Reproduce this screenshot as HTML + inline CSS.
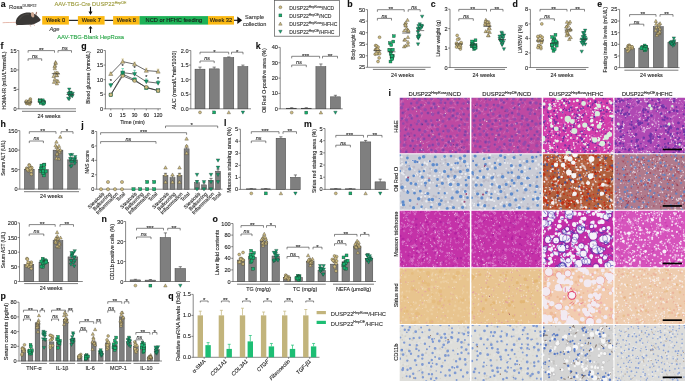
<!DOCTYPE html><html><head><meta charset="utf-8"><style>html,body{margin:0;padding:0;background:#fff;width:685px;height:384px;overflow:hidden}svg{display:block;will-change:transform}text{font-family:"Liberation Sans",sans-serif;stroke:currentColor;stroke-width:0.12px}</style></head><body><svg width="685" height="384" viewBox="0 0 685 384" font-family="Liberation Sans, sans-serif" fill="#262626" color="#262626"><text x="0.8" y="6.6" font-size="8.8" font-weight="bold" fill="#111" color="#111">a</text><text x="9" y="9.3" font-size="5.8" fill="#3a3a3a" color="#3a3a3a">Rosa<tspan dy="-2.2" font-size="3.6">DUSP22</tspan><tspan dy="2.2"></tspan></text><g><path d="M3 22.7 C7 22.3 11 22.7 16.5 22.3" stroke="#E0A898" stroke-width="0.8" fill="none" stroke-linecap="round"/><path d="M16.4 25 C15.2 22.5 15.8 18.5 18.5 16.2 C20.5 14.3 23.5 12.8 26.6 12.6 C28.5 12.5 30 12.6 31.2 13 C32.8 13.4 34.5 13.8 35.6 14.6 C37.6 16 39.6 18.2 40.7 19.8 C40.7 20.6 39.6 21.4 38.2 22 C36.6 23 35 23.9 33.6 24.3 C31.4 24.9 29 24.9 27.5 24.7 C24 24.9 20 25 16.4 25Z" fill="#3A3836"/><path d="M19 20 C21 16 25 14.2 29 14.5" stroke="#55524e" stroke-width="1.3" fill="none" opacity="0.5"/><ellipse cx="32.6" cy="14.7" rx="1.7" ry="2.8" fill="#CCA690" transform="rotate(-10 32.6 14.7)"/><ellipse cx="36.3" cy="13.4" rx="0.7" ry="1.6" fill="#A07870" transform="rotate(15 36.3 13.4)"/><path d="M16.6 24.6 l0.2 0.9 M30 25 l0.6 1.3 M33.6 24.2 l0.8 1.2" stroke="#C89888" stroke-width="0.7" stroke-linecap="round"/><circle cx="38.6" cy="19.5" r="0.45" fill="#6a2a22"/></g><rect x="42.2" y="16.1" width="26.7" height="8.5" fill="#FBB913"/><text x="55.55" y="22.4" font-size="5.7" text-anchor="middle" fill="#1a1a1a" color="#1a1a1a">Week 0</text><rect x="77.9" y="16.1" width="26.7" height="8.5" fill="#FBB913"/><text x="91.25" y="22.4" font-size="5.7" text-anchor="middle" fill="#1a1a1a" color="#1a1a1a">Week 7</text><rect x="113.1" y="16.1" width="26.6" height="8.5" fill="#FBB913"/><text x="126.4" y="22.4" font-size="5.7" text-anchor="middle" fill="#1a1a1a" color="#1a1a1a">Week 8</text><rect x="139.6" y="16.1" width="68.6" height="8.5" fill="#1DB257"/><text x="173.9" y="22.4" font-size="5.7" text-anchor="middle" fill="#1a1a1a" color="#1a1a1a">NCD or HFHC feeding</text><rect x="208" y="16.1" width="26" height="8.5" fill="#FBB913"/><text x="221" y="22.4" font-size="5.7" text-anchor="middle" fill="#1a1a1a" color="#1a1a1a">Week 32</text><path d="M68.9 20.35L77.9 20.35" stroke="#111" stroke-width="1.1" fill="none"/><path d="M104.6 20.35L113.1 20.35" stroke="#111" stroke-width="1.1" fill="none"/><path d="M234 20.3L238 20.3" stroke="#111" stroke-width="1.1" fill="none"/><path d="M237.3 16.6 L242.2 20.3 L237.3 24 Z" fill="#111"/><text x="254.6" y="19.2" font-size="5.6" text-anchor="middle" fill="#333" color="#333">Sample</text><text x="254.6" y="25.6" font-size="5.6" text-anchor="middle" fill="#333" color="#333">collection</text><path d="M90.5 6.8L90.5 12" stroke="#111" stroke-width="1.1" fill="none"/><path d="M88.5 11.4 L92.5 11.4 L90.5 14.9 Z" fill="#111"/><path d="M90.5 27.5L90.5 33" stroke="#111" stroke-width="1.1" fill="none"/><path d="M88.5 28.6 L92.5 28.6 L90.5 25.9 Z" fill="#111"/><text x="54.5" y="6" font-size="5.8" fill="#9C9A3C" color="#9C9A3C">AAV-TBG-Cre DUSP22<tspan dy="-2.2" font-size="3.6">HepOE</tspan><tspan dy="2.2"></tspan></text><text x="57.2" y="38.6" font-size="5.8" fill="#2EA84C" color="#2EA84C">AAV-TBG-Blank HepRosa</text><text x="49.5" y="31.2" font-size="5.6" fill="#333" color="#333" font-style="italic">Age</text><rect x="274.6" y="0.6" width="64.9" height="35.6" fill="none" stroke="#555" stroke-width="0.7"/><circle cx="280.4" cy="7.3" r="1.46" fill="#CDBB80" stroke="#3d3828" stroke-width="0.35"/><text x="289.2" y="9.7" font-size="5.05" fill="#333" color="#333">DUSP22<tspan dy="-1.92" font-size="3.13">HepRosa</tspan><tspan dy="1.92">/NCD</tspan></text><rect x="278.94" y="13.94" width="2.92" height="2.92" fill="#17AE6C" stroke="#1c3a2c" stroke-width="0.35"/><text x="289.2" y="17.8" font-size="5.05" fill="#333" color="#333">DUSP22<tspan dy="-1.92" font-size="3.13">HepOE</tspan><tspan dy="1.92">/NCD</tspan></text><path d="M280.4 22.07L282.13 25.18H278.67Z" fill="#CDBB80" stroke="#3d3828" stroke-width="0.35"/><text x="289.2" y="26.2" font-size="5.05" fill="#333" color="#333">DUSP22<tspan dy="-1.92" font-size="3.13">HepRosa</tspan><tspan dy="1.92">/HFHC</tspan></text><path d="M280.4 33.33L282.13 30.22H278.67Z" fill="#119E6E" stroke="#1c3a2c" stroke-width="0.35"/><text x="289.2" y="34" font-size="5.05" fill="#333" color="#333">DUSP22<tspan dy="-1.92" font-size="3.13">HepOE</tspan><tspan dy="1.92">/HFHC</tspan></text><text x="347.3" y="7" font-size="8.8" font-weight="bold" fill="#111" color="#111">b</text><path d="M367.5 9.6L367.5 67.3" stroke="#555" stroke-width="0.7" fill="none"/><path d="M365.7 67.3L367.5 67.3" stroke="#555" stroke-width="0.7" fill="none"/><text x="365.2" y="69.3" font-size="5.6" text-anchor="end">25</text><path d="M365.7 55.76L367.5 55.76" stroke="#555" stroke-width="0.7" fill="none"/><text x="365.2" y="57.76" font-size="5.6" text-anchor="end">30</text><path d="M365.7 44.22L367.5 44.22" stroke="#555" stroke-width="0.7" fill="none"/><text x="365.2" y="46.22" font-size="5.6" text-anchor="end">35</text><path d="M365.7 32.68L367.5 32.68" stroke="#555" stroke-width="0.7" fill="none"/><text x="365.2" y="34.68" font-size="5.6" text-anchor="end">40</text><path d="M365.7 21.14L367.5 21.14" stroke="#555" stroke-width="0.7" fill="none"/><text x="365.2" y="23.14" font-size="5.6" text-anchor="end">45</text><path d="M365.7 9.6L367.5 9.6" stroke="#555" stroke-width="0.7" fill="none"/><text x="365.2" y="11.6" font-size="5.6" text-anchor="end">50</text><path d="M367.5 67.3L430.7 67.3" stroke="#555" stroke-width="0.7" fill="none"/><text x="355.2" y="43.5" font-size="4.6" text-anchor="middle" transform="rotate(-90 355.2 43.5)">Body weight (g)</text><circle cx="378.01" cy="61.53" r="1.46" fill="#CDBB80" stroke="#3d3828" stroke-width="0.35"/><circle cx="379.55" cy="37.3" r="1.46" fill="#CDBB80" stroke="#3d3828" stroke-width="0.35"/><circle cx="377.77" cy="53.85" r="1.46" fill="#CDBB80" stroke="#3d3828" stroke-width="0.35"/><circle cx="376.9" cy="49.2" r="1.46" fill="#CDBB80" stroke="#3d3828" stroke-width="0.35"/><circle cx="379.69" cy="53.67" r="1.46" fill="#CDBB80" stroke="#3d3828" stroke-width="0.35"/><circle cx="375.22" cy="54.21" r="1.46" fill="#CDBB80" stroke="#3d3828" stroke-width="0.35"/><circle cx="379.12" cy="57.93" r="1.46" fill="#CDBB80" stroke="#3d3828" stroke-width="0.35"/><circle cx="376.39" cy="53.59" r="1.46" fill="#CDBB80" stroke="#3d3828" stroke-width="0.35"/><circle cx="375.69" cy="45.56" r="1.46" fill="#CDBB80" stroke="#3d3828" stroke-width="0.35"/><circle cx="375.57" cy="49.73" r="1.46" fill="#CDBB80" stroke="#3d3828" stroke-width="0.35"/><circle cx="376.48" cy="46.02" r="1.46" fill="#CDBB80" stroke="#3d3828" stroke-width="0.35"/><circle cx="378.92" cy="50.79" r="1.46" fill="#CDBB80" stroke="#3d3828" stroke-width="0.35"/><circle cx="375.87" cy="49.91" r="1.46" fill="#CDBB80" stroke="#3d3828" stroke-width="0.35"/><circle cx="377.79" cy="51.18" r="1.46" fill="#CDBB80" stroke="#3d3828" stroke-width="0.35"/><circle cx="378.07" cy="47.12" r="1.46" fill="#CDBB80" stroke="#3d3828" stroke-width="0.35"/><circle cx="376.79" cy="49.23" r="1.46" fill="#CDBB80" stroke="#3d3828" stroke-width="0.35"/><circle cx="377.63" cy="49.28" r="1.46" fill="#CDBB80" stroke="#3d3828" stroke-width="0.35"/><path d="M373.4 50.59L381.4 50.59" stroke="#333" stroke-width="0.6" fill="none"/><rect x="389.02" y="60.07" width="2.92" height="2.92" fill="#17AE6C" stroke="#1c3a2c" stroke-width="0.35"/><rect x="392.35" y="34.68" width="2.92" height="2.92" fill="#17AE6C" stroke="#1c3a2c" stroke-width="0.35"/><rect x="388.21" y="48.79" width="2.92" height="2.92" fill="#17AE6C" stroke="#1c3a2c" stroke-width="0.35"/><rect x="389.65" y="49.98" width="2.92" height="2.92" fill="#17AE6C" stroke="#1c3a2c" stroke-width="0.35"/><rect x="391.28" y="48.22" width="2.92" height="2.92" fill="#17AE6C" stroke="#1c3a2c" stroke-width="0.35"/><rect x="388.37" y="41.62" width="2.92" height="2.92" fill="#17AE6C" stroke="#1c3a2c" stroke-width="0.35"/><rect x="389.99" y="55.79" width="2.92" height="2.92" fill="#17AE6C" stroke="#1c3a2c" stroke-width="0.35"/><rect x="387.83" y="48.42" width="2.92" height="2.92" fill="#17AE6C" stroke="#1c3a2c" stroke-width="0.35"/><rect x="390.85" y="56.83" width="2.92" height="2.92" fill="#17AE6C" stroke="#1c3a2c" stroke-width="0.35"/><rect x="391.31" y="54.41" width="2.92" height="2.92" fill="#17AE6C" stroke="#1c3a2c" stroke-width="0.35"/><rect x="390.39" y="54.31" width="2.92" height="2.92" fill="#17AE6C" stroke="#1c3a2c" stroke-width="0.35"/><rect x="391.84" y="40.1" width="2.92" height="2.92" fill="#17AE6C" stroke="#1c3a2c" stroke-width="0.35"/><rect x="389.15" y="52.34" width="2.92" height="2.92" fill="#17AE6C" stroke="#1c3a2c" stroke-width="0.35"/><rect x="390.98" y="55.35" width="2.92" height="2.92" fill="#17AE6C" stroke="#1c3a2c" stroke-width="0.35"/><rect x="390.49" y="57.76" width="2.92" height="2.92" fill="#17AE6C" stroke="#1c3a2c" stroke-width="0.35"/><rect x="390.43" y="54.33" width="2.92" height="2.92" fill="#17AE6C" stroke="#1c3a2c" stroke-width="0.35"/><rect x="389.83" y="43.58" width="2.92" height="2.92" fill="#17AE6C" stroke="#1c3a2c" stroke-width="0.35"/><path d="M387.5 51.84L395.5 51.84" stroke="#333" stroke-width="0.6" fill="none"/><path d="M404.08 44.8L405.81 47.91H402.35Z" fill="#CDBB80" stroke="#3d3828" stroke-width="0.35"/><path d="M407.49 18.26L409.22 21.37H405.76Z" fill="#CDBB80" stroke="#3d3828" stroke-width="0.35"/><path d="M404.42 38.07L406.15 41.18H402.69Z" fill="#CDBB80" stroke="#3d3828" stroke-width="0.35"/><path d="M404.99 21.94L406.72 25.05H403.26Z" fill="#CDBB80" stroke="#3d3828" stroke-width="0.35"/><path d="M405.68 43.97L407.4 47.08H403.95Z" fill="#CDBB80" stroke="#3d3828" stroke-width="0.35"/><path d="M407.98 40.16L409.71 43.27H406.25Z" fill="#CDBB80" stroke="#3d3828" stroke-width="0.35"/><path d="M404.19 28.9L405.91 32.01H402.46Z" fill="#CDBB80" stroke="#3d3828" stroke-width="0.35"/><path d="M405.96 20.91L407.68 24.02H404.23Z" fill="#CDBB80" stroke="#3d3828" stroke-width="0.35"/><path d="M406.44 26.65L408.17 29.76H404.71Z" fill="#CDBB80" stroke="#3d3828" stroke-width="0.35"/><path d="M408.04 43.1L409.77 46.21H406.31Z" fill="#CDBB80" stroke="#3d3828" stroke-width="0.35"/><path d="M407.73 28.12L409.46 31.23H406Z" fill="#CDBB80" stroke="#3d3828" stroke-width="0.35"/><path d="M407.95 35.38L409.68 38.49H406.22Z" fill="#CDBB80" stroke="#3d3828" stroke-width="0.35"/><path d="M405.14 37.92L406.86 41.03H403.41Z" fill="#CDBB80" stroke="#3d3828" stroke-width="0.35"/><path d="M405.79 24.01L407.52 27.12H404.07Z" fill="#CDBB80" stroke="#3d3828" stroke-width="0.35"/><path d="M405.52 23.18L407.25 26.29H403.79Z" fill="#CDBB80" stroke="#3d3828" stroke-width="0.35"/><path d="M408.04 29.45L409.77 32.56H406.32Z" fill="#CDBB80" stroke="#3d3828" stroke-width="0.35"/><path d="M408.4 28.86L410.13 31.97H406.67Z" fill="#CDBB80" stroke="#3d3828" stroke-width="0.35"/><path d="M402.2 33.12L410.2 33.12" stroke="#333" stroke-width="0.6" fill="none"/><path d="M418.06 45.95L419.79 42.84H416.33Z" fill="#119E6E" stroke="#1c3a2c" stroke-width="0.35"/><path d="M422.12 18.25L423.85 15.14H420.39Z" fill="#119E6E" stroke="#1c3a2c" stroke-width="0.35"/><path d="M421.54 27.94L423.27 24.83H419.82Z" fill="#119E6E" stroke="#1c3a2c" stroke-width="0.35"/><path d="M422 28.43L423.73 25.32H420.27Z" fill="#119E6E" stroke="#1c3a2c" stroke-width="0.35"/><path d="M421.63 27.44L423.36 24.33H419.9Z" fill="#119E6E" stroke="#1c3a2c" stroke-width="0.35"/><path d="M419.68 30.38L421.41 27.26H417.96Z" fill="#119E6E" stroke="#1c3a2c" stroke-width="0.35"/><path d="M419.72 25.93L421.44 22.82H417.99Z" fill="#119E6E" stroke="#1c3a2c" stroke-width="0.35"/><path d="M418.3 40.14L420.02 37.03H416.57Z" fill="#119E6E" stroke="#1c3a2c" stroke-width="0.35"/><path d="M420.84 30.07L422.57 26.96H419.12Z" fill="#119E6E" stroke="#1c3a2c" stroke-width="0.35"/><path d="M418.1 31L419.83 27.89H416.37Z" fill="#119E6E" stroke="#1c3a2c" stroke-width="0.35"/><path d="M418.12 30.32L419.85 27.21H416.4Z" fill="#119E6E" stroke="#1c3a2c" stroke-width="0.35"/><path d="M418.8 36.75L420.53 33.64H417.07Z" fill="#119E6E" stroke="#1c3a2c" stroke-width="0.35"/><path d="M418.58 27.71L420.31 24.59H416.85Z" fill="#119E6E" stroke="#1c3a2c" stroke-width="0.35"/><path d="M419.43 37.88L421.16 34.77H417.7Z" fill="#119E6E" stroke="#1c3a2c" stroke-width="0.35"/><path d="M418.05 33.99L419.78 30.88H416.32Z" fill="#119E6E" stroke="#1c3a2c" stroke-width="0.35"/><path d="M417.8 38.71L419.53 35.6H416.07Z" fill="#119E6E" stroke="#1c3a2c" stroke-width="0.35"/><path d="M418.53 38.63L420.25 35.52H416.8Z" fill="#119E6E" stroke="#1c3a2c" stroke-width="0.35"/><path d="M416.2 30.6L424.2 30.6" stroke="#333" stroke-width="0.6" fill="none"/><path d="M377.4 11.8V9.7H404.2V11.8" stroke="#444" stroke-width="0.65" fill="none"/><text x="390.8" y="11.1" font-size="6.1" text-anchor="middle">**</text><path d="M408.2 11.8V9.7H420.2V11.8" stroke="#444" stroke-width="0.65" fill="none"/><text x="414.2" y="9" font-size="5.5" text-anchor="middle" font-style="italic">ns</text><path d="M377.4 20.5V18.4H391.5V20.5" stroke="#444" stroke-width="0.65" fill="none"/><text x="384.45" y="17.7" font-size="5.5" text-anchor="middle" font-style="italic">ns</text><path d="M372.9 69.4L425.4 69.4" stroke="#555" stroke-width="0.8" fill="none"/><text x="402.5" y="76.6" font-size="5.4" text-anchor="middle">24 weeks</text><text x="430.8" y="7" font-size="8.8" font-weight="bold" fill="#111" color="#111">c</text><path d="M450 9.2L450 67.8" stroke="#555" stroke-width="0.7" fill="none"/><path d="M448.2 67.5L450 67.5" stroke="#555" stroke-width="0.7" fill="none"/><text x="447.7" y="69.5" font-size="5.6" text-anchor="end">0</text><path d="M448.2 48.07L450 48.07" stroke="#555" stroke-width="0.7" fill="none"/><text x="447.7" y="50.07" font-size="5.6" text-anchor="end">1</text><path d="M448.2 28.63L450 28.63" stroke="#555" stroke-width="0.7" fill="none"/><text x="447.7" y="30.63" font-size="5.6" text-anchor="end">2</text><path d="M448.2 9.2L450 9.2" stroke="#555" stroke-width="0.7" fill="none"/><text x="447.7" y="11.2" font-size="5.6" text-anchor="end">3</text><path d="M450 67.5L507 67.5" stroke="#555" stroke-width="0.7" fill="none"/><text x="439.8" y="38.3" font-size="5.4" text-anchor="middle" transform="rotate(-90 439.8 38.3)">Liver weight (g)</text><circle cx="460.38" cy="49.04" r="1.46" fill="#CDBB80" stroke="#3d3828" stroke-width="0.35"/><circle cx="457.17" cy="35.44" r="1.46" fill="#CDBB80" stroke="#3d3828" stroke-width="0.35"/><circle cx="456.51" cy="43.14" r="1.46" fill="#CDBB80" stroke="#3d3828" stroke-width="0.35"/><circle cx="460.96" cy="43.81" r="1.46" fill="#CDBB80" stroke="#3d3828" stroke-width="0.35"/><circle cx="458.94" cy="38.9" r="1.46" fill="#CDBB80" stroke="#3d3828" stroke-width="0.35"/><circle cx="457.1" cy="44.63" r="1.46" fill="#CDBB80" stroke="#3d3828" stroke-width="0.35"/><circle cx="459.01" cy="47.19" r="1.46" fill="#CDBB80" stroke="#3d3828" stroke-width="0.35"/><circle cx="456.53" cy="47" r="1.46" fill="#CDBB80" stroke="#3d3828" stroke-width="0.35"/><circle cx="458.93" cy="45.78" r="1.46" fill="#CDBB80" stroke="#3d3828" stroke-width="0.35"/><circle cx="461.1" cy="42.59" r="1.46" fill="#CDBB80" stroke="#3d3828" stroke-width="0.35"/><circle cx="460.54" cy="46.88" r="1.46" fill="#CDBB80" stroke="#3d3828" stroke-width="0.35"/><circle cx="459.74" cy="44.42" r="1.46" fill="#CDBB80" stroke="#3d3828" stroke-width="0.35"/><circle cx="457.65" cy="39.49" r="1.46" fill="#CDBB80" stroke="#3d3828" stroke-width="0.35"/><circle cx="458.16" cy="44.91" r="1.46" fill="#CDBB80" stroke="#3d3828" stroke-width="0.35"/><circle cx="457.2" cy="44.38" r="1.46" fill="#CDBB80" stroke="#3d3828" stroke-width="0.35"/><circle cx="460.11" cy="44.92" r="1.46" fill="#CDBB80" stroke="#3d3828" stroke-width="0.35"/><circle cx="458.96" cy="47.2" r="1.46" fill="#CDBB80" stroke="#3d3828" stroke-width="0.35"/><path d="M454.8 44.1L462.8 44.1" stroke="#333" stroke-width="0.6" fill="none"/><rect x="472.77" y="47.58" width="2.92" height="2.92" fill="#17AE6C" stroke="#1c3a2c" stroke-width="0.35"/><rect x="474.03" y="38.84" width="2.92" height="2.92" fill="#17AE6C" stroke="#1c3a2c" stroke-width="0.35"/><rect x="471.59" y="42.84" width="2.92" height="2.92" fill="#17AE6C" stroke="#1c3a2c" stroke-width="0.35"/><rect x="473.94" y="43.92" width="2.92" height="2.92" fill="#17AE6C" stroke="#1c3a2c" stroke-width="0.35"/><rect x="474.18" y="46.2" width="2.92" height="2.92" fill="#17AE6C" stroke="#1c3a2c" stroke-width="0.35"/><rect x="474.03" y="43.6" width="2.92" height="2.92" fill="#17AE6C" stroke="#1c3a2c" stroke-width="0.35"/><rect x="471.19" y="40.34" width="2.92" height="2.92" fill="#17AE6C" stroke="#1c3a2c" stroke-width="0.35"/><rect x="470.5" y="40.02" width="2.92" height="2.92" fill="#17AE6C" stroke="#1c3a2c" stroke-width="0.35"/><rect x="470.53" y="44.68" width="2.92" height="2.92" fill="#17AE6C" stroke="#1c3a2c" stroke-width="0.35"/><rect x="470.39" y="42.88" width="2.92" height="2.92" fill="#17AE6C" stroke="#1c3a2c" stroke-width="0.35"/><rect x="470.42" y="44.38" width="2.92" height="2.92" fill="#17AE6C" stroke="#1c3a2c" stroke-width="0.35"/><rect x="472.44" y="45.84" width="2.92" height="2.92" fill="#17AE6C" stroke="#1c3a2c" stroke-width="0.35"/><rect x="473.76" y="46.31" width="2.92" height="2.92" fill="#17AE6C" stroke="#1c3a2c" stroke-width="0.35"/><rect x="473.48" y="44.5" width="2.92" height="2.92" fill="#17AE6C" stroke="#1c3a2c" stroke-width="0.35"/><rect x="471.74" y="43.76" width="2.92" height="2.92" fill="#17AE6C" stroke="#1c3a2c" stroke-width="0.35"/><rect x="472.58" y="44.18" width="2.92" height="2.92" fill="#17AE6C" stroke="#1c3a2c" stroke-width="0.35"/><rect x="473.28" y="44.59" width="2.92" height="2.92" fill="#17AE6C" stroke="#1c3a2c" stroke-width="0.35"/><path d="M469.3 45.25L477.3 45.25" stroke="#333" stroke-width="0.6" fill="none"/><path d="M488.48 33.71L490.21 36.82H486.75Z" fill="#CDBB80" stroke="#3d3828" stroke-width="0.35"/><path d="M485.82 18.16L487.54 21.27H484.09Z" fill="#CDBB80" stroke="#3d3828" stroke-width="0.35"/><path d="M485.61 22.97L487.34 26.08H483.88Z" fill="#CDBB80" stroke="#3d3828" stroke-width="0.35"/><path d="M485.73 21.01L487.45 24.12H484Z" fill="#CDBB80" stroke="#3d3828" stroke-width="0.35"/><path d="M489.34 23.03L491.07 26.14H487.62Z" fill="#CDBB80" stroke="#3d3828" stroke-width="0.35"/><path d="M488.87 20.21L490.6 23.32H487.14Z" fill="#CDBB80" stroke="#3d3828" stroke-width="0.35"/><path d="M485.7 29.58L487.43 32.69H483.97Z" fill="#CDBB80" stroke="#3d3828" stroke-width="0.35"/><path d="M488.97 25.93L490.7 29.04H487.24Z" fill="#CDBB80" stroke="#3d3828" stroke-width="0.35"/><path d="M489.71 30.37L491.43 33.48H487.98Z" fill="#CDBB80" stroke="#3d3828" stroke-width="0.35"/><path d="M488.15 22.96L489.88 26.07H486.43Z" fill="#CDBB80" stroke="#3d3828" stroke-width="0.35"/><path d="M486.68 19.76L488.41 22.87H484.95Z" fill="#CDBB80" stroke="#3d3828" stroke-width="0.35"/><path d="M487.63 29.39L489.36 32.5H485.91Z" fill="#CDBB80" stroke="#3d3828" stroke-width="0.35"/><path d="M485.63 19.87L487.36 22.98H483.9Z" fill="#CDBB80" stroke="#3d3828" stroke-width="0.35"/><path d="M485.07 22.09L486.8 25.2H483.34Z" fill="#CDBB80" stroke="#3d3828" stroke-width="0.35"/><path d="M489.66 26.62L491.39 29.74H487.93Z" fill="#CDBB80" stroke="#3d3828" stroke-width="0.35"/><path d="M488.12 33.6L489.85 36.71H486.39Z" fill="#CDBB80" stroke="#3d3828" stroke-width="0.35"/><path d="M487.53 20.47L489.26 23.58H485.8Z" fill="#CDBB80" stroke="#3d3828" stroke-width="0.35"/><path d="M483.4 26.42L491.4 26.42" stroke="#333" stroke-width="0.6" fill="none"/><path d="M503.94 50.77L505.67 47.66H502.21Z" fill="#119E6E" stroke="#1c3a2c" stroke-width="0.35"/><path d="M501.62 34.25L503.35 31.14H499.89Z" fill="#119E6E" stroke="#1c3a2c" stroke-width="0.35"/><path d="M504.01 37.02L505.73 33.91H502.28Z" fill="#119E6E" stroke="#1c3a2c" stroke-width="0.35"/><path d="M502.01 42.83L503.74 39.72H500.28Z" fill="#119E6E" stroke="#1c3a2c" stroke-width="0.35"/><path d="M502.15 35.7L503.88 32.59H500.42Z" fill="#119E6E" stroke="#1c3a2c" stroke-width="0.35"/><path d="M502.11 46.62L503.84 43.51H500.38Z" fill="#119E6E" stroke="#1c3a2c" stroke-width="0.35"/><path d="M499.69 40.29L501.42 37.18H497.96Z" fill="#119E6E" stroke="#1c3a2c" stroke-width="0.35"/><path d="M501.71 38L503.44 34.89H499.98Z" fill="#119E6E" stroke="#1c3a2c" stroke-width="0.35"/><path d="M500.48 41.87L502.21 38.76H498.75Z" fill="#119E6E" stroke="#1c3a2c" stroke-width="0.35"/><path d="M499.62 38.1L501.35 34.99H497.89Z" fill="#119E6E" stroke="#1c3a2c" stroke-width="0.35"/><path d="M503.44 43.79L505.16 40.68H501.71Z" fill="#119E6E" stroke="#1c3a2c" stroke-width="0.35"/><path d="M500.43 42.7L502.16 39.59H498.7Z" fill="#119E6E" stroke="#1c3a2c" stroke-width="0.35"/><path d="M501.87 42.96L503.6 39.85H500.14Z" fill="#119E6E" stroke="#1c3a2c" stroke-width="0.35"/><path d="M503.08 39.98L504.81 36.87H501.35Z" fill="#119E6E" stroke="#1c3a2c" stroke-width="0.35"/><path d="M502.27 37.79L504 34.68H500.54Z" fill="#119E6E" stroke="#1c3a2c" stroke-width="0.35"/><path d="M501.16 43.12L502.89 40.01H499.44Z" fill="#119E6E" stroke="#1c3a2c" stroke-width="0.35"/><path d="M502.09 46.33L503.82 43.22H500.36Z" fill="#119E6E" stroke="#1c3a2c" stroke-width="0.35"/><path d="M498 39.57L506 39.57" stroke="#333" stroke-width="0.6" fill="none"/><path d="M458.8 11.5V9.4H486.5V11.5" stroke="#444" stroke-width="0.65" fill="none"/><text x="472.65" y="10.8" font-size="6.1" text-anchor="middle">**</text><path d="M490.5 11.5V9.4H503V11.5" stroke="#444" stroke-width="0.65" fill="none"/><text x="496.75" y="10.8" font-size="6.1" text-anchor="middle">**</text><path d="M458.8 20.8V18.7H473.3V20.8" stroke="#444" stroke-width="0.65" fill="none"/><text x="466.05" y="18" font-size="5.5" text-anchor="middle" font-style="italic">ns</text><path d="M454.5 69.4L505 69.4" stroke="#555" stroke-width="0.8" fill="none"/><text x="483.9" y="76.6" font-size="5.4" text-anchor="middle">24 weeks</text><text x="512.4" y="7" font-size="8.8" font-weight="bold" fill="#111" color="#111">d</text><path d="M530.4 9.4L530.4 67.8" stroke="#555" stroke-width="0.7" fill="none"/><path d="M528.6 67.5L530.4 67.5" stroke="#555" stroke-width="0.7" fill="none"/><text x="528.1" y="69.5" font-size="5.6" text-anchor="end">0</text><path d="M528.6 52.98L530.4 52.98" stroke="#555" stroke-width="0.7" fill="none"/><text x="528.1" y="54.98" font-size="5.6" text-anchor="end">2</text><path d="M528.6 38.45L530.4 38.45" stroke="#555" stroke-width="0.7" fill="none"/><text x="528.1" y="40.45" font-size="5.6" text-anchor="end">4</text><path d="M528.6 23.92L530.4 23.92" stroke="#555" stroke-width="0.7" fill="none"/><text x="528.1" y="25.92" font-size="5.6" text-anchor="end">6</text><path d="M528.6 9.4L530.4 9.4" stroke="#555" stroke-width="0.7" fill="none"/><text x="528.1" y="11.4" font-size="5.6" text-anchor="end">8</text><path d="M530.4 67.5L588.5 67.5" stroke="#555" stroke-width="0.7" fill="none"/><text x="521.8" y="38.9" font-size="5.6" text-anchor="middle" transform="rotate(-90 521.8 38.9)">LW/BW (%)</text><circle cx="540.96" cy="48.62" r="1.46" fill="#CDBB80" stroke="#3d3828" stroke-width="0.35"/><circle cx="541.81" cy="23.92" r="1.46" fill="#CDBB80" stroke="#3d3828" stroke-width="0.35"/><circle cx="542.12" cy="39.96" r="1.46" fill="#CDBB80" stroke="#3d3828" stroke-width="0.35"/><circle cx="538.85" cy="45.77" r="1.46" fill="#CDBB80" stroke="#3d3828" stroke-width="0.35"/><circle cx="540.29" cy="35.86" r="1.46" fill="#CDBB80" stroke="#3d3828" stroke-width="0.35"/><circle cx="542.13" cy="37.19" r="1.46" fill="#CDBB80" stroke="#3d3828" stroke-width="0.35"/><circle cx="541.63" cy="42.03" r="1.46" fill="#CDBB80" stroke="#3d3828" stroke-width="0.35"/><circle cx="538.26" cy="37.11" r="1.46" fill="#CDBB80" stroke="#3d3828" stroke-width="0.35"/><circle cx="538.18" cy="41.06" r="1.46" fill="#CDBB80" stroke="#3d3828" stroke-width="0.35"/><circle cx="539.72" cy="46.03" r="1.46" fill="#CDBB80" stroke="#3d3828" stroke-width="0.35"/><circle cx="537.95" cy="36.39" r="1.46" fill="#CDBB80" stroke="#3d3828" stroke-width="0.35"/><circle cx="538.76" cy="45.57" r="1.46" fill="#CDBB80" stroke="#3d3828" stroke-width="0.35"/><circle cx="537.95" cy="47.65" r="1.46" fill="#CDBB80" stroke="#3d3828" stroke-width="0.35"/><circle cx="540.81" cy="46.84" r="1.46" fill="#CDBB80" stroke="#3d3828" stroke-width="0.35"/><circle cx="541.36" cy="42.81" r="1.46" fill="#CDBB80" stroke="#3d3828" stroke-width="0.35"/><circle cx="541.91" cy="39.83" r="1.46" fill="#CDBB80" stroke="#3d3828" stroke-width="0.35"/><circle cx="538.34" cy="40.06" r="1.46" fill="#CDBB80" stroke="#3d3828" stroke-width="0.35"/><path d="M536 40.98L544 40.98" stroke="#333" stroke-width="0.6" fill="none"/><rect x="552.07" y="49.34" width="2.92" height="2.92" fill="#17AE6C" stroke="#1c3a2c" stroke-width="0.35"/><rect x="554.01" y="33.36" width="2.92" height="2.92" fill="#17AE6C" stroke="#1c3a2c" stroke-width="0.35"/><rect x="550.64" y="43.32" width="2.92" height="2.92" fill="#17AE6C" stroke="#1c3a2c" stroke-width="0.35"/><rect x="553.2" y="47.81" width="2.92" height="2.92" fill="#17AE6C" stroke="#1c3a2c" stroke-width="0.35"/><rect x="552.66" y="36.92" width="2.92" height="2.92" fill="#17AE6C" stroke="#1c3a2c" stroke-width="0.35"/><rect x="550.63" y="35.6" width="2.92" height="2.92" fill="#17AE6C" stroke="#1c3a2c" stroke-width="0.35"/><rect x="552.13" y="39.32" width="2.92" height="2.92" fill="#17AE6C" stroke="#1c3a2c" stroke-width="0.35"/><rect x="553.54" y="42.65" width="2.92" height="2.92" fill="#17AE6C" stroke="#1c3a2c" stroke-width="0.35"/><rect x="553" y="38.23" width="2.92" height="2.92" fill="#17AE6C" stroke="#1c3a2c" stroke-width="0.35"/><rect x="550.85" y="43.26" width="2.92" height="2.92" fill="#17AE6C" stroke="#1c3a2c" stroke-width="0.35"/><rect x="555.27" y="41.11" width="2.92" height="2.92" fill="#17AE6C" stroke="#1c3a2c" stroke-width="0.35"/><rect x="554.33" y="40.9" width="2.92" height="2.92" fill="#17AE6C" stroke="#1c3a2c" stroke-width="0.35"/><rect x="555.21" y="44.14" width="2.92" height="2.92" fill="#17AE6C" stroke="#1c3a2c" stroke-width="0.35"/><rect x="551.04" y="46.45" width="2.92" height="2.92" fill="#17AE6C" stroke="#1c3a2c" stroke-width="0.35"/><rect x="551.82" y="40.07" width="2.92" height="2.92" fill="#17AE6C" stroke="#1c3a2c" stroke-width="0.35"/><rect x="550.73" y="43.48" width="2.92" height="2.92" fill="#17AE6C" stroke="#1c3a2c" stroke-width="0.35"/><rect x="554.28" y="39.84" width="2.92" height="2.92" fill="#17AE6C" stroke="#1c3a2c" stroke-width="0.35"/><path d="M550.4 42.97L558.4 42.97" stroke="#333" stroke-width="0.6" fill="none"/><path d="M569.25 37.45L570.97 40.56H567.52Z" fill="#CDBB80" stroke="#3d3828" stroke-width="0.35"/><path d="M570.05 20.02L571.78 23.13H568.32Z" fill="#CDBB80" stroke="#3d3828" stroke-width="0.35"/><path d="M566.6 29.75L568.33 32.86H564.87Z" fill="#CDBB80" stroke="#3d3828" stroke-width="0.35"/><path d="M570.31 27.18L572.04 30.29H568.58Z" fill="#CDBB80" stroke="#3d3828" stroke-width="0.35"/><path d="M566.52 24.96L568.25 28.07H564.79Z" fill="#CDBB80" stroke="#3d3828" stroke-width="0.35"/><path d="M570.34 28.04L572.07 31.15H568.61Z" fill="#CDBB80" stroke="#3d3828" stroke-width="0.35"/><path d="M568.38 32.52L570.11 35.63H566.65Z" fill="#CDBB80" stroke="#3d3828" stroke-width="0.35"/><path d="M567.83 23.68L569.56 26.79H566.1Z" fill="#CDBB80" stroke="#3d3828" stroke-width="0.35"/><path d="M568.85 21.58L570.58 24.69H567.13Z" fill="#CDBB80" stroke="#3d3828" stroke-width="0.35"/><path d="M570.65 35.57L572.38 38.68H568.92Z" fill="#CDBB80" stroke="#3d3828" stroke-width="0.35"/><path d="M567.49 32.36L569.21 35.47H565.76Z" fill="#CDBB80" stroke="#3d3828" stroke-width="0.35"/><path d="M566.82 28.19L568.55 31.3H565.09Z" fill="#CDBB80" stroke="#3d3828" stroke-width="0.35"/><path d="M568.73 28.66L570.46 31.77H567Z" fill="#CDBB80" stroke="#3d3828" stroke-width="0.35"/><path d="M567.34 31.2L569.07 34.31H565.62Z" fill="#CDBB80" stroke="#3d3828" stroke-width="0.35"/><path d="M566.73 33.7L568.45 36.82H565Z" fill="#CDBB80" stroke="#3d3828" stroke-width="0.35"/><path d="M566.97 20.22L568.7 23.33H565.25Z" fill="#CDBB80" stroke="#3d3828" stroke-width="0.35"/><path d="M566.44 24.94L568.17 28.05H564.71Z" fill="#CDBB80" stroke="#3d3828" stroke-width="0.35"/><path d="M564.6 29.96L572.6 29.96" stroke="#333" stroke-width="0.6" fill="none"/><path d="M581.71 53.25L583.44 50.14H579.98Z" fill="#119E6E" stroke="#1c3a2c" stroke-width="0.35"/><path d="M585.13 32.19L586.86 29.08H583.4Z" fill="#119E6E" stroke="#1c3a2c" stroke-width="0.35"/><path d="M583.27 41.72L585 38.61H581.55Z" fill="#119E6E" stroke="#1c3a2c" stroke-width="0.35"/><path d="M583.58 38.74L585.3 35.63H581.85Z" fill="#119E6E" stroke="#1c3a2c" stroke-width="0.35"/><path d="M585.21 46.09L586.93 42.98H583.48Z" fill="#119E6E" stroke="#1c3a2c" stroke-width="0.35"/><path d="M583.09 34.72L584.81 31.61H581.36Z" fill="#119E6E" stroke="#1c3a2c" stroke-width="0.35"/><path d="M583.63 44.62L585.36 41.51H581.9Z" fill="#119E6E" stroke="#1c3a2c" stroke-width="0.35"/><path d="M584.5 37.08L586.23 33.97H582.77Z" fill="#119E6E" stroke="#1c3a2c" stroke-width="0.35"/><path d="M585.92 40.96L587.64 37.84H584.19Z" fill="#119E6E" stroke="#1c3a2c" stroke-width="0.35"/><path d="M582.84 38.71L584.57 35.6H581.12Z" fill="#119E6E" stroke="#1c3a2c" stroke-width="0.35"/><path d="M585.19 39.11L586.92 36H583.47Z" fill="#119E6E" stroke="#1c3a2c" stroke-width="0.35"/><path d="M584.59 42.63L586.32 39.52H582.86Z" fill="#119E6E" stroke="#1c3a2c" stroke-width="0.35"/><path d="M584.25 34.57L585.98 31.45H582.52Z" fill="#119E6E" stroke="#1c3a2c" stroke-width="0.35"/><path d="M583.14 42.26L584.87 39.15H581.41Z" fill="#119E6E" stroke="#1c3a2c" stroke-width="0.35"/><path d="M582.87 46.32L584.6 43.21H581.14Z" fill="#119E6E" stroke="#1c3a2c" stroke-width="0.35"/><path d="M581.46 44.16L583.19 41.05H579.73Z" fill="#119E6E" stroke="#1c3a2c" stroke-width="0.35"/><path d="M581.82 41.14L583.55 38.03H580.1Z" fill="#119E6E" stroke="#1c3a2c" stroke-width="0.35"/><path d="M579.6 39.35L587.6 39.35" stroke="#333" stroke-width="0.6" fill="none"/><path d="M540 11.5V9.4H567V11.5" stroke="#444" stroke-width="0.65" fill="none"/><text x="553.5" y="10.8" font-size="6.1" text-anchor="middle">**</text><path d="M570.5 11.5V9.4H584.5V11.5" stroke="#444" stroke-width="0.65" fill="none"/><text x="577.5" y="10.8" font-size="6.1" text-anchor="middle">**</text><path d="M540 20.9V18.8H554.4V20.9" stroke="#444" stroke-width="0.65" fill="none"/><text x="547.2" y="18.1" font-size="5.5" text-anchor="middle" font-style="italic">ns</text><path d="M536 69.4L586 69.4" stroke="#555" stroke-width="0.8" fill="none"/><text x="562" y="76.6" font-size="5.4" text-anchor="middle">24 weeks</text><text x="597.3" y="7" font-size="8.8" font-weight="bold" fill="#111" color="#111">e</text><path d="M619.6 9.4L619.6 67.9" stroke="#555" stroke-width="0.7" fill="none"/><path d="M617.8 67.6L619.6 67.6" stroke="#555" stroke-width="0.7" fill="none"/><text x="617.3" y="69.6" font-size="5.6" text-anchor="end">0</text><path d="M617.8 55.96L619.6 55.96" stroke="#555" stroke-width="0.7" fill="none"/><text x="617.3" y="57.96" font-size="5.6" text-anchor="end">5</text><path d="M617.8 44.32L619.6 44.32" stroke="#555" stroke-width="0.7" fill="none"/><text x="617.3" y="46.32" font-size="5.6" text-anchor="end">10</text><path d="M617.8 32.68L619.6 32.68" stroke="#555" stroke-width="0.7" fill="none"/><text x="617.3" y="34.68" font-size="5.6" text-anchor="end">15</text><path d="M617.8 21.04L619.6 21.04" stroke="#555" stroke-width="0.7" fill="none"/><text x="617.3" y="23.04" font-size="5.6" text-anchor="end">20</text><path d="M617.8 9.4L619.6 9.4" stroke="#555" stroke-width="0.7" fill="none"/><text x="617.3" y="11.4" font-size="5.6" text-anchor="end">25</text><path d="M619.6 67.6L679.5 67.6" stroke="#555" stroke-width="0.7" fill="none"/><text x="607" y="39.8" font-size="5.1" text-anchor="middle" transform="rotate(-90 607 39.8)">Fasting insulin levels (mIU/L)</text><rect x="624.6" y="48.28" width="10" height="19.32" fill="#7f7f7f" stroke="#3a3a3a" stroke-width="0.45"/><circle cx="627.82" cy="51.3" r="1.46" fill="#CDBB80" stroke="#3d3828" stroke-width="0.35"/><circle cx="629.32" cy="45.25" r="1.46" fill="#CDBB80" stroke="#3d3828" stroke-width="0.35"/><circle cx="628.37" cy="46.03" r="1.46" fill="#CDBB80" stroke="#3d3828" stroke-width="0.35"/><circle cx="632" cy="47.21" r="1.46" fill="#CDBB80" stroke="#3d3828" stroke-width="0.35"/><circle cx="632.06" cy="48.31" r="1.46" fill="#CDBB80" stroke="#3d3828" stroke-width="0.35"/><circle cx="629.84" cy="47.37" r="1.46" fill="#CDBB80" stroke="#3d3828" stroke-width="0.35"/><circle cx="628.27" cy="45.77" r="1.46" fill="#CDBB80" stroke="#3d3828" stroke-width="0.35"/><circle cx="632.02" cy="46.81" r="1.46" fill="#CDBB80" stroke="#3d3828" stroke-width="0.35"/><circle cx="628.61" cy="46.73" r="1.46" fill="#CDBB80" stroke="#3d3828" stroke-width="0.35"/><circle cx="628.85" cy="49.92" r="1.46" fill="#CDBB80" stroke="#3d3828" stroke-width="0.35"/><circle cx="627.01" cy="48.5" r="1.46" fill="#CDBB80" stroke="#3d3828" stroke-width="0.35"/><circle cx="628.98" cy="47.17" r="1.46" fill="#CDBB80" stroke="#3d3828" stroke-width="0.35"/><circle cx="629.47" cy="48.73" r="1.46" fill="#CDBB80" stroke="#3d3828" stroke-width="0.35"/><circle cx="629.61" cy="46.66" r="1.46" fill="#CDBB80" stroke="#3d3828" stroke-width="0.35"/><rect x="638.8" y="48.04" width="10" height="19.56" fill="#7f7f7f" stroke="#3a3a3a" stroke-width="0.45"/><rect x="643.64" y="48.91" width="2.92" height="2.92" fill="#17AE6C" stroke="#1c3a2c" stroke-width="0.35"/><rect x="643.16" y="44.03" width="2.92" height="2.92" fill="#17AE6C" stroke="#1c3a2c" stroke-width="0.35"/><rect x="643.47" y="46.15" width="2.92" height="2.92" fill="#17AE6C" stroke="#1c3a2c" stroke-width="0.35"/><rect x="644.31" y="45.21" width="2.92" height="2.92" fill="#17AE6C" stroke="#1c3a2c" stroke-width="0.35"/><rect x="641.77" y="45.63" width="2.92" height="2.92" fill="#17AE6C" stroke="#1c3a2c" stroke-width="0.35"/><rect x="641.44" y="46.56" width="2.92" height="2.92" fill="#17AE6C" stroke="#1c3a2c" stroke-width="0.35"/><rect x="644.86" y="45.54" width="2.92" height="2.92" fill="#17AE6C" stroke="#1c3a2c" stroke-width="0.35"/><rect x="640.52" y="45.93" width="2.92" height="2.92" fill="#17AE6C" stroke="#1c3a2c" stroke-width="0.35"/><rect x="643.51" y="46.33" width="2.92" height="2.92" fill="#17AE6C" stroke="#1c3a2c" stroke-width="0.35"/><rect x="643.09" y="46.52" width="2.92" height="2.92" fill="#17AE6C" stroke="#1c3a2c" stroke-width="0.35"/><rect x="639.97" y="46.88" width="2.92" height="2.92" fill="#17AE6C" stroke="#1c3a2c" stroke-width="0.35"/><rect x="644.09" y="45.75" width="2.92" height="2.92" fill="#17AE6C" stroke="#1c3a2c" stroke-width="0.35"/><rect x="644.38" y="47.88" width="2.92" height="2.92" fill="#17AE6C" stroke="#1c3a2c" stroke-width="0.35"/><rect x="643" y="47.36" width="2.92" height="2.92" fill="#17AE6C" stroke="#1c3a2c" stroke-width="0.35"/><rect x="653.3" y="26.63" width="10" height="40.97" fill="#7f7f7f" stroke="#3a3a3a" stroke-width="0.45"/><path d="M656.9 33.28L658.62 36.39H655.17Z" fill="#CDBB80" stroke="#3d3828" stroke-width="0.35"/><path d="M655.86 19.31L657.59 22.42H654.13Z" fill="#CDBB80" stroke="#3d3828" stroke-width="0.35"/><path d="M656.39 25.55L658.12 28.66H654.66Z" fill="#CDBB80" stroke="#3d3828" stroke-width="0.35"/><path d="M657.58 31.25L659.3 34.36H655.85Z" fill="#CDBB80" stroke="#3d3828" stroke-width="0.35"/><path d="M656.25 22.17L657.97 25.28H654.52Z" fill="#CDBB80" stroke="#3d3828" stroke-width="0.35"/><path d="M660.05 21.63L661.77 24.74H658.32Z" fill="#CDBB80" stroke="#3d3828" stroke-width="0.35"/><path d="M658.6 31.52L660.33 34.64H656.88Z" fill="#CDBB80" stroke="#3d3828" stroke-width="0.35"/><path d="M658.96 25.08L660.69 28.19H657.24Z" fill="#CDBB80" stroke="#3d3828" stroke-width="0.35"/><path d="M658.96 22.7L660.68 25.81H657.23Z" fill="#CDBB80" stroke="#3d3828" stroke-width="0.35"/><path d="M659.24 31.05L660.97 34.16H657.51Z" fill="#CDBB80" stroke="#3d3828" stroke-width="0.35"/><path d="M658.24 31.27L659.97 34.38H656.52Z" fill="#CDBB80" stroke="#3d3828" stroke-width="0.35"/><path d="M655.72 28.62L657.45 31.73H653.99Z" fill="#CDBB80" stroke="#3d3828" stroke-width="0.35"/><path d="M659.85 27.1L661.58 30.21H658.12Z" fill="#CDBB80" stroke="#3d3828" stroke-width="0.35"/><path d="M659.59 29.8L661.32 32.91H657.86Z" fill="#CDBB80" stroke="#3d3828" stroke-width="0.35"/><rect x="667.9" y="42.46" width="10" height="25.14" fill="#7f7f7f" stroke="#3a3a3a" stroke-width="0.45"/><path d="M672.79 47.44L674.52 44.33H671.06Z" fill="#119E6E" stroke="#1c3a2c" stroke-width="0.35"/><path d="M673.86 40L675.58 36.88H672.13Z" fill="#119E6E" stroke="#1c3a2c" stroke-width="0.35"/><path d="M674.29 46.49L676.02 43.38H672.56Z" fill="#119E6E" stroke="#1c3a2c" stroke-width="0.35"/><path d="M673.51 44.23L675.24 41.12H671.78Z" fill="#119E6E" stroke="#1c3a2c" stroke-width="0.35"/><path d="M673.64 44.56L675.37 41.45H671.91Z" fill="#119E6E" stroke="#1c3a2c" stroke-width="0.35"/><path d="M670.7 44.77L672.43 41.65H668.97Z" fill="#119E6E" stroke="#1c3a2c" stroke-width="0.35"/><path d="M671.07 44.3L672.79 41.19H669.34Z" fill="#119E6E" stroke="#1c3a2c" stroke-width="0.35"/><path d="M671.62 45.6L673.35 42.49H669.89Z" fill="#119E6E" stroke="#1c3a2c" stroke-width="0.35"/><path d="M674.16 42.88L675.89 39.77H672.44Z" fill="#119E6E" stroke="#1c3a2c" stroke-width="0.35"/><path d="M671.88 43.53L673.61 40.42H670.15Z" fill="#119E6E" stroke="#1c3a2c" stroke-width="0.35"/><path d="M673.25 44.35L674.98 41.24H671.52Z" fill="#119E6E" stroke="#1c3a2c" stroke-width="0.35"/><path d="M670.36 45.44L672.09 42.33H668.64Z" fill="#119E6E" stroke="#1c3a2c" stroke-width="0.35"/><path d="M670.62 44.51L672.34 41.4H668.89Z" fill="#119E6E" stroke="#1c3a2c" stroke-width="0.35"/><path d="M671.7 46.01L673.43 42.9H669.97Z" fill="#119E6E" stroke="#1c3a2c" stroke-width="0.35"/><path d="M629.6 16.7V14.6H656V16.7" stroke="#444" stroke-width="0.65" fill="none"/><text x="642.8" y="16" font-size="6.1" text-anchor="middle">**</text><path d="M660 16.7V14.6H673V16.7" stroke="#444" stroke-width="0.65" fill="none"/><text x="666.5" y="16" font-size="6.1" text-anchor="middle">**</text><path d="M629.6 26.3V24.2H643.8V26.3" stroke="#444" stroke-width="0.65" fill="none"/><text x="636.7" y="23.5" font-size="5.5" text-anchor="middle" font-style="italic">ns</text><path d="M624.4 70.2L678.4 70.2" stroke="#555" stroke-width="0.8" fill="none"/><text x="651.4" y="76.6" font-size="5.4" text-anchor="middle">24 weeks</text><text x="0.5" y="48.6" font-size="8.8" font-weight="bold" fill="#111" color="#111">f</text><path d="M18.8 50.5L18.8 109.1" stroke="#555" stroke-width="0.7" fill="none"/><path d="M17 108.8L18.8 108.8" stroke="#555" stroke-width="0.7" fill="none"/><text x="16.5" y="110.8" font-size="5.6" text-anchor="end">0</text><path d="M17 89.37L18.8 89.37" stroke="#555" stroke-width="0.7" fill="none"/><text x="16.5" y="91.37" font-size="5.6" text-anchor="end">5</text><path d="M17 69.93L18.8 69.93" stroke="#555" stroke-width="0.7" fill="none"/><text x="16.5" y="71.93" font-size="5.6" text-anchor="end">10</text><path d="M17 50.5L18.8 50.5" stroke="#555" stroke-width="0.7" fill="none"/><text x="16.5" y="52.5" font-size="5.6" text-anchor="end">15</text><path d="M18.8 108.8L76 108.8" stroke="#555" stroke-width="0.7" fill="none"/><text x="5.6" y="80.6" font-size="5" text-anchor="middle" transform="rotate(-90 5.6 80.6)">HOMA-IR (mIU/L*mmol/L)</text><circle cx="29.64" cy="104.14" r="1.46" fill="#CDBB80" stroke="#3d3828" stroke-width="0.35"/><circle cx="30.35" cy="99.08" r="1.46" fill="#CDBB80" stroke="#3d3828" stroke-width="0.35"/><circle cx="27.86" cy="101.76" r="1.46" fill="#CDBB80" stroke="#3d3828" stroke-width="0.35"/><circle cx="26.99" cy="102.72" r="1.46" fill="#CDBB80" stroke="#3d3828" stroke-width="0.35"/><circle cx="26.71" cy="103.51" r="1.46" fill="#CDBB80" stroke="#3d3828" stroke-width="0.35"/><circle cx="30.24" cy="102.28" r="1.46" fill="#CDBB80" stroke="#3d3828" stroke-width="0.35"/><circle cx="26.71" cy="102.74" r="1.46" fill="#CDBB80" stroke="#3d3828" stroke-width="0.35"/><circle cx="28.49" cy="103.21" r="1.46" fill="#CDBB80" stroke="#3d3828" stroke-width="0.35"/><circle cx="26.38" cy="101.95" r="1.46" fill="#CDBB80" stroke="#3d3828" stroke-width="0.35"/><circle cx="28.22" cy="102.42" r="1.46" fill="#CDBB80" stroke="#3d3828" stroke-width="0.35"/><circle cx="30.27" cy="101.67" r="1.46" fill="#CDBB80" stroke="#3d3828" stroke-width="0.35"/><circle cx="26.34" cy="101.14" r="1.46" fill="#CDBB80" stroke="#3d3828" stroke-width="0.35"/><circle cx="29.64" cy="102.33" r="1.46" fill="#CDBB80" stroke="#3d3828" stroke-width="0.35"/><circle cx="28.14" cy="102.21" r="1.46" fill="#CDBB80" stroke="#3d3828" stroke-width="0.35"/><circle cx="29.96" cy="100.41" r="1.46" fill="#CDBB80" stroke="#3d3828" stroke-width="0.35"/><circle cx="29.08" cy="101.65" r="1.46" fill="#CDBB80" stroke="#3d3828" stroke-width="0.35"/><path d="M24.1 102.08L32.1 102.08" stroke="#333" stroke-width="0.6" fill="none"/><rect x="41.87" y="102.29" width="2.92" height="2.92" fill="#17AE6C" stroke="#1c3a2c" stroke-width="0.35"/><rect x="38.42" y="98.79" width="2.92" height="2.92" fill="#17AE6C" stroke="#1c3a2c" stroke-width="0.35"/><rect x="42.29" y="100.52" width="2.92" height="2.92" fill="#17AE6C" stroke="#1c3a2c" stroke-width="0.35"/><rect x="41.26" y="98.88" width="2.92" height="2.92" fill="#17AE6C" stroke="#1c3a2c" stroke-width="0.35"/><rect x="42.17" y="100.93" width="2.92" height="2.92" fill="#17AE6C" stroke="#1c3a2c" stroke-width="0.35"/><rect x="39.23" y="100.72" width="2.92" height="2.92" fill="#17AE6C" stroke="#1c3a2c" stroke-width="0.35"/><rect x="39.63" y="99.72" width="2.92" height="2.92" fill="#17AE6C" stroke="#1c3a2c" stroke-width="0.35"/><rect x="39.73" y="100.71" width="2.92" height="2.92" fill="#17AE6C" stroke="#1c3a2c" stroke-width="0.35"/><rect x="42.64" y="101.44" width="2.92" height="2.92" fill="#17AE6C" stroke="#1c3a2c" stroke-width="0.35"/><rect x="40.67" y="100.51" width="2.92" height="2.92" fill="#17AE6C" stroke="#1c3a2c" stroke-width="0.35"/><rect x="39.57" y="100.23" width="2.92" height="2.92" fill="#17AE6C" stroke="#1c3a2c" stroke-width="0.35"/><rect x="39.9" y="100.11" width="2.92" height="2.92" fill="#17AE6C" stroke="#1c3a2c" stroke-width="0.35"/><rect x="39.16" y="101.41" width="2.92" height="2.92" fill="#17AE6C" stroke="#1c3a2c" stroke-width="0.35"/><rect x="38.07" y="99.2" width="2.92" height="2.92" fill="#17AE6C" stroke="#1c3a2c" stroke-width="0.35"/><rect x="38.33" y="99.28" width="2.92" height="2.92" fill="#17AE6C" stroke="#1c3a2c" stroke-width="0.35"/><rect x="41.85" y="100.72" width="2.92" height="2.92" fill="#17AE6C" stroke="#1c3a2c" stroke-width="0.35"/><path d="M37.7 101.8L45.7 101.8" stroke="#333" stroke-width="0.6" fill="none"/><path d="M56.92 81.81L58.64 84.92H55.19Z" fill="#CDBB80" stroke="#3d3828" stroke-width="0.35"/><path d="M55.56 60.43L57.29 63.54H53.84Z" fill="#CDBB80" stroke="#3d3828" stroke-width="0.35"/><path d="M57.01 73.7L58.74 76.81H55.28Z" fill="#CDBB80" stroke="#3d3828" stroke-width="0.35"/><path d="M56.49 70.91L58.22 74.02H54.77Z" fill="#CDBB80" stroke="#3d3828" stroke-width="0.35"/><path d="M54.77 66.73L56.5 69.84H53.05Z" fill="#CDBB80" stroke="#3d3828" stroke-width="0.35"/><path d="M53.64 74.39L55.36 77.5H51.91Z" fill="#CDBB80" stroke="#3d3828" stroke-width="0.35"/><path d="M57.85 71.16L59.58 74.28H56.12Z" fill="#CDBB80" stroke="#3d3828" stroke-width="0.35"/><path d="M54.01 80.28L55.74 83.39H52.28Z" fill="#CDBB80" stroke="#3d3828" stroke-width="0.35"/><path d="M55.67 61.38L57.39 64.49H53.94Z" fill="#CDBB80" stroke="#3d3828" stroke-width="0.35"/><path d="M55.05 63.63L56.78 66.74H53.32Z" fill="#CDBB80" stroke="#3d3828" stroke-width="0.35"/><path d="M54.83 77.42L56.56 80.53H53.1Z" fill="#CDBB80" stroke="#3d3828" stroke-width="0.35"/><path d="M56.95 78.97L58.68 82.08H55.22Z" fill="#CDBB80" stroke="#3d3828" stroke-width="0.35"/><path d="M58.09 79.59L59.81 82.7H56.36Z" fill="#CDBB80" stroke="#3d3828" stroke-width="0.35"/><path d="M54.65 64.64L56.38 67.75H52.92Z" fill="#CDBB80" stroke="#3d3828" stroke-width="0.35"/><path d="M56.55 73.38L58.28 76.49H54.82Z" fill="#CDBB80" stroke="#3d3828" stroke-width="0.35"/><path d="M54.84 71.25L56.57 74.36H53.12Z" fill="#CDBB80" stroke="#3d3828" stroke-width="0.35"/><path d="M51.8 73.58L59.8 73.58" stroke="#333" stroke-width="0.6" fill="none"/><path d="M69.15 100.81L70.88 97.7H67.42Z" fill="#119E6E" stroke="#1c3a2c" stroke-width="0.35"/><path d="M69.24 91.09L70.97 87.98H67.51Z" fill="#119E6E" stroke="#1c3a2c" stroke-width="0.35"/><path d="M70.73 96.52L72.46 93.41H69.01Z" fill="#119E6E" stroke="#1c3a2c" stroke-width="0.35"/><path d="M72.26 98.04L73.99 94.92H70.53Z" fill="#119E6E" stroke="#1c3a2c" stroke-width="0.35"/><path d="M71.6 96.62L73.33 93.51H69.87Z" fill="#119E6E" stroke="#1c3a2c" stroke-width="0.35"/><path d="M69.98 95.04L71.71 91.93H68.25Z" fill="#119E6E" stroke="#1c3a2c" stroke-width="0.35"/><path d="M69.99 94.51L71.71 91.4H68.26Z" fill="#119E6E" stroke="#1c3a2c" stroke-width="0.35"/><path d="M70.52 94.38L72.24 91.27H68.79Z" fill="#119E6E" stroke="#1c3a2c" stroke-width="0.35"/><path d="M69.81 97.47L71.54 94.36H68.08Z" fill="#119E6E" stroke="#1c3a2c" stroke-width="0.35"/><path d="M69.62 95.73L71.35 92.62H67.9Z" fill="#119E6E" stroke="#1c3a2c" stroke-width="0.35"/><path d="M68.3 100.29L70.03 97.18H66.57Z" fill="#119E6E" stroke="#1c3a2c" stroke-width="0.35"/><path d="M69.33 97.03L71.06 93.92H67.6Z" fill="#119E6E" stroke="#1c3a2c" stroke-width="0.35"/><path d="M72.64 95.35L74.37 92.24H70.92Z" fill="#119E6E" stroke="#1c3a2c" stroke-width="0.35"/><path d="M68.6 95.38L70.33 92.27H66.88Z" fill="#119E6E" stroke="#1c3a2c" stroke-width="0.35"/><path d="M70.42 94.77L72.14 91.66H68.69Z" fill="#119E6E" stroke="#1c3a2c" stroke-width="0.35"/><path d="M71.02 96.34L72.75 93.23H69.29Z" fill="#119E6E" stroke="#1c3a2c" stroke-width="0.35"/><path d="M66.4 94.48L74.4 94.48" stroke="#333" stroke-width="0.6" fill="none"/><path d="M28.1 52.7V50.6H54.5V52.7" stroke="#444" stroke-width="0.65" fill="none"/><text x="41.3" y="52" font-size="6.1" text-anchor="middle">**</text><path d="M58 52.7V50.6H71.5V52.7" stroke="#444" stroke-width="0.65" fill="none"/><text x="64.75" y="49.9" font-size="5.5" text-anchor="middle" font-style="italic">ns</text><path d="M28.1 60.9V58.8H41.7V60.9" stroke="#444" stroke-width="0.65" fill="none"/><text x="34.9" y="58.1" font-size="5.5" text-anchor="middle" font-style="italic">ns</text><path d="M22 111.3L76 111.3" stroke="#555" stroke-width="0.8" fill="none"/><text x="49" y="117.6" font-size="5.4" text-anchor="middle">24 weeks</text><text x="81.3" y="48.6" font-size="8.8" font-weight="bold" fill="#111" color="#111">g</text><path d="M105.4 50.5L105.4 109.1" stroke="#555" stroke-width="0.7" fill="none"/><path d="M103.6 108.8L105.4 108.8" stroke="#555" stroke-width="0.7" fill="none"/><text x="103.1" y="110.8" font-size="5.6" text-anchor="end">0</text><path d="M103.6 94.22L105.4 94.22" stroke="#555" stroke-width="0.7" fill="none"/><text x="103.1" y="96.22" font-size="5.6" text-anchor="end">5</text><path d="M103.6 79.65L105.4 79.65" stroke="#555" stroke-width="0.7" fill="none"/><text x="103.1" y="81.65" font-size="5.6" text-anchor="end">10</text><path d="M103.6 65.07L105.4 65.07" stroke="#555" stroke-width="0.7" fill="none"/><text x="103.1" y="67.07" font-size="5.6" text-anchor="end">15</text><path d="M103.6 50.5L105.4 50.5" stroke="#555" stroke-width="0.7" fill="none"/><text x="103.1" y="52.5" font-size="5.6" text-anchor="end">20</text><path d="M105.4 108.8L161 108.8" stroke="#555" stroke-width="0.7" fill="none"/><text x="90.2" y="77.5" font-size="5" text-anchor="middle" transform="rotate(-90 90.2 77.5)">Blood glucose (mmol/L)</text><path d="M110.8 108.8L110.8 110.4" stroke="#555" stroke-width="0.7" fill="none"/><text x="110.8" y="116.6" font-size="5.2" text-anchor="middle">0</text><path d="M122.7 108.8L122.7 110.4" stroke="#555" stroke-width="0.7" fill="none"/><text x="122.7" y="116.6" font-size="5.2" text-anchor="middle">15</text><path d="M134.6 108.8L134.6 110.4" stroke="#555" stroke-width="0.7" fill="none"/><text x="134.6" y="116.6" font-size="5.2" text-anchor="middle">30</text><path d="M146.3 108.8L146.3 110.4" stroke="#555" stroke-width="0.7" fill="none"/><text x="146.3" y="116.6" font-size="5.2" text-anchor="middle">60</text><path d="M158.1 108.8L158.1 110.4" stroke="#555" stroke-width="0.7" fill="none"/><text x="158.1" y="116.6" font-size="5.2" text-anchor="middle">120</text><text x="132.5" y="123.6" font-size="5.2" text-anchor="middle">Time (min)</text><path d="M110.8 94.81L110.8 93.93" stroke="#4CC8A0" stroke-width="0.7" fill="none"/><path d="M109.5 93.93L112.1 93.93" stroke="#4CC8A0" stroke-width="0.7" fill="none"/><path d="M122.7 74.11L122.7 72.07" stroke="#4CC8A0" stroke-width="0.7" fill="none"/><path d="M121.4 72.07L124 72.07" stroke="#4CC8A0" stroke-width="0.7" fill="none"/><path d="M134.6 79.65L134.6 78.19" stroke="#4CC8A0" stroke-width="0.7" fill="none"/><path d="M133.3 78.19L135.9 78.19" stroke="#4CC8A0" stroke-width="0.7" fill="none"/><path d="M146.3 87.81L146.3 86.65" stroke="#4CC8A0" stroke-width="0.7" fill="none"/><path d="M145 86.65L147.6 86.65" stroke="#4CC8A0" stroke-width="0.7" fill="none"/><path d="M158.1 90.44L158.1 89.56" stroke="#4CC8A0" stroke-width="0.7" fill="none"/><path d="M156.8 89.56L159.4 89.56" stroke="#4CC8A0" stroke-width="0.7" fill="none"/><path d="M110.8 94.81L110.8 94.22" stroke="#D8C890" stroke-width="0.7" fill="none"/><path d="M109.5 94.22L112.1 94.22" stroke="#D8C890" stroke-width="0.7" fill="none"/><path d="M122.7 75.86L122.7 74.4" stroke="#D8C890" stroke-width="0.7" fill="none"/><path d="M121.4 74.4L124 74.4" stroke="#D8C890" stroke-width="0.7" fill="none"/><path d="M134.6 80.82L134.6 79.65" stroke="#D8C890" stroke-width="0.7" fill="none"/><path d="M133.3 79.65L135.9 79.65" stroke="#D8C890" stroke-width="0.7" fill="none"/><path d="M146.3 87.23L146.3 86.06" stroke="#D8C890" stroke-width="0.7" fill="none"/><path d="M145 86.06L147.6 86.06" stroke="#D8C890" stroke-width="0.7" fill="none"/><path d="M158.1 90.73L158.1 89.85" stroke="#D8C890" stroke-width="0.7" fill="none"/><path d="M156.8 89.85L159.4 89.85" stroke="#D8C890" stroke-width="0.7" fill="none"/><path d="M110.8 85.48L110.8 83.73" stroke="#4CC8A0" stroke-width="0.7" fill="none"/><path d="M109.5 83.73L112.1 83.73" stroke="#4CC8A0" stroke-width="0.7" fill="none"/><path d="M122.7 72.65L122.7 68.57" stroke="#4CC8A0" stroke-width="0.7" fill="none"/><path d="M121.4 68.57L124 68.57" stroke="#4CC8A0" stroke-width="0.7" fill="none"/><path d="M134.6 74.11L134.6 70.32" stroke="#4CC8A0" stroke-width="0.7" fill="none"/><path d="M133.3 70.32L135.9 70.32" stroke="#4CC8A0" stroke-width="0.7" fill="none"/><path d="M146.3 81.69L146.3 79.07" stroke="#4CC8A0" stroke-width="0.7" fill="none"/><path d="M145 79.07L147.6 79.07" stroke="#4CC8A0" stroke-width="0.7" fill="none"/><path d="M158.1 83.15L158.1 80.82" stroke="#4CC8A0" stroke-width="0.7" fill="none"/><path d="M156.8 80.82L159.4 80.82" stroke="#4CC8A0" stroke-width="0.7" fill="none"/><path d="M110.8 73.82L110.8 72.36" stroke="#D8C890" stroke-width="0.7" fill="none"/><path d="M109.5 72.36L112.1 72.36" stroke="#D8C890" stroke-width="0.7" fill="none"/><path d="M122.7 61.58L122.7 58.95" stroke="#D8C890" stroke-width="0.7" fill="none"/><path d="M121.4 58.95L124 58.95" stroke="#D8C890" stroke-width="0.7" fill="none"/><path d="M134.6 64.2L134.6 62.16" stroke="#D8C890" stroke-width="0.7" fill="none"/><path d="M133.3 62.16L135.9 62.16" stroke="#D8C890" stroke-width="0.7" fill="none"/><path d="M146.3 70.61L146.3 68.28" stroke="#D8C890" stroke-width="0.7" fill="none"/><path d="M145 68.28L147.6 68.28" stroke="#D8C890" stroke-width="0.7" fill="none"/><path d="M158.1 71.49L158.1 69.16" stroke="#D8C890" stroke-width="0.7" fill="none"/><path d="M156.8 69.16L159.4 69.16" stroke="#D8C890" stroke-width="0.7" fill="none"/><polyline points="110.8,94.81 122.7,74.11 134.6,79.65 146.3,87.81 158.1,90.44" fill="none" stroke="#2a2a2a" stroke-width="0.7"/><polyline points="110.8,94.81 122.7,75.86 134.6,80.82 146.3,87.23 158.1,90.73" fill="none" stroke="#2a2a2a" stroke-width="0.7"/><polyline points="110.8,85.48 122.7,72.65 134.6,74.11 146.3,81.69 158.1,83.15" fill="none" stroke="#2a2a2a" stroke-width="0.7"/><polyline points="110.8,73.82 122.7,61.58 134.6,64.2 146.3,70.61 158.1,71.49" fill="none" stroke="#2a2a2a" stroke-width="0.7"/><rect x="109.05" y="93.06" width="3.5" height="3.5" fill="#17AE6C" stroke="#1c3a2c" stroke-width="0.35"/><rect x="120.95" y="72.36" width="3.5" height="3.5" fill="#17AE6C" stroke="#1c3a2c" stroke-width="0.35"/><rect x="132.85" y="77.9" width="3.5" height="3.5" fill="#17AE6C" stroke="#1c3a2c" stroke-width="0.35"/><rect x="144.55" y="86.06" width="3.5" height="3.5" fill="#17AE6C" stroke="#1c3a2c" stroke-width="0.35"/><rect x="156.35" y="88.69" width="3.5" height="3.5" fill="#17AE6C" stroke="#1c3a2c" stroke-width="0.35"/><circle cx="110.8" cy="94.81" r="1.75" fill="#CDBB80" stroke="#3d3828" stroke-width="0.35"/><circle cx="122.7" cy="75.86" r="1.75" fill="#CDBB80" stroke="#3d3828" stroke-width="0.35"/><circle cx="134.6" cy="80.82" r="1.75" fill="#CDBB80" stroke="#3d3828" stroke-width="0.35"/><circle cx="146.3" cy="87.23" r="1.75" fill="#CDBB80" stroke="#3d3828" stroke-width="0.35"/><circle cx="158.1" cy="90.73" r="1.75" fill="#CDBB80" stroke="#3d3828" stroke-width="0.35"/><path d="M110.8 87.55L112.87 83.82H108.73Z" fill="#119E6E" stroke="#1c3a2c" stroke-width="0.35"/><path d="M122.7 74.73L124.77 71H120.63Z" fill="#119E6E" stroke="#1c3a2c" stroke-width="0.35"/><path d="M134.6 76.19L136.67 72.45H132.53Z" fill="#119E6E" stroke="#1c3a2c" stroke-width="0.35"/><path d="M146.3 83.76L148.37 80.03H144.23Z" fill="#119E6E" stroke="#1c3a2c" stroke-width="0.35"/><path d="M158.1 85.22L160.17 81.49H156.03Z" fill="#119E6E" stroke="#1c3a2c" stroke-width="0.35"/><path d="M110.8 71.75L112.87 75.48H108.73Z" fill="#CDBB80" stroke="#3d3828" stroke-width="0.35"/><path d="M122.7 59.5L124.77 63.24H120.63Z" fill="#CDBB80" stroke="#3d3828" stroke-width="0.35"/><path d="M134.6 62.13L136.67 65.86H132.53Z" fill="#CDBB80" stroke="#3d3828" stroke-width="0.35"/><path d="M146.3 68.54L148.37 72.27H144.23Z" fill="#CDBB80" stroke="#3d3828" stroke-width="0.35"/><path d="M158.1 69.41L160.17 73.15H156.03Z" fill="#CDBB80" stroke="#3d3828" stroke-width="0.35"/><text x="110.8" y="83.43" font-size="5.6" text-anchor="middle">*</text><text x="122.7" y="68.27" font-size="5.6" text-anchor="middle">*</text><text x="134.6" y="70.02" font-size="5.6" text-anchor="middle">*</text><text x="146.3" y="78.77" font-size="5.6" text-anchor="middle">*</text><text x="158.1" y="80.52" font-size="5.6" text-anchor="middle">*</text><path d="M190.8 50.5L190.8 109.1" stroke="#555" stroke-width="0.7" fill="none"/><path d="M189 108.8L190.8 108.8" stroke="#555" stroke-width="0.7" fill="none"/><text x="188.5" y="110.8" font-size="5.6" text-anchor="end">0.0</text><path d="M189 94.22L190.8 94.22" stroke="#555" stroke-width="0.7" fill="none"/><text x="188.5" y="96.22" font-size="5.6" text-anchor="end">0.5</text><path d="M189 79.65L190.8 79.65" stroke="#555" stroke-width="0.7" fill="none"/><text x="188.5" y="81.65" font-size="5.6" text-anchor="end">1.0</text><path d="M189 65.08L190.8 65.08" stroke="#555" stroke-width="0.7" fill="none"/><text x="188.5" y="67.08" font-size="5.6" text-anchor="end">1.5</text><path d="M189 50.5L190.8 50.5" stroke="#555" stroke-width="0.7" fill="none"/><text x="188.5" y="52.5" font-size="5.6" text-anchor="end">2.0</text><path d="M190.8 108.8L251 108.8" stroke="#555" stroke-width="0.7" fill="none"/><text x="176.3" y="80.1" font-size="5.4" text-anchor="middle" transform="rotate(-90 176.3 80.1)">AUC (mmol/L*min*1000)</text><path d="M200 69.16L200 67.12" stroke="#333" stroke-width="0.6" fill="none"/><path d="M198.4 67.12L201.6 67.12" stroke="#333" stroke-width="0.6" fill="none"/><rect x="195" y="69.16" width="10" height="39.64" fill="#7f7f7f" stroke="#3a3a3a" stroke-width="0.45"/><circle cx="200" cy="112.4" r="1.46" fill="#CDBB80" stroke="#3d3828" stroke-width="0.35"/><path d="M214.2 68.86L214.2 67.12" stroke="#333" stroke-width="0.6" fill="none"/><path d="M212.6 67.12L215.8 67.12" stroke="#333" stroke-width="0.6" fill="none"/><rect x="209.2" y="68.86" width="10" height="39.94" fill="#7f7f7f" stroke="#3a3a3a" stroke-width="0.45"/><rect x="212.74" y="110.94" width="2.92" height="2.92" fill="#17AE6C" stroke="#1c3a2c" stroke-width="0.35"/><path d="M228.8 57.5L228.8 56.91" stroke="#333" stroke-width="0.6" fill="none"/><path d="M227.2 56.91L230.4 56.91" stroke="#333" stroke-width="0.6" fill="none"/><rect x="223.8" y="57.5" width="10" height="51.3" fill="#7f7f7f" stroke="#3a3a3a" stroke-width="0.45"/><path d="M228.8 110.67L230.53 113.78H227.07Z" fill="#CDBB80" stroke="#3d3828" stroke-width="0.35"/><path d="M242.9 66.53L242.9 65.08" stroke="#333" stroke-width="0.6" fill="none"/><path d="M241.3 65.08L244.5 65.08" stroke="#333" stroke-width="0.6" fill="none"/><rect x="237.9" y="66.53" width="10" height="42.27" fill="#7f7f7f" stroke="#3a3a3a" stroke-width="0.45"/><path d="M242.9 114.13L244.63 111.02H241.17Z" fill="#119E6E" stroke="#1c3a2c" stroke-width="0.35"/><path d="M200 54.3V52.2H228.7V54.3" stroke="#444" stroke-width="0.65" fill="none"/><text x="214.35" y="53.6" font-size="6.1" text-anchor="middle">*</text><path d="M231.5 54.3V52.2H243V54.3" stroke="#444" stroke-width="0.65" fill="none"/><text x="237.25" y="53.6" font-size="6.1" text-anchor="middle">*</text><path d="M200 63.1V61H214.2V63.1" stroke="#444" stroke-width="0.65" fill="none"/><text x="207.1" y="60.3" font-size="5.5" text-anchor="middle" font-style="italic">ns</text><text x="255.8" y="48.6" font-size="8.8" font-weight="bold" fill="#111" color="#111">k</text><path d="M280.2 47.4L280.2 109.1" stroke="#555" stroke-width="0.7" fill="none"/><path d="M278.4 108.8L280.2 108.8" stroke="#555" stroke-width="0.7" fill="none"/><text x="277.9" y="110.8" font-size="5.6" text-anchor="end">0</text><path d="M278.4 93.45L280.2 93.45" stroke="#555" stroke-width="0.7" fill="none"/><text x="277.9" y="95.45" font-size="5.6" text-anchor="end">10</text><path d="M278.4 78.1L280.2 78.1" stroke="#555" stroke-width="0.7" fill="none"/><text x="277.9" y="80.1" font-size="5.6" text-anchor="end">20</text><path d="M278.4 62.75L280.2 62.75" stroke="#555" stroke-width="0.7" fill="none"/><text x="277.9" y="64.75" font-size="5.6" text-anchor="end">30</text><path d="M278.4 47.4L280.2 47.4" stroke="#555" stroke-width="0.7" fill="none"/><text x="277.9" y="49.4" font-size="5.6" text-anchor="end">40</text><path d="M280.2 108.8L342.7 108.8" stroke="#555" stroke-width="0.7" fill="none"/><text x="265.8" y="80.7" font-size="5.3" text-anchor="middle" transform="rotate(-90 265.8 80.7)">Oil Red O-positive area (%)</text><path d="M291.7 108.19L291.7 107.73" stroke="#333" stroke-width="0.6" fill="none"/><path d="M290.1 107.73L293.3 107.73" stroke="#333" stroke-width="0.6" fill="none"/><rect x="286.7" y="108.19" width="10" height="0.61" fill="#7f7f7f" stroke="#3a3a3a" stroke-width="0.45"/><circle cx="291.7" cy="112.6" r="1.46" fill="#CDBB80" stroke="#3d3828" stroke-width="0.35"/><path d="M306.3 108.19L306.3 107.73" stroke="#333" stroke-width="0.6" fill="none"/><path d="M304.7 107.73L307.9 107.73" stroke="#333" stroke-width="0.6" fill="none"/><rect x="301.3" y="108.19" width="10" height="0.61" fill="#7f7f7f" stroke="#3a3a3a" stroke-width="0.45"/><rect x="304.84" y="111.14" width="2.92" height="2.92" fill="#17AE6C" stroke="#1c3a2c" stroke-width="0.35"/><path d="M320.9 66.59L320.9 63.98" stroke="#333" stroke-width="0.6" fill="none"/><path d="M319.3 63.98L322.5 63.98" stroke="#333" stroke-width="0.6" fill="none"/><rect x="315.9" y="66.59" width="10" height="42.21" fill="#7f7f7f" stroke="#3a3a3a" stroke-width="0.45"/><path d="M320.9 110.87L322.63 113.98H319.17Z" fill="#CDBB80" stroke="#3d3828" stroke-width="0.35"/><path d="M335.4 96.83L335.4 95.29" stroke="#333" stroke-width="0.6" fill="none"/><path d="M333.8 95.29L337 95.29" stroke="#333" stroke-width="0.6" fill="none"/><rect x="330.4" y="96.83" width="10" height="11.97" fill="#7f7f7f" stroke="#3a3a3a" stroke-width="0.45"/><path d="M335.4 114.33L337.13 111.22H333.67Z" fill="#119E6E" stroke="#1c3a2c" stroke-width="0.35"/><path d="M291.7 58.4V56.3H319.6V58.4" stroke="#444" stroke-width="0.65" fill="none"/><text x="305.65" y="57.7" font-size="6.1" text-anchor="middle">***</text><path d="M322.5 58.4V56.3H337.5V58.4" stroke="#444" stroke-width="0.65" fill="none"/><text x="330" y="57.7" font-size="6.1" text-anchor="middle">**</text><path d="M291.7 67.2V65.1H306.3V67.2" stroke="#444" stroke-width="0.65" fill="none"/><text x="299" y="64.4" font-size="5.5" text-anchor="middle" font-style="italic">ns</text><text x="0.5" y="127" font-size="8.8" font-weight="bold" fill="#111" color="#111">h</text><path d="M19.8 130.6L19.8 189.4" stroke="#555" stroke-width="0.7" fill="none"/><path d="M18 189.1L19.8 189.1" stroke="#555" stroke-width="0.7" fill="none"/><text x="17.5" y="191.1" font-size="5.6" text-anchor="end">0</text><path d="M18 169.6L19.8 169.6" stroke="#555" stroke-width="0.7" fill="none"/><text x="17.5" y="171.6" font-size="5.6" text-anchor="end">50</text><path d="M18 150.1L19.8 150.1" stroke="#555" stroke-width="0.7" fill="none"/><text x="17.5" y="152.1" font-size="5.6" text-anchor="end">100</text><path d="M18 130.6L19.8 130.6" stroke="#555" stroke-width="0.7" fill="none"/><text x="17.5" y="132.6" font-size="5.6" text-anchor="end">150</text><path d="M19.8 189.1L80.5 189.1" stroke="#555" stroke-width="0.7" fill="none"/><text x="5" y="158.1" font-size="4.8" text-anchor="middle" transform="rotate(-90 5 158.1)">Serum ALT (U/L)</text><rect x="24.4" y="169.21" width="9.8" height="19.89" fill="#7f7f7f" stroke="#3a3a3a" stroke-width="0.45"/><circle cx="31.36" cy="174.28" r="1.46" fill="#CDBB80" stroke="#3d3828" stroke-width="0.35"/><circle cx="29.16" cy="164.92" r="1.46" fill="#CDBB80" stroke="#3d3828" stroke-width="0.35"/><circle cx="29.75" cy="168.35" r="1.46" fill="#CDBB80" stroke="#3d3828" stroke-width="0.35"/><circle cx="26.7" cy="168.15" r="1.46" fill="#CDBB80" stroke="#3d3828" stroke-width="0.35"/><circle cx="28.74" cy="170.45" r="1.46" fill="#CDBB80" stroke="#3d3828" stroke-width="0.35"/><circle cx="31.52" cy="169.44" r="1.46" fill="#CDBB80" stroke="#3d3828" stroke-width="0.35"/><circle cx="30.99" cy="167.46" r="1.46" fill="#CDBB80" stroke="#3d3828" stroke-width="0.35"/><circle cx="31.15" cy="171.26" r="1.46" fill="#CDBB80" stroke="#3d3828" stroke-width="0.35"/><circle cx="31.76" cy="167.71" r="1.46" fill="#CDBB80" stroke="#3d3828" stroke-width="0.35"/><circle cx="27.99" cy="170.51" r="1.46" fill="#CDBB80" stroke="#3d3828" stroke-width="0.35"/><circle cx="27.27" cy="168.87" r="1.46" fill="#CDBB80" stroke="#3d3828" stroke-width="0.35"/><circle cx="27.5" cy="169.56" r="1.46" fill="#CDBB80" stroke="#3d3828" stroke-width="0.35"/><circle cx="29.42" cy="165.61" r="1.46" fill="#CDBB80" stroke="#3d3828" stroke-width="0.35"/><circle cx="30.25" cy="168.47" r="1.46" fill="#CDBB80" stroke="#3d3828" stroke-width="0.35"/><rect x="38.5" y="169.6" width="9.8" height="19.5" fill="#7f7f7f" stroke="#3a3a3a" stroke-width="0.45"/><rect x="42.65" y="173.99" width="2.92" height="2.92" fill="#17AE6C" stroke="#1c3a2c" stroke-width="0.35"/><rect x="42.97" y="163.07" width="2.92" height="2.92" fill="#17AE6C" stroke="#1c3a2c" stroke-width="0.35"/><rect x="39.93" y="164.07" width="2.92" height="2.92" fill="#17AE6C" stroke="#1c3a2c" stroke-width="0.35"/><rect x="39.71" y="169.71" width="2.92" height="2.92" fill="#17AE6C" stroke="#1c3a2c" stroke-width="0.35"/><rect x="42.07" y="170.93" width="2.92" height="2.92" fill="#17AE6C" stroke="#1c3a2c" stroke-width="0.35"/><rect x="42.37" y="171.85" width="2.92" height="2.92" fill="#17AE6C" stroke="#1c3a2c" stroke-width="0.35"/><rect x="41.36" y="171.48" width="2.92" height="2.92" fill="#17AE6C" stroke="#1c3a2c" stroke-width="0.35"/><rect x="40.5" y="167.23" width="2.92" height="2.92" fill="#17AE6C" stroke="#1c3a2c" stroke-width="0.35"/><rect x="42.47" y="163.52" width="2.92" height="2.92" fill="#17AE6C" stroke="#1c3a2c" stroke-width="0.35"/><rect x="39.4" y="166.97" width="2.92" height="2.92" fill="#17AE6C" stroke="#1c3a2c" stroke-width="0.35"/><rect x="40.91" y="167.47" width="2.92" height="2.92" fill="#17AE6C" stroke="#1c3a2c" stroke-width="0.35"/><rect x="41.74" y="169.56" width="2.92" height="2.92" fill="#17AE6C" stroke="#1c3a2c" stroke-width="0.35"/><rect x="44.33" y="169.98" width="2.92" height="2.92" fill="#17AE6C" stroke="#1c3a2c" stroke-width="0.35"/><rect x="42.69" y="166.7" width="2.92" height="2.92" fill="#17AE6C" stroke="#1c3a2c" stroke-width="0.35"/><rect x="53.1" y="150.1" width="9.8" height="39" fill="#7f7f7f" stroke="#3a3a3a" stroke-width="0.45"/><path d="M58.87 156.95L60.6 160.06H57.14Z" fill="#CDBB80" stroke="#3d3828" stroke-width="0.35"/><path d="M60.21 135.11L61.94 138.22H58.48Z" fill="#CDBB80" stroke="#3d3828" stroke-width="0.35"/><path d="M56.58 145.38L58.31 148.49H54.85Z" fill="#CDBB80" stroke="#3d3828" stroke-width="0.35"/><path d="M55.58 143.75L57.31 146.86H53.85Z" fill="#CDBB80" stroke="#3d3828" stroke-width="0.35"/><path d="M57.16 152.51L58.89 155.62H55.43Z" fill="#CDBB80" stroke="#3d3828" stroke-width="0.35"/><path d="M57.59 147.98L59.31 151.09H55.86Z" fill="#CDBB80" stroke="#3d3828" stroke-width="0.35"/><path d="M58.95 144.28L60.68 147.39H57.22Z" fill="#CDBB80" stroke="#3d3828" stroke-width="0.35"/><path d="M56.43 140.1L58.16 143.21H54.7Z" fill="#CDBB80" stroke="#3d3828" stroke-width="0.35"/><path d="M59.54 150.46L61.27 153.57H57.82Z" fill="#CDBB80" stroke="#3d3828" stroke-width="0.35"/><path d="M59.24 148.78L60.97 151.89H57.52Z" fill="#CDBB80" stroke="#3d3828" stroke-width="0.35"/><path d="M58.03 147.3L59.75 150.41H56.3Z" fill="#CDBB80" stroke="#3d3828" stroke-width="0.35"/><path d="M56.47 156.55L58.2 159.66H54.74Z" fill="#CDBB80" stroke="#3d3828" stroke-width="0.35"/><path d="M60.44 148.29L62.17 151.4H58.72Z" fill="#CDBB80" stroke="#3d3828" stroke-width="0.35"/><path d="M57.02 152.06L58.75 155.17H55.29Z" fill="#CDBB80" stroke="#3d3828" stroke-width="0.35"/><rect x="67.7" y="159.85" width="9.8" height="29.25" fill="#7f7f7f" stroke="#3a3a3a" stroke-width="0.45"/><path d="M70.76 168.21L72.49 165.1H69.03Z" fill="#119E6E" stroke="#1c3a2c" stroke-width="0.35"/><path d="M72.05 156.51L73.77 153.4H70.32Z" fill="#119E6E" stroke="#1c3a2c" stroke-width="0.35"/><path d="M71.11 160.49L72.84 157.38H69.38Z" fill="#119E6E" stroke="#1c3a2c" stroke-width="0.35"/><path d="M75.07 160.68L76.79 157.57H73.34Z" fill="#119E6E" stroke="#1c3a2c" stroke-width="0.35"/><path d="M70.74 163.5L72.47 160.38H69.01Z" fill="#119E6E" stroke="#1c3a2c" stroke-width="0.35"/><path d="M70.27 160.7L72 157.59H68.54Z" fill="#119E6E" stroke="#1c3a2c" stroke-width="0.35"/><path d="M70.31 156.71L72.04 153.6H68.58Z" fill="#119E6E" stroke="#1c3a2c" stroke-width="0.35"/><path d="M72.05 163.59L73.77 160.48H70.32Z" fill="#119E6E" stroke="#1c3a2c" stroke-width="0.35"/><path d="M74.67 163.46L76.4 160.35H72.94Z" fill="#119E6E" stroke="#1c3a2c" stroke-width="0.35"/><path d="M74.59 161.53L76.32 158.42H72.87Z" fill="#119E6E" stroke="#1c3a2c" stroke-width="0.35"/><path d="M73.81 161.07L75.54 157.96H72.08Z" fill="#119E6E" stroke="#1c3a2c" stroke-width="0.35"/><path d="M75.19 158.58L76.92 155.47H73.46Z" fill="#119E6E" stroke="#1c3a2c" stroke-width="0.35"/><path d="M74.84 165.2L76.57 162.09H73.12Z" fill="#119E6E" stroke="#1c3a2c" stroke-width="0.35"/><path d="M71.71 167.72L73.44 164.61H69.98Z" fill="#119E6E" stroke="#1c3a2c" stroke-width="0.35"/><path d="M29.3 133.8V131.7H56V133.8" stroke="#444" stroke-width="0.65" fill="none"/><text x="42.65" y="133.1" font-size="6.1" text-anchor="middle">**</text><path d="M61 133.8V131.7H73V133.8" stroke="#444" stroke-width="0.65" fill="none"/><text x="67" y="133.1" font-size="6.1" text-anchor="middle">*</text><path d="M29.3 143.1V141H43.4V143.1" stroke="#444" stroke-width="0.65" fill="none"/><text x="36.35" y="140.3" font-size="5.5" text-anchor="middle" font-style="italic">ns</text><path d="M24 191.7L79 191.7" stroke="#555" stroke-width="0.8" fill="none"/><text x="51.5" y="198.2" font-size="5.4" text-anchor="middle">24 weeks</text><path d="M19.5 222.9L19.5 281.8" stroke="#555" stroke-width="0.7" fill="none"/><path d="M17.7 281.5L19.5 281.5" stroke="#555" stroke-width="0.7" fill="none"/><text x="17.2" y="283.5" font-size="5.6" text-anchor="end">0</text><path d="M17.7 266.85L19.5 266.85" stroke="#555" stroke-width="0.7" fill="none"/><text x="17.2" y="268.85" font-size="5.6" text-anchor="end">50</text><path d="M17.7 252.2L19.5 252.2" stroke="#555" stroke-width="0.7" fill="none"/><text x="17.2" y="254.2" font-size="5.6" text-anchor="end">100</text><path d="M17.7 237.55L19.5 237.55" stroke="#555" stroke-width="0.7" fill="none"/><text x="17.2" y="239.55" font-size="5.6" text-anchor="end">150</text><path d="M17.7 222.9L19.5 222.9" stroke="#555" stroke-width="0.7" fill="none"/><text x="17.2" y="224.9" font-size="5.6" text-anchor="end">200</text><path d="M19.5 281.5L82.8 281.5" stroke="#555" stroke-width="0.7" fill="none"/><text x="5" y="250" font-size="4.8" text-anchor="middle" transform="rotate(-90 5 250)">Serum AST (U/L)</text><rect x="24" y="264.51" width="9.8" height="16.99" fill="#7f7f7f" stroke="#3a3a3a" stroke-width="0.45"/><circle cx="31.27" cy="268.61" r="1.46" fill="#CDBB80" stroke="#3d3828" stroke-width="0.35"/><circle cx="26.94" cy="258.65" r="1.46" fill="#CDBB80" stroke="#3d3828" stroke-width="0.35"/><circle cx="31.31" cy="262.2" r="1.46" fill="#CDBB80" stroke="#3d3828" stroke-width="0.35"/><circle cx="27.38" cy="259.14" r="1.46" fill="#CDBB80" stroke="#3d3828" stroke-width="0.35"/><circle cx="28.15" cy="264.52" r="1.46" fill="#CDBB80" stroke="#3d3828" stroke-width="0.35"/><circle cx="30.57" cy="265.14" r="1.46" fill="#CDBB80" stroke="#3d3828" stroke-width="0.35"/><circle cx="30.57" cy="265.75" r="1.46" fill="#CDBB80" stroke="#3d3828" stroke-width="0.35"/><circle cx="28.55" cy="266.59" r="1.46" fill="#CDBB80" stroke="#3d3828" stroke-width="0.35"/><circle cx="26.56" cy="266.08" r="1.46" fill="#CDBB80" stroke="#3d3828" stroke-width="0.35"/><circle cx="28.76" cy="262.91" r="1.46" fill="#CDBB80" stroke="#3d3828" stroke-width="0.35"/><circle cx="28.24" cy="264.41" r="1.46" fill="#CDBB80" stroke="#3d3828" stroke-width="0.35"/><circle cx="31.08" cy="264.34" r="1.46" fill="#CDBB80" stroke="#3d3828" stroke-width="0.35"/><circle cx="27.3" cy="264.94" r="1.46" fill="#CDBB80" stroke="#3d3828" stroke-width="0.35"/><circle cx="28.19" cy="262.23" r="1.46" fill="#CDBB80" stroke="#3d3828" stroke-width="0.35"/><rect x="39" y="262.16" width="9.8" height="19.34" fill="#7f7f7f" stroke="#3a3a3a" stroke-width="0.45"/><rect x="41.61" y="265.39" width="2.92" height="2.92" fill="#17AE6C" stroke="#1c3a2c" stroke-width="0.35"/><rect x="41.26" y="257.19" width="2.92" height="2.92" fill="#17AE6C" stroke="#1c3a2c" stroke-width="0.35"/><rect x="44.82" y="260.3" width="2.92" height="2.92" fill="#17AE6C" stroke="#1c3a2c" stroke-width="0.35"/><rect x="43.05" y="261.01" width="2.92" height="2.92" fill="#17AE6C" stroke="#1c3a2c" stroke-width="0.35"/><rect x="41.21" y="263.88" width="2.92" height="2.92" fill="#17AE6C" stroke="#1c3a2c" stroke-width="0.35"/><rect x="43.57" y="258.71" width="2.92" height="2.92" fill="#17AE6C" stroke="#1c3a2c" stroke-width="0.35"/><rect x="41.49" y="260.64" width="2.92" height="2.92" fill="#17AE6C" stroke="#1c3a2c" stroke-width="0.35"/><rect x="41.28" y="261.29" width="2.92" height="2.92" fill="#17AE6C" stroke="#1c3a2c" stroke-width="0.35"/><rect x="39.86" y="259.98" width="2.92" height="2.92" fill="#17AE6C" stroke="#1c3a2c" stroke-width="0.35"/><rect x="43.77" y="260.54" width="2.92" height="2.92" fill="#17AE6C" stroke="#1c3a2c" stroke-width="0.35"/><rect x="44.61" y="259.32" width="2.92" height="2.92" fill="#17AE6C" stroke="#1c3a2c" stroke-width="0.35"/><rect x="43.14" y="261.46" width="2.92" height="2.92" fill="#17AE6C" stroke="#1c3a2c" stroke-width="0.35"/><rect x="44.75" y="260.78" width="2.92" height="2.92" fill="#17AE6C" stroke="#1c3a2c" stroke-width="0.35"/><rect x="39.97" y="265.09" width="2.92" height="2.92" fill="#17AE6C" stroke="#1c3a2c" stroke-width="0.35"/><rect x="53.1" y="240.48" width="9.8" height="41.02" fill="#7f7f7f" stroke="#3a3a3a" stroke-width="0.45"/><path d="M58.56 245.2L60.29 248.31H56.83Z" fill="#CDBB80" stroke="#3d3828" stroke-width="0.35"/><path d="M57.1 230.55L58.83 233.66H55.38Z" fill="#CDBB80" stroke="#3d3828" stroke-width="0.35"/><path d="M57.06 238.33L58.79 241.44H55.33Z" fill="#CDBB80" stroke="#3d3828" stroke-width="0.35"/><path d="M57.28 234.61L59.01 237.72H55.55Z" fill="#CDBB80" stroke="#3d3828" stroke-width="0.35"/><path d="M59.47 241.19L61.2 244.3H57.74Z" fill="#CDBB80" stroke="#3d3828" stroke-width="0.35"/><path d="M55.81 240.86L57.54 243.97H54.08Z" fill="#CDBB80" stroke="#3d3828" stroke-width="0.35"/><path d="M56.43 236.93L58.15 240.04H54.7Z" fill="#CDBB80" stroke="#3d3828" stroke-width="0.35"/><path d="M59.32 242.62L61.04 245.73H57.59Z" fill="#CDBB80" stroke="#3d3828" stroke-width="0.35"/><path d="M56.69 236.93L58.41 240.04H54.96Z" fill="#CDBB80" stroke="#3d3828" stroke-width="0.35"/><path d="M55.74 236.66L57.46 239.77H54.01Z" fill="#CDBB80" stroke="#3d3828" stroke-width="0.35"/><path d="M55.58 239.77L57.3 242.88H53.85Z" fill="#CDBB80" stroke="#3d3828" stroke-width="0.35"/><path d="M58.27 236.81L60 239.92H56.55Z" fill="#CDBB80" stroke="#3d3828" stroke-width="0.35"/><path d="M57.09 244.43L58.82 247.54H55.37Z" fill="#CDBB80" stroke="#3d3828" stroke-width="0.35"/><path d="M60.5 235.97L62.23 239.08H58.77Z" fill="#CDBB80" stroke="#3d3828" stroke-width="0.35"/><rect x="68" y="256.89" width="9.8" height="24.61" fill="#7f7f7f" stroke="#3a3a3a" stroke-width="0.45"/><path d="M74.19 267.99L75.92 264.88H72.46Z" fill="#119E6E" stroke="#1c3a2c" stroke-width="0.35"/><path d="M74.7 252.76L76.43 249.65H72.98Z" fill="#119E6E" stroke="#1c3a2c" stroke-width="0.35"/><path d="M73.76 264.5L75.48 261.39H72.03Z" fill="#119E6E" stroke="#1c3a2c" stroke-width="0.35"/><path d="M70.93 266.18L72.66 263.07H69.2Z" fill="#119E6E" stroke="#1c3a2c" stroke-width="0.35"/><path d="M74.67 258.77L76.4 255.65H72.94Z" fill="#119E6E" stroke="#1c3a2c" stroke-width="0.35"/><path d="M71.83 257.03L73.56 253.92H70.1Z" fill="#119E6E" stroke="#1c3a2c" stroke-width="0.35"/><path d="M73.25 254.94L74.98 251.83H71.52Z" fill="#119E6E" stroke="#1c3a2c" stroke-width="0.35"/><path d="M72.24 256.07L73.97 252.96H70.51Z" fill="#119E6E" stroke="#1c3a2c" stroke-width="0.35"/><path d="M74.14 259.65L75.87 256.54H72.41Z" fill="#119E6E" stroke="#1c3a2c" stroke-width="0.35"/><path d="M71.34 262.63L73.06 259.52H69.61Z" fill="#119E6E" stroke="#1c3a2c" stroke-width="0.35"/><path d="M71.59 258.22L73.31 255.11H69.86Z" fill="#119E6E" stroke="#1c3a2c" stroke-width="0.35"/><path d="M71.58 254.68L73.3 251.57H69.85Z" fill="#119E6E" stroke="#1c3a2c" stroke-width="0.35"/><path d="M71.1 262.77L72.83 259.66H69.37Z" fill="#119E6E" stroke="#1c3a2c" stroke-width="0.35"/><path d="M74.9 262.53L76.63 259.42H73.17Z" fill="#119E6E" stroke="#1c3a2c" stroke-width="0.35"/><path d="M29.2 226.7V224.6H55.2V226.7" stroke="#444" stroke-width="0.65" fill="none"/><text x="42.2" y="226" font-size="6.1" text-anchor="middle">**</text><path d="M60 226.7V224.6H73.5V226.7" stroke="#444" stroke-width="0.65" fill="none"/><text x="66.75" y="226" font-size="6.1" text-anchor="middle">**</text><path d="M29.2 236.1V234H43.8V236.1" stroke="#444" stroke-width="0.65" fill="none"/><text x="36.5" y="233.3" font-size="5.5" text-anchor="middle" font-style="italic">ns</text><path d="M24.2 283.6L78 283.6" stroke="#555" stroke-width="0.8" fill="none"/><text x="51.1" y="290.2" font-size="5.4" text-anchor="middle">24 weeks</text><text x="81.3" y="127.5" font-size="8.8" font-weight="bold" fill="#111" color="#111">j</text><path d="M96.7 131.5L96.7 189.5" stroke="#555" stroke-width="0.7" fill="none"/><path d="M94.9 189.2L96.7 189.2" stroke="#555" stroke-width="0.7" fill="none"/><text x="94.4" y="191.2" font-size="5.6" text-anchor="end">0</text><path d="M94.9 174.77L96.7 174.77" stroke="#555" stroke-width="0.7" fill="none"/><text x="94.4" y="176.77" font-size="5.6" text-anchor="end">2</text><path d="M94.9 160.35L96.7 160.35" stroke="#555" stroke-width="0.7" fill="none"/><text x="94.4" y="162.35" font-size="5.6" text-anchor="end">4</text><path d="M94.9 145.93L96.7 145.93" stroke="#555" stroke-width="0.7" fill="none"/><text x="94.4" y="147.93" font-size="5.6" text-anchor="end">6</text><path d="M94.9 131.5L96.7 131.5" stroke="#555" stroke-width="0.7" fill="none"/><text x="94.4" y="133.5" font-size="5.6" text-anchor="end">8</text><path d="M96.7 189.2L222.5 189.2" stroke="#555" stroke-width="0.7" fill="none"/><text x="88.6" y="161.9" font-size="4.8" text-anchor="middle" transform="rotate(-90 88.6 161.9)">NAS score</text><path d="M165.5 175.5L165.5 173.33" stroke="#333" stroke-width="0.6" fill="none"/><path d="M163.9 173.33L167.1 173.33" stroke="#333" stroke-width="0.6" fill="none"/><rect x="163" y="175.5" width="5" height="13.7" fill="#7f7f7f" stroke="#3a3a3a" stroke-width="0.45"/><path d="M172.5 177.66L172.5 175.5" stroke="#333" stroke-width="0.6" fill="none"/><path d="M170.9 175.5L174.1 175.5" stroke="#333" stroke-width="0.6" fill="none"/><rect x="170" y="177.66" width="5" height="11.54" fill="#7f7f7f" stroke="#3a3a3a" stroke-width="0.45"/><path d="M179.5 175.5L179.5 173.33" stroke="#333" stroke-width="0.6" fill="none"/><path d="M177.9 173.33L181.1 173.33" stroke="#333" stroke-width="0.6" fill="none"/><rect x="177" y="175.5" width="5" height="13.7" fill="#7f7f7f" stroke="#3a3a3a" stroke-width="0.45"/><path d="M186.6 148.81L186.6 145.93" stroke="#333" stroke-width="0.6" fill="none"/><path d="M185 145.93L188.2 145.93" stroke="#333" stroke-width="0.6" fill="none"/><rect x="184.1" y="148.81" width="5" height="40.39" fill="#7f7f7f" stroke="#3a3a3a" stroke-width="0.45"/><path d="M197 182.71L197 180.54" stroke="#333" stroke-width="0.6" fill="none"/><path d="M195.4 180.54L198.6 180.54" stroke="#333" stroke-width="0.6" fill="none"/><rect x="194.5" y="182.71" width="5" height="6.49" fill="#7f7f7f" stroke="#3a3a3a" stroke-width="0.45"/><path d="M204 184.87L204 182.71" stroke="#333" stroke-width="0.6" fill="none"/><path d="M202.4 182.71L205.6 182.71" stroke="#333" stroke-width="0.6" fill="none"/><rect x="201.5" y="184.87" width="5" height="4.33" fill="#7f7f7f" stroke="#3a3a3a" stroke-width="0.45"/><path d="M211 180.54L211 178.38" stroke="#333" stroke-width="0.6" fill="none"/><path d="M209.4 178.38L212.6 178.38" stroke="#333" stroke-width="0.6" fill="none"/><rect x="208.5" y="180.54" width="5" height="8.66" fill="#7f7f7f" stroke="#3a3a3a" stroke-width="0.45"/><path d="M218 171.17L218 169" stroke="#333" stroke-width="0.6" fill="none"/><path d="M216.4 169L219.6 169" stroke="#333" stroke-width="0.6" fill="none"/><rect x="215.5" y="171.17" width="5" height="18.03" fill="#7f7f7f" stroke="#3a3a3a" stroke-width="0.45"/><circle cx="101" cy="189.2" r="1.6" fill="#CDBB80" stroke="#3d3828" stroke-width="0.35"/><circle cx="108" cy="189.2" r="1.6" fill="#CDBB80" stroke="#3d3828" stroke-width="0.35"/><circle cx="115" cy="189.2" r="1.6" fill="#CDBB80" stroke="#3d3828" stroke-width="0.35"/><circle cx="122" cy="189.2" r="1.6" fill="#CDBB80" stroke="#3d3828" stroke-width="0.35"/><circle cx="108" cy="181.99" r="1.6" fill="#CDBB80" stroke="#3d3828" stroke-width="0.35"/><circle cx="122" cy="181.99" r="1.6" fill="#CDBB80" stroke="#3d3828" stroke-width="0.35"/><rect x="131.9" y="187.6" width="3.21" height="3.21" fill="#17AE6C" stroke="#1c3a2c" stroke-width="0.35"/><rect x="138.6" y="187.6" width="3.21" height="3.21" fill="#17AE6C" stroke="#1c3a2c" stroke-width="0.35"/><rect x="145.6" y="187.6" width="3.21" height="3.21" fill="#17AE6C" stroke="#1c3a2c" stroke-width="0.35"/><rect x="152.6" y="187.6" width="3.21" height="3.21" fill="#17AE6C" stroke="#1c3a2c" stroke-width="0.35"/><rect x="145.6" y="180.38" width="3.21" height="3.21" fill="#17AE6C" stroke="#1c3a2c" stroke-width="0.35"/><rect x="152.6" y="180.38" width="3.21" height="3.21" fill="#17AE6C" stroke="#1c3a2c" stroke-width="0.35"/><path d="M165.5 180.17L167.31 183.44H163.69Z" fill="#CDBB80" stroke="#3d3828" stroke-width="0.35"/><path d="M165.5 172.96L167.31 176.23H163.69Z" fill="#CDBB80" stroke="#3d3828" stroke-width="0.35"/><path d="M165.5 165.75L167.31 169.01H163.69Z" fill="#CDBB80" stroke="#3d3828" stroke-width="0.35"/><path d="M172.5 180.17L174.31 183.44H170.69Z" fill="#CDBB80" stroke="#3d3828" stroke-width="0.35"/><path d="M172.5 172.96L174.31 176.23H170.69Z" fill="#CDBB80" stroke="#3d3828" stroke-width="0.35"/><path d="M179.5 180.17L181.31 183.44H177.69Z" fill="#CDBB80" stroke="#3d3828" stroke-width="0.35"/><path d="M179.5 172.96L181.31 176.23H177.69Z" fill="#CDBB80" stroke="#3d3828" stroke-width="0.35"/><path d="M179.5 165.75L181.31 169.01H177.69Z" fill="#CDBB80" stroke="#3d3828" stroke-width="0.35"/><path d="M186.6 151.32L188.41 154.59H184.79Z" fill="#CDBB80" stroke="#3d3828" stroke-width="0.35"/><path d="M186.6 144.11L188.41 147.38H184.79Z" fill="#CDBB80" stroke="#3d3828" stroke-width="0.35"/><path d="M186.6 136.9L188.41 140.16H184.79Z" fill="#CDBB80" stroke="#3d3828" stroke-width="0.35"/><path d="M197 191.01L198.81 187.75H195.19Z" fill="#119E6E" stroke="#1c3a2c" stroke-width="0.35"/><path d="M197 183.8L198.81 180.54H195.19Z" fill="#119E6E" stroke="#1c3a2c" stroke-width="0.35"/><path d="M197 176.59L198.81 173.32H195.19Z" fill="#119E6E" stroke="#1c3a2c" stroke-width="0.35"/><path d="M204 191.01L205.81 187.75H202.19Z" fill="#119E6E" stroke="#1c3a2c" stroke-width="0.35"/><path d="M204 183.8L205.81 180.54H202.19Z" fill="#119E6E" stroke="#1c3a2c" stroke-width="0.35"/><path d="M211 191.01L212.81 187.75H209.19Z" fill="#119E6E" stroke="#1c3a2c" stroke-width="0.35"/><path d="M211 183.8L212.81 180.54H209.19Z" fill="#119E6E" stroke="#1c3a2c" stroke-width="0.35"/><path d="M211 176.59L212.81 173.32H209.19Z" fill="#119E6E" stroke="#1c3a2c" stroke-width="0.35"/><path d="M218 183.8L219.81 180.54H216.19Z" fill="#119E6E" stroke="#1c3a2c" stroke-width="0.35"/><path d="M218 176.59L219.81 173.32H216.19Z" fill="#119E6E" stroke="#1c3a2c" stroke-width="0.35"/><path d="M218 169.38L219.81 166.11H216.19Z" fill="#119E6E" stroke="#1c3a2c" stroke-width="0.35"/><path d="M218 162.16L219.81 158.9H216.19Z" fill="#119E6E" stroke="#1c3a2c" stroke-width="0.35"/><text x="104.6" y="194.2" font-size="5.1" text-anchor="end" transform="rotate(-45 104.6 194.2)">Steatosis</text><text x="111.6" y="194.2" font-size="5.1" text-anchor="end" transform="rotate(-45 111.6 194.2)">Ballooning</text><text x="118.6" y="194.2" font-size="5.1" text-anchor="end" transform="rotate(-45 118.6 194.2)">Inflammation</text><text x="125.6" y="194.2" font-size="5.1" text-anchor="end" transform="rotate(-45 125.6 194.2)">Total</text><text x="137.1" y="194.2" font-size="5.1" text-anchor="end" transform="rotate(-45 137.1 194.2)">Steatosis</text><text x="143.8" y="194.2" font-size="5.1" text-anchor="end" transform="rotate(-45 143.8 194.2)">Ballooning</text><text x="150.8" y="194.2" font-size="5.1" text-anchor="end" transform="rotate(-45 150.8 194.2)">Inflammation</text><text x="157.8" y="194.2" font-size="5.1" text-anchor="end" transform="rotate(-45 157.8 194.2)">Total</text><text x="169.1" y="194.2" font-size="5.1" text-anchor="end" transform="rotate(-45 169.1 194.2)">Steatosis</text><text x="176.1" y="194.2" font-size="5.1" text-anchor="end" transform="rotate(-45 176.1 194.2)">Ballooning</text><text x="183.1" y="194.2" font-size="5.1" text-anchor="end" transform="rotate(-45 183.1 194.2)">Inflammation</text><text x="190.2" y="194.2" font-size="5.1" text-anchor="end" transform="rotate(-45 190.2 194.2)">Total</text><text x="200.6" y="194.2" font-size="5.1" text-anchor="end" transform="rotate(-45 200.6 194.2)">Steatosis</text><text x="207.6" y="194.2" font-size="5.1" text-anchor="end" transform="rotate(-45 207.6 194.2)">Ballooning</text><text x="214.6" y="194.2" font-size="5.1" text-anchor="end" transform="rotate(-45 214.6 194.2)">Inflammation</text><text x="221.6" y="194.2" font-size="5.1" text-anchor="end" transform="rotate(-45 221.6 194.2)">Total</text><path d="M165.5 128.1V126H217.7V128.1" stroke="#444" stroke-width="0.65" fill="none"/><text x="191.6" y="127.4" font-size="6.1" text-anchor="middle">*</text><path d="M100.6 134.8V132.7H186.6V134.8" stroke="#444" stroke-width="0.65" fill="none"/><text x="143.6" y="134.1" font-size="6.1" text-anchor="middle">***</text><path d="M100.6 143.7V141.6H156V143.7" stroke="#444" stroke-width="0.65" fill="none"/><text x="128.3" y="140.9" font-size="5.5" text-anchor="middle" font-style="italic">ns</text><text x="224" y="126" font-size="8.8" font-weight="bold" fill="#111" color="#111">l</text><path d="M240.4 129.2L240.4 189.7" stroke="#555" stroke-width="0.7" fill="none"/><path d="M238.6 189.4L240.4 189.4" stroke="#555" stroke-width="0.7" fill="none"/><text x="238.1" y="191.4" font-size="5.6" text-anchor="end">0</text><path d="M238.6 177.36L240.4 177.36" stroke="#555" stroke-width="0.7" fill="none"/><text x="238.1" y="179.36" font-size="5.6" text-anchor="end">1</text><path d="M238.6 165.32L240.4 165.32" stroke="#555" stroke-width="0.7" fill="none"/><text x="238.1" y="167.32" font-size="5.6" text-anchor="end">2</text><path d="M238.6 153.28L240.4 153.28" stroke="#555" stroke-width="0.7" fill="none"/><text x="238.1" y="155.28" font-size="5.6" text-anchor="end">3</text><path d="M238.6 141.24L240.4 141.24" stroke="#555" stroke-width="0.7" fill="none"/><text x="238.1" y="143.24" font-size="5.6" text-anchor="end">4</text><path d="M238.6 129.2L240.4 129.2" stroke="#555" stroke-width="0.7" fill="none"/><text x="238.1" y="131.2" font-size="5.6" text-anchor="end">5</text><path d="M240.4 189.4L300.5 189.4" stroke="#555" stroke-width="0.7" fill="none"/><text x="230.8" y="159.8" font-size="5.8" text-anchor="middle" transform="rotate(-90 230.8 159.8)">Masson staining area (%)</text><path d="M251.3 188.8L251.3 188.56" stroke="#333" stroke-width="0.6" fill="none"/><path d="M249.7 188.56L252.9 188.56" stroke="#333" stroke-width="0.6" fill="none"/><rect x="246.5" y="188.8" width="9.6" height="0.6" fill="#7f7f7f" stroke="#3a3a3a" stroke-width="0.45"/><circle cx="251.3" cy="193.4" r="1.46" fill="#CDBB80" stroke="#3d3828" stroke-width="0.35"/><path d="M265.8 188.8L265.8 188.56" stroke="#333" stroke-width="0.6" fill="none"/><path d="M264.2 188.56L267.4 188.56" stroke="#333" stroke-width="0.6" fill="none"/><rect x="261" y="188.8" width="9.6" height="0.6" fill="#7f7f7f" stroke="#3a3a3a" stroke-width="0.45"/><rect x="264.34" y="191.94" width="2.92" height="2.92" fill="#17AE6C" stroke="#1c3a2c" stroke-width="0.35"/><path d="M280.9 138.23L280.9 136.79" stroke="#333" stroke-width="0.6" fill="none"/><path d="M279.3 136.79L282.5 136.79" stroke="#333" stroke-width="0.6" fill="none"/><rect x="276.1" y="138.23" width="9.6" height="51.17" fill="#7f7f7f" stroke="#3a3a3a" stroke-width="0.45"/><path d="M280.9 191.67L282.63 194.78H279.17Z" fill="#CDBB80" stroke="#3d3828" stroke-width="0.35"/><path d="M295.4 177.36L295.4 174.95" stroke="#333" stroke-width="0.6" fill="none"/><path d="M293.8 174.95L297 174.95" stroke="#333" stroke-width="0.6" fill="none"/><rect x="290.6" y="177.36" width="9.6" height="12.04" fill="#7f7f7f" stroke="#3a3a3a" stroke-width="0.45"/><path d="M295.4 195.13L297.13 192.02H293.67Z" fill="#119E6E" stroke="#1c3a2c" stroke-width="0.35"/><path d="M251.3 133.8V131.7H279V133.8" stroke="#444" stroke-width="0.65" fill="none"/><text x="265.15" y="133.1" font-size="6.1" text-anchor="middle">***</text><path d="M283 133.8V131.7H296.5V133.8" stroke="#444" stroke-width="0.65" fill="none"/><text x="289.75" y="133.1" font-size="6.1" text-anchor="middle">**</text><path d="M251.3 143.1V141H265.8V143.1" stroke="#444" stroke-width="0.65" fill="none"/><text x="258.55" y="140.3" font-size="5.5" text-anchor="middle" font-style="italic">ns</text><text x="304" y="127" font-size="8.8" font-weight="bold" fill="#111" color="#111">m</text><path d="M325 128.5L325 189.7" stroke="#555" stroke-width="0.7" fill="none"/><path d="M323.2 189.4L325 189.4" stroke="#555" stroke-width="0.7" fill="none"/><text x="322.7" y="191.4" font-size="5.6" text-anchor="end">0</text><path d="M323.2 177.22L325 177.22" stroke="#555" stroke-width="0.7" fill="none"/><text x="322.7" y="179.22" font-size="5.6" text-anchor="end">1</text><path d="M323.2 165.04L325 165.04" stroke="#555" stroke-width="0.7" fill="none"/><text x="322.7" y="167.04" font-size="5.6" text-anchor="end">2</text><path d="M323.2 152.86L325 152.86" stroke="#555" stroke-width="0.7" fill="none"/><text x="322.7" y="154.86" font-size="5.6" text-anchor="end">3</text><path d="M323.2 140.68L325 140.68" stroke="#555" stroke-width="0.7" fill="none"/><text x="322.7" y="142.68" font-size="5.6" text-anchor="end">4</text><path d="M323.2 128.5L325 128.5" stroke="#555" stroke-width="0.7" fill="none"/><text x="322.7" y="130.5" font-size="5.6" text-anchor="end">5</text><path d="M325 189.4L388.5 189.4" stroke="#555" stroke-width="0.7" fill="none"/><text x="315.6" y="161" font-size="5.3" text-anchor="middle" transform="rotate(-90 315.6 161)">Sirius red staining area (%)</text><path d="M335.8 188.79L335.8 188.55" stroke="#333" stroke-width="0.6" fill="none"/><path d="M334.2 188.55L337.4 188.55" stroke="#333" stroke-width="0.6" fill="none"/><rect x="330.6" y="188.79" width="10.4" height="0.61" fill="#7f7f7f" stroke="#3a3a3a" stroke-width="0.45"/><circle cx="335.8" cy="193.4" r="1.46" fill="#CDBB80" stroke="#3d3828" stroke-width="0.35"/><path d="M350.4 188.79L350.4 188.55" stroke="#333" stroke-width="0.6" fill="none"/><path d="M348.8 188.55L352 188.55" stroke="#333" stroke-width="0.6" fill="none"/><rect x="345.2" y="188.79" width="10.4" height="0.61" fill="#7f7f7f" stroke="#3a3a3a" stroke-width="0.45"/><rect x="348.94" y="191.94" width="2.92" height="2.92" fill="#17AE6C" stroke="#1c3a2c" stroke-width="0.35"/><path d="M365.6 141.9L365.6 140.44" stroke="#333" stroke-width="0.6" fill="none"/><path d="M364 140.44L367.2 140.44" stroke="#333" stroke-width="0.6" fill="none"/><rect x="360.4" y="141.9" width="10.4" height="47.5" fill="#7f7f7f" stroke="#3a3a3a" stroke-width="0.45"/><path d="M365.6 191.67L367.33 194.78H363.87Z" fill="#CDBB80" stroke="#3d3828" stroke-width="0.35"/><path d="M380.2 181.85L380.2 179.17" stroke="#333" stroke-width="0.6" fill="none"/><path d="M378.6 179.17L381.8 179.17" stroke="#333" stroke-width="0.6" fill="none"/><rect x="375" y="181.85" width="10.4" height="7.55" fill="#7f7f7f" stroke="#3a3a3a" stroke-width="0.45"/><path d="M380.2 195.13L381.93 192.02H378.47Z" fill="#119E6E" stroke="#1c3a2c" stroke-width="0.35"/><path d="M335.8 137.5V135.4H363.5V137.5" stroke="#444" stroke-width="0.65" fill="none"/><text x="349.65" y="136.8" font-size="6.1" text-anchor="middle">***</text><path d="M367.5 137.5V135.4H382V137.5" stroke="#444" stroke-width="0.65" fill="none"/><text x="374.75" y="136.8" font-size="6.1" text-anchor="middle">**</text><path d="M335.8 147.3V145.2H350.4V147.3" stroke="#444" stroke-width="0.65" fill="none"/><text x="343.1" y="144.5" font-size="5.5" text-anchor="middle" font-style="italic">ns</text><text x="101.5" y="222.4" font-size="8.8" font-weight="bold" fill="#111" color="#111">n</text><path d="M125.6 221.5L125.6 281.8" stroke="#555" stroke-width="0.7" fill="none"/><path d="M123.8 281.5L125.6 281.5" stroke="#555" stroke-width="0.7" fill="none"/><text x="123.3" y="283.5" font-size="5.6" text-anchor="end">0</text><path d="M123.8 261.5L125.6 261.5" stroke="#555" stroke-width="0.7" fill="none"/><text x="123.3" y="263.5" font-size="5.6" text-anchor="end">10</text><path d="M123.8 241.5L125.6 241.5" stroke="#555" stroke-width="0.7" fill="none"/><text x="123.3" y="243.5" font-size="5.6" text-anchor="end">20</text><path d="M123.8 221.5L125.6 221.5" stroke="#555" stroke-width="0.7" fill="none"/><text x="123.3" y="223.5" font-size="5.6" text-anchor="end">30</text><path d="M125.6 281.5L190 281.5" stroke="#555" stroke-width="0.7" fill="none"/><text x="114" y="252.1" font-size="5.2" text-anchor="middle" transform="rotate(-90 114 252.1)">CD11b positive cells (%)</text><path d="M135.4 279.9L135.4 279.3" stroke="#333" stroke-width="0.6" fill="none"/><path d="M133.8 279.3L137 279.3" stroke="#333" stroke-width="0.6" fill="none"/><rect x="130.1" y="279.9" width="10.6" height="1.6" fill="#7f7f7f" stroke="#3a3a3a" stroke-width="0.45"/><circle cx="135.4" cy="285.6" r="1.46" fill="#CDBB80" stroke="#3d3828" stroke-width="0.35"/><path d="M150.4 280.1L150.4 279.5" stroke="#333" stroke-width="0.6" fill="none"/><path d="M148.8 279.5L152 279.5" stroke="#333" stroke-width="0.6" fill="none"/><rect x="145.1" y="280.1" width="10.6" height="1.4" fill="#7f7f7f" stroke="#3a3a3a" stroke-width="0.45"/><rect x="148.94" y="284.14" width="2.92" height="2.92" fill="#17AE6C" stroke="#1c3a2c" stroke-width="0.35"/><path d="M165.4 237.5L165.4 232.9" stroke="#333" stroke-width="0.6" fill="none"/><path d="M163.8 232.9L167 232.9" stroke="#333" stroke-width="0.6" fill="none"/><rect x="160.1" y="237.5" width="10.6" height="44" fill="#7f7f7f" stroke="#3a3a3a" stroke-width="0.45"/><path d="M165.4 283.87L167.13 286.98H163.67Z" fill="#CDBB80" stroke="#3d3828" stroke-width="0.35"/><path d="M180.3 268.5L180.3 266.7" stroke="#333" stroke-width="0.6" fill="none"/><path d="M178.7 266.7L181.9 266.7" stroke="#333" stroke-width="0.6" fill="none"/><rect x="175" y="268.5" width="10.6" height="13" fill="#7f7f7f" stroke="#3a3a3a" stroke-width="0.45"/><path d="M180.3 287.33L182.03 284.22H178.57Z" fill="#119E6E" stroke="#1c3a2c" stroke-width="0.35"/><path d="M136.5 230.4V228.3H163.5V230.4" stroke="#444" stroke-width="0.65" fill="none"/><text x="150" y="229.7" font-size="6.1" text-anchor="middle">***</text><path d="M167.7 230.4V228.3H180.2V230.4" stroke="#444" stroke-width="0.65" fill="none"/><text x="173.95" y="229.7" font-size="6.1" text-anchor="middle">**</text><path d="M136.5 239.1V237H151V239.1" stroke="#444" stroke-width="0.65" fill="none"/><text x="143.75" y="236.3" font-size="5.5" text-anchor="middle" font-style="italic">ns</text><text x="212.5" y="222.4" font-size="8.8" font-weight="bold" fill="#111" color="#111">o</text><path d="M233 223.5L233 281.8" stroke="#555" stroke-width="0.7" fill="none"/><path d="M231.2 281.5L233 281.5" stroke="#555" stroke-width="0.7" fill="none"/><text x="230.7" y="283.5" font-size="5.6" text-anchor="end">0</text><path d="M231.2 269.9L233 269.9" stroke="#555" stroke-width="0.7" fill="none"/><text x="230.7" y="271.9" font-size="5.6" text-anchor="end">20</text><path d="M231.2 258.3L233 258.3" stroke="#555" stroke-width="0.7" fill="none"/><text x="230.7" y="260.3" font-size="5.6" text-anchor="end">40</text><path d="M231.2 246.7L233 246.7" stroke="#555" stroke-width="0.7" fill="none"/><text x="230.7" y="248.7" font-size="5.6" text-anchor="end">60</text><path d="M231.2 235.1L233 235.1" stroke="#555" stroke-width="0.7" fill="none"/><text x="230.7" y="237.1" font-size="5.6" text-anchor="end">80</text><path d="M231.2 223.5L233 223.5" stroke="#555" stroke-width="0.7" fill="none"/><text x="230.7" y="225.5" font-size="5.6" text-anchor="end">100</text><path d="M233 281.5L376 281.5" stroke="#555" stroke-width="0.7" fill="none"/><text x="219" y="252.5" font-size="5.5" text-anchor="middle" transform="rotate(-90 219 252.5)">Liver lipid contents</text><rect x="237.3" y="260.04" width="7.5" height="21.46" fill="#7f7f7f" stroke="#3a3a3a" stroke-width="0.45"/><circle cx="242.68" cy="264.1" r="1.46" fill="#CDBB80" stroke="#3d3828" stroke-width="0.35"/><circle cx="243.04" cy="252.5" r="1.46" fill="#CDBB80" stroke="#3d3828" stroke-width="0.35"/><circle cx="238.84" cy="262.31" r="1.46" fill="#CDBB80" stroke="#3d3828" stroke-width="0.35"/><circle cx="240.06" cy="261.26" r="1.46" fill="#CDBB80" stroke="#3d3828" stroke-width="0.35"/><circle cx="239.22" cy="254.53" r="1.46" fill="#CDBB80" stroke="#3d3828" stroke-width="0.35"/><circle cx="239.56" cy="262.14" r="1.46" fill="#CDBB80" stroke="#3d3828" stroke-width="0.35"/><circle cx="243.32" cy="260.14" r="1.46" fill="#CDBB80" stroke="#3d3828" stroke-width="0.35"/><circle cx="241.45" cy="258.52" r="1.46" fill="#CDBB80" stroke="#3d3828" stroke-width="0.35"/><circle cx="243.11" cy="263.98" r="1.46" fill="#CDBB80" stroke="#3d3828" stroke-width="0.35"/><circle cx="240.44" cy="258.69" r="1.46" fill="#CDBB80" stroke="#3d3828" stroke-width="0.35"/><circle cx="242.81" cy="260.12" r="1.46" fill="#CDBB80" stroke="#3d3828" stroke-width="0.35"/><circle cx="240.81" cy="259.19" r="1.46" fill="#CDBB80" stroke="#3d3828" stroke-width="0.35"/><rect x="248.8" y="257.14" width="7.5" height="24.36" fill="#7f7f7f" stroke="#3a3a3a" stroke-width="0.45"/><rect x="251.82" y="267.28" width="2.92" height="2.92" fill="#17AE6C" stroke="#1c3a2c" stroke-width="0.35"/><rect x="249.67" y="249.3" width="2.92" height="2.92" fill="#17AE6C" stroke="#1c3a2c" stroke-width="0.35"/><rect x="248.75" y="256.17" width="2.92" height="2.92" fill="#17AE6C" stroke="#1c3a2c" stroke-width="0.35"/><rect x="250.26" y="253.68" width="2.92" height="2.92" fill="#17AE6C" stroke="#1c3a2c" stroke-width="0.35"/><rect x="251.95" y="256.39" width="2.92" height="2.92" fill="#17AE6C" stroke="#1c3a2c" stroke-width="0.35"/><rect x="249.58" y="260.83" width="2.92" height="2.92" fill="#17AE6C" stroke="#1c3a2c" stroke-width="0.35"/><rect x="250.19" y="259.23" width="2.92" height="2.92" fill="#17AE6C" stroke="#1c3a2c" stroke-width="0.35"/><rect x="249.67" y="254.81" width="2.92" height="2.92" fill="#17AE6C" stroke="#1c3a2c" stroke-width="0.35"/><rect x="252.51" y="251.46" width="2.92" height="2.92" fill="#17AE6C" stroke="#1c3a2c" stroke-width="0.35"/><rect x="251.32" y="253.77" width="2.92" height="2.92" fill="#17AE6C" stroke="#1c3a2c" stroke-width="0.35"/><rect x="249" y="253.33" width="2.92" height="2.92" fill="#17AE6C" stroke="#1c3a2c" stroke-width="0.35"/><rect x="249.18" y="255.87" width="2.92" height="2.92" fill="#17AE6C" stroke="#1c3a2c" stroke-width="0.35"/><rect x="260.2" y="240.9" width="7.5" height="40.6" fill="#7f7f7f" stroke="#3a3a3a" stroke-width="0.45"/><path d="M263.05 243.81L264.78 246.92H261.32Z" fill="#CDBB80" stroke="#3d3828" stroke-width="0.35"/><path d="M264.27 232.21L266 235.32H262.54Z" fill="#CDBB80" stroke="#3d3828" stroke-width="0.35"/><path d="M263.26 235.25L264.99 238.36H261.54Z" fill="#CDBB80" stroke="#3d3828" stroke-width="0.35"/><path d="M263.55 242.07L265.28 245.18H261.82Z" fill="#CDBB80" stroke="#3d3828" stroke-width="0.35"/><path d="M265.7 236.93L267.43 240.04H263.97Z" fill="#CDBB80" stroke="#3d3828" stroke-width="0.35"/><path d="M266.33 239.99L268.06 243.1H264.61Z" fill="#CDBB80" stroke="#3d3828" stroke-width="0.35"/><path d="M263.3 240.14L265.02 243.26H261.57Z" fill="#CDBB80" stroke="#3d3828" stroke-width="0.35"/><path d="M262.5 236.86L264.22 239.97H260.77Z" fill="#CDBB80" stroke="#3d3828" stroke-width="0.35"/><path d="M265.04 235.34L266.77 238.45H263.32Z" fill="#CDBB80" stroke="#3d3828" stroke-width="0.35"/><path d="M262.53 241.17L264.26 244.28H260.8Z" fill="#CDBB80" stroke="#3d3828" stroke-width="0.35"/><path d="M261.58 237.9L263.31 241.01H259.85Z" fill="#CDBB80" stroke="#3d3828" stroke-width="0.35"/><path d="M265.88 241.71L267.61 244.82H264.15Z" fill="#CDBB80" stroke="#3d3828" stroke-width="0.35"/><rect x="272" y="255.98" width="7.5" height="25.52" fill="#7f7f7f" stroke="#3a3a3a" stroke-width="0.45"/><path d="M273.78 262.93L275.51 259.82H272.05Z" fill="#119E6E" stroke="#1c3a2c" stroke-width="0.35"/><path d="M276.34 252.49L278.06 249.38H274.61Z" fill="#119E6E" stroke="#1c3a2c" stroke-width="0.35"/><path d="M275.13 262L276.86 258.89H273.4Z" fill="#119E6E" stroke="#1c3a2c" stroke-width="0.35"/><path d="M275.77 255.48L277.5 252.37H274.04Z" fill="#119E6E" stroke="#1c3a2c" stroke-width="0.35"/><path d="M274.05 262.2L275.78 259.09H272.32Z" fill="#119E6E" stroke="#1c3a2c" stroke-width="0.35"/><path d="M274.71 254.7L276.44 251.59H272.98Z" fill="#119E6E" stroke="#1c3a2c" stroke-width="0.35"/><path d="M275.85 259.22L277.58 256.11H274.12Z" fill="#119E6E" stroke="#1c3a2c" stroke-width="0.35"/><path d="M277.79 257.33L279.52 254.22H276.06Z" fill="#119E6E" stroke="#1c3a2c" stroke-width="0.35"/><path d="M273.87 254.42L275.6 251.31H272.14Z" fill="#119E6E" stroke="#1c3a2c" stroke-width="0.35"/><path d="M275.7 257.4L277.43 254.29H273.98Z" fill="#119E6E" stroke="#1c3a2c" stroke-width="0.35"/><path d="M277.21 261.34L278.94 258.23H275.49Z" fill="#119E6E" stroke="#1c3a2c" stroke-width="0.35"/><path d="M277.99 262.13L279.72 259.02H276.26Z" fill="#119E6E" stroke="#1c3a2c" stroke-width="0.35"/><rect x="283.3" y="277.44" width="7.5" height="4.06" fill="#7f7f7f" stroke="#3a3a3a" stroke-width="0.45"/><circle cx="288.42" cy="279.76" r="1.46" fill="#CDBB80" stroke="#3d3828" stroke-width="0.35"/><circle cx="285.72" cy="275.12" r="1.46" fill="#CDBB80" stroke="#3d3828" stroke-width="0.35"/><circle cx="286.59" cy="277.24" r="1.46" fill="#CDBB80" stroke="#3d3828" stroke-width="0.35"/><circle cx="288.71" cy="276.87" r="1.46" fill="#CDBB80" stroke="#3d3828" stroke-width="0.35"/><circle cx="288.63" cy="278.55" r="1.46" fill="#CDBB80" stroke="#3d3828" stroke-width="0.35"/><circle cx="285.53" cy="277.82" r="1.46" fill="#CDBB80" stroke="#3d3828" stroke-width="0.35"/><circle cx="285.7" cy="277.4" r="1.46" fill="#CDBB80" stroke="#3d3828" stroke-width="0.35"/><circle cx="286.57" cy="276.41" r="1.46" fill="#CDBB80" stroke="#3d3828" stroke-width="0.35"/><circle cx="287.14" cy="277.95" r="1.46" fill="#CDBB80" stroke="#3d3828" stroke-width="0.35"/><circle cx="286.49" cy="276.11" r="1.46" fill="#CDBB80" stroke="#3d3828" stroke-width="0.35"/><circle cx="285.24" cy="278.35" r="1.46" fill="#CDBB80" stroke="#3d3828" stroke-width="0.35"/><circle cx="285.84" cy="277.13" r="1.46" fill="#CDBB80" stroke="#3d3828" stroke-width="0.35"/><rect x="295" y="277.44" width="7.5" height="4.06" fill="#7f7f7f" stroke="#3a3a3a" stroke-width="0.45"/><rect x="297.9" y="278.3" width="2.92" height="2.92" fill="#17AE6C" stroke="#1c3a2c" stroke-width="0.35"/><rect x="296.36" y="274.24" width="2.92" height="2.92" fill="#17AE6C" stroke="#1c3a2c" stroke-width="0.35"/><rect x="296.91" y="276.52" width="2.92" height="2.92" fill="#17AE6C" stroke="#1c3a2c" stroke-width="0.35"/><rect x="297.69" y="276.32" width="2.92" height="2.92" fill="#17AE6C" stroke="#1c3a2c" stroke-width="0.35"/><rect x="296.94" y="278.12" width="2.92" height="2.92" fill="#17AE6C" stroke="#1c3a2c" stroke-width="0.35"/><rect x="298.05" y="274.72" width="2.92" height="2.92" fill="#17AE6C" stroke="#1c3a2c" stroke-width="0.35"/><rect x="297.04" y="275.65" width="2.92" height="2.92" fill="#17AE6C" stroke="#1c3a2c" stroke-width="0.35"/><rect x="297" y="275.97" width="2.92" height="2.92" fill="#17AE6C" stroke="#1c3a2c" stroke-width="0.35"/><rect x="295" y="276.26" width="2.92" height="2.92" fill="#17AE6C" stroke="#1c3a2c" stroke-width="0.35"/><rect x="297.86" y="275.71" width="2.92" height="2.92" fill="#17AE6C" stroke="#1c3a2c" stroke-width="0.35"/><rect x="297.24" y="276.41" width="2.92" height="2.92" fill="#17AE6C" stroke="#1c3a2c" stroke-width="0.35"/><rect x="296.02" y="277.02" width="2.92" height="2.92" fill="#17AE6C" stroke="#1c3a2c" stroke-width="0.35"/><rect x="306.6" y="261.2" width="7.5" height="20.3" fill="#7f7f7f" stroke="#3a3a3a" stroke-width="0.45"/><path d="M310.4 263.53L312.13 266.64H308.67Z" fill="#CDBB80" stroke="#3d3828" stroke-width="0.35"/><path d="M308.15 253.67L309.87 256.78H306.42Z" fill="#CDBB80" stroke="#3d3828" stroke-width="0.35"/><path d="M311 261.3L312.73 264.41H309.28Z" fill="#CDBB80" stroke="#3d3828" stroke-width="0.35"/><path d="M308.34 259.11L310.07 262.22H306.62Z" fill="#CDBB80" stroke="#3d3828" stroke-width="0.35"/><path d="M311.47 260.97L313.2 264.08H309.74Z" fill="#CDBB80" stroke="#3d3828" stroke-width="0.35"/><path d="M311.68 259.07L313.41 262.18H309.95Z" fill="#CDBB80" stroke="#3d3828" stroke-width="0.35"/><path d="M310.41 260.63L312.13 263.74H308.68Z" fill="#CDBB80" stroke="#3d3828" stroke-width="0.35"/><path d="M308.21 259.28L309.94 262.39H306.48Z" fill="#CDBB80" stroke="#3d3828" stroke-width="0.35"/><path d="M310.37 257.66L312.1 260.77H308.64Z" fill="#CDBB80" stroke="#3d3828" stroke-width="0.35"/><path d="M309.76 257.58L311.49 260.69H308.04Z" fill="#CDBB80" stroke="#3d3828" stroke-width="0.35"/><path d="M312.51 257.24L314.24 260.35H310.79Z" fill="#CDBB80" stroke="#3d3828" stroke-width="0.35"/><path d="M308.6 258.02L310.33 261.13H306.88Z" fill="#CDBB80" stroke="#3d3828" stroke-width="0.35"/><rect x="318" y="270.48" width="7.5" height="11.02" fill="#7f7f7f" stroke="#3a3a3a" stroke-width="0.45"/><path d="M322.98 276.27L324.71 273.16H321.25Z" fill="#119E6E" stroke="#1c3a2c" stroke-width="0.35"/><path d="M320.11 267.57L321.84 264.46H318.38Z" fill="#119E6E" stroke="#1c3a2c" stroke-width="0.35"/><path d="M323.65 267.69L325.38 264.58H321.93Z" fill="#119E6E" stroke="#1c3a2c" stroke-width="0.35"/><path d="M320.67 272.66L322.4 269.55H318.94Z" fill="#119E6E" stroke="#1c3a2c" stroke-width="0.35"/><path d="M323.27 276.18L324.99 273.07H321.54Z" fill="#119E6E" stroke="#1c3a2c" stroke-width="0.35"/><path d="M320.04 270.08L321.77 266.97H318.31Z" fill="#119E6E" stroke="#1c3a2c" stroke-width="0.35"/><path d="M321.76 271.93L323.49 268.82H320.03Z" fill="#119E6E" stroke="#1c3a2c" stroke-width="0.35"/><path d="M323.77 271.08L325.49 267.97H322.04Z" fill="#119E6E" stroke="#1c3a2c" stroke-width="0.35"/><path d="M320.35 272.87L322.08 269.76H318.62Z" fill="#119E6E" stroke="#1c3a2c" stroke-width="0.35"/><path d="M320.61 271.01L322.34 267.9H318.88Z" fill="#119E6E" stroke="#1c3a2c" stroke-width="0.35"/><path d="M321.78 270.35L323.51 267.24H320.05Z" fill="#119E6E" stroke="#1c3a2c" stroke-width="0.35"/><path d="M320.88 271.4L322.61 268.29H319.15Z" fill="#119E6E" stroke="#1c3a2c" stroke-width="0.35"/><rect x="330.5" y="264.1" width="7.5" height="17.4" fill="#7f7f7f" stroke="#3a3a3a" stroke-width="0.45"/><circle cx="336.04" cy="271.06" r="1.46" fill="#CDBB80" stroke="#3d3828" stroke-width="0.35"/><circle cx="334.51" cy="255.98" r="1.46" fill="#CDBB80" stroke="#3d3828" stroke-width="0.35"/><circle cx="334.63" cy="261.77" r="1.46" fill="#CDBB80" stroke="#3d3828" stroke-width="0.35"/><circle cx="336.09" cy="263.55" r="1.46" fill="#CDBB80" stroke="#3d3828" stroke-width="0.35"/><circle cx="332.35" cy="259.42" r="1.46" fill="#CDBB80" stroke="#3d3828" stroke-width="0.35"/><circle cx="336.62" cy="256.59" r="1.46" fill="#CDBB80" stroke="#3d3828" stroke-width="0.35"/><circle cx="334.87" cy="267.53" r="1.46" fill="#CDBB80" stroke="#3d3828" stroke-width="0.35"/><circle cx="333.74" cy="260.87" r="1.46" fill="#CDBB80" stroke="#3d3828" stroke-width="0.35"/><circle cx="335.68" cy="258.33" r="1.46" fill="#CDBB80" stroke="#3d3828" stroke-width="0.35"/><circle cx="333.12" cy="260.62" r="1.46" fill="#CDBB80" stroke="#3d3828" stroke-width="0.35"/><circle cx="336.6" cy="261.03" r="1.46" fill="#CDBB80" stroke="#3d3828" stroke-width="0.35"/><circle cx="334.62" cy="266.43" r="1.46" fill="#CDBB80" stroke="#3d3828" stroke-width="0.35"/><rect x="342" y="261.78" width="7.5" height="19.72" fill="#7f7f7f" stroke="#3a3a3a" stroke-width="0.45"/><rect x="344.7" y="267.28" width="2.92" height="2.92" fill="#17AE6C" stroke="#1c3a2c" stroke-width="0.35"/><rect x="345.08" y="253.94" width="2.92" height="2.92" fill="#17AE6C" stroke="#1c3a2c" stroke-width="0.35"/><rect x="343.39" y="262.7" width="2.92" height="2.92" fill="#17AE6C" stroke="#1c3a2c" stroke-width="0.35"/><rect x="341.9" y="263.94" width="2.92" height="2.92" fill="#17AE6C" stroke="#1c3a2c" stroke-width="0.35"/><rect x="342.05" y="255.96" width="2.92" height="2.92" fill="#17AE6C" stroke="#1c3a2c" stroke-width="0.35"/><rect x="342.61" y="262.27" width="2.92" height="2.92" fill="#17AE6C" stroke="#1c3a2c" stroke-width="0.35"/><rect x="344.85" y="259.58" width="2.92" height="2.92" fill="#17AE6C" stroke="#1c3a2c" stroke-width="0.35"/><rect x="343.97" y="260.36" width="2.92" height="2.92" fill="#17AE6C" stroke="#1c3a2c" stroke-width="0.35"/><rect x="344.35" y="261.37" width="2.92" height="2.92" fill="#17AE6C" stroke="#1c3a2c" stroke-width="0.35"/><rect x="346.19" y="259.24" width="2.92" height="2.92" fill="#17AE6C" stroke="#1c3a2c" stroke-width="0.35"/><rect x="342.53" y="262.63" width="2.92" height="2.92" fill="#17AE6C" stroke="#1c3a2c" stroke-width="0.35"/><rect x="342.98" y="266.47" width="2.92" height="2.92" fill="#17AE6C" stroke="#1c3a2c" stroke-width="0.35"/><rect x="353.5" y="246.12" width="7.5" height="35.38" fill="#7f7f7f" stroke="#3a3a3a" stroke-width="0.45"/><path d="M357.84 250.77L359.57 253.88H356.12Z" fill="#CDBB80" stroke="#3d3828" stroke-width="0.35"/><path d="M357.13 239.17L358.86 242.28H355.4Z" fill="#CDBB80" stroke="#3d3828" stroke-width="0.35"/><path d="M355.5 244.74L357.22 247.85H353.77Z" fill="#CDBB80" stroke="#3d3828" stroke-width="0.35"/><path d="M359.35 244.9L361.07 248.01H357.62Z" fill="#CDBB80" stroke="#3d3828" stroke-width="0.35"/><path d="M356.02 241.68L357.75 244.79H354.29Z" fill="#CDBB80" stroke="#3d3828" stroke-width="0.35"/><path d="M355.57 244.35L357.29 247.46H353.84Z" fill="#CDBB80" stroke="#3d3828" stroke-width="0.35"/><path d="M355.31 242.25L357.04 245.36H353.58Z" fill="#CDBB80" stroke="#3d3828" stroke-width="0.35"/><path d="M357.91 242.7L359.64 245.81H356.19Z" fill="#CDBB80" stroke="#3d3828" stroke-width="0.35"/><path d="M359.03 243.77L360.76 246.88H357.3Z" fill="#CDBB80" stroke="#3d3828" stroke-width="0.35"/><path d="M358.6 240.6L360.33 243.71H356.88Z" fill="#CDBB80" stroke="#3d3828" stroke-width="0.35"/><path d="M356.78 246.05L358.51 249.16H355.05Z" fill="#CDBB80" stroke="#3d3828" stroke-width="0.35"/><path d="M356.12 245.43L357.85 248.54H354.39Z" fill="#CDBB80" stroke="#3d3828" stroke-width="0.35"/><rect x="365.3" y="258.3" width="7.5" height="23.2" fill="#7f7f7f" stroke="#3a3a3a" stroke-width="0.45"/><path d="M368.6 264.09L370.33 260.98H366.87Z" fill="#119E6E" stroke="#1c3a2c" stroke-width="0.35"/><path d="M367.79 256.55L369.52 253.44H366.06Z" fill="#119E6E" stroke="#1c3a2c" stroke-width="0.35"/><path d="M366.93 257.32L368.66 254.21H365.2Z" fill="#119E6E" stroke="#1c3a2c" stroke-width="0.35"/><path d="M370.39 259.83L372.12 256.72H368.66Z" fill="#119E6E" stroke="#1c3a2c" stroke-width="0.35"/><path d="M366.71 261.65L368.44 258.54H364.98Z" fill="#119E6E" stroke="#1c3a2c" stroke-width="0.35"/><path d="M369.29 260.7L371.02 257.59H367.57Z" fill="#119E6E" stroke="#1c3a2c" stroke-width="0.35"/><path d="M371.17 261.27L372.89 258.16H369.44Z" fill="#119E6E" stroke="#1c3a2c" stroke-width="0.35"/><path d="M367.33 261.65L369.06 258.54H365.6Z" fill="#119E6E" stroke="#1c3a2c" stroke-width="0.35"/><path d="M367.61 257.2L369.34 254.09H365.88Z" fill="#119E6E" stroke="#1c3a2c" stroke-width="0.35"/><path d="M369.57 261.21L371.3 258.1H367.84Z" fill="#119E6E" stroke="#1c3a2c" stroke-width="0.35"/><path d="M369.08 259.99L370.81 256.88H367.36Z" fill="#119E6E" stroke="#1c3a2c" stroke-width="0.35"/><path d="M369.73 257.79L371.46 254.68H368Z" fill="#119E6E" stroke="#1c3a2c" stroke-width="0.35"/><path d="M241 227.7V225.6H263.5V227.7" stroke="#444" stroke-width="0.65" fill="none"/><text x="252.25" y="227" font-size="6.1" text-anchor="middle">**</text><path d="M266.5 227.7V225.6H275.5V227.7" stroke="#444" stroke-width="0.65" fill="none"/><text x="271" y="227" font-size="6.1" text-anchor="middle">*</text><path d="M241 236.1V234H252V236.1" stroke="#444" stroke-width="0.65" fill="none"/><text x="246.5" y="233.3" font-size="5.5" text-anchor="middle" font-style="italic">ns</text><path d="M287 249.3V247.2H309V249.3" stroke="#444" stroke-width="0.65" fill="none"/><text x="298" y="248.6" font-size="6.1" text-anchor="middle">**</text><path d="M313 249.3V247.2H322V249.3" stroke="#444" stroke-width="0.65" fill="none"/><text x="317.5" y="248.6" font-size="6.1" text-anchor="middle">*</text><path d="M287 258.6V256.5H299V258.6" stroke="#444" stroke-width="0.65" fill="none"/><text x="293" y="255.8" font-size="5.5" text-anchor="middle" font-style="italic">ns</text><path d="M334.5 236.5V234.4H357V236.5" stroke="#444" stroke-width="0.65" fill="none"/><text x="345.75" y="235.8" font-size="6.1" text-anchor="middle">**</text><path d="M360.5 236.5V234.4H369V236.5" stroke="#444" stroke-width="0.65" fill="none"/><text x="364.75" y="235.8" font-size="6.1" text-anchor="middle">*</text><path d="M334.5 245.8V243.7H346V245.8" stroke="#444" stroke-width="0.65" fill="none"/><text x="340.25" y="243" font-size="5.5" text-anchor="middle" font-style="italic">ns</text><path d="M237 284.2L280 284.2" stroke="#555" stroke-width="0.8" fill="none"/><text x="258.5" y="291.2" font-size="5.4" text-anchor="middle">TG (mg/g)</text><path d="M284.4 284.2L325.8 284.2" stroke="#555" stroke-width="0.8" fill="none"/><text x="305.1" y="291.2" font-size="5.4" text-anchor="middle">TC (mg/g)</text><path d="M333 284.2L374 284.2" stroke="#555" stroke-width="0.8" fill="none"/><text x="353.5" y="291.2" font-size="5.4" text-anchor="middle">NEFA (&#956;mol/g)</text><text x="0.5" y="298.8" font-size="8.8" font-weight="bold" fill="#111" color="#111">p</text><path d="M19 302.2L19 361.3" stroke="#555" stroke-width="0.7" fill="none"/><path d="M17.2 361L19 361" stroke="#555" stroke-width="0.7" fill="none"/><text x="16.7" y="363" font-size="5.6" text-anchor="end">0</text><path d="M17.2 346.3L19 346.3" stroke="#555" stroke-width="0.7" fill="none"/><text x="16.7" y="348.3" font-size="5.6" text-anchor="end">20</text><path d="M17.2 331.6L19 331.6" stroke="#555" stroke-width="0.7" fill="none"/><text x="16.7" y="333.6" font-size="5.6" text-anchor="end">40</text><path d="M17.2 316.9L19 316.9" stroke="#555" stroke-width="0.7" fill="none"/><text x="16.7" y="318.9" font-size="5.6" text-anchor="end">60</text><path d="M17.2 302.2L19 302.2" stroke="#555" stroke-width="0.7" fill="none"/><text x="16.7" y="304.2" font-size="5.6" text-anchor="end">80</text><path d="M19 361L162 361" stroke="#555" stroke-width="0.7" fill="none"/><text x="7.6" y="331.6" font-size="5.5" text-anchor="middle" transform="rotate(-90 7.6 331.6)">Serum contents (pg/ml)</text><rect x="21.1" y="349.98" width="4.7" height="11.02" fill="#7f7f7f" stroke="#3a3a3a" stroke-width="0.45"/><circle cx="21.97" cy="355.12" r="1.39" fill="#CDBB80" stroke="#3d3828" stroke-width="0.35"/><circle cx="24.48" cy="344.83" r="1.39" fill="#CDBB80" stroke="#3d3828" stroke-width="0.35"/><circle cx="24.19" cy="349.11" r="1.39" fill="#CDBB80" stroke="#3d3828" stroke-width="0.35"/><circle cx="23.35" cy="349.36" r="1.39" fill="#CDBB80" stroke="#3d3828" stroke-width="0.35"/><circle cx="24.18" cy="351.44" r="1.39" fill="#CDBB80" stroke="#3d3828" stroke-width="0.35"/><circle cx="23.31" cy="350.77" r="1.39" fill="#CDBB80" stroke="#3d3828" stroke-width="0.35"/><circle cx="22.63" cy="347.95" r="1.39" fill="#CDBB80" stroke="#3d3828" stroke-width="0.35"/><circle cx="22.27" cy="348.36" r="1.39" fill="#CDBB80" stroke="#3d3828" stroke-width="0.35"/><circle cx="22.65" cy="349.14" r="1.39" fill="#CDBB80" stroke="#3d3828" stroke-width="0.35"/><circle cx="22.07" cy="353.97" r="1.39" fill="#CDBB80" stroke="#3d3828" stroke-width="0.35"/><rect x="28.13" y="349.61" width="4.7" height="11.39" fill="#7f7f7f" stroke="#3a3a3a" stroke-width="0.45"/><rect x="29.96" y="352.26" width="2.77" height="2.77" fill="#17AE6C" stroke="#1c3a2c" stroke-width="0.35"/><rect x="29.16" y="343.44" width="2.77" height="2.77" fill="#17AE6C" stroke="#1c3a2c" stroke-width="0.35"/><rect x="28.39" y="350.1" width="2.77" height="2.77" fill="#17AE6C" stroke="#1c3a2c" stroke-width="0.35"/><rect x="29.52" y="345.07" width="2.77" height="2.77" fill="#17AE6C" stroke="#1c3a2c" stroke-width="0.35"/><rect x="30.49" y="349.66" width="2.77" height="2.77" fill="#17AE6C" stroke="#1c3a2c" stroke-width="0.35"/><rect x="28.25" y="352.23" width="2.77" height="2.77" fill="#17AE6C" stroke="#1c3a2c" stroke-width="0.35"/><rect x="30.24" y="348.64" width="2.77" height="2.77" fill="#17AE6C" stroke="#1c3a2c" stroke-width="0.35"/><rect x="27.64" y="349.91" width="2.77" height="2.77" fill="#17AE6C" stroke="#1c3a2c" stroke-width="0.35"/><rect x="28.38" y="350.45" width="2.77" height="2.77" fill="#17AE6C" stroke="#1c3a2c" stroke-width="0.35"/><rect x="28.3" y="349" width="2.77" height="2.77" fill="#17AE6C" stroke="#1c3a2c" stroke-width="0.35"/><rect x="35.16" y="322.78" width="4.7" height="38.22" fill="#7f7f7f" stroke="#3a3a3a" stroke-width="0.45"/><path d="M38.01 329.96L39.65 332.91H36.36Z" fill="#CDBB80" stroke="#3d3828" stroke-width="0.35"/><path d="M38.95 313.79L40.59 316.74H37.31Z" fill="#CDBB80" stroke="#3d3828" stroke-width="0.35"/><path d="M37.42 321.51L39.06 324.47H35.78Z" fill="#CDBB80" stroke="#3d3828" stroke-width="0.35"/><path d="M38.53 321.23L40.17 324.18H36.89Z" fill="#CDBB80" stroke="#3d3828" stroke-width="0.35"/><path d="M38.1 324.73L39.74 327.69H36.46Z" fill="#CDBB80" stroke="#3d3828" stroke-width="0.35"/><path d="M38.58 318.51L40.22 321.46H36.94Z" fill="#CDBB80" stroke="#3d3828" stroke-width="0.35"/><path d="M37.32 323.61L38.96 326.56H35.68Z" fill="#CDBB80" stroke="#3d3828" stroke-width="0.35"/><path d="M38.18 320.54L39.83 323.49H36.54Z" fill="#CDBB80" stroke="#3d3828" stroke-width="0.35"/><path d="M37.72 325.37L39.36 328.33H36.08Z" fill="#CDBB80" stroke="#3d3828" stroke-width="0.35"/><path d="M36.93 325.68L38.57 328.64H35.29Z" fill="#CDBB80" stroke="#3d3828" stroke-width="0.35"/><rect x="42.19" y="340.42" width="4.7" height="20.58" fill="#7f7f7f" stroke="#3a3a3a" stroke-width="0.45"/><path d="M44.07 349.41L45.72 346.46H42.43Z" fill="#119E6E" stroke="#1c3a2c" stroke-width="0.35"/><path d="M43.47 333.24L45.11 330.29H41.82Z" fill="#119E6E" stroke="#1c3a2c" stroke-width="0.35"/><path d="M43.13 340.73L44.77 337.77H41.48Z" fill="#119E6E" stroke="#1c3a2c" stroke-width="0.35"/><path d="M43.16 336.58L44.81 333.62H41.52Z" fill="#119E6E" stroke="#1c3a2c" stroke-width="0.35"/><path d="M45.12 334.22L46.76 331.26H43.48Z" fill="#119E6E" stroke="#1c3a2c" stroke-width="0.35"/><path d="M44.94 337.89L46.58 334.93H43.3Z" fill="#119E6E" stroke="#1c3a2c" stroke-width="0.35"/><path d="M45.13 341.48L46.77 338.53H43.49Z" fill="#119E6E" stroke="#1c3a2c" stroke-width="0.35"/><path d="M45.25 341.32L46.89 338.36H43.61Z" fill="#119E6E" stroke="#1c3a2c" stroke-width="0.35"/><path d="M43.24 334.78L44.88 331.82H41.6Z" fill="#119E6E" stroke="#1c3a2c" stroke-width="0.35"/><path d="M44.81 336.29L46.45 333.33H43.17Z" fill="#119E6E" stroke="#1c3a2c" stroke-width="0.35"/><path d="M23.45 312.3V310.2H37.51V312.3" stroke="#444" stroke-width="0.65" fill="none"/><text x="30.48" y="311.6" font-size="6.1" text-anchor="middle">**</text><path d="M40.01 312.3V310.2H44.54V312.3" stroke="#444" stroke-width="0.65" fill="none"/><text x="42.28" y="311.6" font-size="6.1" text-anchor="middle">*</text><path d="M23.45 321.1V319H30.48V321.1" stroke="#444" stroke-width="0.65" fill="none"/><text x="26.97" y="318.3" font-size="5.5" text-anchor="middle" font-style="italic">ns</text><path d="M21.1 363.4L46.9 363.4" stroke="#555" stroke-width="0.8" fill="none"/><text x="34" y="369.8" font-size="5.4" text-anchor="middle">TNF-&#945;</text><rect x="49.2" y="341.89" width="4.7" height="19.11" fill="#7f7f7f" stroke="#3a3a3a" stroke-width="0.45"/><circle cx="50.39" cy="347.77" r="1.39" fill="#CDBB80" stroke="#3d3828" stroke-width="0.35"/><circle cx="50.15" cy="335.27" r="1.39" fill="#CDBB80" stroke="#3d3828" stroke-width="0.35"/><circle cx="52.59" cy="345.66" r="1.39" fill="#CDBB80" stroke="#3d3828" stroke-width="0.35"/><circle cx="52.49" cy="337.53" r="1.39" fill="#CDBB80" stroke="#3d3828" stroke-width="0.35"/><circle cx="51.95" cy="339.1" r="1.39" fill="#CDBB80" stroke="#3d3828" stroke-width="0.35"/><circle cx="52.53" cy="336.14" r="1.39" fill="#CDBB80" stroke="#3d3828" stroke-width="0.35"/><circle cx="51.94" cy="339.36" r="1.39" fill="#CDBB80" stroke="#3d3828" stroke-width="0.35"/><circle cx="50.91" cy="335.44" r="1.39" fill="#CDBB80" stroke="#3d3828" stroke-width="0.35"/><circle cx="50.35" cy="345.74" r="1.39" fill="#CDBB80" stroke="#3d3828" stroke-width="0.35"/><circle cx="50.34" cy="340.23" r="1.39" fill="#CDBB80" stroke="#3d3828" stroke-width="0.35"/><rect x="56.23" y="341.89" width="4.7" height="19.11" fill="#7f7f7f" stroke="#3a3a3a" stroke-width="0.45"/><rect x="56.8" y="346.38" width="2.77" height="2.77" fill="#17AE6C" stroke="#1c3a2c" stroke-width="0.35"/><rect x="56.66" y="335.36" width="2.77" height="2.77" fill="#17AE6C" stroke="#1c3a2c" stroke-width="0.35"/><rect x="58.59" y="339.34" width="2.77" height="2.77" fill="#17AE6C" stroke="#1c3a2c" stroke-width="0.35"/><rect x="57.21" y="340.42" width="2.77" height="2.77" fill="#17AE6C" stroke="#1c3a2c" stroke-width="0.35"/><rect x="58.25" y="342.37" width="2.77" height="2.77" fill="#17AE6C" stroke="#1c3a2c" stroke-width="0.35"/><rect x="57.55" y="341.72" width="2.77" height="2.77" fill="#17AE6C" stroke="#1c3a2c" stroke-width="0.35"/><rect x="55.79" y="337.88" width="2.77" height="2.77" fill="#17AE6C" stroke="#1c3a2c" stroke-width="0.35"/><rect x="56.93" y="338.4" width="2.77" height="2.77" fill="#17AE6C" stroke="#1c3a2c" stroke-width="0.35"/><rect x="57" y="340.23" width="2.77" height="2.77" fill="#17AE6C" stroke="#1c3a2c" stroke-width="0.35"/><rect x="58.01" y="341.39" width="2.77" height="2.77" fill="#17AE6C" stroke="#1c3a2c" stroke-width="0.35"/><rect x="63.26" y="319.11" width="4.7" height="41.89" fill="#7f7f7f" stroke="#3a3a3a" stroke-width="0.45"/><path d="M64.11 322.61L65.76 325.56H62.47Z" fill="#CDBB80" stroke="#3d3828" stroke-width="0.35"/><path d="M64.72 310.85L66.36 313.8H63.07Z" fill="#CDBB80" stroke="#3d3828" stroke-width="0.35"/><path d="M66.4 312.9L68.04 315.85H64.75Z" fill="#CDBB80" stroke="#3d3828" stroke-width="0.35"/><path d="M67.04 320.09L68.69 323.04H65.4Z" fill="#CDBB80" stroke="#3d3828" stroke-width="0.35"/><path d="M64.12 313.69L65.76 316.65H62.48Z" fill="#CDBB80" stroke="#3d3828" stroke-width="0.35"/><path d="M65.58 319.46L67.22 322.41H63.94Z" fill="#CDBB80" stroke="#3d3828" stroke-width="0.35"/><path d="M65.58 317.95L67.23 320.9H63.94Z" fill="#CDBB80" stroke="#3d3828" stroke-width="0.35"/><path d="M66.5 316.63L68.14 319.59H64.86Z" fill="#CDBB80" stroke="#3d3828" stroke-width="0.35"/><path d="M64.66 318.44L66.31 321.4H63.02Z" fill="#CDBB80" stroke="#3d3828" stroke-width="0.35"/><path d="M65.59 316.7L67.24 319.66H63.95Z" fill="#CDBB80" stroke="#3d3828" stroke-width="0.35"/><rect x="70.29" y="338.95" width="4.7" height="22.05" fill="#7f7f7f" stroke="#3a3a3a" stroke-width="0.45"/><path d="M71.47 346.47L73.11 343.52H69.83Z" fill="#119E6E" stroke="#1c3a2c" stroke-width="0.35"/><path d="M73.05 334.71L74.69 331.76H71.41Z" fill="#119E6E" stroke="#1c3a2c" stroke-width="0.35"/><path d="M71.38 342.22L73.02 339.26H69.74Z" fill="#119E6E" stroke="#1c3a2c" stroke-width="0.35"/><path d="M73.5 343.77L75.15 340.82H71.86Z" fill="#119E6E" stroke="#1c3a2c" stroke-width="0.35"/><path d="M73.23 336.04L74.87 333.09H71.59Z" fill="#119E6E" stroke="#1c3a2c" stroke-width="0.35"/><path d="M73.5 341.06L75.14 338.11H71.86Z" fill="#119E6E" stroke="#1c3a2c" stroke-width="0.35"/><path d="M73.02 341.02L74.67 338.07H71.38Z" fill="#119E6E" stroke="#1c3a2c" stroke-width="0.35"/><path d="M72.21 338.59L73.85 335.64H70.57Z" fill="#119E6E" stroke="#1c3a2c" stroke-width="0.35"/><path d="M72.34 341.67L73.99 338.71H70.7Z" fill="#119E6E" stroke="#1c3a2c" stroke-width="0.35"/><path d="M72.32 343.87L73.97 340.92H70.68Z" fill="#119E6E" stroke="#1c3a2c" stroke-width="0.35"/><path d="M51.55 312.3V310.2H65.61V312.3" stroke="#444" stroke-width="0.65" fill="none"/><text x="58.58" y="311.6" font-size="6.1" text-anchor="middle">**</text><path d="M68.11 312.3V310.2H72.64V312.3" stroke="#444" stroke-width="0.65" fill="none"/><text x="70.38" y="311.6" font-size="6.1" text-anchor="middle">**</text><path d="M51.55 321.1V319H58.58V321.1" stroke="#444" stroke-width="0.65" fill="none"/><text x="55.07" y="318.3" font-size="5.5" text-anchor="middle" font-style="italic">ns</text><path d="M49.2 363.4L75 363.4" stroke="#555" stroke-width="0.8" fill="none"/><text x="62.1" y="369.8" font-size="5.4" text-anchor="middle">IL-1&#946;</text><rect x="77.3" y="356.59" width="4.7" height="4.41" fill="#7f7f7f" stroke="#3a3a3a" stroke-width="0.45"/><circle cx="79.29" cy="358.06" r="1.39" fill="#CDBB80" stroke="#3d3828" stroke-width="0.35"/><circle cx="80.8" cy="354.38" r="1.39" fill="#CDBB80" stroke="#3d3828" stroke-width="0.35"/><circle cx="78.85" cy="356.29" r="1.39" fill="#CDBB80" stroke="#3d3828" stroke-width="0.35"/><circle cx="79.53" cy="356.84" r="1.39" fill="#CDBB80" stroke="#3d3828" stroke-width="0.35"/><circle cx="79.74" cy="356.43" r="1.39" fill="#CDBB80" stroke="#3d3828" stroke-width="0.35"/><circle cx="80.41" cy="356.72" r="1.39" fill="#CDBB80" stroke="#3d3828" stroke-width="0.35"/><circle cx="80.41" cy="356.39" r="1.39" fill="#CDBB80" stroke="#3d3828" stroke-width="0.35"/><circle cx="80.09" cy="355.9" r="1.39" fill="#CDBB80" stroke="#3d3828" stroke-width="0.35"/><circle cx="79.2" cy="355.71" r="1.39" fill="#CDBB80" stroke="#3d3828" stroke-width="0.35"/><circle cx="79.13" cy="357.22" r="1.39" fill="#CDBB80" stroke="#3d3828" stroke-width="0.35"/><rect x="84.33" y="357.32" width="4.7" height="3.68" fill="#7f7f7f" stroke="#3a3a3a" stroke-width="0.45"/><rect x="84.17" y="357.41" width="2.77" height="2.77" fill="#17AE6C" stroke="#1c3a2c" stroke-width="0.35"/><rect x="85.18" y="353.73" width="2.77" height="2.77" fill="#17AE6C" stroke="#1c3a2c" stroke-width="0.35"/><rect x="86.45" y="354.95" width="2.77" height="2.77" fill="#17AE6C" stroke="#1c3a2c" stroke-width="0.35"/><rect x="84.51" y="354.48" width="2.77" height="2.77" fill="#17AE6C" stroke="#1c3a2c" stroke-width="0.35"/><rect x="84.37" y="356.73" width="2.77" height="2.77" fill="#17AE6C" stroke="#1c3a2c" stroke-width="0.35"/><rect x="84.7" y="357.23" width="2.77" height="2.77" fill="#17AE6C" stroke="#1c3a2c" stroke-width="0.35"/><rect x="85.9" y="355.46" width="2.77" height="2.77" fill="#17AE6C" stroke="#1c3a2c" stroke-width="0.35"/><rect x="86.33" y="355.08" width="2.77" height="2.77" fill="#17AE6C" stroke="#1c3a2c" stroke-width="0.35"/><rect x="84.26" y="355.76" width="2.77" height="2.77" fill="#17AE6C" stroke="#1c3a2c" stroke-width="0.35"/><rect x="84.26" y="357.14" width="2.77" height="2.77" fill="#17AE6C" stroke="#1c3a2c" stroke-width="0.35"/><rect x="91.36" y="341.89" width="4.7" height="19.11" fill="#7f7f7f" stroke="#3a3a3a" stroke-width="0.45"/><path d="M92.52 347.6L94.16 350.55H90.87Z" fill="#CDBB80" stroke="#3d3828" stroke-width="0.35"/><path d="M95.1 327.75L96.74 330.71H93.46Z" fill="#CDBB80" stroke="#3d3828" stroke-width="0.35"/><path d="M92.51 340.18L94.16 343.14H90.87Z" fill="#CDBB80" stroke="#3d3828" stroke-width="0.35"/><path d="M93.36 335.84L95 338.79H91.72Z" fill="#CDBB80" stroke="#3d3828" stroke-width="0.35"/><path d="M95.16 343.16L96.8 346.11H93.52Z" fill="#CDBB80" stroke="#3d3828" stroke-width="0.35"/><path d="M94.59 340.66L96.24 343.61H92.95Z" fill="#CDBB80" stroke="#3d3828" stroke-width="0.35"/><path d="M94.41 341.76L96.05 344.72H92.77Z" fill="#CDBB80" stroke="#3d3828" stroke-width="0.35"/><path d="M93.51 337.41L95.16 340.37H91.87Z" fill="#CDBB80" stroke="#3d3828" stroke-width="0.35"/><path d="M92.8 332.33L94.44 335.29H91.16Z" fill="#CDBB80" stroke="#3d3828" stroke-width="0.35"/><path d="M94.12 341.49L95.77 344.45H92.48Z" fill="#CDBB80" stroke="#3d3828" stroke-width="0.35"/><rect x="98.39" y="352.92" width="4.7" height="8.08" fill="#7f7f7f" stroke="#3a3a3a" stroke-width="0.45"/><path d="M101.14 357.5L102.78 354.54H99.5Z" fill="#119E6E" stroke="#1c3a2c" stroke-width="0.35"/><path d="M100.63 351.62L102.27 348.66H98.99Z" fill="#119E6E" stroke="#1c3a2c" stroke-width="0.35"/><path d="M99.67 353.77L101.31 350.82H98.02Z" fill="#119E6E" stroke="#1c3a2c" stroke-width="0.35"/><path d="M101.05 353.93L102.69 350.98H99.41Z" fill="#119E6E" stroke="#1c3a2c" stroke-width="0.35"/><path d="M100.45 354.85L102.1 351.9H98.81Z" fill="#119E6E" stroke="#1c3a2c" stroke-width="0.35"/><path d="M101.46 354.31L103.1 351.35H99.82Z" fill="#119E6E" stroke="#1c3a2c" stroke-width="0.35"/><path d="M101.96 356.65L103.61 353.7H100.32Z" fill="#119E6E" stroke="#1c3a2c" stroke-width="0.35"/><path d="M100.53 353.01L102.17 350.06H98.89Z" fill="#119E6E" stroke="#1c3a2c" stroke-width="0.35"/><path d="M100.96 355.16L102.6 352.2H99.32Z" fill="#119E6E" stroke="#1c3a2c" stroke-width="0.35"/><path d="M101.49 356.18L103.13 353.23H99.85Z" fill="#119E6E" stroke="#1c3a2c" stroke-width="0.35"/><path d="M79.65 323.8V321.7H93.71V323.8" stroke="#444" stroke-width="0.65" fill="none"/><text x="86.68" y="323.1" font-size="6.1" text-anchor="middle">**</text><path d="M96.21 323.8V321.7H100.74V323.8" stroke="#444" stroke-width="0.65" fill="none"/><text x="98.48" y="323.1" font-size="6.1" text-anchor="middle">**</text><path d="M79.65 332.5V330.4H86.68V332.5" stroke="#444" stroke-width="0.65" fill="none"/><text x="83.17" y="329.7" font-size="5.5" text-anchor="middle" font-style="italic">ns</text><path d="M77.3 363.4L103.1 363.4" stroke="#555" stroke-width="0.8" fill="none"/><text x="90.2" y="369.8" font-size="5.4" text-anchor="middle">IL-6</text><rect x="105.4" y="342.92" width="4.7" height="18.08" fill="#7f7f7f" stroke="#3a3a3a" stroke-width="0.45"/><circle cx="107.19" cy="349.24" r="1.39" fill="#CDBB80" stroke="#3d3828" stroke-width="0.35"/><circle cx="108.13" cy="336.01" r="1.39" fill="#CDBB80" stroke="#3d3828" stroke-width="0.35"/><circle cx="106.54" cy="345.02" r="1.39" fill="#CDBB80" stroke="#3d3828" stroke-width="0.35"/><circle cx="107.51" cy="341.79" r="1.39" fill="#CDBB80" stroke="#3d3828" stroke-width="0.35"/><circle cx="108.6" cy="344.1" r="1.39" fill="#CDBB80" stroke="#3d3828" stroke-width="0.35"/><circle cx="108.39" cy="342.15" r="1.39" fill="#CDBB80" stroke="#3d3828" stroke-width="0.35"/><circle cx="108.14" cy="347.99" r="1.39" fill="#CDBB80" stroke="#3d3828" stroke-width="0.35"/><circle cx="107" cy="339.92" r="1.39" fill="#CDBB80" stroke="#3d3828" stroke-width="0.35"/><circle cx="107.52" cy="346.91" r="1.39" fill="#CDBB80" stroke="#3d3828" stroke-width="0.35"/><circle cx="107.62" cy="345.21" r="1.39" fill="#CDBB80" stroke="#3d3828" stroke-width="0.35"/><rect x="112.43" y="344.83" width="4.7" height="16.17" fill="#7f7f7f" stroke="#3a3a3a" stroke-width="0.45"/><rect x="113.36" y="348.59" width="2.77" height="2.77" fill="#17AE6C" stroke="#1c3a2c" stroke-width="0.35"/><rect x="114.82" y="336.09" width="2.77" height="2.77" fill="#17AE6C" stroke="#1c3a2c" stroke-width="0.35"/><rect x="112.01" y="346.11" width="2.77" height="2.77" fill="#17AE6C" stroke="#1c3a2c" stroke-width="0.35"/><rect x="113.52" y="345.76" width="2.77" height="2.77" fill="#17AE6C" stroke="#1c3a2c" stroke-width="0.35"/><rect x="112.38" y="345.66" width="2.77" height="2.77" fill="#17AE6C" stroke="#1c3a2c" stroke-width="0.35"/><rect x="114.24" y="346.71" width="2.77" height="2.77" fill="#17AE6C" stroke="#1c3a2c" stroke-width="0.35"/><rect x="114.72" y="341.59" width="2.77" height="2.77" fill="#17AE6C" stroke="#1c3a2c" stroke-width="0.35"/><rect x="113.45" y="339.29" width="2.77" height="2.77" fill="#17AE6C" stroke="#1c3a2c" stroke-width="0.35"/><rect x="112.2" y="342.9" width="2.77" height="2.77" fill="#17AE6C" stroke="#1c3a2c" stroke-width="0.35"/><rect x="113.62" y="346.5" width="2.77" height="2.77" fill="#17AE6C" stroke="#1c3a2c" stroke-width="0.35"/><rect x="119.46" y="316.9" width="4.7" height="44.1" fill="#7f7f7f" stroke="#3a3a3a" stroke-width="0.45"/><path d="M120.94 324.08L122.58 327.03H119.3Z" fill="#CDBB80" stroke="#3d3828" stroke-width="0.35"/><path d="M122.36 310.85L124 313.8H120.72Z" fill="#CDBB80" stroke="#3d3828" stroke-width="0.35"/><path d="M121.49 320.34L123.13 323.3H119.85Z" fill="#CDBB80" stroke="#3d3828" stroke-width="0.35"/><path d="M122.6 316.6L124.24 319.55H120.96Z" fill="#CDBB80" stroke="#3d3828" stroke-width="0.35"/><path d="M120.68 319.97L122.32 322.92H119.04Z" fill="#CDBB80" stroke="#3d3828" stroke-width="0.35"/><path d="M123.26 315.62L124.91 318.57H121.62Z" fill="#CDBB80" stroke="#3d3828" stroke-width="0.35"/><path d="M121.38 313.35L123.02 316.3H119.73Z" fill="#CDBB80" stroke="#3d3828" stroke-width="0.35"/><path d="M120.48 318.79L122.12 321.75H118.84Z" fill="#CDBB80" stroke="#3d3828" stroke-width="0.35"/><path d="M121.13 322.06L122.77 325.01H119.49Z" fill="#CDBB80" stroke="#3d3828" stroke-width="0.35"/><path d="M121.51 310.96L123.15 313.92H119.87Z" fill="#CDBB80" stroke="#3d3828" stroke-width="0.35"/><rect x="126.49" y="341.89" width="4.7" height="19.11" fill="#7f7f7f" stroke="#3a3a3a" stroke-width="0.45"/><path d="M130.16 347.94L131.8 344.99H128.52Z" fill="#119E6E" stroke="#1c3a2c" stroke-width="0.35"/><path d="M128.92 339.12L130.56 336.17H127.28Z" fill="#119E6E" stroke="#1c3a2c" stroke-width="0.35"/><path d="M128 341.24L129.64 338.29H126.36Z" fill="#119E6E" stroke="#1c3a2c" stroke-width="0.35"/><path d="M129.74 343.34L131.39 340.38H128.1Z" fill="#119E6E" stroke="#1c3a2c" stroke-width="0.35"/><path d="M128.52 346.53L130.16 343.57H126.87Z" fill="#119E6E" stroke="#1c3a2c" stroke-width="0.35"/><path d="M127.98 341.9L129.62 338.94H126.33Z" fill="#119E6E" stroke="#1c3a2c" stroke-width="0.35"/><path d="M127.73 344.57L129.37 341.61H126.09Z" fill="#119E6E" stroke="#1c3a2c" stroke-width="0.35"/><path d="M129.67 342.14L131.31 339.19H128.03Z" fill="#119E6E" stroke="#1c3a2c" stroke-width="0.35"/><path d="M129.77 342.95L131.41 340H128.13Z" fill="#119E6E" stroke="#1c3a2c" stroke-width="0.35"/><path d="M129.24 339.95L130.88 337H127.6Z" fill="#119E6E" stroke="#1c3a2c" stroke-width="0.35"/><path d="M107.75 303.8V301.7H121.81V303.8" stroke="#444" stroke-width="0.65" fill="none"/><text x="114.78" y="303.1" font-size="6.1" text-anchor="middle">**</text><path d="M124.31 303.8V301.7H128.84V303.8" stroke="#444" stroke-width="0.65" fill="none"/><text x="126.58" y="303.1" font-size="6.1" text-anchor="middle">*</text><path d="M107.75 312.7V310.6H114.78V312.7" stroke="#444" stroke-width="0.65" fill="none"/><text x="111.27" y="309.9" font-size="5.5" text-anchor="middle" font-style="italic">ns</text><path d="M105.4 363.4L131.2 363.4" stroke="#555" stroke-width="0.8" fill="none"/><text x="118.3" y="369.8" font-size="5.4" text-anchor="middle">MCP-1</text><rect x="133.5" y="346.67" width="4.7" height="14.33" fill="#7f7f7f" stroke="#3a3a3a" stroke-width="0.45"/><circle cx="135.99" cy="352.18" r="1.39" fill="#CDBB80" stroke="#3d3828" stroke-width="0.35"/><circle cx="134.73" cy="341.89" r="1.39" fill="#CDBB80" stroke="#3d3828" stroke-width="0.35"/><circle cx="136.85" cy="349.91" r="1.39" fill="#CDBB80" stroke="#3d3828" stroke-width="0.35"/><circle cx="135.41" cy="346.03" r="1.39" fill="#CDBB80" stroke="#3d3828" stroke-width="0.35"/><circle cx="136.9" cy="345.67" r="1.39" fill="#CDBB80" stroke="#3d3828" stroke-width="0.35"/><circle cx="135.15" cy="348.88" r="1.39" fill="#CDBB80" stroke="#3d3828" stroke-width="0.35"/><circle cx="135.48" cy="343.74" r="1.39" fill="#CDBB80" stroke="#3d3828" stroke-width="0.35"/><circle cx="135.11" cy="344.69" r="1.39" fill="#CDBB80" stroke="#3d3828" stroke-width="0.35"/><circle cx="135.63" cy="350.97" r="1.39" fill="#CDBB80" stroke="#3d3828" stroke-width="0.35"/><circle cx="134.91" cy="348.77" r="1.39" fill="#CDBB80" stroke="#3d3828" stroke-width="0.35"/><rect x="140.53" y="347.77" width="4.7" height="13.23" fill="#7f7f7f" stroke="#3a3a3a" stroke-width="0.45"/><rect x="141.97" y="350.79" width="2.77" height="2.77" fill="#17AE6C" stroke="#1c3a2c" stroke-width="0.35"/><rect x="141.08" y="341.24" width="2.77" height="2.77" fill="#17AE6C" stroke="#1c3a2c" stroke-width="0.35"/><rect x="142.78" y="345.99" width="2.77" height="2.77" fill="#17AE6C" stroke="#1c3a2c" stroke-width="0.35"/><rect x="142.56" y="342.56" width="2.77" height="2.77" fill="#17AE6C" stroke="#1c3a2c" stroke-width="0.35"/><rect x="140.17" y="346.32" width="2.77" height="2.77" fill="#17AE6C" stroke="#1c3a2c" stroke-width="0.35"/><rect x="142.48" y="346.73" width="2.77" height="2.77" fill="#17AE6C" stroke="#1c3a2c" stroke-width="0.35"/><rect x="142.71" y="344.63" width="2.77" height="2.77" fill="#17AE6C" stroke="#1c3a2c" stroke-width="0.35"/><rect x="142.35" y="347.26" width="2.77" height="2.77" fill="#17AE6C" stroke="#1c3a2c" stroke-width="0.35"/><rect x="140.42" y="343.8" width="2.77" height="2.77" fill="#17AE6C" stroke="#1c3a2c" stroke-width="0.35"/><rect x="142.49" y="349.45" width="2.77" height="2.77" fill="#17AE6C" stroke="#1c3a2c" stroke-width="0.35"/><rect x="147.56" y="356.96" width="4.7" height="4.04" fill="#7f7f7f" stroke="#3a3a3a" stroke-width="0.45"/><path d="M149.11 357.15L150.75 360.11H147.47Z" fill="#CDBB80" stroke="#3d3828" stroke-width="0.35"/><path d="M150.74 353.48L152.38 356.43H149.1Z" fill="#CDBB80" stroke="#3d3828" stroke-width="0.35"/><path d="M149.45 354.75L151.09 357.7H147.81Z" fill="#CDBB80" stroke="#3d3828" stroke-width="0.35"/><path d="M148.87 355.42L150.51 358.38H147.23Z" fill="#CDBB80" stroke="#3d3828" stroke-width="0.35"/><path d="M151.12 355.43L152.76 358.39H149.48Z" fill="#CDBB80" stroke="#3d3828" stroke-width="0.35"/><path d="M150.79 355.15L152.43 358.11H149.14Z" fill="#CDBB80" stroke="#3d3828" stroke-width="0.35"/><path d="M148.91 355.7L150.56 358.66H147.27Z" fill="#CDBB80" stroke="#3d3828" stroke-width="0.35"/><path d="M151.08 355.89L152.73 358.85H149.44Z" fill="#CDBB80" stroke="#3d3828" stroke-width="0.35"/><path d="M150.24 354.91L151.88 357.86H148.59Z" fill="#CDBB80" stroke="#3d3828" stroke-width="0.35"/><path d="M150.75 355.01L152.4 357.97H149.11Z" fill="#CDBB80" stroke="#3d3828" stroke-width="0.35"/><rect x="154.59" y="349.61" width="4.7" height="11.39" fill="#7f7f7f" stroke="#3a3a3a" stroke-width="0.45"/><path d="M156.76 355.29L158.4 352.34H155.11Z" fill="#119E6E" stroke="#1c3a2c" stroke-width="0.35"/><path d="M158.09 348.68L159.73 345.72H156.45Z" fill="#119E6E" stroke="#1c3a2c" stroke-width="0.35"/><path d="M157.11 352.97L158.75 350.01H155.46Z" fill="#119E6E" stroke="#1c3a2c" stroke-width="0.35"/><path d="M156.23 354.3L157.88 351.35H154.59Z" fill="#119E6E" stroke="#1c3a2c" stroke-width="0.35"/><path d="M156.14 350.5L157.78 347.55H154.5Z" fill="#119E6E" stroke="#1c3a2c" stroke-width="0.35"/><path d="M155.86 354.32L157.5 351.36H154.22Z" fill="#119E6E" stroke="#1c3a2c" stroke-width="0.35"/><path d="M156.92 350.42L158.56 347.47H155.28Z" fill="#119E6E" stroke="#1c3a2c" stroke-width="0.35"/><path d="M155.62 348.85L157.26 345.89H153.97Z" fill="#119E6E" stroke="#1c3a2c" stroke-width="0.35"/><path d="M156.84 353.92L158.48 350.97H155.2Z" fill="#119E6E" stroke="#1c3a2c" stroke-width="0.35"/><path d="M155.87 351.77L157.51 348.82H154.23Z" fill="#119E6E" stroke="#1c3a2c" stroke-width="0.35"/><path d="M135.85 334.6V332.5H149.91V334.6" stroke="#444" stroke-width="0.65" fill="none"/><text x="142.88" y="333.9" font-size="6.1" text-anchor="middle">**</text><path d="M152.41 334.6V332.5H156.94V334.6" stroke="#444" stroke-width="0.65" fill="none"/><text x="154.68" y="333.9" font-size="6.1" text-anchor="middle">*</text><path d="M135.85 341.9V339.8H142.88V341.9" stroke="#444" stroke-width="0.65" fill="none"/><text x="139.37" y="339.1" font-size="5.5" text-anchor="middle" font-style="italic">ns</text><path d="M133.5 363.4L159.3 363.4" stroke="#555" stroke-width="0.8" fill="none"/><text x="146.4" y="369.8" font-size="5.4" text-anchor="middle">IL-10</text><text x="168.2" y="298.6" font-size="8.8" font-weight="bold" fill="#111" color="#111">q</text><path d="M193.2 294.4L193.2 357.6" stroke="#555" stroke-width="0.7" fill="none"/><path d="M191.4 357.3L193.2 357.3" stroke="#555" stroke-width="0.7" fill="none"/><text x="190.9" y="359.3" font-size="5.6" text-anchor="end">0.0</text><path d="M191.4 336.33L193.2 336.33" stroke="#555" stroke-width="0.7" fill="none"/><text x="190.9" y="338.33" font-size="5.6" text-anchor="end">0.5</text><path d="M191.4 315.37L193.2 315.37" stroke="#555" stroke-width="0.7" fill="none"/><text x="190.9" y="317.37" font-size="5.6" text-anchor="end">1.0</text><path d="M191.4 294.4L193.2 294.4" stroke="#555" stroke-width="0.7" fill="none"/><text x="190.9" y="296.4" font-size="5.6" text-anchor="end">1.5</text><path d="M193.2 357.3L319.5 357.3" stroke="#555" stroke-width="0.7" fill="none"/><text x="179.6" y="326.1" font-size="5.75" text-anchor="middle" transform="rotate(-90 179.6 326.1)">Relative mRNA levels (fold)</text><path d="M200.3 315.37L200.3 311.17" stroke="#C2B47C" stroke-width="0.7" fill="none"/><path d="M198.8 311.17L201.8 311.17" stroke="#C2B47C" stroke-width="0.7" fill="none"/><rect x="197.6" y="315.37" width="5.4" height="41.93" fill="#C2B47C"/><path d="M208.1 345.14L208.1 342.62" stroke="#1DBE74" stroke-width="0.7" fill="none"/><path d="M206.6 342.62L209.6 342.62" stroke="#1DBE74" stroke-width="0.7" fill="none"/><rect x="205.4" y="345.14" width="5.4" height="12.16" fill="#1DBE74"/><path d="M200.3 302.5V301H208.1V302.5" stroke="#444" stroke-width="0.65" fill="none"/><text x="204.2" y="302.4" font-size="6.1" text-anchor="middle">*</text><path d="M204.2 357.3L204.2 358.8" stroke="#555" stroke-width="0.7" fill="none"/><text x="206" y="361.6" font-size="5.4" text-anchor="end" transform="rotate(-45 206 361.6)">&#945;-SMA</text><path d="M221.4 315.37L221.4 310.33" stroke="#C2B47C" stroke-width="0.7" fill="none"/><path d="M219.9 310.33L222.9 310.33" stroke="#C2B47C" stroke-width="0.7" fill="none"/><rect x="218.7" y="315.37" width="5.4" height="41.93" fill="#C2B47C"/><path d="M229.2 348.91L229.2 344.3" stroke="#1DBE74" stroke-width="0.7" fill="none"/><path d="M227.7 344.3L230.7 344.3" stroke="#1DBE74" stroke-width="0.7" fill="none"/><rect x="226.5" y="348.91" width="5.4" height="8.39" fill="#1DBE74"/><path d="M221.4 302.5V301H229.2V302.5" stroke="#444" stroke-width="0.65" fill="none"/><text x="225.3" y="302.4" font-size="6.1" text-anchor="middle">**</text><path d="M225.3 357.3L225.3 358.8" stroke="#555" stroke-width="0.7" fill="none"/><text x="227.1" y="361.6" font-size="5.4" text-anchor="end" font-style="italic" transform="rotate(-45 227.1 361.6)">COL1A1</text><path d="M242.5 315.37L242.5 308.24" stroke="#C2B47C" stroke-width="0.7" fill="none"/><path d="M241 308.24L244 308.24" stroke="#C2B47C" stroke-width="0.7" fill="none"/><rect x="239.8" y="315.37" width="5.4" height="41.93" fill="#C2B47C"/><path d="M250.3 341.37L250.3 335.49" stroke="#1DBE74" stroke-width="0.7" fill="none"/><path d="M248.8 335.49L251.8 335.49" stroke="#1DBE74" stroke-width="0.7" fill="none"/><rect x="247.6" y="341.37" width="5.4" height="15.93" fill="#1DBE74"/><path d="M242.5 302.5V301H250.3V302.5" stroke="#444" stroke-width="0.65" fill="none"/><text x="246.4" y="302.4" font-size="6.1" text-anchor="middle">*</text><path d="M246.4 357.3L246.4 358.8" stroke="#555" stroke-width="0.7" fill="none"/><text x="248.2" y="361.6" font-size="5.4" text-anchor="end" font-style="italic" transform="rotate(-45 248.2 361.6)">COL3A1</text><path d="M263.6 315.37L263.6 312.01" stroke="#C2B47C" stroke-width="0.7" fill="none"/><path d="M262.1 312.01L265.1 312.01" stroke="#C2B47C" stroke-width="0.7" fill="none"/><rect x="260.9" y="315.37" width="5.4" height="41.93" fill="#C2B47C"/><path d="M271.4 346.4L271.4 343.46" stroke="#1DBE74" stroke-width="0.7" fill="none"/><path d="M269.9 343.46L272.9 343.46" stroke="#1DBE74" stroke-width="0.7" fill="none"/><rect x="268.7" y="346.4" width="5.4" height="10.9" fill="#1DBE74"/><path d="M263.6 302.5V301H271.4V302.5" stroke="#444" stroke-width="0.65" fill="none"/><text x="267.5" y="302.4" font-size="6.1" text-anchor="middle">*</text><path d="M267.5 357.3L267.5 358.8" stroke="#555" stroke-width="0.7" fill="none"/><text x="269.3" y="361.6" font-size="5.4" text-anchor="end" font-style="italic" transform="rotate(-45 269.3 361.6)">CTGF</text><path d="M284.7 315.37L284.7 311.17" stroke="#C2B47C" stroke-width="0.7" fill="none"/><path d="M283.2 311.17L286.2 311.17" stroke="#C2B47C" stroke-width="0.7" fill="none"/><rect x="282" y="315.37" width="5.4" height="41.93" fill="#C2B47C"/><path d="M292.5 348.91L292.5 345.14" stroke="#1DBE74" stroke-width="0.7" fill="none"/><path d="M291 345.14L294 345.14" stroke="#1DBE74" stroke-width="0.7" fill="none"/><rect x="289.8" y="348.91" width="5.4" height="8.39" fill="#1DBE74"/><path d="M284.7 302.5V301H292.5V302.5" stroke="#444" stroke-width="0.65" fill="none"/><text x="288.6" y="302.4" font-size="6.1" text-anchor="middle">**</text><path d="M288.6 357.3L288.6 358.8" stroke="#555" stroke-width="0.7" fill="none"/><text x="290.4" y="361.6" font-size="5.4" text-anchor="end" font-style="italic" transform="rotate(-45 290.4 361.6)">Fibronectin</text><path d="M305.8 315.37L305.8 309.5" stroke="#C2B47C" stroke-width="0.7" fill="none"/><path d="M304.3 309.5L307.3 309.5" stroke="#C2B47C" stroke-width="0.7" fill="none"/><rect x="303.1" y="315.37" width="5.4" height="41.93" fill="#C2B47C"/><path d="M313.6 346.4L313.6 343.46" stroke="#1DBE74" stroke-width="0.7" fill="none"/><path d="M312.1 343.46L315.1 343.46" stroke="#1DBE74" stroke-width="0.7" fill="none"/><rect x="310.9" y="346.4" width="5.4" height="10.9" fill="#1DBE74"/><path d="M305.8 302.5V301H313.6V302.5" stroke="#444" stroke-width="0.65" fill="none"/><text x="309.7" y="302.4" font-size="6.1" text-anchor="middle">*</text><path d="M309.7 357.3L309.7 358.8" stroke="#555" stroke-width="0.7" fill="none"/><text x="311.5" y="361.6" font-size="5.4" text-anchor="end" font-style="italic" transform="rotate(-45 311.5 361.6)">TGF-&#946;1</text><rect x="316.6" y="311" width="9.3" height="3.2" fill="#C2B47C"/><rect x="316.6" y="320.8" width="9.3" height="3.2" fill="#1DBE74"/><text x="330.8" y="315.9" font-size="5.8" fill="#333" color="#333">DUSP22<tspan dy="-2.2" font-size="3.6">HepRosa</tspan><tspan dy="2.2">/HFHC</tspan></text><text x="330.8" y="325.6" font-size="5.8" fill="#333" color="#333">DUSP22<tspan dy="-2.2" font-size="3.6">HepOE</tspan><tspan dy="2.2">/HFHC</tspan></text><filter id="bl" x="-5%" y="-5%" width="110%" height="110%"><feGaussianBlur stdDeviation="0.3"/></filter><clipPath id="c1"><rect x="399.7" y="97.8" width="70.2" height="55.4"/></clipPath><g clip-path="url(#c1)"><g filter="url(#bl)"><rect x="397.7" y="95.8" width="74.2" height="59.4" fill="#BE4AA2"/><path d="M434.2 125.4l-3.1 -0.8M398.2 145.7l-2.6 0.5M447.1 145.7l-1.7 1.7M469 100.3l-1.8 -2.1M399.8 132l-1.4 -3.1M422.2 154.1l-2.5 -0.2M464.3 97.8l-0.6 -2.7M422.8 147l-1.6 1.8M436.7 141.6l0.6 2.3M429 128.7l1 -1.9M459.1 119.8l-2 -0M435.3 153.7l-1.7 -2.5M422.3 114.6l-0.8 2.5M444.8 142.4l2.9 0.7M463.4 128.2l2 0.6M398.2 107.1l2.4 -1.3M446.5 142.7l2.3 -1.5M443.5 133l-0.9 -2.5M448.2 108.4l-1.2 -2.1M454.3 101.8l0.7 1.4M455.2 150.1l-1.3 -1.9M458.7 142.5l-1.9 -0.8M420.1 120.9l-1 2.1M445.3 151.3l2.5 0.9M400.6 102.9l1 -2.5M465.9 122.3l2.3 0.2M441.6 151.5l2.4 -0.3M428.3 101.9l-1.2 -1.5M409 96.7l2.9 0.1M406.7 153.2l2.8 1.7M407.3 96.9l-0.4 -1.9M452.1 106.9l2.9 0.9M450.6 146.6l-0.2 -1.7M444.3 137.9l-3.3 0.8M416.6 153.1l-0.3 -1.5M398.8 134.5l0.7 -1.5M420.8 139.1l1.6 2.8M433.8 99.4l-1.8 2M430.3 136l1.9 2.4M424.7 134.1l-1.6 -1.7M426.3 142.5l2.9 -1M439.8 113.2l3.2 1.3M449.9 144.9l-1.3 2.4M470.2 145.2l-1.7 -1.3M429.5 148.6l-2 2M442.4 149l0.7 -1.9M397.8 111.4l-2.4 1.3M458.2 148.5l3.1 0.8M457.9 147.3l-1.8 -0.9M460.9 143.7l-1.3 -3M423.4 100.9l-2.9 -1M412.6 140.4l1.8 -0.8M442.7 136.1l-1.9 0.4M416.6 140.4l0.6 -2.3M404.2 143.7l0.3 -1.9M440.7 149.1l1.9 -1.7M433.1 130.8l0.7 1.7M411.1 137.4l-1.7 2M427.6 126.5l0.9 1.3M471.7 118l2.2 1.7M456.1 105.1l-1.8 -1.3M436.2 97l3.4 0.7M462 124.7l-1.8 -0.8M455.5 121.1l2.9 -1M458.5 153l-0 1.6M412.6 106.5l1.4 0.8M439.1 147.5l-3.3 0.9M465.2 99.6l-1.9 -1.3M406.6 152.8l-0.1 2.6M445.2 152.6l-1.1 -2M431 105.3l3.4 -0.8M414.2 98.1l-0.1 2.2M464.7 149.5l0.8 -1.4M456 138l-2.1 -2.8M401.8 104.4l0.1 -3.4M447.9 113.5l-2.5 -1.6M405.5 115l-0.1 1.7M433.4 105.8l0.1 1.8M448 96.5l-0.4 -1.8M400.4 150.9l0.6 3.3M462 148.6l1.5 1.8M404.9 151l1.5 -2.3M431.3 116l1.1 -2.2M444.3 104.3l0.3 1.6M450.7 128.7l2 2.6M417.5 120.3l1.1 1.7M460 115.7l1.2 2.2M421.3 149.4l2.6 2.3M401.9 149l-0.9 -1.7M433.1 112.8l-0.1 1.9M424.7 154.7l3.3 -0.1M404.9 113l1.3 -1M451.6 113.2l1.5 -0.2M457.6 116l1 1.2M459.5 127.1l0.9 2.2M465.4 108.8l-1.6 -0.8M411.1 141.6l-0.5 -1.8M403.6 101l-1.9 -1.6M418 108l-2.2 -1.9M457.9 130.4l0.5 1.6M452.1 120l-0.3 -1.6M457.9 115.7l1.8 -2.7M434.3 96.7l2.1 -1.3M462.4 111.6l1.2 2.9M424.9 105.5l-1.9 1.9M398 126.7l-2.4 0.8M406.7 138.2l1.3 -3M421.5 138l-2.2 2M402.2 147.6l2.4 -0.7M435.8 127.3l-1.5 -0.4M469.5 109.1l0.7 1.6M416.3 144.3l1.7 0.3M449.6 107.4l2.7 0.3M440.5 126.9l-0.5 -1.6M462.2 138.4l1.7 0.5M434.3 125.5l-0.3 1.7M427.8 103.9l-2.7 -1.8M408.6 129.8l-0 -1.8M459 151.5l-1.8 1.5M460 127l-2.7 2.1M455.3 115.9l0.1 2.2M430 154.1l1.1 -3.1M458.2 146.1l2.4 0.8M468.8 151.3l0 2.3M444.6 117.4l-1.6 -0.3M429.8 125.8l1.8 0.2M469.7 141.9l2.5 -1.1M457.7 148.3l1.2 -1M445.3 111.6l-0.9 -1.8M437.9 150.7l-1.5 -1.4M436.3 121.6l2 -0.6M420.4 134.3l2 1.8M468.6 126.3l-0.3 2.4M437.3 104.6l1.3 1.2M419.5 119.9l-0.5 1.9M404.2 128.3l1.4 -2.3M440 134.4l0.9 2.8M431.9 128.4l-1.9 -1.6M420.7 110.2l0.5 2.5M426.1 130.6l2.2 0.2M461.7 110l-2.3 -0.9M418.8 154.5l-0.9 2.9M409.5 99.8l1.6 -1.7M402.3 118.8l-2.8 1.1M405.8 109.2l2.9 -0.8M409.2 115.8l-1.7 2.3M443.4 146.3l1.1 -2.3M452.5 140l0.1 -2.4M455.9 137.9l1.5 -0.9M462.3 96.1l0.3 -2.7M434.6 153l-2.1 -1M455.8 147.6l-1.8 -1.4M431.3 123l-0.4 -2.1M426.7 128.8l-1.6 1.4M456.1 146.3l-2.4 0M411.4 113.9l1.6 2.1M440.9 101l1.9 -1M460.3 145.6l1.8 -0.5M429.3 149.9l1.6 0.1M439.6 125.3l2.7 -1.5M437.7 155.1l-2.5 -0.3M448.5 118.9l-1.7 2.1M423.8 152.1l-1.1 -2.3M405 118l-2.1 1.5M440.3 148.1l2.4 -0.6M430.4 132.9l2.2 -0.1M437 144.3l1 1.9M470.3 144.9l-1.7 -0.1M464.1 136.8l1.5 -3.1M463.6 120.8l1.2 1.7" stroke="#DC92CE" stroke-width="0.55" fill="none" stroke-linecap="round" opacity="0.75"/><g stroke="#A43E9E" stroke-linecap="round" fill="none" opacity="0.5"><path stroke-width="1.6" d="M420.5 136.8h0M454.1 102.1h0M443.2 143.7h0M443.7 110.6h0M426.3 119.7h0M414.6 122.7h0M434.8 113.4h0M420.8 109.2h0M450.6 98.2h0M465.6 140.3h0"/><path stroke-width="2" d="M435.7 125.8h0M428.2 103h0M398.6 141.6h0M450.8 116.8h0M466.8 146.6h0M464.4 144.3h0M468.2 110.2h0M451 109h0M415.8 106.1h0M411.5 153.5h0M406.8 144.9h0M415.9 107.2h0M457.4 105.3h0M441.3 117.7h0M417.8 141.6h0M446.5 129.5h0M426.6 100.9h0M405.8 129.2h0M450.9 112.6h0M461.6 103.7h0M423.8 133.2h0M409.7 107.6h0M426 98.1h0M440 138.4h0M430 136.4h0M442.8 98.6h0M406 142.8h0"/><path stroke-width="2.4" d="M411.2 133.2h0M423.9 154.8h0M420.3 145.8h0M447.3 107.5h0M438.8 111.6h0M437.1 155h0M440.9 116.5h0M440.9 152.8h0M442.4 152.8h0M439.4 102.6h0M415.3 97.9h0M423 105.1h0M413.1 152.3h0M406.8 126.3h0M460.8 114.9h0M399.9 136.2h0M423.8 120.3h0"/><path stroke-width="2.8" d="M400.8 120.2h0M410.4 126.8h0M417.5 101.7h0M426.3 99h0M462.6 124.6h0M404.6 111.8h0M407.2 122.1h0M451.3 118.2h0M450.1 111.3h0M442.8 108.4h0M465.1 141.8h0M449.6 110.6h0M406.3 150h0M445.1 106.5h0M397.8 145.4h0M418.9 98.4h0"/></g><g stroke="#8C4AAE" stroke-linecap="round" fill="none" opacity="0.8"><path stroke-width="2.8" d="M407.8 98.1h0M425.1 98.6h0M455.2 98.9h0M465.7 98.2h0M473.4 99.4h0M411.2 103.5h0M440.8 102.7h0M445.2 103h0M463.6 103.6h0M408.3 109.5h0M412.7 109h0M431.2 108.4h0M443.9 108.5h0M461.5 108.7h0M421.7 113.3h0M444.6 115.2h0M402.1 118.5h0M431.1 120.7h0M437.3 120.1h0M456 118.1h0M461.3 119.5h0M403.3 123.6h0M411 125.1h0M416.9 124.1h0M438.3 124.6h0M452.4 125.8h0M459.4 125.7h0M464.8 124.5h0M399.5 131.1h0M405.8 129.7h0M413 129.1h0M432.1 131.4h0M443.3 131.2h0M404.8 135.6h0M414.6 135.5h0M422.3 134.9h0M434.7 136.9h0M447 136.4h0M457.3 135.3h0M432.4 139h0M437.3 139.8h0M467.2 140.1h0M451 144.7h0M471.1 146.1h0M420.1 150.2h0M423.1 149.9h0M450.3 151.3h0M421.7 156.6h0M433.9 157.9h0M444.3 155.1h0M469.1 157h0"/><path stroke-width="3.2" d="M431.4 98.6h0M459.2 98.3h0M402.8 104.1h0M417 102.8h0M421.1 105.1h0M428.6 102.9h0M457.5 102.7h0M467.8 108.6h0M402.8 112.9h0M417.1 116h0M428 113h0M438.3 112.9h0M457.4 113.7h0M463.7 114.2h0M406.5 119.9h0M411.7 118.3h0M442.9 121.2h0M449.2 119h0M467.2 119.2h0M472.4 119.8h0M421.8 124.1h0M427.9 124h0M432.4 124.9h0M445.5 126.1h0M425.1 131.4h0M455.5 128.6h0M465.4 131.6h0M471.9 129.1h0M429 135.5h0M439.2 134.2h0M450.6 136.4h0M470.1 133.9h0M399.7 141.9h0M405.1 139.4h0M412.6 140.8h0M418.2 138.9h0M424.1 138.9h0M442.7 139.8h0M462 141.5h0M410.5 145.8h0M415.2 146h0M420.2 145.2h0M429.4 145.7h0M432.8 144.9h0M445.5 145.6h0M463.9 147.3h0M406.2 151.9h0M414 149.5h0M431.4 150h0M455.8 152.3h0M459.5 149.9h0M404.2 155.9h0M409.1 154.7h0M414.2 156.6h0M440.1 157h0M457.4 156.4h0M463.9 156.8h0"/><path stroke-width="3.6" d="M401.4 98.4h0M414.2 98.5h0M419.4 99.6h0M438.2 97.5h0M441.1 99.5h0M447.9 99h0M434 103.9h0M451 103h0M468.2 102.4h0M401.6 107.8h0M418.8 107.6h0M425.2 109.7h0M435.5 107.6h0M449.2 110.4h0M453.6 110.2h0M472.9 108.8h0M410.1 115.5h0M432.6 114.3h0M452.9 115.7h0M469.5 115h0M418.6 121.3h0M425.9 121.3h0M471.3 125.1h0M419.4 129.9h0M437.5 129.6h0M448.3 130.9h0M459.3 130.3h0M408.1 134h0M464.9 135h0M448.8 142.1h0M453.1 140.8h0M473.7 141.8h0M404.3 145.1h0M438.5 144.1h0M457 145.1h0M399.6 151.3h0M435.7 151.3h0M443.2 150h0M468 151.5h0M471.7 150.4h0M427.6 154.6h0M452.6 154.8h0"/></g><g stroke="#70389E" stroke-linecap="round" fill="none" opacity="0.6"><path stroke-width="1.6" d="M425.1 98.6h0M459.2 98.3h0M473.4 99.4h0M411.2 103.5h0M421.1 105.1h0M445.2 103h0M457.5 102.7h0M408.3 109.5h0M431.2 108.4h0M443.9 108.5h0M467.8 108.6h0M402.8 112.9h0M417.1 116h0M438.3 112.9h0M463.7 114.2h0M402.1 118.5h0M411.7 118.3h0M437.3 120.1h0M449.2 119h0M461.3 119.5h0M472.4 119.8h0M411 125.1h0M421.8 124.1h0M445.5 126.1h0M459.4 125.7h0M405.8 129.7h0M432.1 131.4h0M443.3 131.2h0M404.8 135.6h0M414.6 135.5h0M439.2 134.2h0M412.6 140.8h0M424.1 138.9h0M437.3 139.8h0M420.2 145.2h0M432.8 144.9h0M445.5 145.6h0M471.1 146.1h0M406.2 151.9h0M420.1 150.2h0M431.4 150h0M455.8 152.3h0M414.2 156.6h0M440.1 157h0"/><path stroke-width="2" d="M401.4 98.4h0M414.2 98.5h0M438.2 97.5h0M447.9 99h0M434 103.9h0M468.2 102.4h0M418.8 107.6h0M453.6 110.2h0M428 113h0M452.9 115.7h0M425.9 121.3h0M432.4 124.9h0M471.3 125.1h0M419.4 129.9h0M455.5 128.6h0M465.4 131.6h0M429 135.5h0M450.6 136.4h0M464.9 135h0M399.7 141.9h0M448.8 142.1h0M462 141.5h0M473.7 141.8h0M410.5 145.8h0M457 145.1h0M443.2 150h0M468 151.5h0M404.2 155.9h0M427.6 154.6h0M452.6 154.8h0M463.9 156.8h0"/></g><g stroke="#EEF4E4" stroke-linecap="round" fill="none" opacity="0.9"><path stroke-width="0.8" d="M431.3 112.3h0M467.5 103.6h0M424.6 154.6h0M453.8 101.1h0M407.7 99.4h0M424.8 104.7h0M452.4 150.5h0M399.9 142h0M470.6 125.4h0M423.2 143.4h0M421.7 149.5h0M452.1 99.7h0M427.5 147.1h0M467.8 133.1h0M416.4 111.4h0"/><path stroke-width="1.2" d="M450.5 141.1h0M420.6 141.7h0M433 134.7h0M438.9 106.6h0M439.6 120.1h0M414.9 107.9h0M445.4 113.5h0"/></g><g stroke="#3C2470" stroke-linecap="round" fill="none"><path stroke-width="0.8" d="M413.8 129.6h0M461.7 147.4h0M453.5 144.7h0M422.3 124.6h0M409.7 136.4h0M431.3 130.2h0M413.3 148.3h0M455.6 147.1h0"/></g></g></g><clipPath id="c2"><rect x="471.4" y="97.8" width="70.3" height="55.4"/></clipPath><g clip-path="url(#c2)"><g filter="url(#bl)"><rect x="469.4" y="95.8" width="74.3" height="59.4" fill="#BE4AA2"/><path d="M533.6 154.9l-0.5 1.5M477.7 153.7l3.3 0.2M480.6 139.5l1.5 1.1M520.1 101.2l-1.8 2.8M522.6 148.2l1.6 -0.2M486.8 142.9l-0.6 -1.5M506.9 109.6l-1.5 0.7M470.9 154.7l-1.3 3M478.4 124.7l1.6 1.8M482.7 136.5l1.8 2.4M506.6 102.5l-1.5 2M537.7 116.6l0.7 3.4M535 139.2l-0.3 1.8M489.1 99.9l2.4 0.7M499.7 128.9l-1 1.2M520.5 134.6l-2.5 -0.7M520.7 154.2l2.1 -2.1M499.1 114.7l-3 1.7M498.2 118.7l-1.5 1M543.6 96.1l-2.6 -2.1M488.3 132.1l-1.4 1.4M484.1 102.7l1.7 -2.6M536.9 98.7l-0.7 -2M517.4 128.4l-1.4 3.2M469.5 140.1l1.5 -2M513.4 154.9l0.3 2.7M524.6 118.3l-0.5 -2.2M508.5 132.2l-1 -1.9M516.1 128.1l0.5 2.7M489.1 149.8l-2.9 0.5M508.2 124.1l0.3 1.8M538.3 127.2l-2.5 -0.4M529.8 110l1.5 2.8M503.6 133.8l1.5 -2.9M533.9 98.4l-2.3 2.2M530.2 103.1l1.1 1.6M477 117l0.8 -2.4M503 101l-2.8 2.1M521 122.5l-3.1 0.4M525.8 104.7l-1 -2M508.1 109.9l-1.5 1.6M497.7 96.9l0.8 2.5M473.7 106.4l-0.4 -2M493.5 110.2l0.8 -1.5M516.7 146.8l0.7 2.2M528.3 132.5l-1.1 1.1M502.3 117.6l-0.5 -2M499.7 134.3l0.8 -2M498 130.2l1.7 -0.9M541.6 138.1l-2 2M493.9 100l0.1 -2.3M508.5 125.3l2.4 -1.8M471.3 131l-2.4 0.6M531.8 120.4l-3.2 0.5M502.1 125l-3.1 -0.2M519.2 139.8l-1.3 0.9M519.9 128.7l0.4 -3M478.2 108.9l2.8 1.5M477 101l0 -2.6M473.5 136.3l-0.6 -2.4M473.5 136.8l-2.3 1.3M543.6 144.3l1.2 -1.3M494.2 126.6l3.5 0.1M489.8 111.4l-0.8 1.9M533.2 128.8l-2.3 -0.2M473.2 113.9l2.1 -2.3M533 111.1l0.5 1.5M509.3 118l-2.4 0.6M512.8 117.5l0.6 -1.8M537.7 128.8l2 0.7M509 120.1l-2 -0.8M489.7 143.1l-0.8 2.8M529 131l-3.2 1M502.5 148l2.2 0.8M516.9 98.7l1.1 -1.3M513.7 106.5l2.3 -1.2M528.9 125.4l-1.3 -2.5M491.3 108.3l0.9 -1.5M537.6 108.1l1.4 1M527.7 152.3l-2.4 1.4M488.5 149.6l-0.7 -1.7M473.6 137.1l3.1 0.8M491.2 109.6l-1.9 -1.1M511.1 104.9l1.8 -1.1M531.9 104.8l1 -3.3M498.5 97.8l-2 1.9M486 128.2l2 1.3M523.5 121.3l-0.8 -1.6M531 103.1l3.1 -1.6M539.2 127.1l-0.6 2.1M525.2 125.3l1.5 -0.7M505.4 147.1l-2.1 -1.5M476 104.1l-0.4 3.3M532.2 109.3l1.4 -0.7M513.9 153.3l-1.9 2.8M518.2 98.8l-1.2 2.1M487.8 139.9l1.3 2.8M491.6 99.9l-1.6 -0.6M510.4 142.6l-2 -1.4M471.9 126.3l2.3 1.6M479.2 130.1l-1.4 1.8M518.7 105.5l1.6 3M494 145.8l1.7 -1.8M480.5 101.4l1.3 -1.2M506.3 127.6l1.8 1.6M481.6 127.6l-2.2 -0.1M484.1 119.8l0.5 1.7M487.2 147.6l-3.3 -0M470.5 151.8l-3.1 0.2M511.8 136.7l0.4 3M480.8 111.5l2.2 0.4M507.9 113.1l1.3 -1.1M512.4 109.7l-2.5 -1.7M522.2 99.5l0.1 2.7M542.4 98.2l-2.1 -1.9M529.9 116.1l0.9 -2.3M537.8 96.4l2.2 -0.9M499.6 101l0.1 3M519.8 104.8l-1 1.5M484.1 108.8l-1.7 3M543.5 142.8l-2.5 0.3M527.3 149.7l0 -2.8M484.2 132.9l1.7 -2.5M476.3 138.4l-1.1 1.5M541.2 135.8l-0.1 -1.8M531 151.5l2.5 -1.7M531.3 143.4l-2 -1.3M530.7 142.4l1.4 -1.5M540.8 127.4l1.6 -0.6M541.4 142.6l-0 3.2M486.6 107.6l-1.9 0.5M506 149.7l-1.2 -2.7M498.5 142.4l0.8 -2.8M539.4 144.9l-1.4 0.9M517.9 145.5l-1.4 2.3M531.5 142.9l2.5 0.1M470.6 102.4l0.9 -2.2M514.3 123l-1 1.7M495.7 146l-1.5 -1.4M475.9 111.9l-0.7 -2.3M518.5 143.7l2.1 2M472.5 144.7l0.8 1.9M540.6 117.3l0.5 3.2M514.7 148.9l-2 1.5M540.4 125.9l1.9 -0.1M531.1 105.4l-1.5 -0.3M482.4 151.9l-3 0.9M488 116.7l2.1 1.5M533.5 126.3l-2.4 2.4M535.8 135.4l2.4 1.3M502.4 152.7l-1.8 2.2M516.4 118.1l-2.8 -0.4M536.8 125.4l-2.3 2.6M473.6 145.4l-1.1 -2.4M502.7 140.4l2.3 -1.9M525.1 97.9l-0.8 1.6M540.2 148.8l1.6 2.1M512.3 98.6l-2.3 1.9M517.1 112.5l0.2 -2.1M509.8 120.8l2.8 -0.4M529.2 136l-2.5 2.3M522.1 136.8l-0.3 1.8M512.1 144.9l0.6 -2.1M479.8 126.4l1.3 -1.3M524.3 105.9l-0.6 1.5M491.5 118.5l3.3 -0.7M483.3 114.2l1.8 -0.7M493.2 121.8l1.6 1.3M498.7 118.7l2 -0.5M484.6 149.8l-3 1" stroke="#DC92CE" stroke-width="0.55" fill="none" stroke-linecap="round" opacity="0.75"/><g stroke="#A43E9E" stroke-linecap="round" fill="none" opacity="0.5"><path stroke-width="1.6" d="M488.7 141.6h0M519.1 149.3h0M517.6 148h0M479.7 112.1h0M472.3 144.9h0M529.5 127.7h0M474.7 124.2h0M474.1 108h0M530.5 103.4h0M529.7 145.8h0"/><path stroke-width="2" d="M516.7 142.1h0M530.8 129.4h0M539.2 111.6h0M524.6 116.1h0M529.3 116.6h0M494.6 99.7h0M530.6 112h0M541.8 143.4h0M486.1 133.2h0M494 129.6h0M523.2 130.5h0M507.4 130.8h0M503.2 116.1h0M499.3 112.6h0M484.1 137.6h0M489 116.9h0M516.4 154.7h0M472.7 106.2h0M477 102.1h0M511.3 126h0M501.9 139.3h0"/><path stroke-width="2.4" d="M480.7 140.8h0M508.7 112.9h0M477.7 114h0M541.3 133.5h0M534.2 127.4h0M506.7 146.4h0M512.3 119.8h0M531.7 104.8h0M521.7 137.6h0M489.8 99.8h0M486 101.4h0M493.6 96h0M527.2 97.5h0M500.9 99.5h0M503.1 136.4h0M524.1 126.5h0M489.1 129.1h0M533.6 138.7h0M536.2 143.6h0M537.1 143h0M470.4 108.5h0"/><path stroke-width="2.8" d="M510.9 135.6h0M489.9 117.3h0M474.6 128.4h0M519.8 120.3h0M527 119.2h0M489.7 146h0M525.4 125.5h0M536.2 139.9h0M521.4 100.1h0M502.5 128.8h0M528.4 108.2h0M533.9 154.9h0M540.8 115.4h0M541.7 140.2h0M537.8 138.7h0M527.2 123.8h0M488.1 97.1h0M522.2 152h0"/></g><g stroke="#8C4AAE" stroke-linecap="round" fill="none" opacity="0.8"><path stroke-width="2.8" d="M479.4 98.7h0M485.7 98.9h0M496.3 99.3h0M507.1 99.1h0M524.9 99.6h0M545.1 98.7h0M476.8 104.4h0M480.5 105.7h0M493.9 104.8h0M503.8 102.5h0M522.6 102.8h0M540.3 104.1h0M490.7 110.3h0M494.9 109.4h0M519.4 109h0M543.7 110.1h0M479.7 113h0M534.9 113.9h0M480.1 120.5h0M483.5 119.4h0M540 118.3h0M543.7 121.1h0M492.5 124.1h0M500 123.9h0M516.7 123.4h0M521.7 124.4h0M483.9 131.2h0M497.4 130.7h0M514.9 129h0M526.9 130.4h0M492.5 134.3h0M505.3 136.6h0M512 136.5h0M515.8 135.1h0M523.3 136.1h0M528.1 135.3h0M534.5 135.1h0M473.9 140.7h0M501.4 139.1h0M545.2 140.7h0M494.8 144.7h0M499.7 147.1h0M488.8 150.6h0M509.1 149.8h0M513.1 152.6h0M527.7 149.5h0M545.6 152.6h0M476.9 155.9h0M482.8 154.9h0M505.4 154.9h0M518.8 157.8h0M528.3 156.9h0"/><path stroke-width="3.2" d="M501.5 100.2h0M513.4 98.7h0M520.9 99.5h0M532.3 98.5h0M539.1 97.9h0M512.9 103.1h0M476.7 110.4h0M485.5 109.2h0M514.3 108h0M528 109.4h0M539.6 107.9h0M488.1 114.8h0M493.2 114.1h0M512.1 112.9h0M522.3 116h0M530.1 113.6h0M541.2 116.1h0M503.7 120.7h0M507.1 120.8h0M514.8 119.2h0M522 118.5h0M532.1 121.1h0M480.3 124.7h0M507 125.4h0M511.9 125.2h0M540.3 123.5h0M472.1 130.8h0M507.2 130.7h0M519 131.8h0M537.1 131.7h0M474.6 134.9h0M499 134.9h0M539.9 134.9h0M477.5 141.4h0M489.1 142.1h0M513 140.4h0M519.4 141.1h0M525.1 142.2h0M531.3 138.9h0M538.4 138.9h0M475.4 146.1h0M488.2 147h0M504.4 144.2h0M517.7 147.3h0M528.5 145.7h0M471.4 152.7h0M477.5 152.6h0M484.1 150.5h0M497.5 149.3h0M501.6 150.8h0M519.2 151.1h0M531.3 151.3h0M538.1 152.3h0M494.7 155.9h0M500.6 157.3h0M522 157.6h0M534.5 155.8h0"/><path stroke-width="3.6" d="M472 97.1h0M489.8 99.2h0M487 105h0M498 105.6h0M518.9 104.5h0M530.3 102.7h0M536.1 103h0M473.4 110.6h0M502 107.6h0M506.8 110.4h0M531 110h0M475.8 116.1h0M499.9 115.9h0M506.4 115.9h0M518.6 114.2h0M473.9 120.6h0M489.5 121h0M495.8 120.6h0M526.9 119.8h0M474.6 125.6h0M488 125.7h0M528.1 124.9h0M536 124.1h0M479.2 128.7h0M491.5 129.2h0M500.7 129.1h0M530.9 128.5h0M545.2 128.9h0M480.1 134.5h0M486.7 134.9h0M485.7 142.1h0M495.5 139.4h0M509.8 140.4h0M480.2 146.8h0M510.2 144.7h0M524 144.1h0M536.9 145.8h0M541.8 144.8h0M486.7 155.5h0M511.9 156.5h0M542 154.8h0"/></g><g stroke="#70389E" stroke-linecap="round" fill="none" opacity="0.6"><path stroke-width="1.6" d="M485.7 98.9h0M496.3 99.3h0M507.1 99.1h0M520.9 99.5h0M545.1 98.7h0M480.5 105.7h0M493.9 104.8h0M503.8 102.5h0M540.3 104.1h0M476.7 110.4h0M490.7 110.3h0M528 109.4h0M539.6 107.9h0M488.1 114.8h0M522.3 116h0M534.9 113.9h0M483.5 119.4h0M507.1 120.8h0M522 118.5h0M543.7 121.1h0M492.5 124.1h0M516.7 123.4h0M540.3 123.5h0M514.9 129h0M526.9 130.4h0M537.1 131.7h0M474.6 134.9h0M512 136.5h0M523.3 136.1h0M534.5 135.1h0M473.9 140.7h0M519.4 141.1h0M545.2 140.7h0M494.8 144.7h0M504.4 144.2h0M517.7 147.3h0M528.5 145.7h0M477.5 152.6h0M488.8 150.6h0M501.6 150.8h0M513.1 152.6h0M527.7 149.5h0M476.9 155.9h0M522 157.6h0M534.5 155.8h0"/><path stroke-width="2" d="M472 97.1h0M532.3 98.5h0M518.9 104.5h0M530.3 102.7h0M502 107.6h0M514.3 108h0M475.8 116.1h0M499.9 115.9h0M512.1 112.9h0M473.9 120.6h0M495.8 120.6h0M532.1 121.1h0M480.3 124.7h0M507 125.4h0M528.1 124.9h0M479.2 128.7h0M491.5 129.2h0M500.7 129.1h0M486.7 134.9h0M499 134.9h0M485.7 142.1h0M495.5 139.4h0M509.8 140.4h0M531.3 138.9h0M480.2 146.8h0M541.8 144.8h0M538.1 152.3h0M486.7 155.5h0M500.6 157.3h0M511.9 156.5h0"/></g><g stroke="#EEF4E4" stroke-linecap="round" fill="none" opacity="0.9"><path stroke-width="0.8" d="M528.8 96.4h0M519.8 137.9h0M478.9 109h0M489.2 97.9h0M499.6 120.8h0M512.7 151.8h0M495.8 137.6h0M482.4 124.4h0M519.6 105.4h0M513.1 107.6h0M509.1 138.9h0"/><path stroke-width="1.2" d="M515.8 123.8h0M482.8 152.7h0M486.7 121.4h0M484.8 120.1h0M536.3 109.6h0M496.1 135.2h0M540.9 141.3h0M517.1 133.5h0M541.2 107.5h0M491.8 111h0M514.1 146.3h0"/></g><g stroke="#3C2470" stroke-linecap="round" fill="none"><path stroke-width="0.8" d="M474.6 96.1h0M521.1 96h0M489.1 138h0M470.8 102.6h0M541.5 104.6h0M508.2 114.8h0M505 111.2h0M475.6 105.5h0"/></g></g></g><clipPath id="c3"><rect x="542.9" y="97.8" width="70.5" height="55.4"/></clipPath><g clip-path="url(#c3)"><g filter="url(#bl)"><rect x="540.9" y="95.8" width="74.5" height="59.4" fill="#D23CAA"/><path d="M587.4 137.2l-0.3 3.5M595.2 116.1l-2 0.1M610.1 129.1l1.8 0.6M592.5 118.7l-0.4 -2M600.3 143.4l2.5 1.7M555.2 137.8l1.1 -3.3M558.1 101.3l-1.5 -2.5M551.2 107.2l-1.5 -0.9M588.1 110.1l-0.1 2.6M580.6 138.8l3.2 0.6M557.4 113.1l-2.1 -2.5M586.7 149.4l0.6 2.2M590.3 111.3l1.1 1.7M598.4 144.9l-0.8 -3.8M600.1 114.2l-1.3 3M545 132l1.4 0.9M579.2 104.8l3.4 -1.5M575.3 107.5l2 1.9M579.7 117.4l-0.6 -2.8M598.7 102.1l2.2 1.1M576.9 110.8l-1 -1.8M564.6 124.1l-0.8 -3.3M568.6 122.3l3.4 -1.7M587 102l-3 0.9M561.7 98l3.7 -0.5M550.5 123.5l-1.6 -1.5M546 140.4l0.3 -2.6M547.3 119.2l3.2 2.2M544.7 112.9l0.2 -1.8M548.8 100l1.5 2.4M603 105.8l1.6 3M572.6 115.9l1.5 1.5M613.3 102.7l-0.2 3.3M607.3 149.5l-3.8 0.7M585.9 112.9l-3.2 0.7M595.6 103.5l1.4 3.7M548.9 144.1l-1.1 1.8M559.9 123.7l1.9 -0.1M604.6 114.9l1.6 3M566.3 106.9l-3.1 1.7M605.2 129.9l3.4 0.2M586.1 149.2l2.2 -0.7M604.1 144.4l-0.2 2.4M568.8 116.8l-1.3 1.2M557.8 149.8l-2.6 1.6M607 140.7l0.1 3.8M600.8 154.6l-0.5 -3.4M601.5 110.8l-1.4 -2M603.5 103.7l-2.3 -0.6M602 116.3l2 -3M606.4 104.1l3.1 -1.3M591.3 134.6l3.5 1.1M581.7 122.9l-1.8 2.9M599.2 147.5l0.5 2.3M559.5 101.8l-0.7 1.4M600.2 109.3l1.5 0.7M596.1 107.6l-2.4 0.6M600.7 152.5l-1.1 2.9M607.6 123.7l2.7 -2M564.1 147.7l-1.6 -0.8M584.7 145.1l-2.7 -0.3M571.9 148.1l-1 -1.7M567.9 117.4l3.1 -0.8M550.2 150.1l2.9 0.6M573.1 138.4l-1.6 0.7M579.9 144.5l0.6 -2.3M557.5 140l0.6 -1.9M606.7 154.8l-2.2 1M593.8 151l0.7 2.2M565.4 139.3l1.1 2.6" stroke="#E884D0" stroke-width="0.7" fill="none" stroke-linecap="round" opacity="0.7"/><g stroke="#F4F6F4" stroke-linecap="round" fill="none" opacity="0.95"><path stroke-width="0.8" d="M603.4 150.8h0M611.2 122.1h0M553 108.8h0M551.7 105.8h0M605.3 129.8h0M607.8 143.3h0M567.1 139.6h0M580.4 136.2h0M599.5 126.4h0M572.7 151.2h0M543.4 124.2h0M604.3 148.9h0M581.7 114.4h0M613.4 99.6h0M591.4 138.2h0M564.2 129.6h0M571.1 137.2h0M572.8 105.7h0M552.6 132.9h0M592.6 112h0M568.8 139.4h0M607.8 115.9h0M566 99.7h0"/><path stroke-width="1.2" d="M578.2 135.5h0M567.8 150.7h0M610.4 129.1h0M587.9 143.5h0M585.8 111.2h0M547.8 96.1h0M594.3 140.3h0M559.9 126.5h0M585.8 149.5h0M594 138h0M559.2 107.6h0M571.5 132.5h0M554.6 124.3h0M593.1 153.2h0M567.3 121.1h0M592.4 119.1h0M604.2 139.1h0M587.8 150.5h0M570.9 106.6h0M568 149h0M576.4 115.6h0M586.3 142.5h0M568.5 118.8h0M608.9 127.8h0M565.7 144.6h0M592.3 97.1h0M545.3 143.7h0M557.9 99.2h0M547.6 150.8h0M543.7 99.1h0M549.3 105.4h0M567.8 154h0M570 110.8h0M553.9 106.5h0M551.5 106.2h0M583.4 139.1h0M586.7 114.6h0M560.4 132.1h0M604.8 124.8h0M598.8 101.9h0M549.4 147.6h0M611.2 155.1h0M574.9 147.1h0M611.7 123.9h0M576.2 142.5h0M612.6 150.6h0M591.8 128.7h0M577.6 111.7h0M553 148.4h0M612.4 154.1h0M584.3 153.2h0M556.1 103.2h0M563.3 153.4h0M602.3 96.6h0M554.3 145.2h0M602.8 154.1h0M596.5 111.9h0M559.9 104.2h0M542 99.3h0M558.5 140.8h0M602.3 110.1h0M576.5 118.8h0M609.7 131.7h0M546.1 100.7h0M547.5 134.3h0M559.1 105h0M578.7 115.7h0M553.4 135.6h0M541.2 109h0M614.9 115.7h0M590.9 109h0M592.2 121.4h0M577.8 143.8h0M551.4 124.5h0M600.6 102.5h0M566.8 137.1h0M573.5 96h0M541.2 98.3h0M606.1 155h0M611.5 129.4h0M579.5 124.5h0M554.7 127.4h0M579 118.1h0M576.9 139.2h0M574.6 117.1h0M600.8 109.4h0M577.2 117.7h0M604.1 147.3h0M554.6 105.2h0M609.6 146.5h0M604.3 148.7h0M555.2 141.7h0M549.8 149.4h0M570.5 131.2h0M542.4 119h0M586.4 113.3h0M604.6 149.8h0M584.6 129.9h0M585.7 126.1h0M556.8 114.3h0M568 149.4h0M559 130.7h0M614.4 99h0M603.6 128.4h0M600.5 102h0M547.7 123.2h0M541.1 101.4h0M556.5 147.9h0M580.5 115.3h0M603.9 115.9h0M612.2 117.2h0M574.2 119.9h0M551 132.2h0M583.5 109h0M602.2 134.6h0M613.3 139h0M580.6 147h0M587.4 103h0M573.7 143.1h0M599.5 122.9h0M570.4 109.1h0"/><path stroke-width="1.6" d="M612.2 155.2h0M608 152.5h0M572.2 126.3h0M584.5 138.6h0M546.1 143.1h0M551.5 123.1h0M615.2 115.8h0M555.3 114.6h0M576 107.6h0M573.1 113.5h0M599.8 130.8h0M566.2 151.9h0M565 124.3h0M580.5 151h0M542.5 137.9h0M613.5 154.9h0M573.6 142.8h0M574.5 148.2h0M604.9 150.1h0M592.4 96.1h0M600.4 120.4h0M560.9 149.5h0M592.2 114.7h0M597.3 104.7h0M583.6 149.7h0M595 111h0M589.2 101.6h0M594.7 108.5h0M583.5 143.8h0M596.7 104.4h0M544.9 154.5h0M596.1 103.6h0M569 110.6h0M575.5 123.7h0M554.7 103.9h0M549.8 106.8h0M586.6 153.5h0M600.9 136.3h0M553.4 103.9h0M582.2 141.1h0M590.8 117.2h0M582.1 108h0M549.7 145.5h0M571.9 149.4h0M614.9 154.8h0M589.6 105.4h0M552 130.8h0M552.8 125.7h0M582.7 120.3h0M597.9 109h0M603.1 122.7h0M565.1 149.8h0M550 146.1h0M596.2 138.4h0M555.7 101h0M609.4 101.7h0M577.3 107.3h0M610.5 144.2h0M592 137.2h0M613.6 98.5h0M544.9 130.4h0M595 147.2h0M552.5 147.6h0M549.5 118.4h0M584.7 153.4h0M568.7 126.1h0M557.5 112.3h0M578.4 120.7h0M598.3 137.6h0M567.7 140.6h0M556.3 109.7h0M589.7 136h0M549 143.1h0M541.7 117.9h0M565.7 136.2h0M554.9 97h0M543.6 115.1h0M543.7 143.1h0M561 141.9h0M557.9 132.9h0M568.4 121.5h0M562.5 137.5h0M614 105.9h0M565.9 132.3h0M568.4 102.6h0M553 135.2h0M557.3 152.9h0M591.2 125.3h0M555.6 106.1h0M592.6 111.2h0M578.9 114.5h0M550.9 124.5h0M550.9 114.1h0M581.6 132.4h0M602.7 129.5h0M573.7 145.1h0M609.9 144h0M551.6 137.3h0M612.1 112.5h0M602.8 110.5h0"/><path stroke-width="2" d="M600.1 106.7h0M582 140.9h0M542.6 125.6h0M613.4 124.7h0M590.3 139.5h0M551.7 117.5h0M595.5 138.6h0M611.4 128.5h0M555.3 140.2h0M569.6 101.3h0M597 131.3h0M586.3 135.7h0M566 119.3h0M612.4 152.6h0M599.6 144.6h0M609.7 100.7h0M561.6 117.8h0M595.2 116.2h0M566 105.5h0M608.9 108.9h0M587.9 127.5h0M573.9 101.6h0M558.2 123.3h0M587.8 129.2h0M592 117.3h0M588.1 128.1h0M591.9 150.8h0M544.6 121.1h0M610.3 111.7h0M579.3 115h0M568 135.1h0M582 117.1h0M563.9 126.2h0M590.2 101.2h0M546.1 128.1h0M594 112.2h0M608.6 142.5h0M579.4 110.6h0M570.9 137.9h0M567.8 97.7h0M580 135.6h0M577.2 138.1h0M572.3 114.5h0M614.4 110.1h0M597 122h0M577.7 117.9h0M562.1 100.8h0M599.8 123h0M568 122.4h0M586.5 97.8h0M603.9 106.3h0M579.7 96.7h0M562.7 112.4h0M608.4 147.5h0M557.9 101.2h0M582 132.2h0"/></g><g stroke="#6A30A4" stroke-linecap="round" fill="none" opacity="0.9"><path stroke-width="1.2" d="M578.7 142.5h0M557.1 121.8h0M611.9 107h0M571.6 126.1h0M542.1 151h0M563.7 139h0M605.7 98.8h0M547.2 110.8h0M594.7 102.6h0M541.5 115.4h0M575.3 129.9h0M582.4 147.2h0M603.7 123.7h0M546 151.4h0M594.8 117.7h0M597.2 112.4h0M545.6 150.7h0M563.4 138.3h0M542.1 104.8h0M547 101.2h0M572 110.8h0M585.4 147.1h0M577.8 109.4h0M601.6 132.1h0M548.1 135h0M590.8 105.9h0M557.9 110.8h0M607.4 103.4h0M599 130.6h0M586.1 155h0M565.9 96.5h0M584.5 130.3h0M577.6 119.8h0M614.4 140.9h0M545.3 142.7h0M589.2 143.3h0M577.6 151.4h0M593.1 130.3h0M600.6 125.9h0M602 144.6h0M610.9 143.9h0M559.6 128h0M604.9 148.6h0M592.8 135.8h0M575.7 144.2h0M547.7 135.5h0M571.4 122.5h0M560 111.2h0M578.3 141.4h0M588.1 117.5h0"/><path stroke-width="1.6" d="M612 117.7h0M596.4 147.8h0M589.9 119.9h0M552.4 150.4h0M576.8 118.2h0M550.2 142h0M557.4 147.3h0M552 106.7h0M555.1 124h0M543.8 141.4h0M583.6 134.3h0M592.4 104.9h0M577.4 110.7h0M571.6 151.1h0M579.1 122h0M598.2 145.2h0M571.3 135.1h0M589.9 97.1h0M565.1 131.3h0M550.4 135.6h0M599.8 114h0M570.3 125.6h0M550 126.9h0M613 118.6h0M557.9 153.3h0M589 145.3h0M561.5 104.9h0M558.6 129.1h0M568.9 103.3h0M548.2 151.9h0M594.6 112.3h0M554.8 121.8h0M584.5 113.6h0M614.7 151.8h0M570 121h0M570.9 129.6h0M598.8 154.8h0M576.3 114.4h0M583.2 108.4h0M557.6 146.2h0M604.1 113.8h0M570.3 96.5h0M548.3 138h0M578.5 110.4h0M552.4 127.9h0M568.5 101.9h0M553.9 100.3h0M542.2 124.4h0M563.6 125h0M589 125.8h0M545.8 128h0M606.3 135.3h0M559.3 130.1h0M583.1 150.1h0M614.8 97.5h0M580.3 131.8h0M611.8 110.5h0M610.6 96.9h0M603.5 119.4h0M610 99.6h0M552.5 103.7h0M604.1 129.5h0M598.9 141.3h0M594.1 142.4h0M593 103.4h0M556.9 115.1h0M605.3 133.7h0M573.1 154.6h0M563.8 126.4h0M608.4 150.8h0M588.6 147.6h0M556.8 140.5h0M557.4 118.1h0M546 126.6h0M574.2 154.2h0"/><path stroke-width="2" d="M578.2 97.4h0M556.5 116.4h0M594.7 116.8h0M547.9 112.2h0M600.4 110.9h0M582 131.5h0M605.2 142.5h0M601.6 121.7h0M573.7 125.7h0M581 108.7h0M576.7 99.7h0M595.5 101.8h0M575.3 117.9h0M556.5 98h0M554.2 119.9h0M541.9 133h0M563.3 138.1h0M556.1 134h0M601.1 102.7h0M544 122.5h0M556 122h0M572.6 151.5h0M543.4 122.2h0M563.5 130.6h0M579.5 103.9h0M603.4 98.6h0M545.7 137h0M588.8 100.9h0M578.8 125.7h0M568.8 120.3h0M561.3 154.1h0M615.2 134.3h0M582.5 100.5h0M554 111.2h0M555.4 123.3h0M576.3 134.4h0M592.8 139.8h0M603.4 110.1h0M594.2 151.6h0M606.4 111.7h0M600.4 145.9h0M548.5 105h0M569.2 96.6h0M607 103.2h0M542.5 138h0M592.7 128.5h0M570.6 107.2h0M583.6 142.1h0M585.5 150.6h0M593.5 151.1h0M590.3 151.5h0M574.1 123.2h0M564.6 102.3h0M601.2 110.5h0M615.2 122.3h0M612 120.4h0M545 120.9h0M592.9 153.2h0M569.5 111.3h0M595.4 143.3h0M549.5 131.4h0M609.4 144.9h0M562.9 141h0M587.3 124.2h0M541.9 114.8h0M569.3 109.2h0M584.6 152.5h0M569.6 116.4h0M553.9 129h0M541 147.3h0M548.2 141.3h0M564.3 136.4h0M548.2 112.5h0M548.8 116.5h0M553 100.2h0M559.3 135.2h0M566.3 110.2h0M562.7 112.6h0M574.4 129.5h0M569.4 145.7h0M568.9 103.1h0M596.1 150.6h0M574.1 123.6h0M614.7 97.3h0M602 118h0M571.5 107.5h0"/><path stroke-width="2.4" d="M592.8 142.2h0M564.2 100.1h0M568.4 148.1h0M544.1 107.2h0M554.9 152.2h0M568.8 95.8h0M613.2 117.9h0M583.1 115.2h0M577.6 115.7h0M588 106.1h0M565.6 128.1h0M582 139h0M580.6 137.7h0M588.1 145.3h0M565.3 145.3h0M569.2 150.5h0M612.7 104.1h0M595.4 101.1h0M583.8 148.7h0"/></g><g stroke="#4A2090" stroke-linecap="round" fill="none" opacity="0.9"><path stroke-width="0.8" d="M567 120.6h0M572.6 110.7h0M582.8 108.1h0M602 113.7h0M582.1 134.7h0M544.2 124.7h0M595.8 133h0M574.1 109.6h0M548.4 115.7h0M541.6 147.9h0M543.6 141.6h0M576.1 95.8h0M595.2 107.5h0M595.3 130.1h0M551.9 101.5h0M592.7 129.1h0M611.6 152.6h0M565.5 114.9h0M573 149.2h0M603.2 114.2h0M607.9 112h0M549.6 117.6h0M576.3 115.4h0M606.9 131.9h0M609.9 148.5h0"/><path stroke-width="1.2" d="M610.9 130.9h0M577.7 122.3h0M552.8 116.3h0M607.1 109.8h0M573.8 127.7h0M544.1 99.7h0M592.2 118.4h0M554.4 144.3h0M594.2 116.4h0M585.3 134.7h0M582.8 107.1h0M591 127.4h0M603.7 96.6h0M605.6 142.3h0M563.4 109.6h0M563.1 138.8h0M597.6 129.8h0M614.3 118.3h0M581.5 118.9h0M564.4 108.2h0M581.9 140.7h0M590.5 141.2h0M573.9 139.3h0M556.2 127.6h0M566.5 101.5h0M595.4 102.7h0M579.3 111.8h0M610.8 112.6h0M554.3 110.7h0M574.1 113.9h0M598.6 138.8h0M609.3 142.8h0M593.1 109.9h0M603 116.6h0M590.5 107.2h0"/></g><g stroke="#E8F6EA" stroke-linecap="round" fill="none"><path stroke-width="2" d="M553.9 143h0M587.3 146.9h0M548.3 152.7h0M563.3 128.2h0M611.4 152.6h0M541.1 120.7h0M603.6 139.3h0"/><path stroke-width="2.4" d="M572.6 154.2h0M593.9 98.2h0M610.3 115.9h0M599.3 138.8h0M544.1 151.2h0M585.2 144.2h0M543.1 150.6h0M596 108.3h0M550.7 147.8h0M556.9 96.8h0M564.2 103.2h0"/><path stroke-width="2.8" d="M549.7 104.6h0M557.1 141.2h0M607.3 107.7h0M598.6 140.3h0M593.4 139h0M542.1 150.7h0M607.8 135.3h0M592.7 125.1h0M560.7 110h0M543.5 150.5h0"/><path stroke-width="3.2" d="M612.2 116.2h0M611 102.8h0M591.9 120.2h0M600.7 123.8h0M577.3 100.5h0M591.4 121h0M544 103.9h0M550.7 120.4h0M615.2 102h0M551.7 126.2h0M589.1 129.6h0M579 126.2h0"/></g><g stroke="#D8F0DC" stroke-linecap="round" fill="none"><path stroke-width="4" d="M549.7 108.3h0"/><path stroke-width="4.4" d="M598.7 105.8h0"/><path stroke-width="4.8" d="M556.3 128.8h0M599 126.4h0M583.6 103.5h0M572.3 121.5h0"/><path stroke-width="5.2" d="M606.4 137.2h0M597.4 113.7h0M594.8 140.1h0M609.5 134.3h0M584.8 125.1h0"/><path stroke-width="5.6" d="M602.3 143.6h0"/></g><g stroke="#D4EED8" stroke-linecap="round" fill="none"><path stroke-width="5.6" d="M568.6 153.5h0"/><path stroke-width="6" d="M574.3 131h0"/><path stroke-width="6.4" d="M567.8 119h0M542.2 138.7h0"/><path stroke-width="6.8" d="M558.7 96.7h0"/></g></g></g><clipPath id="c4"><rect x="614.5" y="97.8" width="70.5" height="55.4"/></clipPath><g clip-path="url(#c4)"><g filter="url(#bl)"><rect x="612.5" y="95.8" width="74.5" height="59.4" fill="#B04AB4"/><path d="M682.5 112.8l-2.3 0.5M616.8 148.8l1.1 -1.8M631.5 137.3l0.8 -2.6M641.4 109.7l1.1 -3.5M676.4 102.6l-3.3 -2.2M665.8 123.1l1 1.3M667 99.9l1.1 -3M647.8 148.8l2.8 -1.3M619.9 130.8l-1.9 1M681.7 139.2l1.5 1.4M638 129.8l-1.2 2.3M673.1 106.6l-0.4 -2.3M682.9 152.3l-1.4 2.7M620.8 120.2l-2.2 -2.2M638 97.8l2.1 2M625.2 114l-2.8 -2.5M650.9 110.9l-1.9 -1.1M670.8 105.1l-0.2 2.6M680.2 105.6l0.6 1.7M628.4 115.5l-2.7 2.1M642.6 124l-2.7 2.1M679.8 121.1l1.9 -1M685.3 127l-1 -2.2M632.7 103.8l1.8 -1.6M664.5 123.2l-2 -0.3M625.7 115.8l-1.2 -2.6M612.7 138l-1.5 0.7M631.9 108.4l1.3 -2.6M636.8 110.6l-0.6 2.1M638.3 142.8l0.8 -3.2M678.4 134.6l1.2 1.1M624.7 111.1l-3.5 -0.6M656.1 121.3l0.2 3.9M668.6 116.1l3.8 1.1M631.6 146.2l2.3 2.1M639.1 148.6l-0.5 1.7M627.3 143.7l3.1 -0.4M663.3 112.6l-0.2 1.7M685.9 98.4l-1.8 -1.5M626.4 121.7l1.9 -0.9M624.8 133.2l-1.5 -2.3M625.9 147.7l1.5 1.2M630.5 126.3l-2.9 0.4M666.7 148.9l-1.6 0.3M674.4 96.9l-0.8 1.7M657.4 142.2l1.5 1.6M675.9 136.7l2.5 2M671.7 120.1l1.8 2.6M636.3 103.7l1.3 2.2M622 118.7l-2.7 -0.9M642.6 143.3l2 1.2M682 147.1l3 -1.6M652.4 142.6l-1.6 -0.8M631.5 101.6l1.6 -1.6M642.9 127.8l2.6 1.9M671.8 143.1l1.7 -1.6M623.3 141l-0.9 -2.3M638.1 104.9l1.3 -2.3M673 116l-1.2 2.5M668 148.2l-2 2.6M642.6 147l0.2 -2.9M639.5 112.1l2.6 -2.3M635.2 100.8l1.3 3.7M615.4 143.9l-2.8 -0.5M652.7 120.2l-1.6 -0.6M681 101.9l2 2.4M660.2 143.7l-1.4 -3.6M616.4 96.4l0.3 3.4M623.9 127.4l0.2 -1.9M651.8 149.3l-0 -2.5M648.2 112.3l3.3 -0.9M663.2 113.9l-0.3 -2.7M672 117.4l2.4 -2.2M646.1 129.2l0.9 -2.7M684 96.2l2.6 -2M649 146.3l1.4 1.9M665.7 144.7l-2.8 2.9M660.8 98.5l1.2 1.2M655 114.9l-0.2 2.6M618.3 149.8l1.5 -2.5M645.6 114.1l-1.9 -1.4M685.2 152.6l-0.5 -3.5M618.1 103.1l-1 1.5M644 154.4l2 -3.4M629 109l2.2 0.3M616.7 127.2l-1 3M654.3 131.3l-1 3.2M663.8 138.2l-2.6 0.5M633.8 98.2l-3 0.6M626.4 146.9l2.6 -2.5M673.3 124.8l1 1.9M667.5 154.3l1.2 1M638.8 116.5l-1.5 -1M675.4 115.9l1.9 -1.3M635.2 106.2l2.9 -0.6M674 99.5l-3.2 -0.9M685.8 151.4l1.9 1.5M686.9 127.6l2.1 -0.6M614.4 152l-0.2 2.9M639.4 130.1l3.5 -1.6M677.8 111.1l0.7 -1.4M643.5 151.9l-0.1 2.4M655.8 109.9l-0.8 -3M619.6 150.5l2.9 1.4M638.5 104.3l3.5 1.9M672.1 123.1l1.1 -3.8M681.5 127.4l-0.4 2.8M685.6 139.2l-1.7 -3.2M643 129l1.2 -1.6M676.5 97.3l-2.9 -0.7M623.4 150.6l-1.8 0.7M643.2 130.9l-1.4 0.7M619.4 138.2l1.4 1.6M672.7 147l1.4 -1.3M612.9 140.6l-2 -1.4M613.9 121.4l0.2 3M685.6 108.2l2.9 1.5M620.5 109l-3.7 1.5M636.7 114.6l-1.9 0.3M642.5 137.4l-1.6 3.1" stroke="#E090D8" stroke-width="0.6" fill="none" stroke-linecap="round" opacity="0.7"/><g stroke="#F6EAF6" stroke-linecap="round" fill="none" opacity="0.9"><path stroke-width="0.8" d="M646.2 150.3h0M657.9 120.9h0M686.6 128.9h0M661.1 147.3h0M638.2 154.3h0M612.6 100h0M658.7 128h0M670.6 96h0M662.6 133.3h0M671.3 142.8h0M674.3 126.5h0M676.3 102.9h0M664.8 148.5h0M642.9 129.5h0M619.7 114.3h0M674 132.6h0M654.6 119.2h0M682 106h0M650.4 99.3h0M671 117.6h0M685.5 142.9h0M627.8 95.9h0M639.3 115h0M654.3 102.8h0M658.7 118.3h0M625.3 116.4h0M640.9 151.4h0M655.3 135.8h0M626.2 103.9h0M676.1 140.5h0M652.3 105.9h0M678.5 134.8h0M684.8 140.9h0M654.9 121.9h0M652.2 114.1h0M648.6 100h0M652 118.9h0M633.5 116.7h0M612.9 103.7h0M674.2 115.7h0M685.6 102.7h0M648.1 111.1h0M649.5 98.8h0M616.3 147.6h0M681.2 154.3h0M641.5 122.5h0M667.9 149.6h0M651.1 142.5h0M633.3 154.3h0M644.1 150.8h0M677.9 109.3h0M621.5 102.1h0M684.7 147.1h0M686.7 131.4h0M659 146.8h0M613.2 153.6h0M632.2 147.3h0M618.4 102.1h0M684.3 130.3h0M614 126h0M659.4 113h0M650.5 127.4h0M682.4 110.5h0M620.2 108.7h0M647.4 126.5h0M612.7 116.8h0M681.6 141.1h0M661.1 125.5h0M672.9 116.1h0M677 137.7h0M658.5 147.8h0M655.4 106.6h0M623.6 123.4h0M618.6 137.6h0M665.4 123.1h0M643.8 138.3h0M632.4 141.6h0M614.2 116.7h0M624.3 146.6h0M652.3 125.3h0M633.1 126.4h0M633.1 151.1h0M675.5 146.6h0M677.2 149h0M661.3 100.2h0M625.8 115.9h0M676.5 142.2h0M686.5 99.3h0M646.8 152.7h0M651.6 124.2h0M622.7 148.3h0M660.9 104.5h0M633.4 152.4h0M639.6 150.9h0M644.5 100.9h0M623.4 106.7h0M629.9 110.4h0M631.3 108.3h0M674.9 97.3h0M623.4 128.4h0M633.1 145.1h0M660.8 128.8h0M673.4 107.9h0M635.3 143.5h0M659.7 97.7h0M665.3 125.3h0M638.4 112.7h0M657.4 128.6h0M615 139.5h0M654.6 96.8h0M618.1 130.3h0M677.6 97.7h0M619.1 148.2h0"/><path stroke-width="1.2" d="M626.2 101.8h0M668.1 135.6h0M622.1 132.1h0M647.7 123.9h0M629.1 133.2h0M641.7 151.6h0M635.3 124.1h0M659.5 151h0M644.7 97.4h0M643.3 152.8h0M636.4 148.2h0M615.2 113.6h0M641.6 126.9h0M680.9 139.5h0M632.4 150.5h0M614 116h0M673.2 96.1h0M612.6 154.2h0M669.9 143.4h0M684.3 100.7h0M629.4 115.1h0M686.1 99.4h0M622 155h0M664.8 126.7h0M637.6 120.4h0M675.7 139.6h0M616.1 138.4h0M658.4 108h0M623.6 147.2h0M655.5 133.7h0M620.8 109h0M622.3 97h0M613 111.2h0M630.7 115.1h0M674.9 139.7h0M678.9 103.1h0M658.6 135.8h0M679.9 100.3h0M660.2 133.6h0M623.4 100.4h0M628.8 130.9h0M614.5 101.4h0M657.3 100.6h0M630.4 130.8h0M637.8 152h0M686.1 141.5h0M670.7 108.9h0M649 121.2h0M672.1 111.5h0M649.4 151.7h0M639.1 97.3h0M645.6 116.5h0M640 119.5h0M684.4 121.9h0M684.3 133.9h0M683.8 127.5h0M617.5 140.1h0M629.1 111.9h0M671.8 100.3h0M621.2 148.7h0M623.7 124.3h0M666.4 126h0M676.6 152.5h0M630.4 103.9h0M655.9 123.1h0M623 138.5h0M646.1 102h0M658 101.4h0M618.9 100.3h0M684.9 116.9h0M615.1 126.4h0M619.8 130.2h0M636.9 145.1h0M671.5 141.1h0M628.6 103.5h0M671.6 149.1h0M657.8 96.1h0M658.2 141.6h0M621 109h0M671.8 128.3h0M654.6 146.6h0M660.1 106.6h0M636.4 123.9h0M657.1 144.5h0M669.5 125.5h0M663.1 115.8h0M663.4 105.3h0M671.1 136.2h0M614.8 133.8h0M647.1 151.4h0M659 126h0M614.8 137.4h0M646.2 145.4h0M653.1 105.6h0M681.4 147.2h0M672.6 101h0M652.9 151.4h0M649.2 115.2h0M624.3 124.5h0M670.4 98.7h0M658.8 124.4h0M651.4 106.7h0M654.8 126.2h0M649.2 118.6h0M686.7 149.7h0M672.5 134.5h0M631.5 120.2h0M618.2 147.8h0M617.7 117.1h0M629.1 135.6h0M639.3 100.2h0M683.8 141.1h0M683.4 134.2h0M644.2 131.9h0M613.1 142.1h0M679.4 117.4h0M685 107.4h0M617.1 129.1h0M672.6 133.2h0M652.2 133.2h0M643.9 140.7h0M643.7 119.7h0M622.4 128.4h0M666.2 98.1h0M644.8 114.7h0M633.4 135.6h0M665.3 113.1h0M654 138.5h0M623.3 136.3h0M631.2 143.9h0M644.4 131.9h0M645.3 101.2h0M683 118h0M640.3 117.9h0M685.2 147.7h0M658.7 121.7h0M621.6 147.5h0M677.8 113.3h0M618.5 124.7h0M647.7 151.7h0M654 120.8h0M615.7 148.2h0M682.1 145.8h0M624.7 134.6h0M686.3 135h0M613.5 152.7h0M648 108.7h0M664.8 106.1h0M634.5 136.4h0M679.1 144.8h0M684.7 152.2h0M672.3 122.8h0M671.8 134.7h0M622.5 140.6h0M643.1 131.2h0"/><path stroke-width="1.6" d="M647 128.5h0M631 136.8h0M659.6 107.8h0M672.8 102.3h0M645.2 154.6h0M623 97.9h0M617.5 153.9h0M620.8 138.9h0M613.5 101.3h0M686 141.8h0M652.7 124.4h0M612.7 109.7h0M646.6 108h0M613.7 145.6h0M676.6 144.5h0M640.9 101.8h0M644 127.9h0M665.9 133.7h0M666.5 154.6h0M613.9 129h0M667.8 125.1h0M660.4 112.6h0M640 112.2h0M670.8 138.1h0M673.2 123.8h0M677.7 129.9h0M620.5 111.4h0M635.5 145.3h0M650.2 153.3h0M632.1 133.6h0M644.9 130.1h0M631.4 145.5h0M659.6 97.3h0M681.4 128.7h0M615.8 103.2h0M617.2 128.9h0M661.4 134.2h0M669.7 100.3h0M685.8 127.8h0M617.5 111.9h0M618.9 124.7h0M622.1 114.2h0M667.7 111.7h0M652.9 140.8h0M649 128.2h0M682.3 149.4h0M624.2 140.9h0M674 142.8h0M665.9 128.3h0M636.9 100.4h0M639.2 118.9h0M623.4 125.9h0M644.7 99.3h0M661.8 116h0M619.1 141.8h0M663.7 126.1h0M684.2 147.7h0M676.4 98.3h0M658.5 138.1h0M657.2 111.3h0M673.7 136.1h0M647.1 101.6h0"/></g><g stroke="#6430A6" stroke-linecap="round" fill="none" opacity="0.85"><path stroke-width="1.6" d="M678.1 147.2h0M627.9 99.6h0M657.7 106.7h0M664.9 143.9h0M615.3 152.5h0M615.1 141.1h0M668.5 96.2h0M684.4 145.9h0M650.3 133.3h0M617.9 126.1h0M656.4 111.2h0M680.3 132.8h0M617.7 145.5h0M650.3 108.6h0M653.1 136.2h0M612.9 111.5h0M636.2 127.1h0M664 116h0M622.5 148.6h0M641.3 153.8h0M670.4 135.8h0M633 106.8h0M675.8 150.4h0M663.3 105h0M637.1 101.2h0M629.7 124.1h0M633.2 126.5h0M664.6 150.7h0M625.6 117.7h0M627.4 116h0M632.2 137.2h0M673 140.3h0M618.5 107h0M684.8 105.3h0M640.9 143.6h0M637.6 98.3h0M627.3 112.4h0M675.9 137.6h0M663.4 107.5h0M660.2 137.1h0M670.7 118.8h0M657 107.1h0M660.2 149.8h0M662.3 147.3h0M650.5 143h0M628.1 104.4h0M651.6 97.6h0M662.9 119.8h0M616.1 106.5h0M640.7 129.3h0M627.4 132.5h0M645.9 146.6h0M657.7 136.6h0M654.8 153.3h0M622.3 123.1h0M622.6 121.6h0M657.7 109.4h0M660 150.8h0"/><path stroke-width="2" d="M669.2 128.1h0M668.3 143.7h0M676.4 106.9h0M650.8 139h0M635 147.3h0M643.8 109.1h0M623.9 146.4h0M615.6 111.9h0M619.1 128.4h0M643.6 112.6h0M640.4 124h0M639.1 100.8h0M638.3 139.7h0M651.8 105.9h0M656 104.1h0M653.1 138.3h0M629.8 149h0M678.1 139.5h0M659.5 102.5h0M649.4 135.6h0M673.5 148.3h0M672.2 136.6h0M662.5 119.6h0M662.1 96.2h0M684.7 108h0M622.5 110.1h0M613.6 98.5h0M668.3 143h0M683.7 114.2h0M656.3 148.7h0M685.4 154.8h0M617.5 110.6h0M613.6 110.9h0M649.2 140.7h0M666.1 108.2h0M656 130.2h0M621.4 111.2h0M638.9 125h0M686.8 139.4h0M659.4 152.8h0M677.9 143.5h0M623.3 143.7h0M668.7 148h0M616.3 112.6h0M681 142.7h0M666.6 98.1h0M675 149.1h0M643.3 115.7h0M652.3 100.2h0M679 151.6h0M654.1 152.4h0M661.5 95.8h0M621 113.6h0M620.8 127.9h0M631.6 121.7h0M643.8 154.4h0M626.8 106.2h0M623.6 100.7h0M645.3 120.6h0M621.8 100.2h0M625.4 149.2h0M679.3 138h0M630.7 129.3h0M685.7 154.8h0M683.8 152.6h0M626 154h0M665.8 130.4h0M643.9 96.5h0"/><path stroke-width="2.4" d="M683.2 125.9h0M646.9 120.3h0M619.8 101.3h0M665.1 117.3h0M645.6 109.7h0M620.9 126.7h0M677.5 129h0M669.5 112.3h0M680.8 149h0M628.9 107.4h0M636.7 141.4h0M664.4 119.9h0M668.5 96.7h0M648 124.1h0M683.9 129.9h0M675.4 146.1h0M663.8 126.1h0M614.9 143.2h0M663 107.2h0M674.5 142.6h0M636.7 139.7h0M652.9 154.7h0M620.5 131.3h0M648.1 111.8h0M642.1 122.9h0M629 150.2h0M616 101.4h0M623.4 135.4h0M677.4 133.3h0M670.6 126.4h0M650.9 142.4h0M638.6 123.3h0M679.1 150.2h0M648 103.6h0M643.1 110.5h0M684.5 134.6h0M685.6 104.4h0M618.3 153.5h0M630.5 98.1h0M671.3 128.1h0M666.4 125.9h0M631.7 141.2h0M660.9 126.4h0M649 97.8h0M629 114.3h0M621.8 126.4h0M684.1 132h0M638.3 102.5h0M642.6 148.7h0M668.8 129.6h0M622.5 155h0M665 138.9h0M631.5 124.7h0M670.2 96.6h0M653.6 152.9h0M685.3 137.8h0M667.4 118.4h0M670.7 134.3h0M673.6 152.9h0M674.2 98.3h0M637.8 120.8h0M654.5 107.5h0M659 137.1h0"/><path stroke-width="2.8" d="M620.8 136.9h0M649.3 96.5h0M634 128.2h0M625.5 114h0M668 132.4h0M662.2 105.8h0M624.5 114.4h0M685.9 117.6h0M674.1 101h0M653.8 96.3h0M665.5 146.9h0M679.7 143.5h0M618.3 110.9h0M677.2 111.1h0M640.2 122.6h0M673.9 110.6h0M636 134.5h0M663.8 106.6h0M666.3 125.9h0M639.3 149.5h0M620.2 143.3h0M615.7 143.6h0M661 113.6h0M618.6 98.6h0M658.8 99.4h0M612.9 126.7h0M650.5 136.7h0M636.9 97.2h0M651.2 134.5h0M678.5 122.9h0M643.7 137.8h0M614.2 103.7h0M648.2 117.9h0M650.2 140.6h0M667.5 97h0M619.3 152.3h0M658.3 145.7h0M677.7 129.2h0M648.7 141.1h0M651.5 115.7h0M637.8 146h0"/></g><g stroke="#D6F0D8" stroke-linecap="round" fill="none"><path stroke-width="2.4" d="M672.3 106.3h0M679.6 144.5h0"/><path stroke-width="2.8" d="M669.1 123.9h0M618.3 123.9h0"/><path stroke-width="3.2" d="M649.7 105.7h0M651.2 108.7h0"/></g></g></g><clipPath id="c5"><rect x="399.7" y="154.2" width="70.2" height="55.5"/></clipPath><g clip-path="url(#c5)"><g filter="url(#bl)"><rect x="397.7" y="152.2" width="74.2" height="59.5" fill="#CACCD6"/><g stroke="#AEACBC" stroke-linecap="round" fill="none" opacity="0.5"><path stroke-width="1.2" d="M447.3 208.7h0M405.4 207h0M441.9 165.4h0M399 159.9h0M436.7 152.4h0M469.1 204.9h0M451.9 176.7h0M426.3 186.2h0M463.4 156.4h0M428.3 202.6h0M438.4 206.2h0M409.6 176.6h0"/><path stroke-width="1.6" d="M471.7 160.5h0M399.1 166.4h0M401.5 180.9h0M440.4 160h0M413 167.3h0M455.1 183.7h0M452.8 179.1h0M439.2 168h0M436.9 183.6h0M438.8 183.3h0M448.3 206.7h0M433.6 202.1h0M407.3 165.6h0M406 170.6h0M463.3 204.9h0M429.4 178.5h0M397.7 211.3h0M453.6 177.3h0M445.4 211.5h0M440.3 201.6h0M460.4 170.7h0M400.5 158.5h0M437 208.1h0M424 192.1h0"/><path stroke-width="2" d="M400.9 163.7h0M444.3 187.6h0M470 200h0M458.3 178.2h0M429.9 168.5h0M446.4 182.4h0M464.7 174.2h0M409.2 210.4h0M470.4 187.1h0M399.8 166.9h0M445.9 162.6h0M403.9 191.3h0M454 208h0M398.1 201.3h0M431.4 181.8h0M469.5 210.4h0M471.8 189.1h0M451.5 210.7h0M461.1 176h0M468.4 183.8h0M398.2 183.5h0M466.9 153.1h0M457.3 181.6h0M422.5 198.4h0M467.5 198.5h0M413.8 181.9h0M424.7 181.3h0M425.1 198.8h0M398.1 205.5h0M426.3 210.9h0M451.6 201.7h0M428.9 174h0M462.6 174.9h0M411.4 152.4h0M440.4 163.2h0M469.6 188.9h0M398.4 189.3h0"/><path stroke-width="2.4" d="M460.6 158.3h0M406.7 166.7h0M402.6 207.3h0M433.8 160.5h0M429.7 202.1h0M468.9 186.7h0M466.2 207.7h0M468.1 188.3h0M462.7 189h0M463.3 169.9h0M413.7 152.7h0M451.1 171.3h0M402.2 189.7h0M456.4 209.7h0M402 184.3h0M451 172.6h0M452.3 174.9h0M418.9 175.6h0M417.8 185.8h0M436.1 196.8h0M460.8 165.9h0M414.8 193.4h0M418.7 169.7h0M430.7 169.1h0M429.7 173.8h0M445.4 160.1h0M410 205.9h0M454.3 156.2h0M421.6 152.4h0M457.2 210h0M455.9 192.2h0M454.2 180.6h0M433.7 196h0M423.8 178h0M402.5 205.2h0M471.7 195.2h0M461.1 204.4h0M465.1 162.8h0M426 187.7h0M452.6 170.1h0M471.1 199.2h0M445.4 170h0M445.4 178.8h0M421.8 167.8h0M424.5 196.4h0M438.6 186.7h0M465 205.5h0M419.1 174.4h0M400.9 186.7h0M407.6 155.1h0M402.6 207.3h0M465.2 197h0M441 182.6h0"/><path stroke-width="2.8" d="M456.4 172.2h0M463.5 210.2h0M432.7 209.4h0M429.8 173.5h0M455.3 171.8h0M460.3 160.5h0M449.3 175.8h0M460.1 190.4h0M458.7 171.2h0M426.7 183.4h0M401.7 168.3h0M425.4 208.6h0M399.4 196h0M422.1 200.5h0M424.8 165.3h0M450 201.4h0M433.9 157.6h0M447.7 174.7h0M400.2 184.6h0M470.5 189.5h0M445.6 201.6h0M413.9 167.1h0M425.6 154.1h0M404.2 173.1h0"/></g><g stroke="#EEF0F4" stroke-linecap="round" fill="none" opacity="0.85"><path stroke-width="0.8" d="M431.8 208.8h0M420.1 181.2h0M416.3 187.8h0M455.1 159.2h0M438 186.9h0M444.9 165.3h0M431.5 179.8h0M436.9 167.3h0M403 209.6h0M425.9 167.4h0M449 178h0M401.2 205.7h0M454.2 163.7h0M402.7 184.6h0M463.9 171.5h0M403.6 205.8h0M408.2 180.4h0M422.5 204.5h0M471.8 186h0M464.4 155.4h0M443.4 211.4h0M410.4 169.5h0M404 171.8h0M436.5 202.5h0M462.7 157.4h0M427.7 165.6h0M429.5 187.9h0M402.6 206.1h0M437.3 210.7h0M427.4 183.9h0M430.5 154h0M397.7 205.5h0"/><path stroke-width="1.2" d="M406.3 181.1h0M445.7 192.5h0M414.8 170.2h0M426.9 179.4h0M451.2 196.5h0M458 178.9h0M401.8 172h0M410.1 179.8h0M452.2 204.3h0M428.9 210.1h0M456.2 187.6h0M452.2 177.7h0M447.1 157.8h0M406.4 191.4h0M453.6 193h0M459.7 189h0M454.1 163.9h0M407.7 192.2h0M413.8 183.2h0M409.6 202.8h0M454.3 168.7h0M428.6 194.4h0M424.1 182.2h0M444.1 204.8h0M422.1 193.5h0M402.6 200.3h0M405.6 165.5h0M410.8 184.5h0M439.7 189h0M399.3 176h0M464.3 176.6h0M470.8 157.8h0"/><path stroke-width="1.6" d="M469.2 172.7h0M427.5 164.7h0M456.3 163.4h0M467.2 195.1h0M424.5 156.8h0M458.4 167.2h0M407.8 162.6h0M401.9 161.2h0M445.9 197.2h0M418.4 181.1h0M463.3 196.8h0M406.4 190.5h0M453.2 178.8h0M470.6 199.9h0M424.8 162.1h0M412.5 189.5h0M443.4 163.2h0M433.2 182.7h0M431.5 169.6h0M403.4 171.1h0M471.6 176.4h0M441.9 159.2h0M449.2 163h0M465.6 162.6h0M449 179.6h0M440 189.1h0M427.9 174.9h0M453.4 167.5h0M429.5 196.7h0M438.8 184.6h0M442.1 197.1h0M465.5 161.8h0M449 206.2h0M450.6 206.5h0M451 181.3h0M417.8 174.9h0M416.8 173.3h0M463.5 198.4h0M417.2 183.7h0M438.7 175.5h0M422.5 180h0M439.8 172.5h0M420.2 197.6h0M447.5 178.1h0M398.7 201.9h0"/><path stroke-width="2" d="M420 176.3h0M418.8 186.6h0M421.5 184.1h0M431.1 200.9h0M461.1 185.3h0M463.8 161h0M425.6 193.3h0M446.3 153.6h0M447 193.1h0M457.3 200.5h0M401 165.3h0M470.8 207.3h0M465.1 211.6h0M458.9 208h0M403.9 174.4h0M405.7 189.8h0M460.1 157.9h0M421.2 197.1h0M428.6 161.2h0M449.7 185.7h0M468.1 166.7h0M421 209.1h0M425.2 179.5h0M456.9 184.7h0M441.9 174.7h0M463.8 192.1h0M450.8 178.5h0M401.8 173h0M414.9 175.3h0M421.7 193.3h0M456.1 158.7h0M411.6 168.2h0M400 165.7h0M462.3 161.1h0M419.2 162.4h0M405.2 186.4h0M429.9 175.4h0M400.7 190.8h0M462 174h0M459.4 190.3h0M421.5 211.2h0M448.1 202.2h0M442.8 173.3h0M421.6 180.4h0M414.2 190.6h0"/><path stroke-width="2.4" d="M434.5 175.9h0M463.9 204.2h0M427 163.8h0M448.9 182.8h0M448.6 180.2h0M428.2 210.6h0M452.6 189.3h0M465 205.6h0M430.1 182.6h0M412.8 160.6h0M420.6 173.2h0M424.8 169.5h0M459.6 177.7h0M439.1 208.4h0M460.6 176.9h0M429.3 188.3h0M458.7 159.6h0M445.3 170.4h0M467.5 170.3h0M451.4 186.1h0M426.4 201.2h0M451.6 164.9h0M397.9 158.5h0M401.6 157h0M453.5 182.3h0M425.1 196.1h0M457.6 168h0M469.9 204.8h0M457.4 177h0M462.4 201.6h0M469.4 175.9h0M467.5 163.7h0M398.5 169.3h0M424.7 163.1h0M402.2 164.1h0M431.8 204.7h0M444.2 157h0M424.7 181.4h0M402.8 173.5h0M406.1 177h0M466.3 193.4h0M465.5 174h0M466.8 193.5h0M426.2 209h0M401.1 205.1h0M441.8 179.9h0"/></g><g stroke="#4C82CC" stroke-linecap="round" fill="none" opacity="0.85"><path stroke-width="2.4" d="M406.1 162.5h0M422.4 164.7h0M470.6 165.6h0M419.5 171.6h0M423.9 171h0M451 169.4h0M465.8 180.1h0M436.8 185.7h0M438.6 193.1h0M444.8 193.2h0M421.6 206.7h0M416.8 213.3h0M424.9 214.7h0"/><path stroke-width="2.8" d="M399.6 155.1h0M407.4 158h0M435.3 156.9h0M444.6 156.5h0M451 156.1h0M436.9 164.7h0M448 164.5h0M457.6 163.1h0M399.7 171.1h0M413.7 175.8h0M429.1 180.3h0M437.5 179.5h0M448.2 176.4h0M411 183.5h0M474.7 185.6h0M414.5 193.1h0M420.3 191.2h0M465.3 191.5h0M471.1 193.5h0M410.1 200.5h0M441.4 200.6h0M467.5 197.7h0M475.9 200.5h0M431.1 207.1h0M412.8 212.5h0M441.4 213.3h0M448.3 215.4h0M458.1 215.8h0M467.6 211.4h0"/><path stroke-width="3.2" d="M419.6 158.1h0M460.2 158.2h0M464.7 155.8h0M473.5 156.3h0M415.2 161.6h0M409.7 168.9h0M444.6 171.4h0M460.3 171.5h0M422.2 177.1h0M454.9 176.3h0M468.8 177.4h0M415.8 184.2h0M425.4 183.1h0M442.4 183.3h0M466.3 185.1h0M407.8 192.3h0M427.8 193.5h0M403 201.9h0M429.1 199.5h0M452.2 197.9h0M403.5 204.7h0M413.6 207.7h0M447.2 208.6h0M453.5 207.5h0M462.6 207.3h0M435.2 212.9h0M477.7 215.2h0"/><path stroke-width="3.6" d="M423.7 156.8h0M433.2 164.8h0M464.5 161.5h0M435.8 170.8h0M467.5 170.3h0M474.9 168.6h0M407.4 179.9h0M402.1 187.4h0M450.5 184.5h0M458.1 184.5h0M457.2 192h0M418.7 198.7h0M432.4 199.5h0M460.7 196.5h0M439.6 204.2h0M472.5 204.7h0M404.1 213h0"/></g><g stroke="#3A68C0" stroke-linecap="round" fill="none" opacity="0.8"><path stroke-width="1.2" d="M465.6 165.9h0M425.1 194.6h0M442.8 177h0M409.1 165.8h0M439.2 198.5h0"/><path stroke-width="1.6" d="M407.4 190.9h0M454.2 178.2h0M412.9 160.5h0M425.2 185.7h0"/><path stroke-width="2" d="M455.3 163.2h0M417.5 161.9h0M429.8 161.3h0"/></g><g stroke="#9A3A6A" stroke-linecap="round" fill="none" opacity="0.9"><path stroke-width="1.2" d="M429 178.2h0M417.2 204h0"/><path stroke-width="2" d="M466.3 194h0M464.5 201.8h0M408.1 177.4h0"/></g></g></g><clipPath id="c6"><rect x="471.4" y="154.2" width="70.3" height="55.5"/></clipPath><g clip-path="url(#c6)"><g filter="url(#bl)"><rect x="469.4" y="152.2" width="74.3" height="59.5" fill="#CACCD6"/><g stroke="#AEACBC" stroke-linecap="round" fill="none" opacity="0.5"><path stroke-width="1.2" d="M492.5 166.8h0M538 164.2h0M511.8 170.2h0M471.6 185.4h0M483.9 167h0M513.2 188.2h0M535.3 175.4h0M508.9 167.9h0M500.3 165.1h0M527.2 196.1h0"/><path stroke-width="1.6" d="M509 184.9h0M488.6 189.9h0M479.1 186.2h0M510.3 178.1h0M509.6 198.2h0M471.3 195.2h0M532.7 185.9h0M508.1 198.2h0M540.4 155.6h0M498.8 204.7h0M520.8 186h0M537.2 167.4h0M533.9 157.4h0M501.1 201.8h0M540.4 206h0M526.7 206.8h0M530.3 192.6h0M477.4 163.1h0M483.7 186.2h0M527.8 162.2h0M514 202.1h0M482 169h0M507.5 173.1h0M485.2 157.5h0M493.1 157.2h0M535.8 158.1h0M474.8 155.5h0M530.2 152.3h0M514 211.6h0M510.6 170.3h0M521.9 178.7h0M498.6 157.3h0M533.7 191.9h0M504.3 204.1h0M520.7 162h0M508.1 159.8h0M513.2 152.9h0M494.6 174.6h0M529.6 190.3h0"/><path stroke-width="2" d="M527.8 204.1h0M492.1 188.2h0M472.6 159.3h0M497 153.3h0M509.3 173.1h0M523 206.6h0M537.6 178h0M485.4 204.4h0M469.6 152.8h0M504.3 189h0M496.7 184.5h0M494.4 152.4h0M534.5 157.9h0M498 194.8h0M486.7 158.1h0M508.5 184.9h0M510.1 200.6h0M477.9 197.2h0M519.9 159.4h0M489.1 196.6h0M473.2 176.6h0M535.5 187.1h0M515.2 155.6h0M519.8 178h0M500.3 177.6h0M504.4 192.4h0M521.9 198.1h0M475.8 169.2h0M528.9 208.6h0M507.1 171.3h0M528.6 169.1h0M543.5 201h0M524.8 193.1h0M529.3 165.8h0M524.5 191.9h0M511.8 183.6h0M472.4 208.2h0"/><path stroke-width="2.4" d="M477.2 194.4h0M489.6 166.9h0M537.5 173.1h0M485.8 179.9h0M480.4 184.7h0M515.8 204.9h0M513.6 192.5h0M483.7 193.9h0M496.5 159.2h0M494.5 185h0M498.5 198h0M511.4 172.3h0M523.7 192.7h0M472.4 176.9h0M469.8 168.2h0M500.1 188.5h0M508.7 187h0M505.2 181.5h0M488.4 180.8h0M477 191.4h0M479.2 190.6h0M484.6 205.2h0M511.8 207.7h0M533.2 204.2h0M473.6 170.7h0M536.9 181.3h0M494.9 173.4h0M475.7 196.3h0M513 157.5h0"/><path stroke-width="2.8" d="M526.7 159.1h0M538.5 187.4h0M505.1 194.6h0M535.8 183h0M469.5 154.9h0M540.5 157.6h0M473.6 188h0M481.8 168.5h0M488.8 205.5h0M478.2 201.5h0M540.9 168.9h0M502.1 174.1h0M485.5 202.1h0M529.9 207.7h0M502.9 184.6h0M514.5 208.9h0M497 177h0M515.7 177.8h0M486 154.2h0M478.3 167.2h0M519.9 198.8h0M515.9 179.6h0M506.1 210.2h0M473.4 182.4h0M505.2 153.7h0M516.1 166.1h0M540.2 209.9h0M536.9 177.8h0M483.8 158.6h0M487.4 166.3h0M527.5 207.7h0M483.9 181.2h0M501.7 198h0M520.8 200.3h0M524.5 163.2h0"/></g><g stroke="#EEF0F4" stroke-linecap="round" fill="none" opacity="0.85"><path stroke-width="0.8" d="M501.2 175.7h0M504.5 190.3h0M499.5 175h0M521.8 155.4h0M531.1 190.4h0M469.6 199.7h0M506.5 178.4h0M518.9 153.8h0M473.5 157.3h0M507.2 210.1h0M492.4 178.9h0M476.7 206.2h0M498.9 192h0M472.4 197.8h0M486.2 200.2h0M537.3 203.5h0M536.1 193.2h0M517.6 181.3h0M495.3 182h0M495.8 182.3h0M479 189.8h0M482.1 191.3h0M479.8 204.5h0M500.4 174.7h0M542 208.5h0M537.3 196.4h0M474.7 190.8h0M527.3 170.5h0"/><path stroke-width="1.2" d="M513.3 185.9h0M506.2 205.6h0M494.8 190.9h0M498.6 175.1h0M485 193.3h0M499 165.6h0M478 180.2h0M500.7 210.6h0M477.4 193.1h0M541.6 198.9h0M492.7 165.7h0M538.6 202.1h0M516.7 199.1h0M497 189.9h0M472.6 203h0M490.6 182.9h0M469.4 207.1h0M510.2 173.1h0M511.3 168.1h0M474.1 174.7h0M540 157.9h0M470 190.4h0M509.1 206h0M526.2 176.9h0M469.5 172.6h0M482.6 168.8h0M475.2 194.1h0M518.1 195.8h0M524.3 200.2h0M533.5 198.3h0M532.3 175.2h0M479.1 164.2h0M518.2 206.9h0M482.9 197.8h0M494.7 210.1h0M474.4 192.5h0M524.7 174.9h0M487.2 155.1h0M517.2 188.2h0M483.3 157.3h0M541.6 171.1h0M516.7 153.9h0M528.3 153h0M474.6 186.9h0"/><path stroke-width="1.6" d="M542.6 193.6h0M541.1 193h0M539.5 196.7h0M512.8 209.7h0M483.4 204.8h0M529 165h0M477.2 175.2h0M542.8 175.1h0M541.6 195.1h0M497.8 175.9h0M490.1 185.8h0M479.2 195.8h0M533.9 182.9h0M521.9 175.1h0M497.4 193.7h0M487.6 198.1h0M489.9 169.4h0M535.3 200.4h0M510.6 163.4h0M532.1 210.2h0M489.1 195h0M478.9 176.5h0M523 177.7h0M487.8 193.1h0M497 167.5h0M484.8 160.3h0M543.2 209.7h0M479.2 205.7h0M507.7 163.1h0M474.4 203.8h0M482.3 158.2h0M480 152.8h0M505.1 163.1h0M506.2 168.6h0M500 163.7h0M510.5 163.6h0M535.6 191.7h0M531 207.1h0"/><path stroke-width="2" d="M514.3 197.8h0M498.7 194.2h0M524.6 197.4h0M513.7 167h0M495.7 206.1h0M487 199.9h0M504.8 162.5h0M496.6 184.3h0M493.9 174h0M505.4 178.2h0M481.8 183.4h0M508.5 181.9h0M470 186h0M490.6 186.6h0M512.5 158.7h0M524.9 171.4h0M501.6 187.1h0M476 182.3h0M528.1 195.9h0M540.2 189.1h0M523.9 161h0M491.1 199.9h0M479.9 202.8h0M487.5 177.6h0M528.6 209.7h0M482.1 168.6h0M506.7 202.2h0M535.9 160.8h0M529.3 178.9h0M494.2 200.9h0M510.4 189.1h0M489.1 194.5h0M518 189.9h0M473.9 205.4h0M536.8 188.6h0M535.4 196.6h0M472.4 153.6h0M502.2 202.3h0M533.1 195.4h0M507.4 194.8h0M490.7 175.5h0M521.3 202.2h0M512.6 168.6h0M540.5 171.8h0M471.5 208.1h0M490.1 199.8h0M536.3 200.4h0M485 209h0M471.8 210.6h0M483.1 205.2h0"/><path stroke-width="2.4" d="M492.2 199.7h0M490.1 154.9h0M495 191.8h0M485.1 189.2h0M479.7 210.3h0M487.5 199.3h0M543 206.3h0M488.9 158.7h0M489.7 163.4h0M497.6 185.6h0M519.8 161.5h0M539.8 199.2h0M542.2 172.6h0M470.8 170.4h0M489.1 190.3h0M538.6 164.5h0M514.5 185.8h0M513.7 175.7h0M486.7 168.2h0M481.3 206.6h0M505.3 210.8h0M536.3 168.5h0M525.8 185.3h0M524.1 187.9h0M494.4 179.7h0M488.4 174.3h0M498.1 160.4h0M481.4 177.3h0M473.5 179h0M516.8 208.7h0M524.8 167.1h0M485.9 211.1h0M500.7 204.2h0M541.7 162.9h0M525.5 178.5h0M541.5 166.6h0M518.7 205.1h0M492 166.4h0M525 168.1h0M508.4 154.3h0"/></g><g stroke="#4C82CC" stroke-linecap="round" fill="none" opacity="0.85"><path stroke-width="2.4" d="M494.9 162.9h0M508.3 172.6h0M529.9 168.6h0M540.3 172.8h0M537.2 176.9h0M541.4 176.3h0M491.5 193.9h0M517.3 190.6h0M535.4 191.9h0M471.8 197.8h0M491.1 197.6h0M505.6 197.2h0M546.8 200.8h0M493.5 208.3h0M524.7 213.3h0M547.5 213.2h0"/><path stroke-width="2.8" d="M484 158.9h0M489.1 157.9h0M504.9 157.5h0M520.7 154.5h0M540.8 154.8h0M476.3 165.1h0M485.5 164.5h0M527 161.5h0M532.7 161.3h0M480 171.1h0M487.5 169h0M511.8 172.6h0M545.8 170.7h0M477.5 177.7h0M512 180.5h0M481.4 185h0M492.1 184.4h0M514.1 183.2h0M530.1 185.5h0M548.4 185.5h0M486.3 192.7h0M498.2 198.5h0M523.5 199.2h0M533.2 199.3h0M478.2 205h0M537.6 205.4h0M480 211.5h0M488.8 212.9h0M497.9 210.8h0M506.3 210.9h0"/><path stroke-width="3.2" d="M475.1 156h0M500.6 155.4h0M514.1 157.5h0M532.4 157.3h0M544.5 155.5h0M500 164.3h0M511.4 165.5h0M520.2 165.3h0M542 163.8h0M495.3 167.9h0M521.8 171.7h0M483.7 177.2h0M492 177.9h0M527.5 178h0M476.2 185.1h0M506.2 184.4h0M521.6 183.5h0M536.9 186.4h0M477.6 193.8h0M500.8 191.4h0M545.5 190.5h0M481.9 197.9h0M515.8 199.9h0M484.7 205.7h0M504.2 205.9h0M519.4 207.5h0M528 208.8h0M538.2 211.3h0"/><path stroke-width="3.6" d="M472.2 172.8h0M502.6 176.8h0M518.5 177.4h0M499.5 186.9h0M511.5 194h0M525.8 189.7h0M537.8 198.4h0M509.8 204.9h0M545.3 208.1h0M473.1 212.9h0M516.8 214.2h0M528.4 213.8h0"/></g><g stroke="#3A68C0" stroke-linecap="round" fill="none" opacity="0.8"><path stroke-width="1.2" d="M529.4 178.4h0M504.6 161h0M518.6 169.9h0M516.9 207.5h0"/><path stroke-width="1.6" d="M510.5 186.3h0M493.3 176.9h0M473.2 174.8h0M509.8 210.5h0M540.3 193.3h0"/><path stroke-width="2" d="M536.4 156.7h0M469.5 160.3h0M473.1 161h0"/></g><g stroke="#9A3A6A" stroke-linecap="round" fill="none" opacity="0.9"><path stroke-width="1.2" d="M543.5 184h0M484.5 166.4h0M487.1 191.6h0"/><path stroke-width="1.6" d="M484.9 165.6h0"/><path stroke-width="2" d="M483 194.5h0"/></g></g></g><clipPath id="c7"><rect x="542.9" y="154.2" width="70.5" height="55.5"/></clipPath><g clip-path="url(#c7)"><g filter="url(#bl)"><rect x="540.9" y="152.2" width="74.5" height="59.5" fill="#B0603E"/><g stroke="#C87050" stroke-linecap="round" fill="none" opacity="0.6"><path stroke-width="1.6" d="M544.7 157.6h0M593.6 165.5h0M588.2 155.1h0M567.2 201.2h0M600 162.8h0M613.9 199.2h0M573.4 161.1h0M541.2 173.3h0M551 180.8h0M575.2 179.6h0M577.9 153.1h0"/><path stroke-width="2" d="M560.7 177.1h0M544.9 161.5h0M556.4 171.9h0M599 178.8h0M562.6 157.2h0M603.8 167h0M606.7 209.2h0M613.2 168.5h0M586.6 204.1h0M581.9 202.9h0M593.8 152.6h0M586.7 177.8h0M605.2 206.8h0M560.2 158.1h0M578.3 162.4h0M589.4 192.4h0M552.4 156.1h0M554.8 191.4h0M604.3 162.1h0M586 204.7h0M599.7 159.2h0M560.6 152.5h0M573.8 176.7h0M607.8 205.2h0M581.3 199.6h0M611.9 153.4h0"/><path stroke-width="2.4" d="M591.1 155.1h0M607.1 188.8h0M570.9 177.6h0M544.1 193.4h0M610.7 179.9h0M600.8 205.6h0M600 200.3h0M592.3 193.4h0M584.9 160.9h0M599.4 163.2h0M591.7 206.6h0M556.5 159.2h0M611.4 169.7h0M541.7 156h0M558.9 203.3h0M604.3 181.2h0M566.2 155h0M582.1 162h0M614.7 153.7h0M549.9 173.7h0M589.9 208h0M584 176.6h0M571 184h0M562.8 177.1h0M552.2 181.9h0M563.5 155.4h0M544.5 206.2h0M612.1 165.3h0M604.6 168.4h0M583.6 187h0"/><path stroke-width="2.8" d="M586.8 164.1h0M607 166.3h0M542.5 207.1h0M578.7 206.8h0M614.4 174.1h0M566.5 156.9h0M569.3 194.7h0M558 168.8h0M551.6 168.8h0M607.7 189.7h0M612.2 167.1h0M613.1 190.8h0M586 164.2h0M566.5 164.2h0M578.2 164.4h0M556 162.1h0M611.5 180.1h0M594.8 199.7h0M559 211.6h0M566.8 158.4h0M542 181.8h0M549.9 207.7h0"/><path stroke-width="3.2" d="M592.5 181.8h0M607.3 180.3h0M567.2 180.9h0M579.7 200.4h0M575.7 167.4h0M551.5 187.4h0M566.7 166h0M564.9 170h0M570.4 193h0M592.1 207.4h0M609.9 210.6h0M548.2 178.5h0M547.2 196.2h0M614.5 155.2h0M577 184.5h0M613.2 157.5h0M557.3 183.8h0M607.5 193.3h0M590.3 165.5h0M559.3 187.3h0M590.6 210.1h0"/><path stroke-width="3.6" d="M612.2 203.6h0M561.2 211.4h0M558.2 182.7h0M569.7 194.9h0M542 191.1h0M611.8 210h0M593 203.3h0M565.7 162.7h0M574.8 165.4h0M597.2 181.2h0"/></g><g stroke="#E8D8D8" stroke-linecap="round" fill="none" opacity="0.85"><path stroke-width="1.2" d="M549.6 211.7h0M588.2 184.5h0M570 197.4h0M564.3 164.5h0M603.5 207.9h0M583.9 168h0M588 155.9h0M570.5 183.7h0M587.8 180.7h0M593.8 198h0M556.2 190.1h0M592.2 170.7h0M614.9 188.9h0M560.2 201.6h0M547.7 205.8h0M561.8 161.7h0M581.2 183.4h0M550.9 204.7h0M561.9 192.8h0M613.3 193.4h0M575.1 173.5h0M557.2 163.3h0M592.9 201.6h0M541.8 178.4h0M572.6 186.1h0M586.6 188.6h0M581.3 211.4h0M545.6 187.6h0M562.7 173.9h0M595.6 173.6h0M613.6 205.1h0M573.7 178.1h0M564.5 201.2h0M578.3 182.4h0M547.9 161.1h0M565.3 162.6h0M593.9 179.7h0M586.7 191h0M542 200.8h0M546.6 187.7h0M543.7 194.1h0M569.1 162h0M604.9 170.4h0M577 172.2h0M544.4 210h0M592.6 189.9h0M575.3 177.4h0M550 193.9h0M610.8 204.3h0M594.2 177.8h0M575.3 208h0M552.6 206.8h0M594.6 180.2h0M548.2 156.3h0M598.8 157.6h0M610.4 177.6h0M588.5 211.4h0M556.8 194.5h0M547 184h0M605.8 181.3h0M569.1 168.6h0M596.8 182.1h0M581.8 153.3h0M605.9 196h0M598.2 194.8h0M548.2 182.1h0M551.5 155.7h0M541.9 161.1h0M571.2 171.4h0M551.6 191.1h0M574.8 160.5h0M542 206.4h0M601 164.5h0M552.1 158.6h0M582.2 163.4h0"/><path stroke-width="1.6" d="M559.3 208.3h0M606.4 205.7h0M552.7 190.1h0M615 191.8h0M589.2 153.2h0M560.5 161.4h0M543.5 164.2h0M609 171h0M606.8 194.6h0M553.7 179.9h0M569 163.3h0M581.3 163.7h0M580.2 208.1h0M566.5 159.1h0M611.1 194h0M560.7 194.1h0M557.4 205.5h0M555.2 186.5h0M564 158.9h0M593.1 199.4h0M607.2 197.8h0M580.4 156.9h0M551.2 158.5h0M610.7 199.1h0M587.2 159.8h0M612.5 180.6h0M543.1 171.5h0M549.4 187.2h0M574.7 194.3h0M585.8 175.1h0M589.7 178.7h0M570.7 152.8h0M589.9 191.1h0M557.6 204.7h0M583.7 173.6h0M558.4 158.3h0M553.5 204.5h0M596.3 210.4h0M564.4 172.4h0M600 157.6h0M603.5 202.4h0M589.1 172h0M581.7 177.3h0M563.2 155.5h0M611.8 181.9h0M613.3 184.4h0M592.4 158.4h0M549 193.2h0M552.2 165.7h0M576.2 170.1h0M542.2 188.8h0M611.2 209.7h0M555.9 184.2h0M591.3 176.1h0M589.4 183h0M588.1 196.6h0M598 186.9h0M584.8 166.8h0M605.1 168.5h0M611.1 169.6h0M555.6 211h0M591.8 187h0M583.8 186.6h0M584.5 176.2h0"/><path stroke-width="2" d="M583.4 190.7h0M607.4 171h0M612.6 159.1h0M610.5 186.3h0M556.3 183.3h0M558.8 172.5h0M600.2 176.6h0M562.7 156h0M566.7 154.2h0M586.8 173.1h0M580.1 188.2h0M558 172.7h0M565 159.2h0M606.9 207.4h0M566.6 190.8h0M608.6 198.4h0M581.5 205.1h0M580.2 171h0M574 201h0M590.7 161.2h0M601.2 152.8h0M589.9 211.4h0M607.7 185.4h0M558.6 170h0M557.6 167.6h0M599.7 210.7h0M567 180.1h0M585 206.8h0M544.9 169.9h0M586.8 183.2h0M582.3 195.9h0M569.1 169.5h0M606.3 163.8h0M580.5 190.1h0M577.4 179.2h0M557.8 211.6h0M592.6 164.5h0M551.7 182.7h0M608.2 195.4h0M604.4 211h0M581 198.2h0M552 198h0M564.9 159.8h0M614.4 163.7h0M545.5 177.6h0M614.9 156h0M570.4 156h0M579.2 160.8h0M555.2 183.7h0M610.1 155.3h0M557.8 211.3h0M606.8 196.8h0M553.4 201.6h0M596.3 171.4h0M564.4 184.9h0M596.7 200.2h0M599.2 171.4h0M585.1 153.5h0M562.8 191.8h0M559.7 190.6h0M611.4 211.4h0M583.3 183.7h0M601.2 207.1h0M580.9 200.9h0M560.9 185.4h0M553.3 199.8h0M580 185.2h0M545.8 203h0M587.7 163.2h0M559.4 156.6h0M549.2 160.6h0M612.9 156.3h0M601.7 158.4h0M581.8 159.1h0M602 156h0M558.7 175h0M585 169.1h0M584.9 168.1h0"/><path stroke-width="2.4" d="M568 174.8h0M556.3 154.5h0M575.2 164.7h0M590.7 162.5h0M546.5 179.4h0M582.5 182.5h0M597.1 200h0M560.4 185.7h0M582.5 165.4h0M558.4 153.9h0M580.8 202.3h0M610.3 206.8h0M569.9 156.7h0M544.9 197.2h0M604.2 174.9h0M560.8 204.8h0M583.1 207.8h0M579.7 189.7h0M600.1 159.9h0M559.7 160.2h0M605.7 185h0M583.8 166.4h0M601 194.7h0M550.7 170.9h0M568.8 175.6h0M546.4 157.4h0M595.6 154.2h0M556 202.4h0M580.7 170h0M557.5 181.9h0M595.6 206.6h0M565.5 204h0M579.6 178.5h0M600.3 186.2h0M605.6 162.7h0M560.8 208.2h0M605.7 156.1h0M593 184.5h0M576.3 167h0M544.9 162.2h0M580.7 187.7h0M601.2 167.1h0M606.4 185.5h0M557.2 197.7h0M592.7 174.1h0M560.3 196h0M552.3 202.5h0M605.5 190.7h0M572.6 164h0M545 205h0M575.7 161.6h0M550.2 189.4h0M611.7 200.8h0M555.8 199.6h0M547.4 161.9h0M573.1 195h0M552.9 169.3h0M542.4 195.7h0M574.5 191.5h0M581.4 206.8h0M569.2 155.9h0M582.9 208.4h0M571.5 187.8h0"/></g><g stroke="#C42C10" stroke-linecap="round" fill="none" opacity="0.85"><path stroke-width="1.2" d="M545.4 181.4h0M557.6 199.6h0M550.5 176.3h0M603.2 192h0M602.5 191h0M544.8 181.1h0M569.2 195.2h0M584.5 188.9h0M549.1 207.5h0M588.2 164.8h0M549.4 193.3h0M559.7 187h0M576.2 204.7h0M563.9 172.5h0M580.2 171.7h0M568.8 180.7h0M593.9 169.2h0M557.5 174.1h0M583.6 176.7h0M559.6 190.9h0M590.9 195h0M552.5 157.2h0M567.4 195.5h0M582.3 203.7h0"/><path stroke-width="1.6" d="M552.7 207.8h0M603.1 179h0M557.7 192h0M572.7 190.5h0M543.7 161.8h0M579 200.8h0M570.8 188.8h0M552.6 184.3h0M604.1 153.2h0M558.9 205.8h0M545.8 155h0M611.4 205.7h0M544.5 190h0M588.3 160.9h0M592.7 172.1h0M583.3 155h0M558.2 165.3h0M558.4 161.7h0M550.9 167.3h0M545.1 166.2h0M549.5 160.2h0M593.4 194.6h0M543.4 186.4h0M589.3 155.5h0M581.7 193.4h0M601.3 187.7h0M571 183.3h0M541.3 157h0M605.9 163.6h0M600.1 174.6h0M556.3 181.6h0M565.2 158.5h0M562.7 155.6h0M573.8 193.2h0M559 166.5h0M602.4 208.8h0M583.8 170h0M597.5 193.7h0M543.3 191.4h0M594.4 208.5h0M609.4 194.8h0M590.6 167.5h0M585.6 159.9h0M553.8 161.3h0M610.7 205.6h0M611.6 160.5h0M576.1 170.8h0M573.1 155.8h0M557.8 173.1h0M546.5 192.4h0M608.7 208.2h0M594.6 209.2h0M571 196.3h0M604 211.5h0M569.4 191.8h0M587.1 187.5h0M584.8 198.1h0M596.8 199.8h0M546.2 205.1h0M593.5 187.5h0"/><path stroke-width="2" d="M555.7 163.4h0M563.6 156.4h0M586.9 190.5h0M575.6 191h0M584.8 154.5h0M613.5 186.4h0M587.3 210.3h0M567.2 200h0M604.8 205.1h0M575.5 209.9h0M589.2 204.1h0M549.4 191.8h0M592.5 160.1h0M570.2 210.7h0M555.6 162.1h0M589.1 159.1h0M584.2 197.1h0M573 157.6h0M604.2 202.5h0M542.1 195.5h0M583.2 208.9h0M563.3 177.8h0M605.7 157h0M563.1 168.5h0M589.6 195.9h0M567.2 182.9h0M605.8 155.7h0M555.4 206.3h0M584.9 199.5h0M577.4 194.5h0M596.5 208.9h0M594.3 201h0M555.3 168.7h0M567.9 165.2h0M598 172.4h0M563.9 194h0M592.8 178.1h0M551.4 178.2h0M612.3 169.2h0M584.3 208.7h0M603.5 202.4h0M589.1 188.8h0M591.8 160.6h0M562.5 184.3h0M593.2 155.2h0M553.8 181.6h0M594.7 210.5h0M565.4 166.6h0"/><path stroke-width="2.4" d="M609 180h0M554.3 189.5h0M600.7 183.6h0M603.3 163.6h0M586.1 185.1h0M569.4 166.4h0M606 192.8h0M612.3 167.3h0M574.8 205.7h0M546.3 201.9h0M577.3 195.6h0M599.4 179.1h0M557.6 167.5h0M609.2 189.6h0M553.5 176.8h0M562.3 153.7h0M569.1 200.9h0M573.8 191.5h0M565.4 163.8h0M570.3 169.8h0M595.9 156.2h0M578.2 200.5h0M543.9 197.8h0M548.5 209.4h0M566.6 203.8h0M549.7 193.8h0M565.4 200.4h0M568.9 162.1h0M611.5 192.9h0M614.8 180.7h0M568.3 176.8h0M552.7 164h0M573.9 201.7h0M582.5 193.7h0M569.2 205.8h0M600.7 170.1h0M557.5 210h0M542.3 163.4h0M552.5 171.1h0M547.3 203.2h0M595.6 173.8h0M585.9 208.1h0M594.4 198.4h0M559 154.3h0M541.9 183.1h0M552.1 164.2h0M599.6 162.7h0M547.2 157.7h0M554.7 211.3h0M575.9 160.9h0M570.2 210.1h0M606.5 179h0M544.3 200.6h0M553.2 185.1h0"/><path stroke-width="2.8" d="M599.3 184.7h0M571.9 201.1h0M609 181.1h0M563.7 160.4h0M557.7 192.7h0M587.1 197.1h0M581.4 187.7h0M563.2 202.4h0M574.5 160.6h0M607.4 206.9h0M598.8 198.5h0M592.6 178.7h0M595.4 172.8h0M614.9 188.3h0M560.7 152.6h0M600.2 208.4h0M544.6 169.8h0M558.9 182.5h0M543.2 205.2h0M602.2 188.4h0M608.1 183h0M574.1 164.8h0M610.2 166.5h0M579 211h0M546.2 200.2h0M587.8 193h0M600.1 187.7h0M565 189.1h0M562.2 203.5h0M555 211.7h0M569.6 204.2h0M547.5 161.5h0M575.4 181.7h0M556.5 209.8h0M597.7 165.2h0M544.2 174.4h0M551.7 201.1h0M595 208.4h0M572.7 164.5h0M607.3 170h0M614.8 200.4h0M566.8 207h0M606.3 190.3h0M569.7 156.5h0"/></g><g stroke="#4A2420" stroke-linecap="round" fill="none" opacity="0.65"><path stroke-width="0.8" d="M563.3 154.4h0M553 175h0M544.7 194.5h0M581.6 193.9h0M560.4 206h0M550.3 179.3h0M551.4 152.9h0M600.1 194h0M571.6 194.7h0"/><path stroke-width="1.2" d="M561.6 184.6h0M549.9 193.7h0M611.6 176.3h0M594.4 205.8h0M581.3 189.4h0M571.7 176.5h0M542.9 204.6h0M571.1 186.8h0M562.8 199.3h0M549.6 186.4h0M576.7 209.9h0M542.2 179.7h0M588.9 173.3h0M542.6 184.6h0M568.6 203.5h0"/><path stroke-width="1.6" d="M555 184.6h0M576.3 165.2h0M576 200.2h0M563.5 159.9h0M555.1 197.1h0M558.5 152.5h0M605.4 207.9h0M564.2 157h0M597.8 152.8h0M612.5 171.2h0M563.5 165.6h0M552.2 183.3h0M556.8 162.9h0M574.1 180.9h0M544 165.6h0M574.2 204.1h0"/><path stroke-width="2" d="M595.5 171.9h0M578.8 157.3h0M572.6 171.9h0M555.9 211.1h0M557.3 198.4h0M609.3 183.3h0M557.5 178h0M592.8 160.4h0M565.5 170.5h0M590.4 211.5h0"/></g><g stroke="#3454A4" stroke-linecap="round" fill="none" opacity="0.85"><path stroke-width="1.2" d="M585.2 189.2h0M549.1 176.1h0M548.3 200.2h0M569.3 188.3h0M608.9 209h0M541.4 170.9h0M596.5 198.3h0M601.3 199.4h0M581.1 205.1h0M604.2 169.8h0M543.5 152.3h0M577.1 157.4h0M573.2 169h0"/><path stroke-width="1.6" d="M606.7 157.5h0M547.8 156.9h0M587.4 176.4h0M543.9 164.4h0M546.4 195.5h0M614.7 154.1h0M613.6 167.1h0M614.5 207h0M590.8 199.4h0M612.7 178.5h0M611.2 165.8h0M569.5 179.1h0M609.5 196.9h0M557.8 169.1h0M546.9 163.8h0M602.7 179.6h0M561.1 208.9h0M604.6 157h0M577.2 201h0M599 157.4h0M604.2 193.4h0M563.5 163h0M545.2 211.6h0M605.5 165.4h0M586.6 170.2h0M557.5 186.1h0M595.9 175.9h0M597.7 193.6h0M554.9 172.7h0M547.5 170.7h0M595.9 206.2h0M553.7 157.6h0M598.1 157.3h0M589.3 208.3h0M558.2 155.9h0M558.4 172.8h0"/><path stroke-width="2" d="M551.7 188.6h0M588.2 193.7h0M579.2 186.4h0M586.9 200.5h0M569.9 154.7h0M541.1 174.5h0M598.2 204h0M611.8 179.4h0M605.6 190.4h0M575.4 194.7h0M559.6 200.4h0M612 154.1h0M609.8 201h0M605.6 158.8h0M560.3 201h0M594.1 167.8h0M547.4 204.9h0M547 164.9h0M593.1 210.5h0"/><path stroke-width="2.4" d="M571.8 162.4h0M569.6 159.6h0M589.7 198.4h0M598.7 190.3h0M579.7 175.3h0M559.2 177.2h0M612.5 165.5h0M552.5 166.3h0M571.1 180.2h0M557.7 195.7h0M565.3 182.4h0M580.9 179.4h0"/></g><g stroke="#F6F4F4" stroke-linecap="round" fill="none"><path stroke-width="1.2" d="M556.3 158.9h0M555.1 179.7h0M585.8 169.2h0M613 157.6h0M593.9 177.2h0M563.5 171.3h0M607.3 201.6h0M551.9 169.4h0M554.2 190.4h0M548.1 201.2h0M560.8 187.4h0M560.6 157.1h0M604.6 160.6h0M575.8 173.7h0"/><path stroke-width="1.6" d="M565.7 199.7h0M558.3 180.8h0M548.9 159.9h0M600 153.9h0M546.2 197.5h0M546.6 198.4h0M578.4 210.5h0M575.6 159.6h0M605.2 181.1h0M578.3 169.9h0M574.2 155.5h0M559 200.6h0M557.2 161.7h0M574.4 187.6h0M591.7 188.7h0M571.3 202.3h0M610.3 205.8h0M569.6 207.3h0M595.5 181.8h0M550.9 171.6h0"/><path stroke-width="2" d="M613.8 174.8h0M574.3 211.1h0M550.5 206.9h0M573.9 163.4h0M571.7 209.8h0M579.1 189h0M577.3 169.8h0M544.4 181.8h0M581 192.9h0M578 202.7h0M564.6 168h0M612.9 204.4h0M592.8 164.2h0M565.4 160.8h0M611 200.1h0M545.1 190.8h0"/><path stroke-width="2.4" d="M542.9 204.6h0M555.5 178.8h0M586.1 207.5h0M576.6 188.4h0M570.8 173.9h0M580.6 167.1h0M601 170h0M541.8 206.3h0M561.7 176.9h0M600.1 205.6h0"/></g><g stroke="#F8F6F6" stroke-linecap="round" fill="none"><path stroke-width="4.4" d="M566.1 157.4h0M573.2 162.6h0M556 164.7h0"/><path stroke-width="4.8" d="M563.1 165.1h0"/><path stroke-width="5.2" d="M573.8 175.6h0M570 158.8h0"/><path stroke-width="5.6" d="M575 154.6h0M568.8 172.2h0M590.6 176.1h0"/><path stroke-width="6" d="M591.4 159.1h0"/></g><g stroke="#F6F4F4" stroke-linecap="round" fill="none"><path stroke-width="3.2" d="M572.7 181.7h0M577.2 201h0"/><path stroke-width="3.6" d="M599.9 209.8h0M552.8 202.9h0"/><path stroke-width="4" d="M588.1 183h0M603 184.7h0"/><path stroke-width="4.4" d="M601.9 193.6h0M574.7 193.7h0"/></g></g></g><clipPath id="c8"><rect x="614.5" y="154.2" width="70.5" height="55.5"/></clipPath><g clip-path="url(#c8)"><g filter="url(#bl)"><rect x="612.5" y="152.2" width="74.5" height="59.5" fill="#B07A8C"/><g stroke="#A83A4C" stroke-linecap="round" fill="none" opacity="0.7"><path stroke-width="0.8" d="M649.4 197.9h0M664.8 193.4h0M635 181.9h0M669.5 202.8h0M647.4 194.4h0M650.1 202h0M666.1 169h0M625.1 178.6h0M657.5 192.3h0M675.7 174.3h0M682 200.8h0M626.3 187.2h0M614.9 190.3h0M668.8 177.9h0M629.6 172.3h0M652.3 160.5h0M674.6 156.4h0M666.8 168.8h0M616.3 211h0M683.1 196.7h0M622.2 170.1h0M629.1 198h0M649.3 153.1h0M622.4 198.4h0M638 168.1h0M636.4 171.2h0M614.1 158.2h0M613.3 188h0M645.7 163.4h0M657.4 168h0M655 161.4h0M626.3 165.4h0M650.3 186.6h0M668.5 178h0M616.9 170.7h0M626.9 193.2h0M658.4 175.4h0M670.6 189h0M664.2 201.9h0M622.1 160.6h0M644.4 160.2h0M638.2 200.1h0M643.6 207.7h0M613.7 178.1h0M656 183.6h0M658.4 166h0"/><path stroke-width="1.2" d="M684.2 187.8h0M621.6 205.7h0M676.2 154.7h0M644.4 160.5h0M642.7 208.5h0M651.1 183.6h0M668.7 182.4h0M666.1 161.5h0M660.9 211.5h0M642.5 198.6h0M666.7 169.5h0M659.9 203.4h0M641.7 184.4h0M646.9 159.9h0M686.7 164.7h0M644.5 189.2h0M643.8 183.9h0M641.1 185.4h0M626 165.6h0M630.9 169.8h0M655.1 170.8h0M660.7 159.2h0M652.7 157.7h0M682 166.8h0M686.6 206.8h0M681.5 157.3h0M676 183.2h0M671.9 177.8h0M633.6 210h0M615.2 168.8h0M625.8 176.7h0M659.3 176.6h0M656.7 161.4h0M660.8 207.9h0M634.7 178.5h0M674 166.9h0M667.5 187.2h0M660.9 200.4h0M652.8 168.2h0M644.7 162.6h0M625.7 174.2h0M659.3 154.2h0M642.4 159.2h0M613.9 202.3h0M653.2 199.9h0M678 185.7h0M660.9 165.8h0M623.6 199.2h0M638 187.9h0M622.4 211.7h0M625.6 180.4h0M623.6 180.7h0M649.8 186.1h0M673.2 183.1h0M656.1 198.5h0M626.1 204.9h0M625.2 163.1h0M650.5 152.3h0M613.8 182.8h0M645.7 201h0M677.6 202.7h0M639.8 183.8h0M626.1 157.2h0M673.9 200.1h0M679 173.6h0M668 189.3h0M640.2 182.6h0M676.2 171.8h0M681 204.5h0M681.1 157.7h0"/><path stroke-width="1.6" d="M624.8 183.6h0M655.3 155h0M635.4 197.2h0M638.2 158.9h0M686.2 176.1h0M681.3 153.1h0M627.4 203.6h0M642 199h0M661.3 166.4h0M638.7 198.5h0M641.1 192.8h0M627.1 203.7h0M666.7 170.7h0M641.1 209.7h0M660.7 206.6h0M667.6 180.3h0M669.2 173.3h0M632 168.7h0M619.2 179.8h0M670.7 154.8h0M638.1 187.4h0M643 208.5h0M665.9 154.8h0M664.6 203.6h0M670.4 169.6h0M676.9 190.1h0M649.8 186.4h0M676.8 154.3h0M670.1 197.7h0M653.6 154.4h0M681.5 180.2h0M631.3 188h0M639.4 211h0M637.1 199.6h0M653.8 206h0M620.3 152.6h0M631.5 164.1h0M663.7 197.3h0M653.2 197.1h0M666.8 171.1h0M651.7 181.4h0M617.4 170.4h0M640.4 178.3h0M659.5 195.3h0M639.1 182.6h0M645.1 196h0M625.4 169.8h0M652.4 164.2h0M617.2 173.4h0M629.4 154.1h0M619.6 194h0M617.6 202.1h0M656.2 177h0M636.7 184.6h0M643.7 183.1h0M658.1 168.9h0M640.5 163.5h0M662.5 160.3h0M639.4 167.7h0M642.6 160.5h0M669 165.2h0M612.8 171.5h0M626.4 180.8h0M638.4 159.7h0M639.9 201.2h0M637.6 199.2h0M677.2 171.9h0M676.2 203.2h0"/><path stroke-width="2" d="M662.8 171.5h0M614.8 164.2h0M650.3 173h0M625 177.1h0M677.7 152.3h0M675.3 166.9h0M623.3 161.4h0M660.3 157.3h0M669.1 188.5h0M619.6 173.8h0M669.9 180.2h0M676.8 158.4h0M663.9 165.5h0M647.9 183h0M657 156.2h0M670.4 196.6h0M616.4 193h0M628.3 202.4h0M647.5 204.3h0M678.7 171.8h0M628.8 199.1h0M635.3 174.3h0M684.3 195.7h0M636.2 198h0M674.6 175.5h0M661.6 178.5h0M627.3 173.9h0M664.8 200.2h0M653 197.4h0M685.1 202.9h0M687 158.5h0M642.2 164.6h0M663.6 188.4h0M626.4 200.8h0M666.6 201h0M677.1 184.7h0"/></g><g stroke="#F0E8F0" stroke-linecap="round" fill="none" opacity="0.85"><path stroke-width="0.8" d="M637.2 156.1h0M626.2 199.5h0M643.3 179.7h0M628 170.8h0M637.9 170.6h0M630.1 210.6h0M654 183.8h0M614.5 190.9h0M636.7 155.1h0M669.4 173.5h0M679.4 203.1h0M623 175.6h0M640.8 207.4h0M621.9 201.3h0M631.8 157.5h0M619.1 206.6h0M628.3 154.2h0M617.6 194.4h0M683.2 187.2h0M665.6 189.4h0M645.6 153.2h0M663.1 197.7h0M624.2 168.5h0M633.4 199.7h0M615.9 184h0M630.4 207.2h0M683.8 161.7h0M661.1 168.6h0M661.2 191h0M662.8 210.3h0M637.8 194.4h0M663.6 173h0M661.1 203.4h0M632.4 185.1h0M671.8 196.2h0M635.8 176.6h0M637.3 171.6h0M646.4 184.7h0M683.5 187.8h0M655.6 161.2h0M651.7 206.8h0M616 169.3h0M674.1 196.1h0M636.3 174h0M659.5 201h0M656.4 175.4h0M658.9 186.2h0M635.4 177.7h0M619.9 201.2h0M622 196.4h0M637.7 168.6h0M663.6 179.7h0M623.4 200.4h0M625.2 183.8h0M631.9 177.9h0M646.7 170.9h0M669 170.2h0M680.8 190.4h0M681.7 208.3h0M677.7 205.8h0M614.4 170.7h0M642.9 200.4h0M686.3 159.3h0M614.5 163h0M614.3 179.3h0M618.7 157.5h0M666.6 168.2h0M653.3 201.7h0M620.3 205.7h0M686.1 159.1h0M628 183.4h0M641.4 194.1h0M647.6 172.6h0M658.3 160.1h0M654.1 211.7h0M613 204.5h0M663.3 164.7h0M620.4 179.5h0M619.4 211.2h0"/><path stroke-width="1.2" d="M678.3 200.3h0M633.6 164.1h0M666.8 199.4h0M625.5 193.9h0M668.4 209.9h0M658.4 183.7h0M650.4 178.6h0M662.3 210.9h0M686.3 171h0M655.9 179h0M672.6 180.7h0M635.4 208.5h0M655.6 176.9h0M674.5 209.1h0M616 191.8h0M657.7 162.6h0M639.9 182.2h0M661.3 170.7h0M638.5 165h0M677 200.7h0M673.6 197.7h0M652.5 169.6h0M646.5 179.8h0M678.1 200.7h0M682.9 175h0M613.2 209h0M672 164.6h0M673.6 185.8h0M631.1 207.5h0M676.6 166h0M623.9 183h0M620.4 206.8h0M651.1 168.5h0M680.3 177.4h0M679.1 199.4h0M613.7 165.9h0M645.9 157.1h0M660.1 192.4h0M632.8 172.7h0M659.7 170.3h0M644.7 202.5h0M656.2 204.2h0M630.8 197.1h0M659.3 157.9h0M641.1 178h0M648.4 172.4h0M631.7 201.7h0M653.5 159.2h0M659.7 159.6h0M645.3 174.5h0M660.4 181.9h0M643.7 159h0M667.7 164.9h0M655.7 163.9h0M661.6 182.6h0M643.5 185.9h0M622.5 169h0M627.2 186.8h0M629.1 192.6h0M654.2 166.4h0M641.7 168h0M633.2 208.4h0M668 174.9h0M675.1 207.4h0M653.8 181.6h0M644.5 169.4h0M655.1 176.3h0M643.3 181.8h0M675.3 205.4h0M622.2 198.1h0M638.3 184.2h0M650.6 159.7h0M644.8 201.1h0M653.9 158.6h0M656.5 175.3h0M680 180.8h0M648.6 207.4h0M618.4 200.2h0M675.3 158.4h0M621.2 202.5h0M657.6 155.2h0M685.8 171.8h0M636.3 154.2h0M654.7 188.8h0M644.5 180.5h0M675.6 172.2h0M625.1 196.5h0M672.3 199.6h0M653.6 194.5h0M682.5 161.2h0M644.7 163.8h0M682.1 170.4h0M671.6 191.7h0M624.1 208.1h0"/><path stroke-width="1.6" d="M661.2 154.4h0M648.1 181.2h0M642.2 205.6h0M638.3 183.3h0M682.8 194.4h0M659.1 186h0M651.1 168.8h0M637.2 190.6h0M630.7 192.6h0M659.4 185.3h0M625.4 166.2h0M664 162h0M673.5 167.7h0M616 195.2h0M648.8 193.3h0M635.4 159.5h0M678.8 198.6h0M619.6 192.4h0M676.6 199.3h0M668.6 195h0M629.1 199.1h0M681.2 175.9h0M632.9 157.3h0M620.8 183.2h0M666.2 152.3h0M654 168.5h0M614.8 202.1h0M641.9 161h0M650.1 189.5h0M619.4 189.7h0M654.1 210.5h0M663 165.5h0M685.7 175.3h0M615.1 196.9h0M635.3 166.9h0M631.2 165.9h0M663.2 152.3h0M680.3 198.2h0M660 158.4h0M678.6 170.1h0M667.6 177.9h0M617.2 154.4h0M683.3 172.2h0M667.9 198.3h0M651.1 196.7h0M673.2 188.2h0M681.3 199.4h0M642.6 164.3h0M613.9 202.4h0M613.1 185.8h0M675.6 209.2h0M678.5 160.9h0M685.9 190.5h0M647.6 211.2h0M635.9 160.5h0M623.3 211.3h0M684.2 210.7h0M623.8 168.4h0M684.5 180.5h0M641.1 191.7h0M674.5 159.4h0M649.8 182.1h0M630.2 175.3h0M634.9 172.4h0M644.4 178.1h0M669.5 173.9h0M683.7 162.6h0M649.4 153.7h0M654.8 167.4h0M659.1 196.6h0M615.4 206.6h0M633.5 171.6h0M617.7 197.6h0M673.4 174.3h0M619.9 195.1h0M641.5 162.4h0M634.8 181.2h0M660.6 173.7h0M630.7 157.8h0M682.7 202.8h0M642.1 207.4h0M680.9 207.4h0M678.5 167.9h0M662.5 192.4h0M643.7 167.3h0M634.4 168.7h0M628 197.5h0"/></g><g stroke="#5A86CC" stroke-linecap="round" fill="none" opacity="0.85"><path stroke-width="1.6" d="M671.6 156.6h0M618.3 163.3h0M627.8 161.8h0M632.8 161.7h0M652.3 162.7h0M664.7 162.7h0M678.4 169.5h0M684.6 166.7h0M618.2 174.1h0M630.6 171.8h0M639.9 175.8h0M653.7 174.5h0M662.5 174.8h0M617.6 178.6h0M618 187.3h0M637.7 183.2h0M615.6 191.7h0M638 192.4h0M645.4 189.6h0M668 190.1h0M648.5 202.5h0M654.5 201.6h0M660.3 210.2h0M671.8 207.7h0M662 213.1h0"/><path stroke-width="2" d="M614 155.8h0M656.9 155.2h0M662 155.2h0M682.8 156.8h0M639.1 161.4h0M678.8 163.9h0M617 167.1h0M630.6 165.2h0M643.6 164.9h0M648.8 167h0M655.2 166h0M680.6 171.1h0M686.7 173h0M621.5 180.9h0M635.9 177.5h0M659.2 177.6h0M664.2 179h0M670.1 178.8h0M676.6 178.2h0M685.3 177.5h0M631.6 186.4h0M660.7 186.7h0M667.6 183.8h0M672.5 184.7h0M681 182.9h0M627.5 190.7h0M648 195.8h0M658.6 195.3h0M666.2 196.2h0M671.6 197.7h0M688.7 197.3h0M617.7 202.6h0M623 200.7h0M643.3 202.5h0M662.2 201.4h0M684.6 200.5h0M617.5 209.8h0M631.8 207h0M682 209.6h0M687.6 208.8h0M625 213.1h0M635.4 216h0M644.5 214.8h0M651.9 213.1h0M671.7 215.8h0M677 214h0"/><path stroke-width="2.4" d="M623.4 156.2h0M631.6 157.4h0M637.4 157.4h0M643.1 157.8h0M648.4 154.2h0M675.6 155.5h0M648.6 160.9h0M660.5 162.8h0M676 160.5h0M685.9 163.6h0M623.4 169.2h0M635.3 167.6h0M665.4 166h0M671.1 169.4h0M624.1 175.1h0M646.9 173.1h0M664.5 174.9h0M673.1 175.5h0M628.8 181.1h0M641.2 181.1h0M649 180h0M625.3 187.5h0M645.4 184.7h0M655.2 185.4h0M687.8 186.7h0M624.8 191.9h0M650.2 190.8h0M654.4 193.1h0M662.6 189.4h0M676.3 193.6h0M684.2 191.8h0M620.7 198.7h0M628.3 196.2h0M631.7 195.1h0M637.4 198.9h0M651.1 196.7h0M681.1 196.1h0M627.4 205h0M634.4 201.5h0M670.8 205.4h0M678.7 203.2h0M625.8 207.1h0M638.8 207.3h0M646.2 206.4h0M651.4 210.7h0M665.4 210.3h0M616.1 212.3h0M630 215.7h0M655.9 212.6h0M681.6 213.7h0"/></g><g stroke="#5A3060" stroke-linecap="round" fill="none" opacity="0.6"><path stroke-width="0.8" d="M655.4 199h0M649.6 152.5h0M637 162.5h0M685.8 153.8h0M654.3 187.2h0M652.2 196.8h0M684.4 188.5h0M655.4 153.3h0M644 157.7h0M635.1 166h0M682 164.8h0M685.8 186.3h0M618.9 179.7h0M624.8 160h0M642.3 208.9h0M679 153.4h0M623.7 155.8h0M664.3 188.3h0M621.9 203.7h0M666.8 207.3h0M614.7 174.3h0M684.2 187h0M677.2 206.6h0M674.3 203.7h0M673 208.2h0M669.4 187.5h0M636.4 162.7h0M642 160.3h0M660.2 176.6h0M638.8 201.3h0M659.9 180.2h0M676.1 160.5h0M681.8 163.7h0M645 199.4h0M646.5 186.9h0"/><path stroke-width="1.2" d="M636.3 193.9h0M647.2 189.1h0M629.6 179.6h0M679.2 162.1h0M633.7 184.4h0M628.7 180.3h0M613.9 209.9h0M625.7 207.7h0M647.5 164.3h0M683.4 204.2h0M675.9 152.9h0M635.1 196.8h0M666.7 194.1h0M663.9 157.5h0M683.6 204.4h0M614.3 207.9h0M618.9 179.4h0M658.3 183.2h0M683.3 165h0M686.5 165.9h0M641.1 159h0M676.7 169.9h0M632.3 180.1h0M641.6 197.4h0M671.3 168.1h0M666.5 156.3h0M643.7 197.5h0M639.2 171.1h0M622.6 167.6h0M627 206.9h0M684.3 208h0M683.2 194h0M661.1 209.6h0M685 178.5h0M687 195.2h0M677.3 185.3h0M628.5 201.4h0M675.3 191.8h0M673.7 153.8h0M676.9 167.8h0M617 204.1h0M672.6 200.3h0M615 169.9h0M674.5 181.5h0M627.5 204h0"/></g></g></g><clipPath id="c9"><rect x="399.7" y="210.8" width="70.2" height="56.4"/></clipPath><g clip-path="url(#c9)"><g filter="url(#bl)"><rect x="397.7" y="208.8" width="74.2" height="60.4" fill="#C432A8"/><g stroke="#A8189E" stroke-linecap="round" fill="none" opacity="0.6"><path stroke-width="1.2" d="M437.3 247.8h0M416.1 240.6h0M421.1 246.3h0M401.8 240h0M432.3 245.1h0M434.9 240.3h0M428.1 224.7h0M470.7 223h0M458.9 218.6h0M407.1 227.5h0M400.3 220.8h0M435.4 232.3h0M422.8 238.9h0M406.5 227.7h0M430.7 245.5h0M436.4 259.9h0M471.4 268.1h0M443.4 242.4h0M456.7 267.8h0M447.8 235.6h0M428.6 224.4h0M457 241.5h0"/><path stroke-width="1.6" d="M421.5 226.6h0M436.1 218.3h0M423.7 232.2h0M401 262.2h0M453.2 265.9h0M422.8 260.8h0M409.2 253.1h0M413.5 229h0M469.9 229.1h0M454.7 267.1h0M420.8 212.3h0M415.1 240h0M465.4 212.7h0M415.7 241.7h0M461.9 236.6h0M400.9 227.2h0M419.1 266.1h0M404.8 211.3h0M437.3 264.3h0M425.7 209.4h0M454.4 255.4h0M451.8 229.8h0M457.3 258.4h0"/><path stroke-width="2" d="M420.9 236.2h0M412 257.1h0M458.8 212.8h0M408.4 255.6h0M461 230.1h0M424.6 230.1h0M463.3 247.5h0M465.1 268h0M402.5 238.7h0M402.4 229.1h0M402.4 261.9h0M434.5 228.3h0M414.3 265.7h0M452.1 238.4h0M429.5 240.5h0M456.6 265.7h0M443.5 222.4h0M411.1 262.3h0M443 262.1h0M456.2 218.8h0M435.2 253.1h0M409.9 241.7h0M450.9 230.5h0M403.5 238.8h0M468.6 229.5h0M433.1 249.5h0M441 250.3h0M458.9 224.1h0"/><path stroke-width="2.4" d="M423.6 249.7h0M426 253.4h0M421.5 243.7h0M414.8 268.6h0M426.7 221.9h0M457.2 238.6h0M433.9 238.4h0M456.5 232.9h0M442 210.9h0M436.6 258.1h0M440.6 222h0M416.8 248.5h0M423.1 259.4h0M464.9 215h0M468.6 233.3h0M434 230.6h0M455.3 233.5h0M416.9 252.7h0M425.8 234h0M421.4 224.8h0M419.3 209.5h0M415.2 219h0M445.2 232.2h0M400.3 236h0M416.3 224.7h0M446.8 223.4h0M460.9 258.1h0"/></g><path d="M423.1 254.3a0.7 0.7 0 1 0 1.5 0a0.7 0.7 0 1 0 -1.5 0M439.8 214.4a0.5 0.5 0 1 0 1.1 0a0.5 0.5 0 1 0 -1.1 0M406.3 214.7a0.9 0.9 0 1 0 1.8 0a0.9 0.9 0 1 0 -1.8 0M464.5 229.9a0.7 0.7 0 1 0 1.4 0a0.7 0.7 0 1 0 -1.4 0M439.8 250.8a0.5 0.5 0 1 0 1 0a0.5 0.5 0 1 0 -1 0M469.3 210.6a0.5 0.5 0 1 0 1 0a0.5 0.5 0 1 0 -1 0M450.6 228.7a0.8 0.8 0 1 0 1.5 0a0.8 0.8 0 1 0 -1.5 0M438.5 237.8a0.7 0.7 0 1 0 1.4 0a0.7 0.7 0 1 0 -1.4 0M457.3 233.3a0.8 0.8 0 1 0 1.7 0a0.8 0.8 0 1 0 -1.7 0M440.9 262.2a0.5 0.5 0 1 0 1 0a0.5 0.5 0 1 0 -1 0M419.2 210.2a0.5 0.5 0 1 0 0.9 0a0.5 0.5 0 1 0 -0.9 0M437.5 236.3a0.5 0.5 0 1 0 1.1 0a0.5 0.5 0 1 0 -1.1 0M408.3 220.9a0.9 0.9 0 1 0 1.8 0a0.9 0.9 0 1 0 -1.8 0M438.6 234a0.7 0.7 0 1 0 1.5 0a0.7 0.7 0 1 0 -1.5 0M429.4 238.5a0.5 0.5 0 1 0 1 0a0.5 0.5 0 1 0 -1 0M469.9 244.1a0.8 0.8 0 1 0 1.6 0a0.8 0.8 0 1 0 -1.6 0M464 214.8a0.5 0.5 0 1 0 1 0a0.5 0.5 0 1 0 -1 0M413.8 219.1a0.5 0.5 0 1 0 1.1 0a0.5 0.5 0 1 0 -1.1 0M426.1 259a0.7 0.7 0 1 0 1.5 0a0.7 0.7 0 1 0 -1.5 0M450.3 238.9a0.9 0.9 0 1 0 1.8 0a0.9 0.9 0 1 0 -1.8 0M462.2 216.6a0.8 0.8 0 1 0 1.6 0a0.8 0.8 0 1 0 -1.6 0M467.6 258.3a0.7 0.7 0 1 0 1.5 0a0.7 0.7 0 1 0 -1.5 0M426.5 214.2a0.6 0.6 0 1 0 1.2 0a0.6 0.6 0 1 0 -1.2 0M403.6 213a0.8 0.8 0 1 0 1.7 0a0.8 0.8 0 1 0 -1.7 0M434.3 231a0.8 0.8 0 1 0 1.6 0a0.8 0.8 0 1 0 -1.6 0M420.8 264a0.6 0.6 0 1 0 1.1 0a0.6 0.6 0 1 0 -1.1 0M411.5 222.1a0.9 0.9 0 1 0 1.9 0a0.9 0.9 0 1 0 -1.9 0M462.4 221a0.9 0.9 0 1 0 1.8 0a0.9 0.9 0 1 0 -1.8 0M399.5 251a0.7 0.7 0 1 0 1.4 0a0.7 0.7 0 1 0 -1.4 0M414 244.8a0.6 0.6 0 1 0 1.1 0a0.6 0.6 0 1 0 -1.1 0M436.1 253.8a0.7 0.7 0 1 0 1.3 0a0.7 0.7 0 1 0 -1.3 0M464.1 262.8a0.5 0.5 0 1 0 1.1 0a0.5 0.5 0 1 0 -1.1 0M412.7 209.5a0.6 0.6 0 1 0 1.3 0a0.6 0.6 0 1 0 -1.3 0M402.8 227.1a0.5 0.5 0 1 0 1 0a0.5 0.5 0 1 0 -1 0M432.5 224.4a0.9 0.9 0 1 0 1.8 0a0.9 0.9 0 1 0 -1.8 0M456.1 230.3a0.7 0.7 0 1 0 1.4 0a0.7 0.7 0 1 0 -1.4 0M403.1 212.5a0.9 0.9 0 1 0 1.7 0a0.9 0.9 0 1 0 -1.7 0M403.6 231a0.6 0.6 0 1 0 1.1 0a0.6 0.6 0 1 0 -1.1 0M412.7 221.9a0.6 0.6 0 1 0 1.1 0a0.6 0.6 0 1 0 -1.1 0M466.2 223.3a0.8 0.8 0 1 0 1.6 0a0.8 0.8 0 1 0 -1.6 0M414.6 265a0.9 0.9 0 1 0 1.8 0a0.9 0.9 0 1 0 -1.8 0M434.7 265.9a0.8 0.8 0 1 0 1.6 0a0.8 0.8 0 1 0 -1.6 0M463.7 240.4a0.5 0.5 0 1 0 1 0a0.5 0.5 0 1 0 -1 0M402.4 259.6a0.9 0.9 0 1 0 1.9 0a0.9 0.9 0 1 0 -1.9 0M427.8 262.4a0.9 0.9 0 1 0 1.8 0a0.9 0.9 0 1 0 -1.8 0M420.2 254.7a0.8 0.8 0 1 0 1.7 0a0.8 0.8 0 1 0 -1.7 0M446.8 222.8a0.5 0.5 0 1 0 1 0a0.5 0.5 0 1 0 -1 0M421.6 225a0.7 0.7 0 1 0 1.4 0a0.7 0.7 0 1 0 -1.4 0M423.3 233a0.6 0.6 0 1 0 1.2 0a0.6 0.6 0 1 0 -1.2 0M407.1 225.7a0.8 0.8 0 1 0 1.6 0a0.8 0.8 0 1 0 -1.6 0M417.7 262.8a0.9 0.9 0 1 0 1.8 0a0.9 0.9 0 1 0 -1.8 0M431 226.7a0.8 0.8 0 1 0 1.6 0a0.8 0.8 0 1 0 -1.6 0M463.1 258.1a0.6 0.6 0 1 0 1.1 0a0.6 0.6 0 1 0 -1.1 0M412.6 211.7a0.9 0.9 0 1 0 1.8 0a0.9 0.9 0 1 0 -1.8 0M417.6 232.5a0.8 0.8 0 1 0 1.7 0a0.8 0.8 0 1 0 -1.7 0M418.8 252.4a0.5 0.5 0 1 0 0.9 0a0.5 0.5 0 1 0 -0.9 0M427 210.4a0.9 0.9 0 1 0 1.7 0a0.9 0.9 0 1 0 -1.7 0M418.1 257.9a0.8 0.8 0 1 0 1.7 0a0.8 0.8 0 1 0 -1.7 0M405.1 226.9a0.8 0.8 0 1 0 1.7 0a0.8 0.8 0 1 0 -1.7 0M448 234.2a0.5 0.5 0 1 0 1 0a0.5 0.5 0 1 0 -1 0M409.5 229.9a0.7 0.7 0 1 0 1.4 0a0.7 0.7 0 1 0 -1.4 0M445.4 261.3a0.8 0.8 0 1 0 1.6 0a0.8 0.8 0 1 0 -1.6 0M438.2 240.7a0.8 0.8 0 1 0 1.5 0a0.8 0.8 0 1 0 -1.5 0M400.8 211.4a0.7 0.7 0 1 0 1.4 0a0.7 0.7 0 1 0 -1.4 0M429.1 261.1a0.6 0.6 0 1 0 1.1 0a0.6 0.6 0 1 0 -1.1 0M422.7 224a0.8 0.8 0 1 0 1.6 0a0.8 0.8 0 1 0 -1.6 0M456.6 214.8a0.6 0.6 0 1 0 1.3 0a0.6 0.6 0 1 0 -1.3 0M447.4 253.4a0.8 0.8 0 1 0 1.7 0a0.8 0.8 0 1 0 -1.7 0M409.2 252.3a0.7 0.7 0 1 0 1.4 0a0.7 0.7 0 1 0 -1.4 0M462.6 220.6a0.9 0.9 0 1 0 1.7 0a0.9 0.9 0 1 0 -1.7 0M465.1 245.5a0.5 0.5 0 1 0 1.1 0a0.5 0.5 0 1 0 -1.1 0M422.6 231.1a0.9 0.9 0 1 0 1.8 0a0.9 0.9 0 1 0 -1.8 0M409.9 233.8a0.6 0.6 0 1 0 1.3 0a0.6 0.6 0 1 0 -1.3 0M436.7 252.8a0.5 0.5 0 1 0 0.9 0a0.5 0.5 0 1 0 -0.9 0M414.3 213.8a0.7 0.7 0 1 0 1.4 0a0.7 0.7 0 1 0 -1.4 0M444.9 256.3a0.8 0.8 0 1 0 1.6 0a0.8 0.8 0 1 0 -1.6 0M409.3 268.7a0.5 0.5 0 1 0 0.9 0a0.5 0.5 0 1 0 -0.9 0M411.4 246.9a0.8 0.8 0 1 0 1.5 0a0.8 0.8 0 1 0 -1.5 0M426 249.9a0.7 0.7 0 1 0 1.4 0a0.7 0.7 0 1 0 -1.4 0M420.3 227.7a0.7 0.7 0 1 0 1.3 0a0.7 0.7 0 1 0 -1.3 0M405.2 251.9a0.5 0.5 0 1 0 1.1 0a0.5 0.5 0 1 0 -1.1 0M439.9 264.8a0.9 0.9 0 1 0 1.7 0a0.9 0.9 0 1 0 -1.7 0M457.5 220a0.9 0.9 0 1 0 1.7 0a0.9 0.9 0 1 0 -1.7 0M398.1 222.4a0.6 0.6 0 1 0 1.2 0a0.6 0.6 0 1 0 -1.2 0M447.5 268.1a0.6 0.6 0 1 0 1.1 0a0.6 0.6 0 1 0 -1.1 0M433.9 226.1a0.8 0.8 0 1 0 1.6 0a0.8 0.8 0 1 0 -1.6 0M397.9 263.5a0.6 0.6 0 1 0 1.2 0a0.6 0.6 0 1 0 -1.2 0M410.1 258.7a0.8 0.8 0 1 0 1.6 0a0.8 0.8 0 1 0 -1.6 0M455.5 261.9a0.7 0.7 0 1 0 1.4 0a0.7 0.7 0 1 0 -1.4 0M428.9 256.7a0.7 0.7 0 1 0 1.4 0a0.7 0.7 0 1 0 -1.4 0M415.1 245.9a0.7 0.7 0 1 0 1.3 0a0.7 0.7 0 1 0 -1.3 0M453.4 261.4a0.8 0.8 0 1 0 1.7 0a0.8 0.8 0 1 0 -1.7 0M402.1 242.2a0.7 0.7 0 1 0 1.3 0a0.7 0.7 0 1 0 -1.3 0M400.7 226.2a0.5 0.5 0 1 0 0.9 0a0.5 0.5 0 1 0 -0.9 0M449.6 221.7a0.5 0.5 0 1 0 1.1 0a0.5 0.5 0 1 0 -1.1 0M461.1 225a0.8 0.8 0 1 0 1.6 0a0.8 0.8 0 1 0 -1.6 0M446.4 247.1a0.5 0.5 0 1 0 1 0a0.5 0.5 0 1 0 -1 0M413.1 258.5a0.6 0.6 0 1 0 1.3 0a0.6 0.6 0 1 0 -1.3 0M419.6 238.7a0.5 0.5 0 1 0 0.9 0a0.5 0.5 0 1 0 -0.9 0M449.5 255.5a0.9 0.9 0 1 0 1.9 0a0.9 0.9 0 1 0 -1.9 0M420.2 250.5a0.9 0.9 0 1 0 1.8 0a0.9 0.9 0 1 0 -1.8 0M460.6 236.7a0.9 0.9 0 1 0 1.9 0a0.9 0.9 0 1 0 -1.9 0M437.2 242.9a0.7 0.7 0 1 0 1.5 0a0.7 0.7 0 1 0 -1.5 0M410.8 232.5a0.7 0.7 0 1 0 1.4 0a0.7 0.7 0 1 0 -1.4 0M455.5 242.7a0.6 0.6 0 1 0 1.2 0a0.6 0.6 0 1 0 -1.2 0M469.2 213.5a0.5 0.5 0 1 0 1.1 0a0.5 0.5 0 1 0 -1.1 0M422.9 268a0.7 0.7 0 1 0 1.4 0a0.7 0.7 0 1 0 -1.4 0M426.9 258.5a0.6 0.6 0 1 0 1.1 0a0.6 0.6 0 1 0 -1.1 0M456.3 213.4a0.7 0.7 0 1 0 1.5 0a0.7 0.7 0 1 0 -1.5 0M466.9 245.3a0.6 0.6 0 1 0 1.1 0a0.6 0.6 0 1 0 -1.1 0M412.9 257.4a0.6 0.6 0 1 0 1.2 0a0.6 0.6 0 1 0 -1.2 0M466.2 234.7a0.5 0.5 0 1 0 1 0a0.5 0.5 0 1 0 -1 0M451 253.4a0.8 0.8 0 1 0 1.6 0a0.8 0.8 0 1 0 -1.6 0M397.8 231.2a0.7 0.7 0 1 0 1.4 0a0.7 0.7 0 1 0 -1.4 0M464.9 214.5a0.7 0.7 0 1 0 1.3 0a0.7 0.7 0 1 0 -1.3 0M423.1 246.6a0.7 0.7 0 1 0 1.4 0a0.7 0.7 0 1 0 -1.4 0M420.6 238a0.7 0.7 0 1 0 1.4 0a0.7 0.7 0 1 0 -1.4 0M400.1 228.1a0.6 0.6 0 1 0 1.2 0a0.6 0.6 0 1 0 -1.2 0M417.7 230.4a0.6 0.6 0 1 0 1.2 0a0.6 0.6 0 1 0 -1.2 0M424.4 250.1a0.6 0.6 0 1 0 1.1 0a0.6 0.6 0 1 0 -1.1 0M467.8 213.5a0.6 0.6 0 1 0 1.2 0a0.6 0.6 0 1 0 -1.2 0M451 248.3a0.6 0.6 0 1 0 1.2 0a0.6 0.6 0 1 0 -1.2 0M418.1 252a0.6 0.6 0 1 0 1.3 0a0.6 0.6 0 1 0 -1.3 0M456.9 263.6a0.5 0.5 0 1 0 1.1 0a0.5 0.5 0 1 0 -1.1 0M447 222.9a0.7 0.7 0 1 0 1.5 0a0.7 0.7 0 1 0 -1.5 0M463.3 247.1a0.9 0.9 0 1 0 1.8 0a0.9 0.9 0 1 0 -1.8 0M422.2 226a0.7 0.7 0 1 0 1.4 0a0.7 0.7 0 1 0 -1.4 0M423.8 240.4a0.6 0.6 0 1 0 1.2 0a0.6 0.6 0 1 0 -1.2 0M412.6 245.6a0.5 0.5 0 1 0 1 0a0.5 0.5 0 1 0 -1 0M414 214.3a0.8 0.8 0 1 0 1.6 0a0.8 0.8 0 1 0 -1.6 0M408.5 225.3a0.9 0.9 0 1 0 1.8 0a0.9 0.9 0 1 0 -1.8 0M435.8 237a0.6 0.6 0 1 0 1.2 0a0.6 0.6 0 1 0 -1.2 0M435.4 255.7a0.6 0.6 0 1 0 1.3 0a0.6 0.6 0 1 0 -1.3 0M407.1 219.9a0.8 0.8 0 1 0 1.6 0a0.8 0.8 0 1 0 -1.6 0M432.6 265a0.6 0.6 0 1 0 1.1 0a0.6 0.6 0 1 0 -1.1 0M450.1 232.3a0.6 0.6 0 1 0 1.2 0a0.6 0.6 0 1 0 -1.2 0M450.4 228.1a0.6 0.6 0 1 0 1.1 0a0.6 0.6 0 1 0 -1.1 0M430.5 234.5a0.5 0.5 0 1 0 1 0a0.5 0.5 0 1 0 -1 0M470.2 232.9a0.6 0.6 0 1 0 1.3 0a0.6 0.6 0 1 0 -1.3 0M406.6 217.7a0.5 0.5 0 1 0 1.1 0a0.5 0.5 0 1 0 -1.1 0M402.2 241.9a0.8 0.8 0 1 0 1.5 0a0.8 0.8 0 1 0 -1.5 0M459.9 224.6a0.9 0.9 0 1 0 1.7 0a0.9 0.9 0 1 0 -1.7 0M452.6 212.3a0.5 0.5 0 1 0 1.1 0a0.5 0.5 0 1 0 -1.1 0M411.8 261.4a0.8 0.8 0 1 0 1.6 0a0.8 0.8 0 1 0 -1.6 0M401.9 223.4a0.5 0.5 0 1 0 1.1 0a0.5 0.5 0 1 0 -1.1 0M443.3 234.7a0.9 0.9 0 1 0 1.8 0a0.9 0.9 0 1 0 -1.8 0M459.2 226a0.6 0.6 0 1 0 1.2 0a0.6 0.6 0 1 0 -1.2 0M434.1 233.3a0.8 0.8 0 1 0 1.7 0a0.8 0.8 0 1 0 -1.7 0M411.2 261.2a0.7 0.7 0 1 0 1.5 0a0.7 0.7 0 1 0 -1.5 0M426.3 267.2a0.6 0.6 0 1 0 1.2 0a0.6 0.6 0 1 0 -1.2 0M454 267a0.9 0.9 0 1 0 1.8 0a0.9 0.9 0 1 0 -1.8 0M469.8 235.5a0.8 0.8 0 1 0 1.7 0a0.8 0.8 0 1 0 -1.7 0M458.9 226.8a0.7 0.7 0 1 0 1.4 0a0.7 0.7 0 1 0 -1.4 0M465.4 256a0.6 0.6 0 1 0 1.2 0a0.6 0.6 0 1 0 -1.2 0M454.5 215.8a0.6 0.6 0 1 0 1.3 0a0.6 0.6 0 1 0 -1.3 0M439.8 227.3a0.5 0.5 0 1 0 0.9 0a0.5 0.5 0 1 0 -0.9 0M439.5 245.9a0.8 0.8 0 1 0 1.6 0a0.8 0.8 0 1 0 -1.6 0M409.6 213.1a0.5 0.5 0 1 0 0.9 0a0.5 0.5 0 1 0 -0.9 0M437.5 211.1a0.6 0.6 0 1 0 1.1 0a0.6 0.6 0 1 0 -1.1 0M433.9 231.5a0.8 0.8 0 1 0 1.6 0a0.8 0.8 0 1 0 -1.6 0M407 240a0.7 0.7 0 1 0 1.3 0a0.7 0.7 0 1 0 -1.3 0M411.3 263.7a0.9 0.9 0 1 0 1.8 0a0.9 0.9 0 1 0 -1.8 0M468.8 224a0.5 0.5 0 1 0 0.9 0a0.5 0.5 0 1 0 -0.9 0M448.8 263.2a0.6 0.6 0 1 0 1.2 0a0.6 0.6 0 1 0 -1.2 0M419 257.5a0.7 0.7 0 1 0 1.5 0a0.7 0.7 0 1 0 -1.5 0M440.9 251.7a0.7 0.7 0 1 0 1.4 0a0.7 0.7 0 1 0 -1.4 0M457.7 242.4a0.8 0.8 0 1 0 1.6 0a0.8 0.8 0 1 0 -1.6 0M397.6 237.9a0.9 0.9 0 1 0 1.8 0a0.9 0.9 0 1 0 -1.8 0M433.1 250.6a0.7 0.7 0 1 0 1.4 0a0.7 0.7 0 1 0 -1.4 0M466.3 213.4a0.6 0.6 0 1 0 1.2 0a0.6 0.6 0 1 0 -1.2 0M409.1 261.4a0.9 0.9 0 1 0 1.9 0a0.9 0.9 0 1 0 -1.9 0M411.3 226.1a0.6 0.6 0 1 0 1.1 0a0.6 0.6 0 1 0 -1.1 0M442 251.7a0.6 0.6 0 1 0 1.2 0a0.6 0.6 0 1 0 -1.2 0M458.4 236.1a0.7 0.7 0 1 0 1.4 0a0.7 0.7 0 1 0 -1.4 0M424.3 236.3a0.5 0.5 0 1 0 0.9 0a0.5 0.5 0 1 0 -0.9 0M400 267.3a0.6 0.6 0 1 0 1.2 0a0.6 0.6 0 1 0 -1.2 0M423.1 267.9a0.6 0.6 0 1 0 1.2 0a0.6 0.6 0 1 0 -1.2 0M403.9 261.3a0.6 0.6 0 1 0 1.3 0a0.6 0.6 0 1 0 -1.3 0M445.3 226.8a0.5 0.5 0 1 0 1 0a0.5 0.5 0 1 0 -1 0M413.2 255.1a0.7 0.7 0 1 0 1.4 0a0.7 0.7 0 1 0 -1.4 0M446.2 252.9a0.7 0.7 0 1 0 1.5 0a0.7 0.7 0 1 0 -1.5 0M447.6 220.5a0.5 0.5 0 1 0 1.1 0a0.5 0.5 0 1 0 -1.1 0M429.6 259.6a0.6 0.6 0 1 0 1.1 0a0.6 0.6 0 1 0 -1.1 0M454.7 258.7a0.8 0.8 0 1 0 1.6 0a0.8 0.8 0 1 0 -1.6 0M404.9 216.6a0.9 0.9 0 1 0 1.7 0a0.9 0.9 0 1 0 -1.7 0M413.2 210.2a0.7 0.7 0 1 0 1.5 0a0.7 0.7 0 1 0 -1.5 0M448.6 258.5a0.8 0.8 0 1 0 1.6 0a0.8 0.8 0 1 0 -1.6 0M441.1 230.6a0.9 0.9 0 1 0 1.8 0a0.9 0.9 0 1 0 -1.8 0M417 236.1a0.5 0.5 0 1 0 1 0a0.5 0.5 0 1 0 -1 0M439.7 250.3a0.7 0.7 0 1 0 1.4 0a0.7 0.7 0 1 0 -1.4 0M424.7 211.5a0.8 0.8 0 1 0 1.5 0a0.8 0.8 0 1 0 -1.5 0M400.1 254.6a0.8 0.8 0 1 0 1.5 0a0.8 0.8 0 1 0 -1.5 0M460.8 248.7a0.8 0.8 0 1 0 1.7 0a0.8 0.8 0 1 0 -1.7 0M417.8 265.6a0.7 0.7 0 1 0 1.5 0a0.7 0.7 0 1 0 -1.5 0M437.5 232a0.9 0.9 0 1 0 1.7 0a0.9 0.9 0 1 0 -1.7 0M443.8 242.2a0.8 0.8 0 1 0 1.5 0a0.8 0.8 0 1 0 -1.5 0M455.4 268.5a0.5 0.5 0 1 0 1.1 0a0.5 0.5 0 1 0 -1.1 0M468.3 225.9a0.7 0.7 0 1 0 1.3 0a0.7 0.7 0 1 0 -1.3 0M451.6 257.9a0.6 0.6 0 1 0 1.2 0a0.6 0.6 0 1 0 -1.2 0M419.8 240.8a0.7 0.7 0 1 0 1.4 0a0.7 0.7 0 1 0 -1.4 0M427.1 226.9a0.5 0.5 0 1 0 0.9 0a0.5 0.5 0 1 0 -0.9 0M466 229.9a0.9 0.9 0 1 0 1.8 0a0.9 0.9 0 1 0 -1.8 0M443.7 215.4a0.5 0.5 0 1 0 1.1 0a0.5 0.5 0 1 0 -1.1 0M425 220.7a0.5 0.5 0 1 0 1 0a0.5 0.5 0 1 0 -1 0M454 238.5a0.5 0.5 0 1 0 1.1 0a0.5 0.5 0 1 0 -1.1 0M435.1 249.9a0.9 0.9 0 1 0 1.7 0a0.9 0.9 0 1 0 -1.7 0M429.5 221.6a0.5 0.5 0 1 0 0.9 0a0.5 0.5 0 1 0 -0.9 0M440.5 240.7a0.9 0.9 0 1 0 1.9 0a0.9 0.9 0 1 0 -1.9 0M415.4 212a0.7 0.7 0 1 0 1.4 0a0.7 0.7 0 1 0 -1.4 0M448.7 223a0.6 0.6 0 1 0 1.2 0a0.6 0.6 0 1 0 -1.2 0M411 259.8a0.7 0.7 0 1 0 1.5 0a0.7 0.7 0 1 0 -1.5 0M417.5 230.5a0.6 0.6 0 1 0 1.2 0a0.6 0.6 0 1 0 -1.2 0M398.6 259a0.8 0.8 0 1 0 1.7 0a0.8 0.8 0 1 0 -1.7 0M420.2 229.6a0.9 0.9 0 1 0 1.8 0a0.9 0.9 0 1 0 -1.8 0M416.4 251.2a0.9 0.9 0 1 0 1.8 0a0.9 0.9 0 1 0 -1.8 0M419.7 256.2a0.6 0.6 0 1 0 1.2 0a0.6 0.6 0 1 0 -1.2 0M469.8 217.5a0.5 0.5 0 1 0 1.1 0a0.5 0.5 0 1 0 -1.1 0M448.7 229.6a0.7 0.7 0 1 0 1.4 0a0.7 0.7 0 1 0 -1.4 0M460.7 218.4a0.6 0.6 0 1 0 1.1 0a0.6 0.6 0 1 0 -1.1 0M442.8 223a0.7 0.7 0 1 0 1.4 0a0.7 0.7 0 1 0 -1.4 0" stroke="#EEB8EA" stroke-width="0.4" fill="none" opacity="0.7"/><g stroke="#F4DAF2" stroke-linecap="round" fill="none" opacity="0.9"><path stroke-width="0.4" d="M465.8 229h0M410.5 211.6h0M467.7 255.1h0M421.7 269h0M429.6 267.8h0M450.4 224.8h0M431.1 219.5h0M397.9 210.6h0M417 245.9h0M470.6 216.6h0M462.1 264.1h0M454.6 230.8h0M433.4 242.2h0M455 248.8h0M413.5 260.5h0M448.4 228.6h0M449.4 228.1h0M435.4 243.8h0M398.1 246.5h0M437 217.7h0M408.3 239h0M455.3 241.1h0M442.4 262.1h0M447.9 242.8h0M458.3 228.5h0M457.8 249.8h0M448.9 256.1h0M428 237.2h0M453.2 230.7h0M427.4 258.7h0M399.9 210h0M452.6 246.8h0M443.3 245.7h0"/><path stroke-width="0.8" d="M413.9 247.2h0M420 256.3h0M464.4 266.5h0M428.1 229.7h0M463.1 265.1h0M433.3 269.1h0M459.8 248h0M433.9 223.4h0M468.9 264.4h0M450.1 228.4h0M427.7 253.4h0M455.6 221.6h0M401.4 257.1h0M448.8 213h0M426.4 217.6h0M423 257.4h0M430.7 257.6h0M468.4 253.7h0M463.6 211.2h0M466.6 231h0M431.6 245.3h0M463.6 241.3h0M456 215h0M434.3 260.6h0M425.5 220.1h0M407.7 223.6h0M469.8 259.7h0M471.2 266h0M446.5 264.7h0M434.4 243.1h0M432 233.4h0M462.9 261.2h0M437.7 240.6h0M406.7 264.8h0M471.8 214.4h0M458.4 268.8h0M421.9 262.7h0M406 245.4h0M457 215.2h0M427.4 218.4h0M400.6 262.1h0M426.6 211.1h0M437.5 221.8h0M452.1 268.8h0M445.2 215.5h0M438.7 241.3h0M414.2 227h0M469.1 219h0M426.8 242.4h0M457.2 222.1h0M458.9 216.1h0M466.8 233.5h0M437.5 235.4h0M404.6 226.1h0M467.5 232.7h0M470.7 259.3h0M416.7 239.5h0M410.9 246.1h0M417.9 250.9h0M447.7 255.4h0M430.4 244.6h0M428 230.2h0M404.6 241.4h0M400.9 266.2h0M408.1 212.7h0M429.9 211.6h0M458.6 222.7h0M423.7 227.2h0M443.7 230.6h0M454.2 254.8h0M415.6 208.9h0M470.8 232.1h0M465.8 244.3h0M448.1 238.9h0M422.3 225.7h0M463.3 242.5h0M443.3 232.3h0M402.8 244.3h0M423.9 251.2h0M448.7 219.3h0M405.3 220.4h0M409.3 241.1h0M449.1 234.6h0M450.3 246.1h0M406.1 243.3h0M434.8 214h0M470.1 246.4h0M426.7 216.1h0M452.6 249.5h0M467.5 236.8h0M403.5 217.8h0M450.2 243.2h0M404.2 224.8h0M439.8 218.8h0M432.6 245.9h0M408.7 233.5h0M435.2 223.9h0M461.3 249.7h0M401.7 254.2h0M470.1 216.1h0M461.3 227.5h0M464.6 238.3h0M420.3 222.9h0M428.2 228.8h0M412.9 259.2h0M439.3 213.2h0M424.4 248h0M445.4 241h0M401.7 222.8h0M436.1 227.6h0M434.5 242.8h0M423.4 243.4h0M424 247.4h0M465 253h0M443 225h0M424.8 228.9h0M468.7 267.2h0M435.9 212.9h0M417.6 260.2h0M435.8 250.5h0M465 253.1h0M426.7 232.7h0M459 210.6h0M449.5 215.4h0M423.9 262.2h0M455 260.6h0M469.7 221.2h0M440.4 264.4h0M428.8 213.8h0M440.2 218.7h0"/><path stroke-width="1.2" d="M401.3 256.4h0M464.6 213.4h0M469.8 211h0M440.9 246.1h0M469.1 254.9h0M449.4 252.9h0M425.8 215.1h0M431.9 246.6h0M439.2 237.7h0M441.5 244h0M457 266h0M403.6 265.8h0M433.6 266.5h0M449.2 210.1h0M407.7 245.7h0M455.6 213.2h0M435.5 232.3h0M424.3 260.1h0M451.8 249.4h0M450.2 228h0M412.4 247.6h0M470 238.6h0M397.8 254.9h0M450.7 241h0M437.1 262.7h0M437.4 252.1h0M436.1 258h0M413.8 250.3h0M430.7 240.1h0M424.1 256.4h0M454.6 214.3h0M448.7 234.8h0M417 209.8h0M468.3 262.8h0M439.6 255.6h0M440.3 262.8h0M411.1 227.4h0"/></g><g stroke="#7A2A9A" stroke-linecap="round" fill="none" opacity="0.6"><path stroke-width="0.8" d="M433.6 248.9h0M411.7 236.9h0M411.4 240.8h0M407.9 217h0M404 247.5h0M469.3 216.9h0M408.8 226.7h0M416.6 244.9h0M445.8 216.8h0M407.4 265.1h0M469.5 219.9h0M432.8 245.7h0M403.4 258.7h0M429.2 261.6h0M436.2 221.4h0M443.1 263.1h0M418.6 232.7h0M464.3 226.3h0M460.5 233.4h0"/><path stroke-width="1.2" d="M439.2 232.6h0M436.2 246.2h0M403.3 267.4h0M417 219h0M407.1 216.6h0M456.1 218.2h0M457.5 258.1h0M450.8 255.1h0M416.3 227.8h0M465.7 228.4h0M462.2 219.5h0"/></g></g></g><clipPath id="c10"><rect x="471.4" y="210.8" width="70.3" height="56.4"/></clipPath><g clip-path="url(#c10)"><g filter="url(#bl)"><rect x="469.4" y="208.8" width="74.3" height="60.4" fill="#C432A8"/><g stroke="#A8189E" stroke-linecap="round" fill="none" opacity="0.6"><path stroke-width="1.2" d="M534.5 218.4h0M532.3 245h0M512.3 245h0M508.3 244.9h0M539.6 219.5h0M532.7 269h0M478 215.5h0M484.5 220.4h0M516.8 267h0M492 230h0M540.3 229.2h0M542.9 215.7h0M495.4 216h0M525 259.3h0M521.3 229h0M472.9 235.9h0M516.4 242h0M538.5 255.9h0M513.3 218.1h0M515.2 255.4h0M526.1 249.3h0M482.2 263h0M527.4 240.8h0"/><path stroke-width="1.6" d="M513.1 256.4h0M526.7 233.8h0M497.8 237h0M521.5 251.1h0M474.6 242.8h0M492 213.6h0M475.8 236.7h0M483.6 211.9h0M490.2 239h0M513.7 264.6h0M503 218.7h0M478.9 240.4h0M483.3 221.6h0M543 213.5h0M508.6 221h0M521.6 245.2h0M505.8 236.3h0M496.7 230.2h0M516.3 243.5h0M491.5 240.9h0M514.1 227.2h0M473 229.3h0M493.3 223.4h0M479.4 252.5h0M508.6 227.6h0M470.9 217.9h0M512.8 236h0M542.7 215.5h0M495.1 255h0M525.3 237.3h0"/><path stroke-width="2" d="M470.2 258h0M536.1 231.5h0M520 236.7h0M501.3 212.6h0M476.1 225.8h0M532.6 253.4h0M491.1 255.7h0M537.9 241.6h0M527.7 226.4h0M520.4 237.3h0M511.9 237.5h0M491.3 255h0M535.8 260.8h0M538.9 218h0M506.5 263.5h0M499.2 259.8h0M536.8 265h0M538.9 239h0M510.6 222.8h0M498.8 261.9h0M526.4 224.3h0M519.9 243.9h0M479.5 219.3h0M529.8 264.9h0M470.6 251.2h0M503.3 250.3h0M517.5 217.2h0M527.4 254.2h0M541.6 224.4h0"/><path stroke-width="2.4" d="M535.1 222.6h0M492.9 234.9h0M499.6 226h0M538.9 217.5h0M535.8 249.2h0M489.6 264h0M516.7 212.7h0M481.4 261.4h0M491.8 219.1h0M511.9 239h0M532.8 239.4h0M521.7 250h0M470.6 249h0M508.1 230.2h0M476.2 222h0M503.6 261.5h0M472.2 247.8h0M513.5 223.5h0"/></g><path d="M494.7 218.2a0.9 0.9 0 1 0 1.7 0a0.9 0.9 0 1 0 -1.7 0M507.4 269.2a0.6 0.6 0 1 0 1.1 0a0.6 0.6 0 1 0 -1.1 0M541.6 248a0.7 0.7 0 1 0 1.4 0a0.7 0.7 0 1 0 -1.4 0M476.6 212.8a0.7 0.7 0 1 0 1.4 0a0.7 0.7 0 1 0 -1.4 0M477.9 247a0.6 0.6 0 1 0 1.1 0a0.6 0.6 0 1 0 -1.1 0M537.4 247.9a0.5 0.5 0 1 0 0.9 0a0.5 0.5 0 1 0 -0.9 0M532.8 250a0.6 0.6 0 1 0 1.1 0a0.6 0.6 0 1 0 -1.1 0M496.3 249.6a0.9 0.9 0 1 0 1.8 0a0.9 0.9 0 1 0 -1.8 0M498.1 257.6a0.9 0.9 0 1 0 1.8 0a0.9 0.9 0 1 0 -1.8 0M539.3 246.2a0.9 0.9 0 1 0 1.7 0a0.9 0.9 0 1 0 -1.7 0M474.1 251.9a0.9 0.9 0 1 0 1.8 0a0.9 0.9 0 1 0 -1.8 0M494.6 260.1a0.6 0.6 0 1 0 1.3 0a0.6 0.6 0 1 0 -1.3 0M530.6 228.8a0.7 0.7 0 1 0 1.5 0a0.7 0.7 0 1 0 -1.5 0M515.1 216a0.5 0.5 0 1 0 1 0a0.5 0.5 0 1 0 -1 0M494.6 234.9a0.8 0.8 0 1 0 1.5 0a0.8 0.8 0 1 0 -1.5 0M540.3 265.7a0.5 0.5 0 1 0 1 0a0.5 0.5 0 1 0 -1 0M521.6 215.8a0.5 0.5 0 1 0 1 0a0.5 0.5 0 1 0 -1 0M476 262.9a0.8 0.8 0 1 0 1.6 0a0.8 0.8 0 1 0 -1.6 0M507.3 243.7a0.8 0.8 0 1 0 1.5 0a0.8 0.8 0 1 0 -1.5 0M476.3 237.6a0.9 0.9 0 1 0 1.8 0a0.9 0.9 0 1 0 -1.8 0M471.3 251.7a0.5 0.5 0 1 0 1 0a0.5 0.5 0 1 0 -1 0M508.6 219.5a0.5 0.5 0 1 0 1 0a0.5 0.5 0 1 0 -1 0M473.2 234.6a0.9 0.9 0 1 0 1.9 0a0.9 0.9 0 1 0 -1.9 0M479.6 235.4a0.6 0.6 0 1 0 1.2 0a0.6 0.6 0 1 0 -1.2 0M495.9 222a0.6 0.6 0 1 0 1.3 0a0.6 0.6 0 1 0 -1.3 0M541.4 217.3a0.9 0.9 0 1 0 1.7 0a0.9 0.9 0 1 0 -1.7 0M527.6 236.6a0.8 0.8 0 1 0 1.6 0a0.8 0.8 0 1 0 -1.6 0M509.9 268.6a0.5 0.5 0 1 0 1 0a0.5 0.5 0 1 0 -1 0M524.9 258.4a0.8 0.8 0 1 0 1.6 0a0.8 0.8 0 1 0 -1.6 0M540.8 212a0.8 0.8 0 1 0 1.5 0a0.8 0.8 0 1 0 -1.5 0M524.1 213.2a0.7 0.7 0 1 0 1.4 0a0.7 0.7 0 1 0 -1.4 0M529.5 249.3a0.6 0.6 0 1 0 1.3 0a0.6 0.6 0 1 0 -1.3 0M529.6 264.1a0.6 0.6 0 1 0 1.1 0a0.6 0.6 0 1 0 -1.1 0M487.1 258.4a0.8 0.8 0 1 0 1.7 0a0.8 0.8 0 1 0 -1.7 0M500.4 268.7a0.9 0.9 0 1 0 1.9 0a0.9 0.9 0 1 0 -1.9 0M513.1 231.8a0.5 0.5 0 1 0 1 0a0.5 0.5 0 1 0 -1 0M469.7 232.5a0.7 0.7 0 1 0 1.3 0a0.7 0.7 0 1 0 -1.3 0M474.8 222.3a0.9 0.9 0 1 0 1.8 0a0.9 0.9 0 1 0 -1.8 0M524.3 230.5a0.5 0.5 0 1 0 1 0a0.5 0.5 0 1 0 -1 0M537.8 263.4a0.8 0.8 0 1 0 1.7 0a0.8 0.8 0 1 0 -1.7 0M519.6 250.1a0.6 0.6 0 1 0 1.2 0a0.6 0.6 0 1 0 -1.2 0M510.2 208.9a0.6 0.6 0 1 0 1.2 0a0.6 0.6 0 1 0 -1.2 0M482.3 215.5a0.8 0.8 0 1 0 1.6 0a0.8 0.8 0 1 0 -1.6 0M501.4 228a0.8 0.8 0 1 0 1.7 0a0.8 0.8 0 1 0 -1.7 0M516.1 249.5a0.9 0.9 0 1 0 1.8 0a0.9 0.9 0 1 0 -1.8 0M482.7 236a0.5 0.5 0 1 0 1 0a0.5 0.5 0 1 0 -1 0M523.5 254.1a0.5 0.5 0 1 0 0.9 0a0.5 0.5 0 1 0 -0.9 0M494 213.1a0.9 0.9 0 1 0 1.7 0a0.9 0.9 0 1 0 -1.7 0M513.6 223.7a0.8 0.8 0 1 0 1.6 0a0.8 0.8 0 1 0 -1.6 0M538 261.7a0.6 0.6 0 1 0 1.3 0a0.6 0.6 0 1 0 -1.3 0M470.5 231.1a0.6 0.6 0 1 0 1.2 0a0.6 0.6 0 1 0 -1.2 0M521 228.8a0.9 0.9 0 1 0 1.7 0a0.9 0.9 0 1 0 -1.7 0M489.2 262.8a0.9 0.9 0 1 0 1.8 0a0.9 0.9 0 1 0 -1.8 0M508.8 210.9a0.8 0.8 0 1 0 1.7 0a0.8 0.8 0 1 0 -1.7 0M532.2 216.9a0.8 0.8 0 1 0 1.6 0a0.8 0.8 0 1 0 -1.6 0M475.7 228a0.6 0.6 0 1 0 1.2 0a0.6 0.6 0 1 0 -1.2 0M480.1 247.6a0.9 0.9 0 1 0 1.9 0a0.9 0.9 0 1 0 -1.9 0M506.2 265.8a0.6 0.6 0 1 0 1.2 0a0.6 0.6 0 1 0 -1.2 0M478.1 225.8a0.9 0.9 0 1 0 1.7 0a0.9 0.9 0 1 0 -1.7 0M492.8 229.8a0.9 0.9 0 1 0 1.8 0a0.9 0.9 0 1 0 -1.8 0M513.7 232.7a0.9 0.9 0 1 0 1.8 0a0.9 0.9 0 1 0 -1.8 0M479.2 220.9a0.8 0.8 0 1 0 1.5 0a0.8 0.8 0 1 0 -1.5 0M505.2 250.1a0.9 0.9 0 1 0 1.7 0a0.9 0.9 0 1 0 -1.7 0M519.5 219.4a0.8 0.8 0 1 0 1.6 0a0.8 0.8 0 1 0 -1.6 0M486.3 214.6a0.6 0.6 0 1 0 1.2 0a0.6 0.6 0 1 0 -1.2 0M497.5 239.3a0.5 0.5 0 1 0 1 0a0.5 0.5 0 1 0 -1 0M515.5 231.8a0.9 0.9 0 1 0 1.9 0a0.9 0.9 0 1 0 -1.9 0M504.2 259a0.9 0.9 0 1 0 1.7 0a0.9 0.9 0 1 0 -1.7 0M513.9 248.9a0.5 0.5 0 1 0 1 0a0.5 0.5 0 1 0 -1 0M536 267.2a0.9 0.9 0 1 0 1.8 0a0.9 0.9 0 1 0 -1.8 0M474.8 221.8a0.6 0.6 0 1 0 1.2 0a0.6 0.6 0 1 0 -1.2 0M481.9 224.3a0.5 0.5 0 1 0 1 0a0.5 0.5 0 1 0 -1 0M512.3 261.5a0.6 0.6 0 1 0 1.2 0a0.6 0.6 0 1 0 -1.2 0M530.7 261.2a0.7 0.7 0 1 0 1.5 0a0.7 0.7 0 1 0 -1.5 0M532.8 224.1a0.8 0.8 0 1 0 1.5 0a0.8 0.8 0 1 0 -1.5 0M516.3 209a0.9 0.9 0 1 0 1.9 0a0.9 0.9 0 1 0 -1.9 0M487.9 240.1a0.8 0.8 0 1 0 1.7 0a0.8 0.8 0 1 0 -1.7 0M504 216.4a0.9 0.9 0 1 0 1.9 0a0.9 0.9 0 1 0 -1.9 0M533.4 238.6a0.6 0.6 0 1 0 1.2 0a0.6 0.6 0 1 0 -1.2 0M468.9 227.7a0.9 0.9 0 1 0 1.9 0a0.9 0.9 0 1 0 -1.9 0M524.8 217.7a0.8 0.8 0 1 0 1.5 0a0.8 0.8 0 1 0 -1.5 0M474.8 238.5a0.9 0.9 0 1 0 1.9 0a0.9 0.9 0 1 0 -1.9 0M470.5 239.1a0.9 0.9 0 1 0 1.9 0a0.9 0.9 0 1 0 -1.9 0M475.8 235.9a0.9 0.9 0 1 0 1.7 0a0.9 0.9 0 1 0 -1.7 0M531.3 241.1a0.7 0.7 0 1 0 1.5 0a0.7 0.7 0 1 0 -1.5 0M508.7 249.5a0.9 0.9 0 1 0 1.9 0a0.9 0.9 0 1 0 -1.9 0M517.8 222.4a0.6 0.6 0 1 0 1.1 0a0.6 0.6 0 1 0 -1.1 0M505 249.1a0.8 0.8 0 1 0 1.7 0a0.8 0.8 0 1 0 -1.7 0M489.2 220.3a0.5 0.5 0 1 0 1 0a0.5 0.5 0 1 0 -1 0M525.5 210.6a0.5 0.5 0 1 0 0.9 0a0.5 0.5 0 1 0 -0.9 0M501.2 257.5a0.9 0.9 0 1 0 1.9 0a0.9 0.9 0 1 0 -1.9 0M488.7 230a0.5 0.5 0 1 0 1 0a0.5 0.5 0 1 0 -1 0M478.4 220.6a0.8 0.8 0 1 0 1.7 0a0.8 0.8 0 1 0 -1.7 0M521.3 251.1a0.8 0.8 0 1 0 1.7 0a0.8 0.8 0 1 0 -1.7 0M483.6 267.3a0.7 0.7 0 1 0 1.4 0a0.7 0.7 0 1 0 -1.4 0M488.5 257.4a0.6 0.6 0 1 0 1.1 0a0.6 0.6 0 1 0 -1.1 0M470.2 254.7a0.5 0.5 0 1 0 1 0a0.5 0.5 0 1 0 -1 0M542.4 259.6a0.6 0.6 0 1 0 1.2 0a0.6 0.6 0 1 0 -1.2 0M540.5 244.5a0.7 0.7 0 1 0 1.4 0a0.7 0.7 0 1 0 -1.4 0M489.7 263.2a0.8 0.8 0 1 0 1.5 0a0.8 0.8 0 1 0 -1.5 0M490.3 227.6a0.6 0.6 0 1 0 1.2 0a0.6 0.6 0 1 0 -1.2 0M493.1 265.4a0.7 0.7 0 1 0 1.5 0a0.7 0.7 0 1 0 -1.5 0M515.5 253.7a0.5 0.5 0 1 0 1 0a0.5 0.5 0 1 0 -1 0M513.8 256.1a0.5 0.5 0 1 0 1 0a0.5 0.5 0 1 0 -1 0M538.1 238.5a0.5 0.5 0 1 0 0.9 0a0.5 0.5 0 1 0 -0.9 0M540.9 233.5a0.9 0.9 0 1 0 1.7 0a0.9 0.9 0 1 0 -1.7 0M541.6 210.8a0.6 0.6 0 1 0 1.2 0a0.6 0.6 0 1 0 -1.2 0M505.1 226.8a0.8 0.8 0 1 0 1.6 0a0.8 0.8 0 1 0 -1.6 0M495.7 237.7a0.7 0.7 0 1 0 1.3 0a0.7 0.7 0 1 0 -1.3 0M526.5 241.5a0.6 0.6 0 1 0 1.3 0a0.6 0.6 0 1 0 -1.3 0M533.2 235.4a0.9 0.9 0 1 0 1.9 0a0.9 0.9 0 1 0 -1.9 0M478.3 214.4a0.8 0.8 0 1 0 1.6 0a0.8 0.8 0 1 0 -1.6 0M534.8 211.9a0.6 0.6 0 1 0 1.2 0a0.6 0.6 0 1 0 -1.2 0M522.8 252.3a0.7 0.7 0 1 0 1.5 0a0.7 0.7 0 1 0 -1.5 0M519.7 261.4a0.7 0.7 0 1 0 1.5 0a0.7 0.7 0 1 0 -1.5 0M496.9 221.3a0.6 0.6 0 1 0 1.2 0a0.6 0.6 0 1 0 -1.2 0M529.5 260.6a0.6 0.6 0 1 0 1.3 0a0.6 0.6 0 1 0 -1.3 0M486.4 267.9a0.5 0.5 0 1 0 1 0a0.5 0.5 0 1 0 -1 0M497.5 233.4a0.8 0.8 0 1 0 1.6 0a0.8 0.8 0 1 0 -1.6 0M471.9 249.9a0.5 0.5 0 1 0 0.9 0a0.5 0.5 0 1 0 -0.9 0M483.9 235.5a0.8 0.8 0 1 0 1.7 0a0.8 0.8 0 1 0 -1.7 0M483.2 248.3a0.5 0.5 0 1 0 0.9 0a0.5 0.5 0 1 0 -0.9 0M480.5 227.3a0.5 0.5 0 1 0 1 0a0.5 0.5 0 1 0 -1 0M528.5 243.5a0.9 0.9 0 1 0 1.7 0a0.9 0.9 0 1 0 -1.7 0M503.7 242.5a0.5 0.5 0 1 0 0.9 0a0.5 0.5 0 1 0 -0.9 0M538 227.8a0.8 0.8 0 1 0 1.5 0a0.8 0.8 0 1 0 -1.5 0M531.9 233.4a0.6 0.6 0 1 0 1.2 0a0.6 0.6 0 1 0 -1.2 0M525.2 257.4a0.9 0.9 0 1 0 1.8 0a0.9 0.9 0 1 0 -1.8 0M498.7 229.3a0.7 0.7 0 1 0 1.4 0a0.7 0.7 0 1 0 -1.4 0M512.7 249.4a0.9 0.9 0 1 0 1.7 0a0.9 0.9 0 1 0 -1.7 0M515.3 224a0.8 0.8 0 1 0 1.7 0a0.8 0.8 0 1 0 -1.7 0M526.5 259.3a0.5 0.5 0 1 0 1 0a0.5 0.5 0 1 0 -1 0M498.5 260.3a0.6 0.6 0 1 0 1.3 0a0.6 0.6 0 1 0 -1.3 0M480.5 211.1a0.8 0.8 0 1 0 1.6 0a0.8 0.8 0 1 0 -1.6 0M471 229.7a0.7 0.7 0 1 0 1.4 0a0.7 0.7 0 1 0 -1.4 0M481.2 236.4a0.8 0.8 0 1 0 1.6 0a0.8 0.8 0 1 0 -1.6 0M474 228.4a0.8 0.8 0 1 0 1.6 0a0.8 0.8 0 1 0 -1.6 0M514.9 242.8a0.6 0.6 0 1 0 1.2 0a0.6 0.6 0 1 0 -1.2 0M495.1 265.2a0.7 0.7 0 1 0 1.4 0a0.7 0.7 0 1 0 -1.4 0M490.3 237.2a0.5 0.5 0 1 0 1 0a0.5 0.5 0 1 0 -1 0M511.1 265.7a0.8 0.8 0 1 0 1.6 0a0.8 0.8 0 1 0 -1.6 0M469.2 259.7a0.5 0.5 0 1 0 1.1 0a0.5 0.5 0 1 0 -1.1 0M471.4 225.6a0.7 0.7 0 1 0 1.4 0a0.7 0.7 0 1 0 -1.4 0M469 268.6a0.7 0.7 0 1 0 1.3 0a0.7 0.7 0 1 0 -1.3 0M469.2 250a0.9 0.9 0 1 0 1.9 0a0.9 0.9 0 1 0 -1.9 0M470.6 218.4a0.5 0.5 0 1 0 1 0a0.5 0.5 0 1 0 -1 0M496 231.8a0.5 0.5 0 1 0 0.9 0a0.5 0.5 0 1 0 -0.9 0M540.3 255.1a0.6 0.6 0 1 0 1.2 0a0.6 0.6 0 1 0 -1.2 0M515.3 237.7a0.9 0.9 0 1 0 1.7 0a0.9 0.9 0 1 0 -1.7 0M486.4 266.5a0.8 0.8 0 1 0 1.6 0a0.8 0.8 0 1 0 -1.6 0M515.1 243a0.8 0.8 0 1 0 1.6 0a0.8 0.8 0 1 0 -1.6 0M470.4 262.6a0.7 0.7 0 1 0 1.4 0a0.7 0.7 0 1 0 -1.4 0M483.3 230.5a0.8 0.8 0 1 0 1.6 0a0.8 0.8 0 1 0 -1.6 0M527.1 221.9a0.6 0.6 0 1 0 1.3 0a0.6 0.6 0 1 0 -1.3 0M542.2 212.6a0.6 0.6 0 1 0 1.3 0a0.6 0.6 0 1 0 -1.3 0M539.5 252.4a0.7 0.7 0 1 0 1.4 0a0.7 0.7 0 1 0 -1.4 0M502 213a0.8 0.8 0 1 0 1.7 0a0.8 0.8 0 1 0 -1.7 0M493.7 213.3a0.9 0.9 0 1 0 1.9 0a0.9 0.9 0 1 0 -1.9 0M475.1 237.1a0.8 0.8 0 1 0 1.6 0a0.8 0.8 0 1 0 -1.6 0M508.9 232.6a0.8 0.8 0 1 0 1.6 0a0.8 0.8 0 1 0 -1.6 0M487 251.2a0.7 0.7 0 1 0 1.3 0a0.7 0.7 0 1 0 -1.3 0M540.6 260.3a0.6 0.6 0 1 0 1.1 0a0.6 0.6 0 1 0 -1.1 0M535 235.6a0.6 0.6 0 1 0 1.2 0a0.6 0.6 0 1 0 -1.2 0M479.9 219.4a0.5 0.5 0 1 0 0.9 0a0.5 0.5 0 1 0 -0.9 0M485 232.2a0.8 0.8 0 1 0 1.6 0a0.8 0.8 0 1 0 -1.6 0M535.7 250.5a0.9 0.9 0 1 0 1.9 0a0.9 0.9 0 1 0 -1.9 0M539 261.2a0.6 0.6 0 1 0 1.2 0a0.6 0.6 0 1 0 -1.2 0M472 244.5a0.6 0.6 0 1 0 1.3 0a0.6 0.6 0 1 0 -1.3 0M541.4 210.3a0.9 0.9 0 1 0 1.8 0a0.9 0.9 0 1 0 -1.8 0M489.6 249.8a0.8 0.8 0 1 0 1.6 0a0.8 0.8 0 1 0 -1.6 0M504.2 255.5a0.9 0.9 0 1 0 1.7 0a0.9 0.9 0 1 0 -1.7 0M477.6 258.1a0.9 0.9 0 1 0 1.9 0a0.9 0.9 0 1 0 -1.9 0M529.9 244.5a0.7 0.7 0 1 0 1.5 0a0.7 0.7 0 1 0 -1.5 0M476.1 242.7a0.6 0.6 0 1 0 1.2 0a0.6 0.6 0 1 0 -1.2 0M486.1 265a0.6 0.6 0 1 0 1.2 0a0.6 0.6 0 1 0 -1.2 0M483.4 260.7a0.7 0.7 0 1 0 1.4 0a0.7 0.7 0 1 0 -1.4 0M533.7 219.3a0.9 0.9 0 1 0 1.8 0a0.9 0.9 0 1 0 -1.8 0M499.7 262.3a0.8 0.8 0 1 0 1.5 0a0.8 0.8 0 1 0 -1.5 0M494.2 230.3a0.5 0.5 0 1 0 1 0a0.5 0.5 0 1 0 -1 0M509.6 213.2a0.9 0.9 0 1 0 1.8 0a0.9 0.9 0 1 0 -1.8 0M487.9 228.1a0.6 0.6 0 1 0 1.3 0a0.6 0.6 0 1 0 -1.3 0M504.4 264.7a0.5 0.5 0 1 0 1 0a0.5 0.5 0 1 0 -1 0M494.9 241.5a0.7 0.7 0 1 0 1.4 0a0.7 0.7 0 1 0 -1.4 0M533.6 241.4a0.8 0.8 0 1 0 1.6 0a0.8 0.8 0 1 0 -1.6 0M518.4 231.3a0.7 0.7 0 1 0 1.3 0a0.7 0.7 0 1 0 -1.3 0M484.1 215.7a0.9 0.9 0 1 0 1.9 0a0.9 0.9 0 1 0 -1.9 0M518.7 215.9a0.9 0.9 0 1 0 1.7 0a0.9 0.9 0 1 0 -1.7 0M499 233.8a0.8 0.8 0 1 0 1.7 0a0.8 0.8 0 1 0 -1.7 0M490.6 250a0.8 0.8 0 1 0 1.7 0a0.8 0.8 0 1 0 -1.7 0M518.6 218.8a0.5 0.5 0 1 0 1 0a0.5 0.5 0 1 0 -1 0M524.7 245.6a0.6 0.6 0 1 0 1.3 0a0.6 0.6 0 1 0 -1.3 0M538.1 242.2a0.9 0.9 0 1 0 1.9 0a0.9 0.9 0 1 0 -1.9 0M482.1 258.9a0.9 0.9 0 1 0 1.9 0a0.9 0.9 0 1 0 -1.9 0M481.3 220.9a0.7 0.7 0 1 0 1.4 0a0.7 0.7 0 1 0 -1.4 0M492.6 244.3a0.5 0.5 0 1 0 1 0a0.5 0.5 0 1 0 -1 0M471.6 214.5a0.5 0.5 0 1 0 1 0a0.5 0.5 0 1 0 -1 0M494 256.4a0.7 0.7 0 1 0 1.5 0a0.7 0.7 0 1 0 -1.5 0M480.6 244.8a0.9 0.9 0 1 0 1.9 0a0.9 0.9 0 1 0 -1.9 0M540.1 217a0.8 0.8 0 1 0 1.6 0a0.8 0.8 0 1 0 -1.6 0M475.1 260.9a0.6 0.6 0 1 0 1.2 0a0.6 0.6 0 1 0 -1.2 0M515.6 264a0.7 0.7 0 1 0 1.3 0a0.7 0.7 0 1 0 -1.3 0M492.3 212.2a0.8 0.8 0 1 0 1.6 0a0.8 0.8 0 1 0 -1.6 0M518.8 249.9a0.5 0.5 0 1 0 1 0a0.5 0.5 0 1 0 -1 0M494 225.4a0.5 0.5 0 1 0 1.1 0a0.5 0.5 0 1 0 -1.1 0M476.8 222.6a0.9 0.9 0 1 0 1.8 0a0.9 0.9 0 1 0 -1.8 0M533.2 245.6a0.6 0.6 0 1 0 1.2 0a0.6 0.6 0 1 0 -1.2 0M493.3 263.3a0.5 0.5 0 1 0 1 0a0.5 0.5 0 1 0 -1 0M477.4 265.9a0.6 0.6 0 1 0 1.2 0a0.6 0.6 0 1 0 -1.2 0M539.8 226.6a0.5 0.5 0 1 0 1 0a0.5 0.5 0 1 0 -1 0M492.3 260.7a0.9 0.9 0 1 0 1.8 0a0.9 0.9 0 1 0 -1.8 0M514 240.8a0.7 0.7 0 1 0 1.3 0a0.7 0.7 0 1 0 -1.3 0M494.4 265.5a0.6 0.6 0 1 0 1.3 0a0.6 0.6 0 1 0 -1.3 0M476.8 244.2a0.6 0.6 0 1 0 1.3 0a0.6 0.6 0 1 0 -1.3 0M492.1 265.9a0.8 0.8 0 1 0 1.6 0a0.8 0.8 0 1 0 -1.6 0M503.3 264.6a0.5 0.5 0 1 0 1.1 0a0.5 0.5 0 1 0 -1.1 0M482.2 267.6a0.5 0.5 0 1 0 1 0a0.5 0.5 0 1 0 -1 0M524 226.1a0.5 0.5 0 1 0 1 0a0.5 0.5 0 1 0 -1 0M539.1 252.3a0.6 0.6 0 1 0 1.2 0a0.6 0.6 0 1 0 -1.2 0M484.1 252.1a0.8 0.8 0 1 0 1.7 0a0.8 0.8 0 1 0 -1.7 0M490.7 211.1a0.6 0.6 0 1 0 1.3 0a0.6 0.6 0 1 0 -1.3 0" stroke="#EEB8EA" stroke-width="0.4" fill="none" opacity="0.7"/><g stroke="#F4DAF2" stroke-linecap="round" fill="none" opacity="0.9"><path stroke-width="0.4" d="M493.7 231.4h0M510.2 216.9h0M511.8 247.6h0M479.4 263.5h0M487.9 209.3h0M519.4 234.1h0M473.5 232.4h0M472.3 261h0M474.7 225.7h0M481.2 254.1h0M494.5 236.6h0M478.5 246.5h0M537.7 250.1h0M479.6 249.2h0M513.4 211h0M537.1 234.8h0M502.9 255.3h0M507.3 261.5h0M527.1 235.2h0M479.2 240.8h0M474.9 231.3h0M504.8 249.9h0M501.5 264.2h0M470.3 215.8h0M496.1 219.5h0M515.6 233.6h0M505.4 209h0M536.9 268.2h0M505.3 243.3h0M519.4 254.6h0M543.7 215.8h0M509.4 221h0M492.7 231h0"/><path stroke-width="0.8" d="M510 227.2h0M504.4 221.9h0M486.6 219.5h0M487.5 215.6h0M483.2 249.9h0M485.9 263.6h0M528.1 256.3h0M485.9 226.3h0M524.2 216.2h0M513.4 244.2h0M486.7 237.7h0M515.2 217.9h0M506.7 257.9h0M526.5 250.1h0M516.8 250.1h0M499.2 251.9h0M479.9 268h0M541.9 233.8h0M515.1 266.2h0M512.2 251.5h0M491 215.7h0M516.2 221.9h0M504 229.5h0M539.1 241.2h0M477.7 209.8h0M530.4 238.4h0M542.8 211.1h0M493.5 252.9h0M513.1 265.2h0M540.7 242.9h0M511.8 210.2h0M514.7 213.2h0M491.3 233h0M511.9 215.5h0M474.6 245.8h0M513 223.2h0M507.5 219.1h0M478.5 217.6h0M488.4 216.2h0M527.7 254.9h0M542.4 264.5h0M540.4 256.4h0M478.6 257.5h0M539.4 234.8h0M534.5 234.4h0M525.4 221.2h0M529.4 268.1h0M469.6 248.7h0M500.4 217h0M489.8 212.1h0M535 233h0M473.1 252.9h0M522.5 214.7h0M493.1 209.3h0M508.6 238.9h0M502.8 237.3h0M499.5 222.7h0M518 237.8h0M525.3 217h0M535 221h0M510.9 211.1h0M505.8 256.4h0M525.1 213.5h0M500.7 231.3h0M494.4 251.4h0M469.6 234.5h0M518.2 259h0M536.3 264.7h0M506.1 218.1h0M537.3 234.3h0M491.5 220.4h0M513.5 211.2h0M476.6 239h0M527.3 243.1h0M525.7 263.5h0M475.2 248.1h0M476.8 216.6h0M526 261.8h0M482.9 211.3h0M499.8 249.8h0M516.8 267.9h0M541.8 246.9h0M479.4 238h0M539.3 246.7h0M472.2 266.5h0M487.4 251.1h0M529.6 267.3h0M503.2 261.1h0M528.6 255.7h0M540.6 210.7h0M483.4 242.8h0M511.6 263.3h0M541.1 263.6h0M499.4 222.8h0M495 257.2h0M481.8 244.7h0M475 237.1h0M505.8 262.7h0M533.6 239.6h0M538.5 264.6h0M471.6 250.2h0M494.3 223.6h0M527 217.7h0M493.5 225.7h0M470.7 229.1h0M541.9 251.3h0M507.7 263h0M507.4 216.7h0M487.1 237h0M537.5 252.3h0M482.4 249.5h0M520.3 208.8h0M493.6 233.3h0M528 240.6h0M512.7 242.7h0M492.9 225.2h0M535.5 230.8h0M470.6 224h0M481.3 243.6h0M477.6 228.2h0M520.8 218.4h0M541.2 244.7h0M530.7 258h0M529.5 250.7h0M520.7 256.4h0M529.6 261.1h0M477.4 264.1h0M513.1 252.4h0M538.8 242.8h0M481.9 221.9h0M522.1 238.5h0M508.9 221.2h0M536.6 229.5h0"/><path stroke-width="1.2" d="M479.6 251.6h0M470.6 257.1h0M538.5 222.1h0M469.6 267.3h0M537.4 269h0M530.2 219.1h0M493.7 257.7h0M505.1 258.4h0M486.7 262.7h0M506.3 215.3h0M539.1 235.8h0M504.1 241.4h0M521.9 229.2h0M531.8 252.5h0M534.5 228.8h0M483.3 264.7h0M484.5 264.7h0M470.8 251.7h0M482.8 259.6h0M530.8 244.3h0M493.3 233.4h0M521.2 218h0M480.5 240.5h0M490.4 247.3h0M484.7 214.9h0M474.2 263.2h0M477.1 264.7h0M488.4 263h0M492.8 263.2h0M474.6 234.9h0M536 253h0M541 225h0M474.1 256.8h0M495 243.2h0"/></g><g stroke="#7A2A9A" stroke-linecap="round" fill="none" opacity="0.6"><path stroke-width="0.8" d="M478.2 237.6h0M502.3 217.3h0M526.1 217.4h0M509.4 217.2h0M511.9 261.6h0M521 254.2h0M483.8 238.4h0M477.3 248.2h0M515.3 268.9h0M487.8 214.9h0M527.5 254.6h0M493.5 241.6h0M524.2 213.9h0M479.8 264.9h0M476.9 239.9h0M502.3 252.8h0M500.7 261.8h0M475.5 214.1h0M514.5 220.6h0M539.5 247.9h0M515 224.9h0"/><path stroke-width="1.2" d="M479.1 223.5h0M472.9 239.4h0M511.3 253h0M475.1 263.8h0M508.5 213h0M484.4 243h0M470.1 257.2h0M486.9 253h0M481.3 266.8h0"/></g></g></g><clipPath id="c11"><rect x="542.9" y="210.8" width="70.5" height="56.4"/></clipPath><g clip-path="url(#c11)"><g filter="url(#bl)"><rect x="540.9" y="208.8" width="74.5" height="60.4" fill="#C42EA8"/><g stroke="#F6F2FA" stroke-linecap="round" fill="none"><path stroke-width="0.8" d="M589.7 247.8h0M612.3 252.5h0M607.7 214.6h0M583.1 240.2h0M557 251.7h0M603 244.3h0M587.7 263h0M562.1 258.3h0M552.1 241.1h0M552.2 248.6h0M597.7 236h0M547.1 220.9h0M591.3 246.9h0M542.3 262.3h0M606.5 218.7h0M582.4 229.1h0M579 249.2h0M546.2 264.5h0M578.9 251.8h0M548.6 242.7h0M554.5 262h0M562.2 212.8h0M567.4 210.3h0M606.4 235.8h0M557.8 233.6h0M551 225.8h0M577 260.8h0M543.5 237.9h0"/><path stroke-width="1.2" d="M606.6 255.2h0M586.7 225.6h0M552.7 244.7h0M550.4 268.1h0M545.4 263.5h0M555.2 212.5h0M591.4 244.5h0M571.7 209.3h0M548.6 266.7h0M590.5 215.2h0M570.8 250.7h0M560.3 253.7h0M568.8 214.1h0M562.4 248.2h0M542.5 216.9h0M571.6 209h0M578.7 265h0M612.5 244.2h0M564 212.8h0M562.9 217.9h0M551.8 218.9h0M592.9 234.4h0M601.9 255.6h0M564.1 231.7h0M603.6 257.3h0M564.9 232.7h0M561.9 262h0M577.3 215.8h0M563.4 231.9h0M567.8 249.4h0M555.1 259.3h0M550.7 235.7h0M574.7 263.7h0M556.2 252.8h0M584.6 257.3h0M590.6 227.3h0M548 210.7h0M544.9 210.4h0M609.7 259.8h0M550.4 245.6h0M604.1 238.9h0M589.1 215h0M579.1 245.8h0M589.7 212.1h0M571.9 268.3h0M548.7 222.8h0M568.1 214.4h0M599.9 237.8h0M602.3 222.9h0M575.8 262.4h0M574.2 209.5h0M584.3 212.1h0M608.2 233h0M551.2 245.1h0M609.9 255.1h0M554.8 218.3h0M608.6 264h0"/><path stroke-width="1.6" d="M574.1 255.7h0M588.3 243.9h0M546.6 247.1h0M603.9 259.7h0M587.7 209.2h0M588.5 212.3h0M598.3 257.3h0M548.4 212.6h0M597.2 209.7h0M551.2 239.2h0M574 229h0M592.6 241.2h0M571 214.6h0M595.5 233.3h0M584.8 268.2h0M578.4 254h0M552.6 255.8h0M569.2 268.2h0M611.6 211.1h0M561.3 210.9h0M607.3 256.3h0M583.3 214.4h0M555.4 224.8h0M573.2 245h0M568.7 225h0M557.1 215.9h0M574.1 247.9h0M548.2 228.5h0M608 212.5h0M605.1 208.9h0M590.6 243h0M613.3 242.7h0M557.5 215.6h0M604.2 255.9h0M613.9 231.6h0M584.4 208.8h0M609.5 245.7h0M548.3 255.6h0M556 228.8h0M586.1 268.9h0M599.4 252.4h0M580.1 266.6h0M566.7 249.1h0M567.2 234.1h0M553.8 235.9h0M581.4 253.5h0M592.7 214.1h0M611.4 261h0M545.3 216.2h0M612.4 253h0M576 268.5h0M571.4 231.4h0M564.8 253.6h0M561.2 256.4h0M542.3 262.9h0M596.1 257.4h0M547.9 220.5h0M550 241.7h0M548.5 229.8h0M611 262.8h0M552.6 254.4h0M543.9 233.7h0M541.2 229h0M575.7 232h0M606.8 216.1h0"/><path stroke-width="2" d="M557.5 252.7h0M572.8 249.8h0M576.6 248.2h0M574 256.8h0M569.3 211.6h0M542.2 240.4h0M564.1 244.3h0M612.9 236.5h0M555.3 249.2h0M592.5 225.7h0M608.3 246.7h0M593.5 223.7h0M608.8 241.8h0M544 266.1h0M571.8 259.6h0M591.4 257.9h0M585.2 237.3h0M585.8 256.5h0M565 253.9h0M561.1 240.3h0"/><path stroke-width="2.4" d="M605.8 242.7h0M575.8 266.3h0M603.9 249.3h0M548.4 211h0M613.9 245.4h0M556.5 229.7h0M548 239.5h0M596.7 232.7h0M557.7 213.6h0M552.4 236.8h0M541.8 231.3h0M585.8 230.6h0M586.7 251.7h0M588.9 211.4h0M575.6 246.8h0M544.8 231.5h0M595.5 234h0M603.5 214.1h0M551.7 247.7h0M577.3 223.2h0M561.3 248h0M609.3 211h0M567 222.2h0M579.1 245.7h0M607.6 231.2h0M553.8 246.2h0M559.7 265.9h0M611.3 238h0M549.8 244.9h0M566.7 240.8h0M565.1 266h0"/><path stroke-width="2.8" d="M583.3 228.7h0M611.8 209.9h0M579.7 228.3h0M609 208.9h0M580.1 227.9h0M550 228h0M573.4 256.2h0M600.6 214.1h0M572.5 246h0M589 211.7h0M586.8 261.2h0M556 233.7h0M582.8 224.1h0M565.6 220.4h0M544.5 255.9h0M609.5 234h0M580.7 255.9h0M576.3 242.5h0M593.3 222h0M544.5 220.9h0M597.6 251.4h0M551.7 237h0M549.2 223.5h0"/><path stroke-width="3.2" d="M562.7 264.1h0M554 216.9h0M591.6 226.4h0M549.8 222.8h0M567.2 246.6h0M564.6 232h0M563.7 231h0M601.7 220.8h0M583.7 225h0M560.3 226.1h0M549.2 263.6h0M570.5 263h0M565.3 233h0M607.2 211.6h0M604.8 217.2h0M607.3 213.5h0M591.8 222.7h0M541 225.1h0M600.9 262.4h0M549.6 249.2h0M581.9 218.5h0M587.2 212.3h0M567.8 254.7h0M586.8 250h0M557.1 254h0M596 212h0M577.8 247.6h0M612.6 267.3h0M601.6 216.7h0M571.3 258.3h0M549.7 209.8h0"/><path stroke-width="3.6" d="M609.6 215.5h0M543.8 260.4h0M603.9 228.6h0M545 248h0M607.7 265.9h0M551.7 255.1h0M543.6 254.4h0M542.8 258h0M601.5 255.1h0M544.8 262.9h0M595.2 226h0M583.3 225.3h0M614.1 244.1h0M547.7 237.4h0M551.3 261.9h0M557.6 211.3h0M606.7 242.1h0M588.6 231.6h0M570 253.4h0M551.4 249.9h0M564.5 255.1h0M602.2 215.4h0M601 230.1h0M591.3 236.5h0M593.4 213.9h0M614.5 222.7h0M575.9 239.1h0M572.1 256h0M559.8 221.4h0M594.6 241.9h0M579.8 229.4h0M609.9 265h0M580 252.2h0M564.2 232.5h0"/><path stroke-width="4" d="M556.7 268.7h0M567.2 229h0M583 260h0M615 224h0M561.9 218h0M598.8 210.1h0M550 258.7h0M573.2 242.9h0M580.7 221.7h0M608.5 228h0M599.5 222.2h0M585.7 258.5h0M554.5 253.2h0M579.6 214h0M580.3 232.1h0M574.3 260.6h0M586.3 258.9h0M582.1 259.9h0M574.5 225h0M591.2 256h0M542.3 228.1h0M577.9 253.8h0M569.1 233.4h0M541.5 234h0"/><path stroke-width="4.4" d="M543.6 222.7h0M568.1 260.3h0M605 257.5h0M569.7 261.5h0M551.7 219.9h0M548.1 224.2h0M559.7 234.5h0M590 234.6h0M600.8 239.5h0M578.4 249.2h0M568.1 264.7h0M586 247.2h0M596.9 251.8h0M567.1 216.3h0M562.4 259.8h0M574.2 224.2h0M614.4 219.2h0M602.5 221.9h0M584.3 218.6h0M612.5 265.8h0M558.7 247h0M598.5 214.7h0M600 260.7h0M574.6 213.4h0M559 226.3h0M549.6 219.1h0M564.6 262.2h0"/><path stroke-width="4.8" d="M569.9 216.7h0M562.5 265.7h0M574.3 240.1h0"/><path stroke-width="5.2" d="M584.6 261.6h0M581.3 245.9h0"/><path stroke-width="5.6" d="M596.1 267.1h0M543.8 249.9h0M606.2 217h0M547.9 239.9h0"/><path stroke-width="6" d="M607.4 265.6h0M575.6 236.4h0M600.3 250h0M551.3 214.8h0M587.7 261.6h0M562.9 266.1h0M556.1 240.5h0"/><path stroke-width="6.4" d="M544.4 213.9h0M583.5 253.7h0"/><path stroke-width="6.8" d="M544.5 223.3h0M563 237.8h0M568.7 211h0M561.9 266.7h0"/><path stroke-width="7.2" d="M610.8 264.2h0M606.7 238.3h0M578.8 263.5h0M563.4 269.1h0M609.3 209.4h0M603.3 239h0M566.8 239.1h0"/><path stroke-width="7.6" d="M596.1 249.3h0M580.5 229.2h0M593.3 244.8h0M552.3 209.3h0M593.2 236h0M569.2 213.9h0M561.8 248.5h0"/></g><path d="M540.5 223.3a3.9 3.9 0 1 0 7.9 0a3.9 3.9 0 1 0 -7.9 0M567 216.7a2.9 2.9 0 1 0 5.8 0a2.9 2.9 0 1 0 -5.8 0M603.9 265.6a3.5 3.5 0 1 0 7 0a3.5 3.5 0 1 0 -7 0M591.8 249.3a4.3 4.3 0 1 0 8.7 0a4.3 4.3 0 1 0 -8.7 0M559.2 237.8a3.8 3.8 0 1 0 7.5 0a3.8 3.8 0 1 0 -7.5 0M606.8 264.2a4 4 0 1 0 8 0a4 4 0 1 0 -8 0M576.1 229.2a4.3 4.3 0 1 0 8.6 0a4.3 4.3 0 1 0 -8.6 0M592.9 267.1a3.3 3.3 0 1 0 6.5 0a3.3 3.3 0 1 0 -6.5 0M572.1 236.4a3.5 3.5 0 1 0 7 0a3.5 3.5 0 1 0 -7 0M602.8 238.3a4 4 0 1 0 7.9 0a4 4 0 1 0 -7.9 0M574.7 263.5a4.1 4.1 0 1 0 8.2 0a4.1 4.1 0 1 0 -8.2 0M559.3 269.1a4.1 4.1 0 1 0 8.3 0a4.1 4.1 0 1 0 -8.3 0M596.8 250a3.5 3.5 0 1 0 7 0a3.5 3.5 0 1 0 -7 0M547.9 214.8a3.4 3.4 0 1 0 6.8 0a3.4 3.4 0 1 0 -6.8 0M584.2 261.6a3.4 3.4 0 1 0 6.8 0a3.4 3.4 0 1 0 -6.8 0M589 244.8a4.2 4.2 0 1 0 8.4 0a4.2 4.2 0 1 0 -8.4 0M605.4 209.4a4 4 0 1 0 7.9 0a4 4 0 1 0 -7.9 0M559.6 265.7a2.9 2.9 0 1 0 5.9 0a2.9 2.9 0 1 0 -5.9 0M565 211a3.8 3.8 0 1 0 7.5 0a3.8 3.8 0 1 0 -7.5 0M540.7 213.9a3.7 3.7 0 1 0 7.4 0a3.7 3.7 0 1 0 -7.4 0M548.1 209.3a4.2 4.2 0 1 0 8.3 0a4.2 4.2 0 1 0 -8.3 0M599.2 239a4.1 4.1 0 1 0 8.3 0a4.1 4.1 0 1 0 -8.3 0M581.6 261.6a3 3 0 1 0 6 0a3 3 0 1 0 -6 0M540.5 249.9a3.3 3.3 0 1 0 6.6 0a3.3 3.3 0 1 0 -6.6 0M579.9 253.7a3.6 3.6 0 1 0 7.2 0a3.6 3.6 0 1 0 -7.2 0M559.4 266.1a3.4 3.4 0 1 0 6.9 0a3.4 3.4 0 1 0 -6.9 0M571.4 240.1a2.9 2.9 0 1 0 5.8 0a2.9 2.9 0 1 0 -5.8 0M578.2 245.9a3.1 3.1 0 1 0 6.2 0a3.1 3.1 0 1 0 -6.2 0M588.9 236a4.3 4.3 0 1 0 8.5 0a4.3 4.3 0 1 0 -8.5 0M564.9 213.9a4.2 4.2 0 1 0 8.5 0a4.2 4.2 0 1 0 -8.5 0M558 266.7a3.8 3.8 0 1 0 7.7 0a3.8 3.8 0 1 0 -7.7 0M562.8 239.1a4.1 4.1 0 1 0 8.1 0a4.1 4.1 0 1 0 -8.1 0M602.9 217a3.3 3.3 0 1 0 6.6 0a3.3 3.3 0 1 0 -6.6 0M544.6 239.9a3.3 3.3 0 1 0 6.5 0a3.3 3.3 0 1 0 -6.5 0M557.4 248.5a4.3 4.3 0 1 0 8.6 0a4.3 4.3 0 1 0 -8.6 0M552.6 240.5a3.5 3.5 0 1 0 7 0a3.5 3.5 0 1 0 -7 0M581.5 228.7a1.8 1.8 0 1 0 3.5 0a1.8 1.8 0 1 0 -3.5 0M560.5 264.1a2.1 2.1 0 1 0 4.3 0a2.1 2.1 0 1 0 -4.3 0M610.1 209.9a1.8 1.8 0 1 0 3.6 0a1.8 1.8 0 1 0 -3.6 0M607.3 215.5a2.2 2.2 0 1 0 4.5 0a2.2 2.2 0 1 0 -4.5 0M551.9 216.9a2.1 2.1 0 1 0 4.2 0a2.1 2.1 0 1 0 -4.2 0M604.3 242.7a1.6 1.6 0 1 0 3.1 0a1.6 1.6 0 1 0 -3.1 0M554.3 268.7a2.5 2.5 0 1 0 5 0a2.5 2.5 0 1 0 -5 0M577.8 228.3a1.9 1.9 0 1 0 3.9 0a1.9 1.9 0 1 0 -3.9 0M541 222.7a2.6 2.6 0 1 0 5.1 0a2.6 2.6 0 1 0 -5.1 0M565.4 260.3a2.7 2.7 0 1 0 5.4 0a2.7 2.7 0 1 0 -5.4 0M589.5 226.4a2.1 2.1 0 1 0 4.1 0a2.1 2.1 0 1 0 -4.1 0M547.9 222.8a2 2 0 1 0 3.9 0a2 2 0 1 0 -3.9 0M541.7 260.4a2.2 2.2 0 1 0 4.3 0a2.2 2.2 0 1 0 -4.3 0M565.2 246.6a2.1 2.1 0 1 0 4.2 0a2.1 2.1 0 1 0 -4.2 0M562.5 232a2.1 2.1 0 1 0 4.2 0a2.1 2.1 0 1 0 -4.2 0M561.6 231a2.1 2.1 0 1 0 4.2 0a2.1 2.1 0 1 0 -4.2 0M602.4 257.5a2.6 2.6 0 1 0 5.2 0a2.6 2.6 0 1 0 -5.2 0M574.2 266.3a1.6 1.6 0 1 0 3.2 0a1.6 1.6 0 1 0 -3.2 0M602.4 249.3a1.6 1.6 0 1 0 3.2 0a1.6 1.6 0 1 0 -3.2 0M601.6 228.6a2.3 2.3 0 1 0 4.6 0a2.3 2.3 0 1 0 -4.6 0M542.7 248a2.3 2.3 0 1 0 4.7 0a2.3 2.3 0 1 0 -4.7 0M564.7 229a2.5 2.5 0 1 0 5 0a2.5 2.5 0 1 0 -5 0M607 208.9a1.9 1.9 0 1 0 3.8 0a1.9 1.9 0 1 0 -3.8 0M578.2 227.9a1.9 1.9 0 1 0 3.9 0a1.9 1.9 0 1 0 -3.9 0" stroke="#3A30A8" stroke-width="0.8" fill="none" opacity="0.55"/><path d="M607.7 229l-1.9 2.5M599.8 247l1.9 2.6M584.1 259l-3.6 -2.9M563.9 260.3l-3.3 -2.9M562 243.3l-1.5 3.3M611 235.6l1.3 3.4M557.9 251.6l1.1 4.7M575.5 233.9l-5.2 -2.9M585.1 221.4l-1.1 2.3M588.1 263.7l2.9 1.2M549.4 240.7l1.3 -2.2M602.6 232.9l-4.3 -1M610.7 265.7l4.3 -0.5M612.2 256.3l-3.9 -2M564 218.2l-2.9 0.8M541 265.1l1.4 5.7M578.2 224.4l-1.9 1.4M582.1 227.6l2.9 0M572 264.2l1 5.2M573.6 229.7l-3.1 2.6M564.8 245.7l0.2 -5.5M572.1 244l2.4 3.3M606.6 220.2l1.8 0.9M559.7 231.5l-3.4 -1M614.3 243l2.1 -2.1M559.2 241.4l4.8 0.1M564.6 251.9l-5.3 -0.5M556 265.5l3.6 -0.5M583.9 209.1l-3.4 -1.4M598.9 253.6l-1.7 -5.7M542.4 229.4l-4.3 -3.6M564.7 255.8l1.5 -3.6M592.9 254l-2.8 -4.6M545.2 259l4.1 1.4M567.7 240.6l1.7 -2.6M578.4 254.3l-4.1 -0.9M586.5 267.7l3.3 1.8M601.6 211.1l0.6 -3.4M554.1 254.8l-1.9 -4.5M596.6 254l5.4 -0.3M545.8 214l-2 -2.7M565.8 263.9l0.2 3.7M613.1 249.5l-2.3 -1.6M600.8 233.4l3.4 -0.9M569.9 234.1l4.2 -2.6M586.1 211.1l1.8 2.8M594.8 229.6l-2.2 3M542 257.9l-1.9 5.5M608.7 244.3l-4 -2.8M545.5 268.8l-3.4 -2.5" stroke="#3E36B4" stroke-width="0.8" fill="none" stroke-linecap="round" opacity="0.8"/><g stroke="#7A3AB0" stroke-linecap="round" fill="none" opacity="0.8"><path stroke-width="0.8" d="M579.5 228.3h0M563 232h0M581.6 245.7h0M599.1 253.7h0M557.1 248.9h0M608.1 209.7h0M562.4 252.7h0M572.2 268.4h0M589.2 247.2h0M548.9 225.2h0M565.4 232.2h0M599 221.3h0M568.8 235h0M590.7 212.8h0M544.7 258.5h0M603.7 256.3h0M586.3 234.5h0M585.1 246h0M576.6 223.7h0M586.5 225.2h0M614.9 236.8h0M568 246.2h0"/><path stroke-width="1.2" d="M593.1 244.1h0M575.7 250.6h0M555.4 212.7h0M546.5 230.8h0M584.6 265.9h0M572.9 246.3h0M606 234.9h0M583.6 258.9h0M599.8 240h0M547.9 236.1h0M556.1 241.3h0M608.3 242.3h0M552.5 226.9h0M598.7 209.9h0M543.4 209.8h0M547.7 245.7h0M543 252h0M546.8 236.2h0"/></g></g></g><clipPath id="c12"><rect x="614.5" y="210.8" width="70.5" height="56.4"/></clipPath><g clip-path="url(#c12)"><g filter="url(#bl)"><rect x="612.5" y="208.8" width="74.5" height="60.4" fill="#D652BC"/><g stroke="#C436AC" stroke-linecap="round" fill="none" opacity="0.6"><path stroke-width="1.2" d="M621.6 212h0M669.1 261.9h0M615.8 267.5h0M671.7 216.6h0M683.1 266.7h0M631.1 256.2h0M666.1 210.4h0M620.4 218.7h0M647.1 245.2h0M667.9 248.7h0M617.6 244h0M638 252.9h0M618.4 242.2h0M637.6 237.2h0M653.1 214.6h0M618.7 210.4h0M669.3 216h0M637.6 244.5h0M667.2 252.4h0M618.4 251.3h0M632.1 244.1h0M624 260.6h0M655.3 262.1h0M653.2 224.2h0M682.6 256.1h0M672.6 219.9h0M642.9 261.2h0M666.5 235.8h0M668.5 227.3h0M680.7 252.6h0M621.6 253.1h0"/><path stroke-width="1.6" d="M621.2 266.2h0M650.6 227.4h0M645.8 248.4h0M619.3 252.5h0M665.3 264.1h0M659.9 227.4h0M652.4 248.8h0M669.6 253.5h0M618.5 239.4h0M622.9 233.4h0M656.3 264.3h0M681.1 240.9h0M676.6 259h0M652.7 251.4h0M649.7 269.1h0M664.7 250.8h0M660.9 241h0M667.3 245.6h0M666.9 253.4h0M617.4 217.9h0M619.6 209.3h0M665.9 236.7h0M620.4 216.1h0M615.7 226h0M622.2 220.5h0M679.7 226h0M648.9 259.4h0M659.9 266.7h0M638.4 225.6h0M683.2 223.6h0M644 213.2h0M650.6 227.3h0M654.3 210h0M681.6 217.3h0M653.2 234.5h0M617.8 232.3h0"/><path stroke-width="2" d="M679 211.2h0M622.8 258.2h0M631.8 251.2h0M644.2 228.3h0M676 258.5h0M657 236.2h0M634.9 218.1h0M665.5 222.5h0M651 216.2h0M615.2 237.9h0M673.5 225.7h0M619 264.8h0M614.5 246h0M651 233.8h0M666.7 252.5h0M680.1 232.1h0M635.9 225.1h0M620.6 258.7h0M670.3 263h0M630 220.8h0M646.7 264.3h0M647.3 245h0M667.6 244.1h0"/><path stroke-width="2.4" d="M635.9 245.7h0M618.5 231.6h0M615.1 209h0M664.9 219.4h0M678 213.9h0M678.2 234.1h0M652.9 250.7h0M651.4 261.7h0M649.6 213.3h0M644.1 209.7h0M673.9 261.8h0M650.8 262.5h0M642.6 255.2h0M660.8 268.8h0M623.1 214h0M632.1 265.8h0M666.8 225.9h0M660.7 217.8h0M682.1 224h0M619 232.9h0"/></g><g stroke="#F8E6F6" stroke-linecap="round" fill="none" opacity="0.95"><path stroke-width="0.8" d="M677.3 221.1h0M649.2 246h0M672.7 248h0M670.7 214.4h0M686.6 234.9h0M664.9 221h0M650.2 263.5h0M681.9 263.9h0M649.7 246.6h0M649.3 213.7h0M652 250.4h0M654.2 266.8h0M619.5 234.4h0M647.7 233.4h0M632.8 225.3h0M612.6 231.9h0M648.8 237.6h0M653.6 217.7h0M652.6 228.8h0M657.7 217h0M618.1 256.2h0M665 242.5h0M670.5 238.9h0M635.9 258.8h0M633.2 225.4h0M659.3 217.1h0M634.5 220.8h0M649.4 215.9h0M674.9 209.8h0M644.3 234h0M658.2 247.3h0M617.8 263h0M648 240.5h0M675.1 256.1h0M613.5 213.9h0M617.8 263.7h0M622.2 214h0M614.5 250.5h0M631.6 227.8h0M656.3 229.4h0M679.9 251.1h0M633.3 235.5h0M665.2 209.2h0M659.6 218.8h0M635.5 218.1h0M652.6 215.5h0M668.3 261.8h0M685.6 211.9h0M653.6 266.7h0M671.3 244.6h0M624.3 243.3h0M686.9 240h0M672.5 257.5h0M680.3 248.4h0M636.1 226.8h0M678.3 223.2h0M617.4 228.9h0M683.8 236.5h0M645.2 242.8h0M676.1 213.5h0M686.3 220h0M640.7 257h0M649.8 239.9h0"/><path stroke-width="1.2" d="M683.9 238.2h0M674.1 237.7h0M630.3 252.6h0M650.4 265.3h0M670.2 250.8h0M628.5 248.1h0M656.6 266.8h0M682.1 250.9h0M648.4 213.7h0M617.7 233.8h0M655.6 209.5h0M652.9 235.1h0M678 263.4h0M684 240.3h0M677.3 262.2h0M682.5 263.6h0M639.5 239.9h0M674.3 243.5h0M640 266.7h0M621.4 218.1h0M617.3 257.6h0M683.7 229.9h0M623.7 242.4h0M646.4 263h0M680.7 227.5h0M641.8 220.5h0M623.4 241.6h0M680.6 236.1h0M659.2 215.1h0M624.9 266.2h0M664.4 266.1h0M686.5 244.2h0M674.8 254.8h0M667.3 250.5h0M622.4 241.8h0M643.5 251.3h0M686 247h0M629.8 257.5h0M641 240h0M621.3 228h0M667.2 235.9h0M634.1 209.9h0M677.4 262.7h0M670.7 265.3h0M679.8 247.2h0M620.7 260.1h0M656.9 227.8h0M658.8 228h0M627.9 237.8h0M686.3 209.5h0M635.9 235.2h0M681.4 253.9h0M622 249.5h0M651.6 225.8h0M662 225.8h0M617.1 230.1h0M629.8 268h0M639.4 230.1h0M669.1 231.3h0M672.8 252.1h0M614.1 261.9h0M674 264.4h0M660.7 252.5h0M631.3 262.5h0M634.4 227.7h0M647.7 259.9h0M646.4 232.6h0M617.9 209.6h0M631.6 253.9h0M666 239.6h0M618.1 239.3h0M624.1 252.7h0M651.3 253.7h0M643.9 244.3h0M645.3 252.1h0M634.6 255.7h0M620.9 241.6h0M632.2 261.6h0M636.8 240.3h0M659.8 249.4h0M648.5 254.6h0M626.6 249.5h0M686.7 267.1h0M679.4 216.2h0M658.5 233.2h0M615.1 228.1h0M649.3 233.4h0M657.9 256.7h0M660.3 212.1h0M670.5 218.7h0M639.8 247.8h0M647.9 244.4h0M625 215h0M644.1 259.5h0M648 221.7h0M662.2 213.1h0M673.8 256.8h0M653.1 233.7h0M619.2 250.1h0M680.8 229h0M658.6 224.6h0M668.4 230.4h0M618.1 226.4h0M638.2 254.8h0M612.7 208.9h0M672.8 257.4h0M623.9 218.3h0M639.6 268.7h0M631 221.6h0M657 210.1h0M614.1 265.9h0M645.3 256.4h0M635.6 212.7h0M640.4 233.8h0M628.3 242.7h0M616.8 249.3h0M662 243.6h0M612.6 219.9h0M664 266.4h0M622.5 263h0M643.1 214h0M616.3 241.2h0M678.8 233.8h0M667.2 249.8h0M625.2 215.3h0M633.1 250.7h0M645.1 220.8h0M650.7 222.1h0M649.2 254.3h0M683.5 231.9h0M625.1 225h0M643.6 268.8h0M657.7 215.4h0M668.6 267h0M637.1 214.3h0M616.6 260h0M633.3 232.6h0M647.8 217h0M661.5 215.9h0M675.5 257h0M618.8 229.2h0M632.8 252.7h0M632.3 250.7h0M628.6 220.9h0M672.4 217.6h0M669 209.1h0M654.2 211.3h0M642.3 230h0M677.4 215.8h0M667.6 264.7h0M658.6 237.7h0"/><path stroke-width="1.6" d="M684.4 236.3h0M663.7 229.6h0M628.5 268.6h0M652.5 259.8h0M616.8 249.4h0M633.2 241.1h0M629.8 220.3h0M640.2 252h0M657 268.2h0M631.2 245.2h0M627.4 221.7h0M612.7 247.1h0M632.9 211h0M625 250.7h0M639.1 230.1h0M637.4 250.2h0M678.4 255.2h0M679.4 265.4h0M630.5 222.7h0M660.1 225.6h0M614.1 225.8h0M654.3 231.4h0M655.7 231.3h0M615.9 221.2h0M667.1 230.4h0M630.4 239.2h0M649.3 213.7h0M655.2 255h0M669.4 266.3h0M685 248.1h0M661.4 263.9h0M622.3 216.3h0M631.9 231.8h0M669.9 242.8h0M623.9 260.6h0M677.1 245.1h0M645.9 228.5h0M661.6 261.7h0M648.1 219h0M631.3 264h0M669.6 216.6h0M637.5 211.2h0M679 218h0M665 255.1h0M640.7 229.4h0M656.1 244.7h0M652.3 219.6h0M631 264.1h0M676.6 218.8h0M659.3 214.2h0M673.2 246.1h0M622.1 255.7h0M616.5 256.2h0M628.6 268.7h0M636.7 255.8h0M625.2 267.3h0M665.8 218.5h0M616.2 228.1h0M681.1 259.6h0M632.9 241.9h0M678.6 211.6h0M670.3 262.4h0M643.2 253.6h0M666.4 248.1h0M686.2 259.2h0M681.7 247.3h0M657.9 269.1h0M669.6 268.6h0M660.5 262.9h0M660.3 218h0M657 235.9h0M648.1 232.4h0M647.5 231.7h0M686.9 231.5h0M656.2 218.3h0M657.1 212.9h0M675.2 262.7h0M651.2 218.6h0M619.1 224.5h0M631.6 227.9h0M679.8 226.9h0M669.3 259.6h0M677.6 225.9h0M679.9 215.2h0M653.6 217.2h0M645.4 257.1h0M665.6 230.3h0M639.1 247h0M640.4 227.5h0M627.2 248.6h0M635.6 220.2h0M651.2 212.6h0M658.5 248.5h0M623.9 267.4h0M637.3 236.3h0M676.9 231.5h0M674 250.1h0M639.6 237.4h0M640.7 215.4h0M669.2 229.4h0M662.9 228.2h0M616.6 210.1h0M627.2 233.2h0M660.8 234h0M617.9 239.6h0M650 242.6h0M675.8 255h0M664.6 266.8h0M642 213.2h0M663.8 269h0M675.2 259.1h0M635.4 229.5h0M670.4 218.4h0M686.8 231.7h0M651.8 208.8h0M684.3 240.8h0M664.9 261.2h0M641.2 253.9h0M618 248.7h0M628.6 257.1h0M648.7 261h0M676 213.7h0M667.7 241.2h0M675.3 224h0M680.8 217.5h0M626.7 243.3h0M636 244.6h0M655 263.1h0M681.5 256.8h0M685 252.3h0M638.2 221.2h0M627.7 262.6h0M631.9 268.1h0M613.3 212.3h0M666 246.4h0M661.2 258.6h0M650.9 262.9h0M669.4 261.1h0M641 217.5h0M663.3 245.3h0M620.5 263.2h0M656.6 223.7h0M668.8 267.7h0M615.1 264.6h0M634.4 239h0M641 249.6h0M612.8 233.4h0M636.7 232.9h0M679.5 242.7h0M628.6 219h0M671.9 235.2h0M675.9 213.1h0M629 236.1h0M681.5 255.5h0M682 221.6h0M638.7 265.8h0M638.5 226.4h0M682.8 255.6h0M648.3 237.4h0M654.3 213.8h0M629.3 219.9h0M622 236.1h0M650.3 209.4h0M613 262.8h0M659.8 262.9h0M664.8 243.7h0M630 210.3h0"/><path stroke-width="2" d="M654.3 254.9h0M685.9 223.2h0M639.9 261.6h0M643.1 246.3h0M647.2 229.6h0M652.2 238.9h0M684.3 249.9h0M678.2 260.2h0M624.6 232.5h0M670.5 255.5h0M660 220.9h0M640.3 233.7h0M685.1 258.2h0M655.2 267h0M668.8 239.7h0M614.8 263h0M656.2 234.6h0M638.8 218.7h0M625.4 233.9h0M684.6 240.5h0M629.3 260.4h0M626.3 262.1h0M661.4 241.4h0M660.7 232.1h0M661.3 253.9h0M680.2 243.7h0M649.7 232.2h0M635.7 210.4h0M629.5 245.8h0M640 262.9h0M638.1 247.4h0M633.2 257h0M672.7 268.2h0M676.1 268.4h0M646.5 209.5h0M647.3 220.3h0M661.9 229h0M660.4 242.3h0M664.1 229.5h0M654.7 246.8h0M660.3 224.5h0M676.2 262.7h0M662.4 209.5h0M620.9 238.9h0M624.6 269.2h0M672 224.9h0M659.9 219.2h0M630 222.1h0M682.8 211.6h0M643.1 223.4h0M680.5 243.9h0M634.3 251.4h0M640.8 230.2h0M677 251h0M645 239.9h0M612.9 224.4h0M656.3 248.7h0M639.7 228h0M640.2 255.8h0M662.1 213.6h0M674.8 214.6h0M620.9 232h0M683.6 234.7h0M672.4 221.8h0M672.1 230.9h0M614.5 265.1h0M658.2 245.6h0M629.8 264.1h0M628.2 239.4h0M622.6 238.1h0M674 213h0M645.8 214.1h0M676.3 223.4h0M677.4 248.3h0M673 235.7h0M680.9 241.6h0M676.8 231.9h0M641.6 239.8h0M630.5 258.7h0"/></g><path d="M685.7 244.1a0.8 0.8 0 1 0 1.5 0a0.8 0.8 0 1 0 -1.5 0M661.5 210.8a0.7 0.7 0 1 0 1.4 0a0.7 0.7 0 1 0 -1.4 0M618.7 219.9a1.2 1.2 0 1 0 2.5 0a1.2 1.2 0 1 0 -2.5 0M655.2 249.7a0.9 0.9 0 1 0 1.8 0a0.9 0.9 0 1 0 -1.8 0M617.6 247.5a0.8 0.8 0 1 0 1.6 0a0.8 0.8 0 1 0 -1.6 0M626.4 212.7a1.2 1.2 0 1 0 2.5 0a1.2 1.2 0 1 0 -2.5 0M666.9 231.1a0.8 0.8 0 1 0 1.5 0a0.8 0.8 0 1 0 -1.5 0M684.5 266.9a1 1 0 1 0 2 0a1 1 0 1 0 -2 0M641.8 258.6a1 1 0 1 0 2 0a1 1 0 1 0 -2 0M636.9 267.5a1.2 1.2 0 1 0 2.5 0a1.2 1.2 0 1 0 -2.5 0M630.8 267.9a1.2 1.2 0 1 0 2.4 0a1.2 1.2 0 1 0 -2.4 0M685.3 266.6a0.8 0.8 0 1 0 1.6 0a0.8 0.8 0 1 0 -1.6 0M671.4 220.1a0.7 0.7 0 1 0 1.5 0a0.7 0.7 0 1 0 -1.5 0M630.6 227a0.8 0.8 0 1 0 1.7 0a0.8 0.8 0 1 0 -1.7 0M674.7 247.1a0.6 0.6 0 1 0 1.2 0a0.6 0.6 0 1 0 -1.2 0M672.6 218.7a1.1 1.1 0 1 0 2.3 0a1.1 1.1 0 1 0 -2.3 0M630.1 266.6a1 1 0 1 0 2.1 0a1 1 0 1 0 -2.1 0M657.3 225.5a1.2 1.2 0 1 0 2.4 0a1.2 1.2 0 1 0 -2.4 0M617.2 258.7a1 1 0 1 0 2 0a1 1 0 1 0 -2 0M642.3 233.2a0.6 0.6 0 1 0 1.2 0a0.6 0.6 0 1 0 -1.2 0M648.3 237.6a0.9 0.9 0 1 0 1.7 0a0.9 0.9 0 1 0 -1.7 0M626.5 244a0.9 0.9 0 1 0 1.8 0a0.9 0.9 0 1 0 -1.8 0M627.8 222.6a0.7 0.7 0 1 0 1.4 0a0.7 0.7 0 1 0 -1.4 0M613.5 252.1a0.7 0.7 0 1 0 1.5 0a0.7 0.7 0 1 0 -1.5 0M662.5 231.5a0.7 0.7 0 1 0 1.3 0a0.7 0.7 0 1 0 -1.3 0M627.8 252.5a0.8 0.8 0 1 0 1.7 0a0.8 0.8 0 1 0 -1.7 0M653.1 213.9a1.3 1.3 0 1 0 2.5 0a1.3 1.3 0 1 0 -2.5 0M645.8 257.3a0.8 0.8 0 1 0 1.5 0a0.8 0.8 0 1 0 -1.5 0M681.5 222.8a1.1 1.1 0 1 0 2.2 0a1.1 1.1 0 1 0 -2.2 0M678.7 247a0.7 0.7 0 1 0 1.4 0a0.7 0.7 0 1 0 -1.4 0M676.2 256.1a1.1 1.1 0 1 0 2.2 0a1.1 1.1 0 1 0 -2.2 0M657.9 212.1a0.8 0.8 0 1 0 1.6 0a0.8 0.8 0 1 0 -1.6 0M636.1 222.9a1.2 1.2 0 1 0 2.3 0a1.2 1.2 0 1 0 -2.3 0M621.3 224.6a0.7 0.7 0 1 0 1.4 0a0.7 0.7 0 1 0 -1.4 0M624.8 261.6a0.6 0.6 0 1 0 1.3 0a0.6 0.6 0 1 0 -1.3 0M615.1 255.3a0.8 0.8 0 1 0 1.6 0a0.8 0.8 0 1 0 -1.6 0M633.2 218.7a1 1 0 1 0 2 0a1 1 0 1 0 -2 0M619.7 234.7a1 1 0 1 0 2.1 0a1 1 0 1 0 -2.1 0M611.9 235.3a0.7 0.7 0 1 0 1.4 0a0.7 0.7 0 1 0 -1.4 0M614.7 256.7a0.6 0.6 0 1 0 1.2 0a0.6 0.6 0 1 0 -1.2 0M625.6 266.5a0.6 0.6 0 1 0 1.3 0a0.6 0.6 0 1 0 -1.3 0M644.2 251.4a1 1 0 1 0 2 0a1 1 0 1 0 -2 0M683.5 234.7a1.2 1.2 0 1 0 2.4 0a1.2 1.2 0 1 0 -2.4 0M630.6 232.2a1.3 1.3 0 1 0 2.6 0a1.3 1.3 0 1 0 -2.6 0M643 245.1a1.2 1.2 0 1 0 2.4 0a1.2 1.2 0 1 0 -2.4 0M677.2 264.2a0.6 0.6 0 1 0 1.2 0a0.6 0.6 0 1 0 -1.2 0M638.7 265.4a0.9 0.9 0 1 0 1.7 0a0.9 0.9 0 1 0 -1.7 0M628.4 223.7a1.2 1.2 0 1 0 2.4 0a1.2 1.2 0 1 0 -2.4 0M653.9 231.9a0.7 0.7 0 1 0 1.5 0a0.7 0.7 0 1 0 -1.5 0M631.6 223.9a0.9 0.9 0 1 0 1.9 0a0.9 0.9 0 1 0 -1.9 0M615.6 241.2a1 1 0 1 0 2 0a1 1 0 1 0 -2 0M667.2 241.8a1.1 1.1 0 1 0 2.3 0a1.1 1.1 0 1 0 -2.3 0M624.4 259a0.7 0.7 0 1 0 1.5 0a0.7 0.7 0 1 0 -1.5 0M637.5 245.3a0.7 0.7 0 1 0 1.3 0a0.7 0.7 0 1 0 -1.3 0M672.2 257.8a1.1 1.1 0 1 0 2.2 0a1.1 1.1 0 1 0 -2.2 0M636.3 219.9a0.7 0.7 0 1 0 1.5 0a0.7 0.7 0 1 0 -1.5 0M628.6 246.9a0.8 0.8 0 1 0 1.5 0a0.8 0.8 0 1 0 -1.5 0M653.4 255.3a1.2 1.2 0 1 0 2.4 0a1.2 1.2 0 1 0 -2.4 0M667 228.6a1.1 1.1 0 1 0 2.2 0a1.1 1.1 0 1 0 -2.2 0M682.6 248.3a0.7 0.7 0 1 0 1.3 0a0.7 0.7 0 1 0 -1.3 0" stroke="#F2C8EE" stroke-width="0.45" fill="none" opacity="0.85"/><g stroke="#FAF0FA" stroke-linecap="round" fill="none"><path stroke-width="2" d="M652.2 237.4h0"/><path stroke-width="2.4" d="M679 259.6h0M612.6 244.4h0M614.3 219.1h0"/><path stroke-width="2.8" d="M634.1 260.4h0M681.2 260.3h0M623.4 241.2h0M645.6 251.3h0M657.6 233h0"/><path stroke-width="3.2" d="M652.4 219.8h0"/><path stroke-width="3.6" d="M629 233.3h0"/><path stroke-width="4" d="M664.4 251.5h0"/></g></g></g><clipPath id="c13"><rect x="399.7" y="268.3" width="70.2" height="55.6"/></clipPath><g clip-path="url(#c13)"><g filter="url(#bl)"><rect x="397.7" y="266.3" width="74.2" height="59.6" fill="#E8C48E"/><g stroke="#EED2A6" stroke-linecap="round" fill="none" opacity="0.7"><path stroke-width="1.2" d="M413.9 304.6h0M438.2 321.7h0M409.8 267.9h0M432.7 310.7h0M428 317.2h0M398.3 303.4h0M403.7 272.4h0M424.4 314.7h0M409 275.4h0M413 286.3h0M424.2 307.3h0M465.6 268.3h0M402.5 296.3h0M437.8 274.5h0M406.1 274.8h0M405.1 305.8h0M416.6 292.4h0M464.9 271h0M451.1 304h0M447.9 304.6h0M419.4 304.8h0M414.1 320.6h0M421 308.9h0M438.5 293.2h0M413.6 269.2h0"/><path stroke-width="1.6" d="M432.9 305.8h0M447.8 280h0M419.9 300.5h0M399.9 305.8h0M423.9 271.2h0M431.9 292.9h0M454.3 281.3h0M427.7 301.9h0M462.2 317.1h0M462.6 293.6h0M401.3 287h0M408.3 297.6h0M448.4 322h0M403.5 273.5h0M398.6 312.2h0M428.5 321.9h0M424.1 301.3h0M445.7 308h0M455.4 302.1h0M401.4 322.4h0M407.1 300.9h0M401.6 294.4h0M442.3 306.8h0M410.7 287h0M447.8 311.4h0M419.2 321.6h0M419.5 322.2h0M454.6 286.9h0M430.2 289.3h0M432.9 272.9h0M433.3 293.7h0M470.8 318.9h0M460.8 311.8h0"/><path stroke-width="2" d="M427.1 310.8h0M452.6 321.8h0M443.2 281.4h0M449.1 273.7h0M451 297.7h0M425.8 288.8h0M412.7 314.6h0M468.6 272.2h0M444.4 320.7h0M431.3 290.3h0M415.4 268.7h0M406.6 291.2h0M410.5 288.6h0M438.6 286.4h0M463.3 275.9h0M467.5 310.7h0M409.4 291.6h0M425.7 305.3h0M413 319.4h0M463.9 310.2h0M425 289.2h0M447 282.3h0M429.2 302.2h0M400.5 270.4h0M422.9 297.7h0M436.3 292.8h0M460.5 308.8h0M467.2 292.4h0M463.3 292h0M438.8 307.5h0M412.9 318.1h0M404.5 300.7h0M453.4 274.1h0M466.9 324.7h0M440.9 288.2h0M463.4 288.3h0M398.2 302.5h0M455.9 295.7h0M430.1 300.8h0"/><path stroke-width="2.4" d="M430.3 301.5h0M467 307.6h0M446.3 273.8h0M431.8 314h0M442.4 300.3h0M459.4 275.8h0M469.2 315.7h0M470.9 303.3h0M470.5 322.8h0M456.7 296.8h0M454.2 282h0M419 282.9h0M425.9 307h0M458.3 315.6h0M432.1 275.5h0M452.1 278.7h0M432.6 307.3h0M441 282.2h0M444.2 320.6h0M462 298h0M455 281.9h0M454.1 310.3h0M433.1 306.7h0M417.4 318.5h0M436.4 274.4h0M428.7 300.3h0M421.6 286.7h0M418.4 290.5h0M451.6 318.2h0M451.5 292.7h0M418.1 271h0M448.1 311.4h0"/><path stroke-width="2.8" d="M431.8 286.9h0M423 304h0M466.5 322.7h0M469.7 296.9h0M415.7 302.9h0M418.3 307.8h0M423 288.3h0M435.7 286.4h0M427.2 319.2h0M435.1 268.1h0M430.3 298.2h0M405.2 276.9h0M460.3 278.7h0M439.6 267.4h0M402 298.3h0M412.8 321.4h0M432.7 280h0M430.8 310h0M443.9 281.6h0M432.2 268.3h0M459.1 308.5h0M441.8 308.8h0M460 301.9h0M461 270.7h0M467.7 279.5h0M399.9 277.7h0M406.1 319.8h0M443.4 277.7h0M401.9 293.2h0M455.2 305.9h0M411.6 309.4h0"/></g><g stroke="#E0B064" stroke-linecap="round" fill="none" opacity="0.35"><path stroke-width="2" d="M404.3 311.2h0M444.4 300.6h0M445.7 274.9h0M438.8 309.5h0"/><path stroke-width="2.4" d="M432.7 294.2h0M415.4 322h0M426 283h0M441.9 269h0M459.2 301.5h0"/><path stroke-width="2.8" d="M442.3 306.2h0M441.2 295.8h0M412.3 273.4h0"/><path stroke-width="3.2" d="M411.2 304.8h0M407.1 311.2h0M418.7 314h0M404.4 296.8h0M449.1 301.2h0"/><path stroke-width="3.6" d="M470.3 302.7h0M428.6 289.9h0M440.4 271.7h0M416.3 290h0"/><path stroke-width="4" d="M433.7 301.6h0M417 313.5h0M440.2 291.3h0M471.9 266.5h0M454.1 277.3h0M428.4 284.4h0M461.6 321.9h0M428.2 266.6h0"/><path stroke-width="4.4" d="M438.9 302.9h0M419.4 277.8h0M420.6 268.8h0M428.1 273.2h0M457.9 273h0M412.9 322.4h0M423.7 282h0M462.4 299.4h0"/><path stroke-width="4.8" d="M431.3 322h0M398.8 281.6h0M412.3 288.3h0"/></g><g stroke="#E4A0A4" stroke-linecap="round" fill="none" opacity="0.7"><path stroke-width="1.2" d="M401.4 309.7h0M462.4 275.5h0M465.3 275.5h0M419.2 305.3h0M448.9 286.9h0M409.8 317.6h0M442 315.8h0M429.7 289.9h0M421.6 315.6h0M407.8 298.2h0M437.4 316.8h0M438.5 276h0M452.4 299.2h0M401.1 311.1h0M450.8 293.9h0M424.8 291.7h0M397.9 266.3h0M453.1 294.6h0M401 275.7h0M454.4 288.6h0M441 294.2h0M402.2 308.6h0M408.4 314h0M444.7 270.9h0M451 266.7h0M435.9 281.9h0M464.1 286.1h0M411.8 281.6h0M399.6 297.3h0M436.1 307.1h0M422 285h0M416.4 290.8h0M420.4 288h0"/><path stroke-width="1.6" d="M434.5 287.6h0M442.4 307.7h0M469.4 313.5h0M436.2 269h0M413.9 281h0M399.7 303.3h0M405.8 282.1h0M469.3 268.1h0M416.5 316.2h0M428.9 288.6h0M426.3 322.7h0M404.7 266.5h0M400.3 320.8h0M414.6 289.7h0M403.4 273.2h0M445.2 315.9h0M423 281.4h0M405.3 307.6h0M399.4 287.5h0M432.1 321.8h0M400 279.3h0M439.9 300.9h0M422.5 302.8h0M400 282.6h0M399.1 315.7h0M425.7 291.5h0M418.5 292.2h0M422.3 295h0M458.8 321.3h0M428.3 276.3h0M399.7 309.4h0M449.7 269.7h0M443.8 305.1h0M441.1 298.8h0M449.8 304.3h0M405.7 270.8h0M466 324.9h0"/></g><g stroke="#F6E8DA" stroke-linecap="round" fill="none" opacity="0.8"><path stroke-width="0.8" d="M417.9 277.9h0M435.2 298.8h0M448.1 268.3h0M465.8 320.9h0M439.1 295.1h0M444.1 288h0M411.3 313.6h0M459.5 279.7h0M433 307.6h0M427.3 295.5h0M456.9 325.4h0M402.4 292.1h0M437.6 288.4h0M462.5 290.1h0M420.1 272.7h0M422.4 308.6h0M399.7 303.3h0M420.5 300.2h0M424 271.6h0M460.1 296.8h0M453.4 314.7h0M397.8 273.5h0M401.4 322.2h0M445.7 297h0M428.2 311.7h0M465.3 321.3h0M401.8 301.4h0M407.8 284.4h0M442.4 277.8h0M431.4 296.5h0M444.9 274.2h0M448.3 282.8h0M408.2 282.5h0M457.6 298.7h0M413.1 313.6h0M437.2 278h0M437.3 312.2h0"/><path stroke-width="1.2" d="M469.8 307.9h0M419.3 316.1h0M413.4 302.1h0M465.3 299.9h0M466.4 267.8h0M471.6 289.4h0M432.2 274h0M416.1 309.3h0M447.7 317.7h0M408.4 302.4h0M470.9 287h0M403.8 268.9h0M431.6 279.9h0M424.6 300.3h0M422.6 288.8h0M416.7 308.8h0M437.8 286.5h0M407.4 297.2h0M416.3 289.1h0M462.9 302.8h0M423.5 280.9h0M444.8 274.2h0M404.5 313.3h0M466.8 267.7h0M471.5 272.2h0M401.5 275.2h0M456.3 282.2h0M403 316.9h0M455 268.1h0M464.2 316.6h0M436.6 317.7h0M456.1 275.5h0M419.3 305.3h0M452.6 287.5h0M446 281.1h0M435.3 274.8h0M410.9 305.2h0M441 318.9h0M428.1 294.9h0M456.6 297.7h0M419.6 276.6h0M399.5 287.5h0M413.1 317.6h0M426.8 300.5h0M401.2 283.6h0M440 277h0M443.2 312.4h0M428.6 276.7h0M413.4 285.9h0M462.5 323.4h0M457 297.8h0M414 269.8h0M417.2 317.7h0"/></g></g></g><clipPath id="c14"><rect x="471.4" y="268.3" width="70.3" height="55.6"/></clipPath><g clip-path="url(#c14)"><g filter="url(#bl)"><rect x="469.4" y="266.3" width="74.3" height="59.6" fill="#E8C490"/><g stroke="#F4E0C8" stroke-linecap="round" fill="none" opacity="0.85"><path stroke-width="0.8" d="M532 300.2h0M529.8 289.1h0M479.6 284.6h0M535.8 290.7h0M524.4 312.7h0M505.4 307.9h0M506 294.5h0M512.9 292.2h0M478.8 311.1h0M472.3 299.9h0M491 299.7h0M476.2 293.1h0M540.9 313.2h0M496.6 286.8h0M496.1 294.3h0M513.8 315.6h0M493.1 288.7h0M516.6 293.9h0M519.7 271.2h0M509 298.8h0M469.6 284.3h0M505.2 287.1h0M512.6 304h0M470.8 300.5h0M514 300.1h0M521.1 294.5h0M478.6 305.2h0M542.4 304.7h0M511.8 295.5h0M521.8 297.6h0M474.9 315.2h0M541.1 295.7h0M505.2 299.6h0M489.8 267.1h0M508.6 290.6h0M479.1 310.9h0M510.1 273h0M496 283.7h0M515.7 267.1h0M479.2 273.4h0M507.3 271.8h0M523.5 295.4h0M482.9 293h0M538.5 324.2h0M475.3 325.5h0M514.2 321.1h0M524.3 276h0M485.1 316h0M539.3 309.8h0M502.3 278.7h0M509.5 287.2h0M522.2 275.9h0M534 270.6h0M515.9 288.4h0M472.2 306h0M470.3 320.1h0M480.5 313.3h0M539.8 291.2h0M500.3 305.3h0M502 308.6h0M518.7 320.6h0M532.8 285.7h0M471.4 298.2h0M537.5 313.9h0M508.6 289.7h0M502.6 301.3h0M493.8 304.7h0M516.6 293.2h0M488.4 269.6h0M470.3 280.9h0M526.9 266.7h0M520.2 266.6h0M541.5 272.8h0M539.6 316.9h0M493.8 278.6h0M499.2 276.9h0M528.8 320.6h0M481.9 324.8h0M470.8 298.8h0M533.8 296h0"/><path stroke-width="1.2" d="M492.4 278.1h0M498.2 286.9h0M492.7 303.6h0M472.7 323.4h0M532.1 313.1h0M533.9 314.1h0M538.5 310.2h0M524 290.7h0M532.4 278.4h0M489.3 294.9h0M478.5 298.8h0M516.9 279.8h0M536.9 288.8h0M531.5 292.4h0M513.2 286.5h0M541.7 274.7h0M485.1 322.5h0M538.7 274.5h0M484.3 317.2h0M501 277.2h0M488.3 319.6h0M498.8 266.7h0M509.2 301.3h0M503.6 281.9h0M511.6 319.6h0M540.9 280.6h0M521.1 289.5h0M486.4 295.7h0M499.7 302.1h0M532.7 314.1h0M512.3 272.4h0M479.1 316.6h0M541.7 266.4h0M481.5 292.5h0M533 288.8h0M485.9 303.1h0M490.2 313.3h0M530.7 270.7h0M503.3 299.8h0M503.5 303.3h0M533.6 302.4h0M523.3 284.3h0M519.8 320.8h0M496.6 319.8h0M512.4 269.6h0M492.2 289.4h0M534.8 270.3h0M523.5 295.1h0M486.7 276.7h0M489.1 272.6h0M507.7 277.9h0M506.4 280.7h0M510.5 271.9h0M512.1 285h0M477.5 305h0M487.8 279.2h0M493.6 309.4h0M513.6 305.9h0M518.1 270.2h0M515.1 269.6h0M532.7 280.3h0M493.5 296.7h0M536.8 286.7h0"/><path stroke-width="1.6" d="M533.1 281.3h0M532.8 295.2h0M525.8 285h0M502.6 281.3h0M513.5 319.5h0M526.4 295.8h0M535.4 304.9h0M475.2 297.8h0M476.1 276.6h0M521.4 296.3h0M487.5 271.9h0M476.7 323.8h0M473 274.2h0M474 287.1h0M526.1 301.2h0M501.9 281.6h0M478.7 304.1h0M488.7 276.4h0M513.1 266.8h0M501.4 310.8h0M506.3 296.7h0M499.6 280.1h0M511.2 325.3h0M478.6 299.1h0M504.5 275.6h0M473 320h0M474.6 278.4h0M541.4 281.1h0M472.3 320.6h0M534.8 313h0M488.9 297.2h0M521.2 320.2h0M506 320.2h0M520.9 284.2h0M497.8 297.5h0M477.8 314h0M542 294.7h0M541.2 290.2h0M474.4 295.2h0M518.3 287.7h0M496.6 322.7h0M499.8 302.4h0M533.2 283.6h0M478.8 294.4h0M492 305.6h0M484 293.3h0M526.2 300.3h0M539.2 282.7h0M528.8 322h0M537.8 308.4h0M488.6 288.7h0M506.3 310.7h0M527.9 301.6h0M538.2 287.7h0M509.2 296.3h0M526.4 292.5h0M487 320.4h0M485.7 288.5h0M496.8 271h0M485.8 280.6h0M470.1 296.8h0M514.9 325.8h0M518.7 323.1h0M529.5 275.4h0M511.2 325.1h0M475.5 324.7h0M496.3 301.1h0M489.2 288.3h0M476.4 273.5h0M496.2 303.1h0M492.8 314.4h0M503.4 293.4h0M537.5 286.1h0M506.9 309.1h0M489.6 273.5h0M520.9 315.9h0M480.8 289.6h0"/></g><g stroke="#E098A4" stroke-linecap="round" fill="none" opacity="0.75"><path stroke-width="1.2" d="M503.1 272.9h0M521.6 268.5h0M491.2 324.4h0M531.2 304.2h0M493.8 288h0M524.8 308.9h0M485.6 275h0M528.8 290.9h0M491.5 294.9h0M522.5 323h0M477.9 274.9h0M473.6 303.7h0M479 271.7h0M542 321.6h0M494.5 317.5h0M487.5 273.8h0M542.7 277.3h0M535.3 317.1h0M481.4 287.5h0M508.7 313.4h0M522 290.8h0M525.2 296.7h0M511.6 272.4h0M527 280.4h0M505.7 278.6h0M522 297.7h0M504.1 292.1h0M492.2 308.1h0M512.5 277.6h0M513.3 296h0M493.8 290.8h0M481.3 322.5h0M540.8 322.6h0M511.4 280.1h0M529.9 320.6h0M539.4 270.5h0M491.2 268.6h0M533.6 282.2h0M526.4 315h0M484.7 269.5h0"/><path stroke-width="1.6" d="M501.9 322.6h0M532.5 266.5h0M537.4 290.8h0M482.4 311.7h0M530.2 298.3h0M513.1 301h0M535.7 314h0M539.1 276.9h0M517.2 270.8h0M518.3 323.1h0M473.7 292.1h0M517 288.8h0M499.1 321.1h0M486.3 283h0M472.8 292.6h0M509.5 286.7h0M487.3 280.1h0M494.2 268.3h0M540.8 309.3h0M495.8 310.2h0M476 293.8h0M522.5 267.8h0M509 290.9h0M532.8 308h0M498.9 284.5h0M490.8 275.5h0M488.6 324.1h0M481.3 301.4h0M491.7 323.2h0M507.7 321.5h0M508.8 298.3h0M474.1 316.4h0M506.8 302h0M482.5 296.4h0M534.9 304.2h0M514.7 315h0M542.4 289.9h0M505.7 301.9h0M480.5 310.9h0M520.5 285.7h0M505.9 278.8h0M507.7 302.8h0M520 290.8h0M498.5 314.3h0M519.8 275.3h0M504.4 281.3h0M474 318.5h0M539.8 323.8h0M542.1 319.8h0M480.3 267.3h0"/></g><g stroke="#DCA858" stroke-linecap="round" fill="none" opacity="0.45"><path stroke-width="1.6" d="M514.8 307.7h0M513.3 285.9h0M472.2 279.8h0M504.1 323.5h0M474.5 307.7h0M498.7 286.2h0M531.8 293.1h0"/><path stroke-width="2" d="M508.7 312.9h0M506.8 308.6h0M502.9 312.3h0M507.1 272h0M489.5 277.2h0M471 324.8h0M505.7 300.6h0M500.7 274.9h0"/><path stroke-width="2.4" d="M516.3 321.6h0M541.2 274h0"/><path stroke-width="2.8" d="M505.9 275.3h0M527.7 287.3h0M491.4 305.1h0M471.9 275.4h0M486 300h0M471 322h0M470.6 281.6h0M488.2 287.2h0M512.1 302.1h0M523.8 325.7h0M513.4 316.1h0M471.9 312.5h0"/><path stroke-width="3.2" d="M517.3 282.7h0M483.4 308.7h0M536.5 280.8h0M523.7 301.6h0M479.9 274.5h0"/><path stroke-width="3.6" d="M525.3 279.2h0M493.8 303h0M521.4 301.7h0M535 281.2h0M509.3 305.1h0"/><path stroke-width="4" d="M473.1 277.5h0"/></g><g stroke="#7A2040" stroke-linecap="round" fill="none"><path stroke-width="0.8" d="M509.4 314.3h0M489.4 296.3h0"/></g></g></g><clipPath id="c15"><rect x="542.9" y="268.3" width="70.5" height="55.6"/></clipPath><g clip-path="url(#c15)"><g filter="url(#bl)"><rect x="540.9" y="266.3" width="74.5" height="59.6" fill="#F2CCB0"/><g stroke="#EAAE84" stroke-linecap="round" fill="none" opacity="0.55"><path stroke-width="1.2" d="M541.8 274.2h0M566.2 312.3h0M586.9 309.9h0M613.3 310.7h0M580 284.8h0"/><path stroke-width="1.6" d="M567.1 320h0M574.5 305.2h0M602.7 315.2h0M579.2 306.9h0M610.2 308.1h0M610.9 311.6h0M572.4 296.3h0M602.1 308.6h0M554.8 288.2h0M561 285.7h0M587.4 314.7h0M558.3 308.9h0M580.1 300.1h0M573.9 291.2h0M585.6 284.2h0M591.4 279.6h0M589.8 322.1h0"/><path stroke-width="2" d="M605.8 269h0M603.5 316h0M586.8 268.4h0M590.6 304.4h0M550.3 293.3h0M611.6 277.6h0M571.2 299.7h0M571.5 316.7h0M572.1 295.9h0M583.5 292.9h0M576.8 302.9h0M579.9 295.1h0"/><path stroke-width="2.4" d="M581.9 297.6h0M543 322.8h0M605.4 289h0M557.6 296.9h0M597.2 270.3h0M592.7 292.6h0M610 281.3h0M610.3 318.3h0M614.2 277.4h0M615.2 289.6h0M560.9 273.8h0M563.3 276.1h0M562.7 267.9h0"/><path stroke-width="2.8" d="M586.4 310.2h0M615 297.7h0M543.3 315.6h0M546.5 303.4h0M555 317.3h0M565.5 298.6h0M579.1 281h0M560.2 299.2h0M556.5 271h0M585.6 266.4h0M554.9 315.5h0M544.9 283.5h0M551.9 306.2h0M582.6 300.4h0"/><path stroke-width="3.2" d="M576.8 290.8h0M562.2 270.9h0M581.2 322h0M585.2 311.3h0M609.3 293.2h0M542.6 318.6h0M579 276.8h0M576 282.1h0M568 306.5h0M550.5 295.2h0"/><path stroke-width="3.6" d="M546 318.1h0M587.9 312.6h0M554.1 274.5h0M572.7 269.4h0M589.5 297.6h0M546.4 287.8h0M553.4 318.1h0M551.3 313.4h0M550.7 307.6h0"/></g><g stroke="#F09CA8" stroke-linecap="round" fill="none" opacity="0.55"><path stroke-width="1.2" d="M592.2 324.6h0M608.3 289.4h0M596.3 304h0M553.2 314.4h0M600.1 291.9h0M588.5 281.9h0"/><path stroke-width="1.6" d="M587.8 291.1h0M614.2 281.9h0M593.1 289.7h0M557 317.5h0M545.2 313.3h0M567.6 280.6h0M573.5 274.5h0M581.7 318.5h0M605.5 268.7h0"/><path stroke-width="2" d="M613.3 288.5h0M578.7 303h0M565 296.3h0M611.7 276.6h0M574.1 289.1h0M584.5 305.8h0M573.8 299.3h0M545 295.2h0M547.9 303.4h0M601.7 280h0M609.5 315.1h0M599.2 307.9h0M593.4 316.8h0M565.3 291.6h0M559.1 285.7h0M577.9 284.9h0"/><path stroke-width="2.4" d="M545.7 279.8h0M581.2 298.1h0M549.1 298.1h0M550.1 307.8h0M600.1 312.6h0M582.1 276.8h0M545.2 277.3h0M543.2 322.9h0M603.4 287.5h0M598.7 304h0M557.6 305.3h0M579.3 314.5h0M559.3 305.7h0M574.8 310.4h0M601.1 302.7h0M578.9 292h0"/><path stroke-width="2.8" d="M563.9 299.2h0M592.4 274.5h0M564.6 296.1h0M562.4 267.9h0M540.9 325h0M592.3 274.8h0M599.4 311.5h0M546 306.9h0M564.4 297.9h0M562.8 277.9h0M611.4 309.6h0M542.7 270.8h0M552.5 274.7h0"/></g><path d="M591 303.7a2.8 2.8 0 1 0 5.5 0a2.8 2.8 0 1 0 -5.5 0M611.4 289.7a2.9 2.9 0 1 0 5.9 0a2.9 2.9 0 1 0 -5.9 0M564.8 273.4a3 3 0 1 0 5.9 0a3 3 0 1 0 -5.9 0M605.7 277.1a4.2 4.2 0 1 0 8.5 0a4.2 4.2 0 1 0 -8.5 0M596 280.4a4.2 4.2 0 1 0 8.5 0a4.2 4.2 0 1 0 -8.5 0M541.6 291.5a4.4 4.4 0 1 0 8.8 0a4.4 4.4 0 1 0 -8.8 0M560.4 316.9a3.6 3.6 0 1 0 7.2 0a3.6 3.6 0 1 0 -7.2 0M585.9 322.1a4.1 4.1 0 1 0 8.1 0a4.1 4.1 0 1 0 -8.1 0M555.6 306.6a3.3 3.3 0 1 0 6.6 0a3.3 3.3 0 1 0 -6.6 0M584 313.8a3.1 3.1 0 1 0 6.2 0a3.1 3.1 0 1 0 -6.2 0M556 275.1a2.9 2.9 0 1 0 5.7 0a2.9 2.9 0 1 0 -5.7 0M611.6 316.4a2.9 2.9 0 1 0 5.8 0a2.9 2.9 0 1 0 -5.8 0M545.1 272a3.8 3.8 0 1 0 7.5 0a3.8 3.8 0 1 0 -7.5 0M594.7 297.1a3.1 3.1 0 1 0 6.2 0a3.1 3.1 0 1 0 -6.2 0" stroke="#E85078" stroke-width="0.7" fill="none" opacity="0.6"/><g stroke="#F2EAF2" stroke-linecap="round" fill="none"><path stroke-width="2.8" d="M572.1 307.7h0M606.4 308.5h0M548.6 301.7h0M541.4 287.6h0M604.9 324h0"/><path stroke-width="3.2" d="M578.8 310h0M579.1 269.3h0M597.6 321.5h0M571.5 277.4h0M603.6 289.7h0M577.3 300.9h0M569.4 317.2h0M608.8 282.1h0"/><path stroke-width="3.6" d="M610.3 293.3h0M614.8 279.7h0M584.4 312h0M564.4 282.8h0"/><path stroke-width="4" d="M546.5 322h0M602.8 270.4h0M613 271h0M563.6 276.7h0M599 286.8h0M583.9 310h0M548.7 283.7h0M586.7 270.9h0M581.1 280.5h0M594.4 294.4h0M610.1 280.4h0"/><path stroke-width="4.4" d="M614.9 310.8h0M590.2 310h0M559.5 324.3h0M597.2 305.5h0M595.6 294.5h0M605.3 317.1h0M587.2 273.1h0M562.3 276.7h0M550.7 319.7h0M566.8 307.7h0"/><path stroke-width="4.8" d="M582.3 319.3h0M574.5 293.2h0M606.7 275h0M556 319.6h0M571.1 283h0M594.2 282h0M589.4 305.8h0M584.9 310.2h0M546.1 306.8h0M560.1 288.9h0"/><path stroke-width="5.2" d="M592.8 310.7h0M566.7 324.8h0M568 288.8h0M567.5 281.5h0M599 321h0M551.8 303.6h0M590.5 296.1h0"/><path stroke-width="5.6" d="M593.8 303.7h0M558.9 275.1h0M614.5 316.4h0"/><path stroke-width="6" d="M614.3 289.7h0M567.8 273.4h0M587.1 313.8h0M597.8 297.1h0M599.6 279.9h0M549.2 317.9h0"/><path stroke-width="6.4" d="M558.8 306.6h0M566.2 289.4h0"/><path stroke-width="7.2" d="M564 316.9h0M561 280.4h0M582.8 268.7h0M564.2 313.7h0M558.3 287.7h0"/><path stroke-width="7.6" d="M548.8 272h0M575.1 323.9h0"/><path stroke-width="8" d="M590 322.1h0M544.1 318.3h0M587.6 283.3h0"/><path stroke-width="8.4" d="M609.9 277.1h0M600.2 280.4h0M570.3 321.3h0"/><path stroke-width="8.8" d="M546 291.5h0M543 302.2h0"/></g><g stroke="#F4ECF2" stroke-linecap="round" fill="none"><path stroke-width="1.2" d="M562.3 318.7h0M562 302.5h0M542.7 311.7h0M595.2 282.7h0M598.1 273.8h0M541.2 268.8h0M598.5 299.3h0M592 316.1h0M571.3 280h0M568.5 307.8h0M574.2 296.9h0M579.1 284.2h0M606.8 298.6h0M607.7 285.3h0M549.5 319.9h0M593 319.7h0M605.3 317.6h0M576 299.7h0M600.4 266.3h0M601.7 307.8h0"/><path stroke-width="1.6" d="M555.1 289.5h0M592.9 287.8h0M560.5 308.2h0M602.1 316.1h0M596.1 316.2h0M547.1 300.6h0M611 283.8h0M602.8 273.8h0M585.1 302h0M548.7 278.9h0M593.2 284.8h0M553.5 280.6h0M572.7 318.6h0M581 289.6h0M555.8 312.8h0M568.8 313.6h0"/><path stroke-width="2" d="M576.1 325.8h0M553.6 322.3h0M551.7 305.2h0M541.9 304.3h0M547.9 280.6h0M591.1 315.8h0M558.2 288.4h0M602.2 284.6h0M568.4 297.4h0M564.1 296.7h0M590.3 314.8h0M592.1 323.1h0M592.7 276.9h0M605.4 274.5h0M569.9 304.9h0M583.4 276.6h0M614.2 302.7h0M595.2 290.3h0M561.4 310.9h0M576 303h0M552.4 292.1h0M606.2 309.5h0"/><path stroke-width="2.4" d="M561.2 301h0M576.6 271h0M592.7 300.3h0M592 308.1h0M593.3 281.4h0M570.2 286.5h0M579.9 304.2h0M555.8 306.3h0M590.5 274.7h0M578.8 292.6h0M564.5 318.5h0M604.5 304.9h0M583.7 272.8h0M559.3 322.5h0M596.7 310.9h0M587.8 325.2h0M597.1 289.5h0M591.7 281.5h0M581.3 297.2h0M610.5 269.9h0M598.2 278.1h0M543.7 296.9h0M598.7 305.3h0M607.1 308h0M556.2 322.5h0"/><path stroke-width="2.8" d="M558 281.7h0M548 286.3h0M595.1 272.7h0M573.3 273.7h0M589.2 300.6h0M544.8 325.4h0M600.2 294.6h0"/></g><g stroke="#E03060" stroke-linecap="round" fill="none" opacity="0.85"><path stroke-width="8.8" d="M571.9 295.3h0"/></g><g stroke="#F6F0F6" stroke-linecap="round" fill="none"><path stroke-width="6.8" d="M571.9 295.3h0"/></g><path d="M561.9 287.9l-1.3 -3.2M573.6 292.6l-2.4 -4.4M572.5 301.9l-2.8 1.9M573.8 303l-1.2 1.8M580.2 303.9l2.8 -1.2M565.3 287.8l-0 3.7M568.8 294.9l-1.2 -3.2M569.9 289.6l1.1 -1.8" stroke="#E03060" stroke-width="0.6" fill="none" stroke-linecap="round" opacity="0.8"/></g></g><clipPath id="c16"><rect x="614.5" y="268.3" width="70.5" height="55.6"/></clipPath><g clip-path="url(#c16)"><g filter="url(#bl)"><rect x="612.5" y="266.3" width="74.5" height="59.6" fill="#EECCAE"/><g stroke="#EAA490" stroke-linecap="round" fill="none" opacity="0.55"><path stroke-width="1.2" d="M661.3 303.4h0M656.5 286.4h0M674.1 288.5h0M618.4 285.5h0M651.3 318.2h0M653.4 290.1h0M661 304.7h0M646 293.5h0M614.7 297.5h0M635.9 320.3h0M646.2 324.2h0M663.1 292.2h0M686 280.2h0M613.4 310.3h0M634.7 316.6h0M646.2 309.4h0M675.5 288.8h0M652 310.4h0M637.2 278.8h0M682.7 288.9h0M668.8 266.5h0M677.6 309.2h0M650 275h0M666.6 286.2h0M635.1 307h0M642.5 312h0M629.9 318.7h0M673 302.8h0M666.5 299.8h0M628.7 270.2h0M643.6 304.8h0M619.6 282h0M642.8 320.2h0"/><path stroke-width="1.6" d="M619.4 269.1h0M621.2 274.3h0M633.8 294.1h0M651.9 280.5h0M634.5 316h0M636.4 323.1h0M636.5 288.1h0M629.9 271.4h0M673.7 301.6h0M672.8 283.7h0M613.6 290.4h0M648 294.1h0M675.7 304.5h0M617.4 274.8h0M626.2 300.6h0M644.7 297.8h0M651.5 275.5h0M644.6 321.7h0M622.7 292.1h0M628.1 315.5h0M667 308.2h0M618.9 277.3h0M614.2 314.1h0M683.6 294.7h0M616.1 318.6h0M682 272.6h0M618 316.5h0M667.8 283.3h0M684.4 301.2h0M660.3 287.6h0M623.5 297.3h0"/><path stroke-width="2" d="M640.7 305.5h0M658.7 308.1h0M660.6 298.4h0M638.6 277.4h0M680.6 272.8h0M679.6 323.1h0M615.7 319.1h0M676.5 306.7h0M680.8 306h0M642.1 269.3h0M675.4 315.6h0M622.8 268.8h0M618.1 288.3h0M635.9 308.2h0M641.8 275.6h0M676.3 284.3h0M627.8 314.8h0M647.8 273.7h0M663.3 298.9h0M641.1 296.2h0M614.6 300h0M681 283.8h0M624.9 297.1h0M655.2 284.9h0M648.2 311.9h0M630.5 295.7h0M686.5 297.1h0M619.2 311.8h0M646 267.9h0M619.1 268.3h0M644.7 270.8h0"/><path stroke-width="2.4" d="M651.2 296.7h0M672.3 297.5h0M653.7 273.6h0M641.9 292.2h0M628.4 314.9h0M674.8 325.1h0M641 310.7h0M663.2 279.6h0M666.8 301.9h0M670.9 324.7h0M634 276.4h0M673.1 292.7h0M616.3 275.1h0M638.7 322.7h0M637.3 319.1h0M663.1 308.6h0M648.7 297.3h0M660.7 298.7h0M639.8 286.7h0M626.3 305.2h0M622.8 274.3h0M674 310.2h0M619 271.3h0M650.9 282.1h0M676.3 320.6h0M617 312.5h0M655.5 304h0M683.2 315.2h0M672.2 312.8h0M667.9 269.9h0M616.9 322.9h0M643.2 306.7h0M670 274.5h0M655.4 274.7h0M669.9 279.4h0"/></g><g stroke="#F8F0EE" stroke-linecap="round" fill="none" opacity="0.9"><path stroke-width="0.8" d="M621.3 318.5h0M651.3 281.1h0M659.5 292.3h0M660.7 301.4h0M640.4 278.6h0M646.9 288.7h0M648.7 288.3h0M672.3 322.5h0M646.7 273.2h0M664.3 311.8h0M630.1 286.4h0M642.9 289.1h0M656.4 319.9h0M617.2 272.2h0M615.6 323.1h0M640.9 300.8h0M631.3 310.8h0M684 269.5h0M669.9 323.1h0M673.3 311.9h0M683 285.6h0M662.4 292.5h0M642.2 294.4h0M653.2 317.7h0M661.3 292.8h0M642.5 282.8h0M630.6 315.5h0M643.9 287.6h0M629.4 319h0M658.4 306.1h0M640.9 308.1h0M652.6 306.4h0M627.9 302.1h0M668.6 299.2h0M669 285.7h0M617.1 320.4h0M642.3 306.7h0M648.6 320.1h0M683 268.9h0M675.4 296.8h0M670.4 292.6h0M641 303.6h0M649.1 323h0M635.3 293.1h0M650 293.3h0M685.8 279.7h0M613.3 296.3h0M660.5 295.6h0M650.1 268.7h0M627.2 303.4h0M670.8 266.8h0M661.7 317h0M625.9 289.6h0M666.2 294h0M672.7 266.4h0M675.9 298.2h0M636.9 276.2h0M664.6 312.1h0M667.9 311.8h0M622 296.8h0M628.6 323.1h0M637.8 318h0M637.2 290.1h0M673.7 285h0M617.6 296.3h0M669.6 269.4h0M673.9 283h0M652.5 279.6h0M625.3 322.7h0M640.8 269.7h0M612.5 291.8h0M627.4 277.2h0M638.2 309.8h0M645.5 302.2h0M668.9 308.1h0M658.9 314.3h0M684.5 279h0M652.9 306.9h0M628.1 275.5h0M652 314.8h0M620.7 288.7h0M659.4 316.9h0M638.3 305.7h0M619.3 270h0M681 284.3h0M655.2 313.9h0M648.6 308.4h0M639.3 281.7h0M670.9 288h0M679.5 281.2h0M669.4 314.1h0M653.7 296.6h0M666.3 271.5h0M631.7 318.5h0M614.6 267.7h0M629.6 294.1h0M680.2 309.1h0"/><path stroke-width="1.2" d="M635.1 317.1h0M652.9 297.2h0M631.2 280.3h0M613.3 305.2h0M623.4 310.5h0M658.2 318.2h0M674.9 303h0M659.4 322.8h0M664.7 318.7h0M634.6 325.5h0M657.7 279h0M674.7 283.3h0M640.9 315.6h0M651.5 293.7h0M664.3 317.9h0M669.7 287.4h0M684.7 313.2h0M656.1 272.7h0M638.8 295.8h0M614.9 277h0M644.6 298.1h0M645.2 317.1h0M626.2 303.3h0M621 311.8h0M664.2 313.7h0M656.5 311.2h0M680.9 307.7h0M630.7 302h0M662.6 318h0M616.5 293.4h0M680.2 285h0M654.7 283.4h0M618.1 309.6h0M635.1 266.6h0M630.4 284.3h0M649.9 284.6h0M665.5 287.8h0M657.2 313.2h0M616.7 301.1h0M664.8 269.8h0M625.7 303h0M652.6 288.8h0M620.7 285h0M633.9 314.2h0M629.5 266.7h0M656.4 292.6h0M649.3 269.9h0M636.6 297.7h0M612.5 324.9h0M684.7 267.6h0M639.1 283.9h0M668.3 288h0M662.6 272.7h0M613.3 286.7h0M685.2 323.9h0M644.1 278.4h0M667.2 289.4h0M683.2 310.1h0M652.4 297.6h0M637.3 303h0M664.4 316.3h0M636.8 276.4h0M624.4 300.4h0M661.1 322h0M677.1 303.2h0M668.1 316.1h0M668.6 299.7h0M622.5 325h0M627.4 318.4h0M630.9 302h0M614.3 272.4h0M628.4 307.5h0M622.4 306h0M622.8 309.5h0M641 304.6h0M643.3 275.5h0M652.8 280.4h0M616.3 292.2h0M655 307.8h0M646.4 293.7h0M649.8 288.1h0M671 298.7h0M641.8 290h0M659.7 320.7h0M620.7 310.3h0M631.8 317.4h0M650.8 279.8h0M635.8 295.9h0M618.3 305.6h0M672.1 280.7h0M662.5 323.5h0M671.2 286.7h0M637 277h0M679.4 285.5h0M676.2 277.9h0M683.8 320.2h0M634.7 302.7h0M671.6 273.5h0M658.3 323.4h0"/><path stroke-width="1.6" d="M654.1 319.9h0M616.4 312.5h0M642.1 323.1h0M628.6 319.7h0M646.2 278.3h0M658.5 277.9h0M638.9 304.9h0M643.1 321.8h0M619.1 280.5h0M625.7 285.2h0M612.5 272.1h0M675.4 284.2h0M664.2 302.7h0M676.8 314h0M663.3 288.4h0M676.5 275.8h0M685 275.7h0M662.4 315.8h0M645.6 305h0M639.3 271h0M655.4 303.9h0M656.7 278.3h0M676.3 316.2h0M618.7 304.9h0M669.7 310.4h0M670.7 294.6h0M685.2 266.3h0M630.3 309.1h0M629.4 266.9h0M630.6 272.5h0M649 270.1h0M629.5 297.8h0M656.8 280.2h0M642.3 319.3h0M649.6 315.2h0M624.5 271.5h0M613.3 311h0M653.8 276.8h0M628.5 322.6h0M674.2 278.5h0M650.3 291.5h0M658.6 280.1h0M640.4 320.4h0M666.3 287.1h0M650.6 281.7h0M621.1 296.1h0M640 283.9h0M634.3 315.8h0M637.8 279.4h0M674.1 275.2h0M654.4 279.4h0M625.8 305.3h0M668.7 310.1h0M659.3 271.3h0M679.1 298.9h0M612.8 298.9h0M669.8 308.7h0M619.4 311.9h0M658.3 277.7h0M649.5 294h0M620.8 277.8h0M614.2 315.6h0M679 307.2h0M626.1 275h0M661.9 313h0M678.3 305.4h0M614.4 312.5h0M628.9 268.3h0M683.7 315.6h0M648.1 314.5h0M617.4 307.3h0M657.5 285.3h0M624.3 320.9h0M616.2 300.5h0M620.5 325h0M650.4 300.3h0M660.1 272.9h0M676.6 276.3h0M626.4 286.5h0M673.2 283.5h0M682.3 281.7h0M677.4 289.5h0M629.9 305.9h0M641.7 309.1h0M638.2 313.9h0M680.7 281.1h0M631.5 287.2h0M640.4 271.1h0M634.9 292.9h0M678.5 270.5h0M653.5 280.5h0M628.7 268.6h0M675.4 277.4h0M630.6 293.9h0M639 314.6h0M686.7 289.4h0M613.5 317.3h0M631.6 310.3h0M632.8 315.3h0M679.6 280.6h0M660.8 314.3h0M674.6 284.3h0M664.1 311.7h0M659 270.7h0"/><path stroke-width="2" d="M668.2 309.4h0M616.4 288.8h0M667.8 289.4h0M656 302.7h0M685 323.8h0M668.2 277.9h0M645.7 287h0M620.3 292.6h0M644.2 274.4h0M649.7 278.3h0M683 312.7h0M663.2 301.9h0M623.5 276.6h0M633 274.7h0M633.3 270.7h0M677.8 313.2h0M638.7 311.1h0M654.6 281.3h0M612.9 310.1h0M658.8 270.7h0M659.9 283h0M682.1 271.5h0M628 275.2h0M657 297.5h0M614.7 301.9h0M636.4 284.9h0M674 278.7h0M615.5 295.6h0M659.6 268.5h0M647.7 301.6h0M630.2 297.4h0M649.4 268.5h0M655.9 315.7h0M617.2 301.2h0M678.9 309.4h0M682.3 286.8h0M624.9 284.6h0M615.7 274.8h0M642.8 309.8h0M621.8 283.8h0"/></g><g stroke="#E2B474" stroke-linecap="round" fill="none" opacity="0.5"><path stroke-width="1.2" d="M673.8 282.7h0M628.1 302.5h0M631.8 321.5h0"/><path stroke-width="1.6" d="M650.9 324.6h0M643.8 276.2h0M641 321.2h0M675.1 324.9h0M664.5 268.7h0M632.4 286.7h0M683.6 285h0M653.2 299.7h0"/><path stroke-width="2" d="M665.1 318h0M666.5 273.1h0M680 305.8h0M665 291.7h0M654.9 269.3h0M612.9 271.4h0M685.4 303.6h0"/><path stroke-width="2.4" d="M627.2 285.3h0M650.3 286.1h0M674.9 266.8h0M614.3 289.3h0M656.2 325.6h0M655 321.1h0M644.3 294.8h0M633.4 294.6h0"/><path stroke-width="2.8" d="M624.7 297.8h0M646 310.8h0M679.1 315.1h0M680 292.3h0M623.8 315.8h0M677.3 284.9h0M665.5 269.3h0M669.5 313h0M639.8 269.1h0M666.9 290.9h0M637.5 312.5h0M615.1 307h0M669.7 308.9h0M627.5 274.5h0"/></g></g></g><clipPath id="c17"><rect x="399.7" y="324.9" width="70.2" height="56.2"/></clipPath><g clip-path="url(#c17)"><g filter="url(#bl)"><rect x="397.7" y="322.9" width="74.2" height="60.2" fill="#DEDEDA"/><g stroke="#E6E6E2" stroke-linecap="round" fill="none" opacity="0.7"><path stroke-width="1.2" d="M451.5 347.8h0M406 353.5h0M420.6 379.4h0M425 378.5h0M399 334.9h0M415.4 382.8h0M434.4 368.3h0M440.4 327.9h0M463.6 366.6h0M446 368.5h0M411.2 370.8h0M417.5 361.4h0M466.1 338.4h0M407.2 353.5h0M457.5 328.9h0M414.4 343.7h0M430.7 378h0M433.3 361.8h0M409.2 346.5h0M418.6 350.8h0M426.6 355.2h0M444.9 379.6h0M468.1 375.7h0M457.6 352.2h0"/><path stroke-width="1.6" d="M459.7 351.5h0M424.8 338h0M398.8 372.4h0M422.4 380.3h0M434.6 324h0M460.2 340h0M416.2 370.4h0M429.9 339.4h0M470.8 382.2h0M413.3 373.8h0M425.7 376.2h0M469.3 373.2h0M449.7 325.4h0M444 327.6h0M411.9 378.3h0M400.7 365.6h0M470.4 339.3h0M409.5 359.8h0M443.6 367.5h0M402 341.4h0M422.9 366.7h0M442.3 339.9h0M418.1 337.7h0M448.4 362.2h0M399.7 373.4h0M430.5 379.3h0M471.1 363.9h0"/><path stroke-width="2" d="M403 326.8h0M448.7 340.3h0M463.3 353h0M422.3 369.9h0M416.6 328.4h0M405.8 338.7h0M441 328.5h0M458.8 352.4h0M443.6 335.3h0M471.5 323.3h0M422 326.6h0M465.4 376.3h0M461.3 344.6h0M467.8 360.9h0M440.4 334.1h0M401.9 364.2h0M442.5 333.3h0M401.4 361.4h0M446.8 328.9h0M407.3 364h0M437.5 339.1h0M436.8 347.4h0M435.9 325.3h0"/><path stroke-width="2.4" d="M468.8 360.3h0M468 323.2h0M439.8 352.8h0M430 366h0M412.4 332.5h0M435.6 347.3h0M407.5 352.1h0M421.7 338.7h0M467.3 340.5h0M423 331.1h0M454.3 350.9h0M409.4 372h0M418.7 360.8h0M457.7 329.9h0M458.2 351h0M434.3 353h0M418.5 343.3h0M416.7 372h0M424 337.9h0M427.8 371.1h0M424.2 352.1h0M398.5 344.6h0M469.6 347.6h0M411.2 369h0M406.2 337.8h0M415.5 360h0M411.3 378.8h0M423.7 369.9h0M414.8 357.1h0M437 358.8h0"/><path stroke-width="2.8" d="M439.6 360.1h0M405.2 364.2h0M436.6 365.7h0M409.3 369.7h0M411.2 368.5h0M420.9 343.1h0M410.7 334.1h0M404 372.5h0M422.9 341.9h0M459.2 328.4h0M421.1 382.4h0M438 351.9h0M445.9 336.1h0M461.3 350.8h0M402.3 327.7h0M423.4 366.3h0M451.1 342.4h0M404 333.7h0M408 340h0M452.8 358.8h0M469.7 328.1h0M445.8 342.2h0M460.4 382.6h0"/><path stroke-width="3.2" d="M464.7 334.8h0M454.1 333.1h0M403.2 344.7h0M454.8 367.6h0M415.1 326.1h0M433.2 357.9h0M419.1 323.7h0M419.1 324h0M399.6 330.7h0M455.2 340.2h0M465.8 359.2h0M399 364.8h0M450.3 375.6h0"/></g><g stroke="#C6C4BC" stroke-linecap="round" fill="none" opacity="0.55"><path stroke-width="0.8" d="M445.1 347.7h0M456.8 334.1h0M431.9 360h0M422.9 341.1h0M441.6 349.6h0M448.2 365.1h0M466.3 350.7h0M421.3 369.9h0"/><path stroke-width="1.2" d="M440.3 378.4h0M416.9 342.1h0M429.3 328.4h0M406.2 349.1h0M466.8 374.6h0M408.5 365.8h0M431 374.6h0M424.9 331.7h0M443.9 341.4h0M439.5 354.8h0M422.6 374.5h0M399.4 356.1h0M467.8 336.2h0M405.8 373h0M406.8 366.2h0M418.5 345.6h0M433.3 331.8h0M429 355h0M448.8 349.3h0M426.7 366.2h0M468.1 369.1h0M415.8 363h0M414.1 344.9h0M454.8 354.3h0M459.1 325.2h0M457.9 331.6h0M465.8 328.7h0M423 380.8h0M456.6 382.9h0M457.5 348.4h0"/><path stroke-width="1.6" d="M420.9 343.2h0M459.8 328.1h0M446.4 356.1h0M418.7 351h0M402.2 335.1h0M468.9 361.1h0M425.7 352.6h0M405.3 352.9h0M428.1 336.1h0M403 364.9h0M399.2 328.7h0M448.9 328.9h0M461.5 368.7h0M430.7 382.2h0M454.4 351.1h0M402.4 339.9h0M402.5 377.7h0M468.1 382.6h0M402.3 351.7h0M449 334.4h0"/><path stroke-width="2" d="M470.4 355.9h0M430.3 361.7h0M418.9 329.6h0M453.5 359.5h0M432.4 377h0M436.9 334.3h0M442.9 362.8h0M464.1 350.5h0M408.5 349.5h0M446.6 352.2h0M466.8 362.6h0M417.6 371.6h0M430.6 370h0M413.4 332.9h0M445.5 348.5h0M464.1 326.7h0M405.4 336.2h0M446.8 381.7h0M406.6 355.9h0"/><path stroke-width="2.4" d="M459.8 332.6h0M445.2 355.9h0M464.1 342.7h0M401 354.1h0M465.4 330.8h0M415.9 347.1h0M422.3 374.6h0M439.8 335h0M425.8 352.9h0M440 348.6h0M412.3 339.7h0M421.2 369.8h0M399.5 331h0"/></g><g stroke="#7090D2" stroke-linecap="round" fill="none" opacity="0.85"><path stroke-width="2" d="M421.1 327.5h0M432.5 324.5h0M449.1 325.4h0M452 328.2h0M422.3 332.3h0M458.8 332.9h0M400.4 337.4h0M409.8 338.7h0M464.9 339.9h0M457.6 341.2h0M418.9 350.6h0M426.9 349.3h0M442.4 347.2h0M453.1 350.6h0M471.8 347.5h0M435.1 357.1h0M457.8 354.1h0M445 360.6h0M474 360h0M416.4 365h0M440.8 372.3h0M406.6 376.2h0M456.6 379.9h0"/><path stroke-width="2.4" d="M402.5 325.6h0M409.8 327.2h0M440.4 325h0M458.7 324.1h0M468.1 327.4h0M404.8 329.8h0M408.6 330h0M429.4 330h0M437.5 333.8h0M452.2 332.5h0M413.7 338.1h0M419.5 337.7h0M432.2 339.3h0M445.5 337.8h0M404.2 342.6h0M409.8 344.9h0M416.8 345.2h0M424.9 343.8h0M432.9 341.8h0M468.6 344.6h0M416.4 348.9h0M461.6 347.3h0M411 353.7h0M418.4 356.2h0M432.6 353h0M448.4 355.4h0M461.5 352.8h0M468.5 353.4h0M407.3 360.6h0M422.3 358.6h0M429 362.9h0M431.8 360h0M456.1 361.2h0M403 368.2h0M431.2 366.5h0M436.6 364.2h0M452.3 367.3h0M465.5 364.5h0M407.5 369.8h0M413.2 373.8h0M422.4 372.5h0M428.9 374.1h0M432 374.2h0M460.9 370.1h0M409.9 376.5h0M415.2 378.1h0M422.9 377.3h0M431 378.7h0M436.3 378.2h0M445.5 375.5h0M449.8 375.5h0M463.1 376.5h0M408.6 383h0M415.6 382.3h0M426.2 381.5h0M434.4 381.3h0M440.4 383.9h0M447.3 385.4h0M453.8 382.3h0M467.7 385h0M472.4 384.3h0"/><path stroke-width="2.8" d="M415 324h0M427.4 324.7h0M472.9 328.5h0M415.7 331.7h0M444.7 334.1h0M463.9 334.1h0M468.3 332.6h0M429.1 337.4h0M441.3 337.6h0M451.9 337.7h0M458.2 339.6h0M471.9 339.6h0M439.3 341h0M443.7 344.8h0M448.6 341.8h0M461.5 342.3h0M401.7 350.2h0M409.4 351.1h0M435.1 348.4h0M447.7 351h0M466.2 349.6h0M403.1 354.6h0M422.5 354.9h0M445.4 355.5h0M399.7 358.7h0M415.2 360.3h0M439.4 358.7h0M459.9 359h0M465.1 359.5h0M410.5 368.4h0M422.4 364.5h0M441.9 366.3h0M457.3 366.9h0M471.5 365.6h0M402.6 369.8h0M449.5 370.2h0M455.1 372.9h0M467.3 372.6h0M475.7 373.4h0M471 378.7h0M400.6 383.6h0M421 384.1h0M459.1 382.5h0"/></g><g stroke="#5A7CC8" stroke-linecap="round" fill="none" opacity="0.8"><path stroke-width="1.2" d="M470.4 360.5h0M434.3 338.7h0M462.1 332.9h0M445.8 340.8h0M419.2 370.7h0M436.2 370.9h0"/><path stroke-width="1.6" d="M429.5 346.6h0M402.1 349.6h0M447.6 343h0M400.7 323.8h0M454.5 367.9h0M406.9 332.3h0M432.5 363.2h0M468.2 335.5h0M451 336.9h0"/></g><g stroke="#6A4028" stroke-linecap="round" fill="none"><path stroke-width="0.8" d="M430.5 335.6h0M413.5 378h0"/><path stroke-width="1.2" d="M448.1 339.7h0"/></g></g></g><clipPath id="c18"><rect x="471.4" y="324.9" width="70.3" height="56.2"/></clipPath><g clip-path="url(#c18)"><g filter="url(#bl)"><rect x="469.4" y="322.9" width="74.3" height="60.2" fill="#DEDEDA"/><g stroke="#E6E6E2" stroke-linecap="round" fill="none" opacity="0.7"><path stroke-width="1.2" d="M539.6 323.7h0M537.8 352.8h0M472.2 346h0M500.2 380.5h0M484.6 329.5h0M537.2 375.3h0M476.2 326.1h0M493.6 356.4h0M509.8 357.5h0M474.3 371.1h0M472.5 368.7h0M504.1 365.8h0M541.1 340.7h0M517.5 343.6h0M478.8 364.6h0M534 382.8h0M478.5 370.1h0M537.1 360.3h0M491.5 336.5h0M525.2 345.4h0M524.8 337.7h0M490.7 339.1h0M543.7 353.7h0M534.9 337.1h0M511.6 373.8h0M533.2 344.6h0"/><path stroke-width="1.6" d="M495.6 378.3h0M499.8 365.9h0M533.7 332.1h0M501.4 325h0M525.9 367.6h0M481.6 332h0M481 325.8h0M469.6 366.3h0M542.5 366h0M484.4 372.5h0M480.1 350.8h0M515.1 338.8h0M518.6 332.5h0M494.5 372.7h0M494.4 338.8h0M498.2 376.8h0M488.4 374.3h0M530.2 352.5h0M543.1 368.3h0M536 367.5h0M510 371.2h0M499.1 340.7h0M477.8 325h0M525.8 350.7h0M499.7 350.2h0M485.8 361.9h0M503.5 334.5h0"/><path stroke-width="2" d="M483.6 351.2h0M485.3 327.7h0M535.5 371.6h0M513.2 346.7h0M491.5 347.8h0M526.4 354.7h0M498.8 367.7h0M521.3 359.4h0M485.5 356.9h0M516.5 347.2h0M523.1 372.3h0M516 365.5h0M534.9 370.9h0M485.2 338.6h0M530.7 327.6h0M532.7 345h0M483.4 341h0M485.8 355.1h0M503.2 359.3h0M478.5 374.9h0M506.4 363.4h0"/><path stroke-width="2.4" d="M478 335.6h0M509.2 332.5h0M499.7 339.2h0M542.8 360.2h0M473.1 333.5h0M498.3 381.9h0M541.4 381.6h0M499.9 369.2h0M538.6 355.1h0M495.7 335.7h0M477.8 324.9h0M513.8 368.4h0M486.9 359.6h0M519.9 362.2h0M520.3 334.1h0M535.6 349.9h0M528.1 362.5h0M527 367.7h0M494.3 354.8h0M476.5 343.8h0M531.9 323.2h0M510.5 339.2h0M542.4 336.3h0"/><path stroke-width="2.8" d="M507.3 341.5h0M492.3 371.7h0M495.5 380.3h0M471.9 334.1h0M533.2 328h0M479.6 351h0M477.7 381.2h0M472.4 344.5h0M519.3 330.6h0M498.5 333h0M482.8 372.9h0M482.9 378.5h0M520.8 345.3h0M507.7 357.6h0M485 362.9h0M507.4 334.7h0M487.1 325.6h0M537.7 335.4h0M532.3 344.4h0M478.3 352.7h0M509.6 325.1h0M472.2 371.9h0M504.4 342.6h0M520.3 327.8h0M499.3 367.4h0M506.4 325.2h0M516.4 332.8h0M530.9 343.6h0M540.6 357.3h0M523.2 328.7h0M531.9 381.8h0M503.2 352h0M474.3 350.2h0"/><path stroke-width="3.2" d="M542.6 371.9h0M483.1 361.4h0M480.3 343.1h0M472.9 344.6h0M515.5 360.8h0M526.4 372h0M520.9 334h0M485.9 337.2h0M486.6 324.1h0M525.9 353.9h0"/></g><g stroke="#C6C4BC" stroke-linecap="round" fill="none" opacity="0.55"><path stroke-width="0.8" d="M543.6 376.3h0M493.2 336.4h0M532.1 372.9h0M479.8 334.1h0M524.9 352.9h0M542.6 379.4h0M483.9 341.3h0M474.1 340.6h0M503.2 358.4h0"/><path stroke-width="1.2" d="M481.5 350.5h0M532.6 371.8h0M540.4 369.1h0M524.2 355.6h0M512.5 327.6h0M488.4 347.1h0M526.4 349.6h0M532.9 355.7h0M522.4 377.1h0M529.9 329.9h0M489.6 381h0M537.1 338.6h0M478.2 347.1h0M517 339h0M489.1 345.5h0M519.5 347.4h0M518.2 351.3h0M532.3 345.3h0M516.3 381.3h0M533.1 366.6h0M519.9 357.5h0M518 343.5h0M521.4 325h0M538.8 330.5h0"/><path stroke-width="1.6" d="M477.9 380h0M531.2 339.9h0M513.6 379.4h0M518.2 369.3h0M540.7 358.3h0M537.9 351.9h0M507.5 378.8h0M533.9 323.4h0M533.9 349.9h0M484.4 376.1h0M512.1 376.6h0M514.5 325h0M475.8 324.1h0M506.1 360.5h0M534 381.2h0M514.2 354.8h0M521.2 361.3h0M487.3 358.8h0M521.5 370.8h0M491.4 381.9h0M534.5 361.5h0M506.3 372.7h0M473.7 325.7h0M523.4 349.3h0"/><path stroke-width="2" d="M531.4 374.5h0M505.3 332.8h0M529.2 375.9h0M523.2 359.1h0M513.5 375.7h0M516.1 357.2h0M502.7 341.9h0M534.1 363h0M499.9 326.8h0M488.6 378.3h0M470.4 380.1h0M543.1 349.2h0M486.7 375.7h0M519.7 324.6h0M472.9 324.6h0M526.2 343.9h0M479.5 335h0M472.6 377.9h0M490 354.6h0M516.7 326.7h0M526.1 333.9h0M536.5 338.7h0"/><path stroke-width="2.4" d="M496.9 360.1h0M530.7 363.3h0M486.3 379h0M475 369.6h0M475.2 350.6h0M517 340.7h0M517.1 369.6h0M530 377.4h0M494.7 326.6h0M541.9 381.2h0M490.9 342.8h0"/></g><g stroke="#7090D2" stroke-linecap="round" fill="none" opacity="0.85"><path stroke-width="2" d="M497.5 326.8h0M501.7 331.3h0M527.7 333.9h0M535.1 331.1h0M506.7 335.8h0M511.7 336.4h0M531.2 339.4h0M483.9 344.6h0M507 344.4h0M521.9 344.3h0M540.9 344.6h0M477.2 351.2h0M486.9 348.3h0M508.3 355.1h0M514.7 353.9h0M522.7 352.5h0M476.9 359.8h0M484 362.5h0M507.1 362.6h0M510.3 358.8h0M546.9 360.5h0M500.5 367.9h0M479.2 372.8h0M475.4 378.2h0M490.4 376.9h0M522.7 379.4h0M536.8 378.4h0M492.1 382.9h0M501.3 383.4h0M506 384.2h0M536.5 383.5h0"/><path stroke-width="2.4" d="M479.4 324.6h0M487.2 326h0M507.8 324.6h0M510.2 325.6h0M524.7 327.6h0M475.1 330.8h0M491.1 332.3h0M506.9 334.2h0M513.3 329.6h0M540.5 331.8h0M471 336h0M487.6 339.5h0M493.3 335.9h0M476.8 344.8h0M497.3 341.6h0M501.5 341.1h0M528 344.6h0M472.4 348.3h0M497.7 349.3h0M527.4 348.2h0M477.7 355.7h0M526.8 355.3h0M536.9 356h0M472 361h0M490.7 360.2h0M501.1 359.4h0M517.1 360.9h0M534.2 362.5h0M538.4 361.4h0M475.2 368.8h0M483.4 366.4h0M491.4 365.6h0M507.9 367.5h0M515.3 364.3h0M527.9 368.5h0M534.4 366h0M542.4 367.2h0M484.7 373.5h0M505.3 370.7h0M519 372.7h0M544.9 373.3h0M483.6 380.3h0M494.4 375.8h0M503.2 379.3h0M506.7 377.9h0M515.5 378.6h0M530.6 375.7h0M473.5 385h0M487 385.7h0M517.7 385.6h0M525.9 384h0"/><path stroke-width="2.8" d="M472.6 324.8h0M491.4 324.2h0M520.6 324h0M533.6 325.7h0M536.7 326.2h0M545.5 325.5h0M484.5 330.8h0M494.7 332.3h0M523.2 330.2h0M480.9 338.7h0M500.7 336.6h0M519.3 338.9h0M527.6 338.3h0M540.9 335.7h0M546.9 339.6h0M491.3 344.7h0M514.1 344.7h0M537.5 343.8h0M492.2 348.1h0M505.9 350.2h0M511.9 350.2h0M521.3 348.1h0M534.2 347.3h0M538.5 350h0M545.6 349.6h0M480.3 353.4h0M487.7 354.7h0M498.2 352.6h0M500.5 356.8h0M542.9 354.3h0M527.2 362h0M497.4 368h0M520.9 368.3h0M474 371.9h0M492.6 370.7h0M497.8 371.8h0M514.4 370.6h0M527.6 373.6h0M532.5 374.1h0M538.5 372.5h0M541.5 379h0M480 384.1h0M513 384.6h0M533.6 383.1h0M545.2 385.2h0"/></g><g stroke="#5A7CC8" stroke-linecap="round" fill="none" opacity="0.8"><path stroke-width="1.2" d="M513.9 336.1h0M508 361.5h0M532.6 339.2h0M490.3 336h0M486.7 365.3h0M473.2 342.5h0M496.4 352.1h0M504.6 382.2h0M512.4 349.3h0"/><path stroke-width="1.6" d="M529.2 349.2h0M513.5 377.6h0M522.5 334.5h0M507 371.9h0M511.1 367.8h0M517.2 364.3h0"/></g><g stroke="#6A4028" stroke-linecap="round" fill="none"><path stroke-width="0.8" d="M519.4 364.7h0"/><path stroke-width="1.2" d="M500.3 374.1h0M477.2 346.7h0"/></g></g></g><clipPath id="c19"><rect x="542.9" y="324.9" width="70.5" height="56.2"/></clipPath><g clip-path="url(#c19)"><g filter="url(#bl)"><rect x="540.9" y="322.9" width="74.5" height="60.2" fill="#D4D4D4"/><g stroke="#B8B6B4" stroke-linecap="round" fill="none" opacity="0.5"><path stroke-width="1.2" d="M594.1 334.5h0M547.1 335.8h0M588.7 356.3h0M581.8 358.6h0M586.5 348.3h0M614.9 356.8h0M595.3 324.3h0M591.1 352.3h0M564.6 331.1h0M549.3 357.3h0M552.1 367.3h0M553.8 379.8h0M559.4 367.8h0M609 349.2h0M569 350.4h0M548.4 370.6h0M609.8 330.7h0M596.4 361.6h0M541.8 333h0M614.4 331.2h0M541.6 365.1h0M546.2 346.4h0M592.4 346.3h0M563.9 367.1h0M607.7 361.6h0"/><path stroke-width="1.6" d="M574.9 352.7h0M555.9 356.1h0M611.2 330.3h0M585.3 381.1h0M600 375h0M615 326.5h0M545.9 334.8h0M572 323.2h0M609.1 360.2h0M557.6 334.6h0M599.8 327.2h0M614.1 329.2h0M549.6 337.4h0M606.8 338.3h0M549.3 352h0M557.7 354.7h0"/><path stroke-width="2" d="M551 353h0M571.5 333.4h0M573.2 348.1h0M599 357.3h0M589.9 355.7h0M602.8 365.9h0M613.7 340.2h0M583.2 356.5h0M569.3 329.8h0M542.1 367.4h0M602.9 325.8h0M583.9 323.1h0M551.7 372.9h0M553.9 363.7h0M566.9 365h0M542.2 356.9h0M580.2 374.3h0M566.3 344.7h0M584.5 333.5h0M575.6 372.2h0M596.4 374.7h0"/><path stroke-width="2.4" d="M559 329.7h0M582.3 369.9h0M548.1 344.2h0M545.3 323.6h0M586.2 370.3h0M586.1 363h0M596.1 345.2h0M598.6 331.2h0M573.7 362.4h0M585.6 340.6h0M543.4 351h0M602.8 365.7h0M562.3 352.5h0M593.7 348.3h0M560.1 354.5h0M608.6 335.8h0M570.9 350.4h0M602.2 330.3h0M599.5 344h0M544.5 362.2h0M549.3 354h0"/><path stroke-width="2.8" d="M573.8 333.7h0M546 383.1h0M598.3 364.4h0M582.3 373.3h0M614.3 332.2h0M570.5 343.8h0M553.6 361.5h0"/></g><path d="M580.9 351a1 1 0 1 0 2.1 0a1 1 0 1 0 -2.1 0M566.7 343.7a0.9 0.9 0 1 0 1.8 0a0.9 0.9 0 1 0 -1.8 0M591 325.7a1 1 0 1 0 2 0a1 1 0 1 0 -2 0M567.3 353a0.9 0.9 0 1 0 1.9 0a0.9 0.9 0 1 0 -1.9 0M597.8 377.3a1.2 1.2 0 1 0 2.4 0a1.2 1.2 0 1 0 -2.4 0M570.3 363.4a1.1 1.1 0 1 0 2.2 0a1.1 1.1 0 1 0 -2.2 0M586.3 359.7a1.3 1.3 0 1 0 2.5 0a1.3 1.3 0 1 0 -2.5 0M601.9 329.2a1 1 0 1 0 1.9 0a1 1 0 1 0 -1.9 0M587.7 329a1 1 0 1 0 2 0a1 1 0 1 0 -2 0M581.1 345.3a1.5 1.5 0 1 0 3 0a1.5 1.5 0 1 0 -3 0M601 330a1.4 1.4 0 1 0 2.9 0a1.4 1.4 0 1 0 -2.9 0M545.2 341.4a1.2 1.2 0 1 0 2.4 0a1.2 1.2 0 1 0 -2.4 0M572 361.5a1.6 1.6 0 1 0 3.3 0a1.6 1.6 0 1 0 -3.3 0M612.2 368.9a1.3 1.3 0 1 0 2.5 0a1.3 1.3 0 1 0 -2.5 0M586.9 332.5a1.1 1.1 0 1 0 2.1 0a1.1 1.1 0 1 0 -2.1 0M586.6 380.1a1.2 1.2 0 1 0 2.4 0a1.2 1.2 0 1 0 -2.4 0M579.7 348a1.2 1.2 0 1 0 2.5 0a1.2 1.2 0 1 0 -2.5 0M541.3 336.3a1 1 0 1 0 1.9 0a1 1 0 1 0 -1.9 0M614 373.7a0.9 0.9 0 1 0 1.9 0a0.9 0.9 0 1 0 -1.9 0M603.6 339.1a1.2 1.2 0 1 0 2.4 0a1.2 1.2 0 1 0 -2.4 0M565.3 338.4a1.1 1.1 0 1 0 2.3 0a1.1 1.1 0 1 0 -2.3 0M542.6 369.9a1.2 1.2 0 1 0 2.4 0a1.2 1.2 0 1 0 -2.4 0M556.3 341.5a1.6 1.6 0 1 0 3.2 0a1.6 1.6 0 1 0 -3.2 0M608.3 381.1a1 1 0 1 0 2 0a1 1 0 1 0 -2 0M586 368.8a1.1 1.1 0 1 0 2.2 0a1.1 1.1 0 1 0 -2.2 0M590.6 334.7a1.4 1.4 0 1 0 2.9 0a1.4 1.4 0 1 0 -2.9 0M582.5 370.7a1.3 1.3 0 1 0 2.7 0a1.3 1.3 0 1 0 -2.7 0M569.2 330.3a1.4 1.4 0 1 0 2.8 0a1.4 1.4 0 1 0 -2.8 0M586.1 376a1 1 0 1 0 2.1 0a1 1 0 1 0 -2.1 0M601.9 362.4a1.6 1.6 0 1 0 3.2 0a1.6 1.6 0 1 0 -3.2 0M585.4 329.7a1.5 1.5 0 1 0 3 0a1.5 1.5 0 1 0 -3 0M563.6 359.2a1.1 1.1 0 1 0 2.2 0a1.1 1.1 0 1 0 -2.2 0M549.3 375.7a1 1 0 1 0 1.9 0a1 1 0 1 0 -1.9 0M552.6 374.3a1.3 1.3 0 1 0 2.5 0a1.3 1.3 0 1 0 -2.5 0M594 366.2a1.3 1.3 0 1 0 2.6 0a1.3 1.3 0 1 0 -2.6 0M577.7 357.8a1.2 1.2 0 1 0 2.5 0a1.2 1.2 0 1 0 -2.5 0M557.2 343.2a1.3 1.3 0 1 0 2.6 0a1.3 1.3 0 1 0 -2.6 0M613.1 347.2a1.2 1.2 0 1 0 2.4 0a1.2 1.2 0 1 0 -2.4 0M589 361.9a1.7 1.7 0 1 0 3.4 0a1.7 1.7 0 1 0 -3.4 0M580 345.3a1.5 1.5 0 1 0 2.9 0a1.5 1.5 0 1 0 -2.9 0M568.5 377.5a1.4 1.4 0 1 0 2.8 0a1.4 1.4 0 1 0 -2.8 0M599.5 379.6a1 1 0 1 0 1.9 0a1 1 0 1 0 -1.9 0M604.3 344.6a1.3 1.3 0 1 0 2.6 0a1.3 1.3 0 1 0 -2.6 0M596.5 367.7a1.5 1.5 0 1 0 3 0a1.5 1.5 0 1 0 -3 0M599.2 329a2.3 2.3 0 1 0 4.5 0a2.3 2.3 0 1 0 -4.5 0M555 343.6a2.3 2.3 0 1 0 4.6 0a2.3 2.3 0 1 0 -4.6 0M565.4 349.1a3 3 0 1 0 6.1 0a3 3 0 1 0 -6.1 0M602.9 353.6a1.8 1.8 0 1 0 3.7 0a1.8 1.8 0 1 0 -3.7 0M546.1 372.6a2.6 2.6 0 1 0 5.2 0a2.6 2.6 0 1 0 -5.2 0M560.1 369.8a1.9 1.9 0 1 0 3.8 0a1.9 1.9 0 1 0 -3.8 0M600.8 341.5a2.6 2.6 0 1 0 5.2 0a2.6 2.6 0 1 0 -5.2 0" stroke="#A8A8B0" stroke-width="0.5" fill="none" opacity="0.6"/><g stroke="#F6F6F6" stroke-linecap="round" fill="none"><path stroke-width="1.2" d="M567.6 343.7h0M568.3 353h0M602.9 329.2h0M588.6 329h0M557.8 334.4h0M605.8 381.2h0M601 338.4h0M542.2 336.3h0M613.1 333.7h0M614.9 373.7h0M578.2 374.3h0M584.2 358.2h0M591.7 346.7h0M609.3 381.1h0M573.7 341h0M569.6 356.9h0M601.8 347h0M541.2 356.7h0M550.2 375.7h0M551 346.3h0M588.1 381.9h0M543.7 334.9h0M553.7 382h0M600.5 379.6h0"/><path stroke-width="1.6" d="M582 351h0M592 325.7h0M576 361h0M556.4 365.6h0M543.1 333.2h0M571.4 363.4h0M573.3 360.7h0M609.5 372.6h0M588.7 377h0M578.7 343.6h0M588 332.5h0M551.7 361.7h0M587.8 380.1h0M582.2 363.4h0M577.9 377.8h0M604.7 339.1h0M594.2 362.1h0M566.4 338.4h0M543.8 369.9h0M587.3 366.1h0M548.3 330.2h0M557.9 380.7h0M587.1 368.8h0M585.7 381.9h0M587.2 376h0M549.4 352h0M564.7 359.2h0M571.1 335.1h0M555.4 327.1h0M608.3 339.9h0M598.5 335.9h0M614.3 335.6h0M573.2 328.7h0M577.8 330.4h0"/><path stroke-width="2" d="M580.4 379.3h0M602.6 369.6h0M554.7 349h0M599 377.3h0M587.5 359.7h0M609.7 375.6h0M582.9 364.2h0M541.1 327h0M546.4 341.4h0M613.5 368.9h0M580.9 348h0M550 367.2h0M545.9 381.3h0M555.6 339h0M548.8 359.1h0M583.9 370.7h0M610.3 373.1h0M570.6 330.3h0M564.9 350.7h0M553.8 374.3h0M595.3 366.2h0M579 357.8h0M551.2 383h0M558.6 343.2h0M614.3 347.2h0M589.2 325.1h0M544.2 346.2h0M605.6 344.6h0"/><path stroke-width="2.4" d="M555.3 347.3h0M605.5 345.3h0M574.8 366.1h0M552.4 338.5h0M602.3 367.1h0M568.9 368.8h0M582.6 345.3h0M602.4 330h0M563.2 337.1h0M601.8 340.1h0M543.3 354.9h0M557.8 341.5h0M613.5 380.2h0M592 334.7h0M598.9 349h0M586.9 329.7h0M608.6 328.1h0M552.8 338.8h0M583.7 335.1h0M543.6 323.7h0M612.3 382.6h0M575.1 336.2h0M581.5 345.3h0M581.8 353.4h0M569.9 377.5h0M615.2 325h0M598 367.7h0"/><path stroke-width="2.8" d="M601.3 353.4h0M551.9 350.4h0M599.1 355.7h0M614.2 359h0M573.7 361.5h0M586.3 368.4h0M608.7 376.6h0M541.6 372.7h0M591.8 367h0M595.3 367.7h0M542.8 341.8h0M603.5 362.4h0M576.9 376.4h0M582.2 366.7h0M590.7 361.9h0M564.6 323.6h0M558.6 381.8h0"/><path stroke-width="3.2" d="M604.7 353.6h0M562 369.8h0M583.9 369.4h0"/><path stroke-width="3.6" d="M566.8 361h0"/><path stroke-width="4" d="M565.4 336.6h0M601.5 329h0M557.3 343.6h0"/><path stroke-width="4.4" d="M604.2 335.4h0M591.4 349.5h0"/><path stroke-width="4.8" d="M610.2 346.7h0M597.3 332.7h0M577.8 363.2h0M548.7 372.6h0M552.2 369.6h0M591.8 334.5h0M603.4 341.5h0"/><path stroke-width="5.2" d="M604.8 379.6h0M541 354.8h0M594.6 377.8h0"/><path stroke-width="5.6" d="M575.3 347.6h0M568.4 349.1h0M591.5 372.9h0"/></g><g stroke="#4A70C4" stroke-linecap="round" fill="none" opacity="0.9"><path stroke-width="1.6" d="M549.3 360.9h0M591.5 381.9h0M609.3 328.4h0M580.3 340.4h0M573.6 360.9h0M605.7 373.1h0M587.9 338.2h0M589.2 338.1h0M552.5 335h0M545.1 364.3h0M586.8 330.1h0M590.5 343.4h0M614.8 381h0M548.9 366.8h0M579.5 353.7h0M585.4 343.2h0M541.2 377.1h0M583.6 350.1h0M581 348h0M575.8 380.8h0M574.6 351.4h0M585 375.5h0M542 354.1h0M612.7 345.6h0M570.1 327.5h0M607.6 381.8h0"/><path stroke-width="2" d="M551.3 324.4h0M564.2 354h0M560.6 352.2h0M581.6 362h0M545.3 362.3h0M587.2 354h0M602.9 377h0M597.7 330.3h0M557.4 353.6h0M603.5 333h0M549.1 377.3h0M569.1 333.9h0M598 373.6h0M550.1 340.7h0M543.9 333.8h0M603.5 348.3h0M545.5 372.2h0M576.4 372.9h0M576.3 359.2h0M543.5 335.5h0M554 334h0M589.8 371.5h0M582.1 374.9h0M574.5 350.6h0M572.7 340.8h0M589.4 372.8h0M583.1 330.7h0M555.7 335.6h0M584.8 327.5h0M602.2 380.5h0M592.4 329.4h0M549.9 351.4h0M561.4 377.7h0M574.4 343.7h0M582.1 381.7h0M543.6 327.4h0M609.8 354.3h0"/><path stroke-width="2.4" d="M568.2 365.7h0M574.2 377h0M609.9 379.8h0M582.5 328.8h0M542.7 363.5h0M570.4 341.6h0M592.2 376.7h0M554.6 339.2h0M578 354.8h0M568.3 351.9h0M590.2 361.3h0M544.5 348.3h0M554.7 353.9h0M604.3 376.7h0M609 340.8h0M544.7 331.3h0M574.5 349.3h0M570.9 371.4h0M586.6 381h0M557.3 335h0M589.1 374.7h0M555.1 339.3h0M586.1 332.1h0M545.8 345h0M585.6 355.4h0M599.6 333.9h0M608.5 375h0M550.6 350.5h0M600.3 336.6h0M562.9 339.6h0M548.8 374.3h0M590.6 349.4h0"/></g><path d="M563.8 363.5l1.7 0.3M582 375.1l2.2 0.9M588.1 344.4l0.5 -2.2M565.2 379.2l-1.5 -0.3M589.6 338.3l-1 -0.4M544.9 340.4l1.2 -0M608.4 342.9l2.3 0.6M607.3 340.4l-1.2 0.8M547.3 335.3l-3.1 -0.2M611.7 351.2l0.4 1.1M598.3 378.1l-0.5 0.9M582.3 378.3l1.5 -2.6M574.3 364l-0.4 -1.7M596 382.6l2.6 2.1M583 327l0.8 1.2M595.4 347.2l0.9 -2.2M602.6 328.2l-1 1.8M567.1 340.5l1.6 1.6M577.4 360.9l1.1 0.2M542.7 333.2l0.5 3M601.2 345.2l2.3 2M571.9 378.4l-1.7 -0.1M573.3 325.1l0.9 2.4M575.4 333.2l1.4 -0.5M571.9 371.5l-1.3 1.7" stroke="#4A3020" stroke-width="0.7" fill="none" stroke-linecap="round" opacity="0.85"/><g stroke="#4A3020" stroke-linecap="round" fill="none" opacity="0.8"><path stroke-width="0.8" d="M577.6 381.3h0M563.5 351.7h0M610.5 373.8h0M555.7 326.9h0M610.8 339.9h0M572.7 326.5h0"/><path stroke-width="1.2" d="M568.3 377.1h0M606.7 326.3h0M593.3 337.9h0M560.3 369.6h0M590.5 372.1h0"/><path stroke-width="1.6" d="M589.5 350.8h0"/></g></g></g><clipPath id="c20"><rect x="614.5" y="324.9" width="70.5" height="56.2"/></clipPath><g clip-path="url(#c20)"><g filter="url(#bl)"><rect x="612.5" y="322.9" width="74.5" height="60.2" fill="#DCDCDA"/><g stroke="#ECECEC" stroke-linecap="round" fill="none" opacity="0.8"><path stroke-width="0.8" d="M658 325.8h0M624.9 369.8h0M618.4 330h0M613.6 340.9h0M654.8 341.5h0M659.6 334.8h0M678 339.5h0M619.1 375.6h0M646.2 365h0M647.7 341.3h0M637.9 344.8h0M683.3 335.3h0M661.7 368h0M647.8 335.8h0M623.7 370.9h0M636.1 379.2h0M626.5 364.9h0M659.3 336.2h0M651.7 372h0M654 359.1h0M627.8 377.5h0M674.2 362.7h0M639 343.6h0M635.8 358.1h0M632.8 324.7h0M625.4 330.9h0M625.9 333.3h0M645.7 337.9h0M670.7 358.9h0M630.3 350.8h0M653.6 348.4h0M677 342.4h0M623.8 324.2h0"/><path stroke-width="1.2" d="M667.1 359.5h0M666.5 353.5h0M615.4 341.3h0M640.8 371h0M675.7 325h0M661 357.1h0M640.1 325h0M654.2 381h0M649 344.6h0M683.7 368.2h0M649.3 328.7h0M622.5 373.7h0M623 367.8h0M670.7 340.2h0M637.4 338.7h0M635.7 334.5h0M621 381.7h0M625.1 336.6h0M639 380.6h0M661.6 375.3h0M649 338.9h0M685.4 363.9h0M625.4 337.9h0M619.8 377.8h0M616.3 357.2h0M631.4 355.3h0M653.9 349.3h0M625.6 341.3h0M672.6 343.9h0M639.1 348.5h0M656.2 364.7h0M664 332h0M665.8 367.1h0M623.2 333.8h0M629.1 369.9h0M618.9 347.4h0M629.6 342.3h0M652.3 381h0M633.2 372.3h0M670.4 356.9h0M668 353.5h0M616.8 340.5h0M657.8 324.6h0M675.5 357.6h0M656 337h0M646.9 331.3h0M633.1 375.9h0M644.6 365.4h0M616.8 358h0M656.7 324.8h0M618.4 329h0M675.3 338h0M615.8 350.4h0M668.3 377.1h0M625.8 323h0M659.8 339.8h0M624.5 342.5h0M676.3 361.7h0M643.7 365.5h0M677.7 338.2h0M664.7 327.5h0M617.5 344.3h0M630.8 354.9h0M677.5 377.7h0"/><path stroke-width="1.6" d="M673.5 364.5h0M640.4 380.8h0M657.5 337.1h0M658.5 329.8h0M613 323.2h0M631.9 325h0M647.2 350.6h0M673 377.5h0M671.1 326.4h0M624.4 368.8h0M636.6 349.2h0M681.8 366.6h0M612.8 364.4h0M625.6 351.3h0M620.4 343.2h0M660.6 355.6h0M651.2 352.9h0M631.8 345.3h0M678.1 370.5h0M663.5 382.8h0M642.9 371.2h0M626.7 341.2h0M655.4 364h0M656.1 381.7h0M642 375.9h0M666.1 331.3h0M646.9 348.2h0M616.5 336.5h0M636.1 382.1h0M664.5 325.4h0M631.7 357.8h0M675.2 359h0M663.9 337.1h0M620.7 374.9h0M659.2 326.8h0M669.4 374.2h0M686.6 327.3h0M669.7 330.9h0M618 331.4h0M663.5 376.6h0M639.4 381.1h0M644.3 376.9h0M613.1 346.3h0M652.1 382h0M657 333.8h0M683 372.6h0M657.9 370.7h0M621.1 368h0M647.9 342.5h0M667.7 332h0M682.9 359h0M675.6 378.3h0M624.2 368.3h0M634.8 356h0"/><path stroke-width="2" d="M674.8 332.1h0M655.6 375.6h0M619 354h0M673 357.6h0M665 345.4h0M660.8 373.6h0M661.6 379.5h0M626.5 365.5h0M654.9 329h0M666.1 354.5h0M636.6 380.4h0M633.2 346.5h0M668.4 356.5h0M648.3 369.8h0M682 345.6h0M679.4 375h0M677.6 327.2h0M670.4 343.5h0M635.6 347.2h0M643.2 375.3h0M652.2 373.9h0M672.1 335.8h0M661.4 340.1h0M624.9 350.9h0M651.7 381.4h0M671.2 345.2h0M669.9 364.2h0M647.9 359.3h0M653.8 335.4h0M676.9 380.7h0M638.2 367.3h0M650.5 359.6h0M643.1 373.2h0M641.9 344.6h0M629.5 343h0M680.2 323.1h0M648.8 374.6h0M623.8 350.8h0M615.3 379.3h0M657.8 369.4h0M664.6 330.9h0M634.1 332.4h0M639.7 332h0M625.9 331.8h0M665.1 379.9h0M616.4 347.9h0M672.3 329.5h0M626.7 335.8h0M651.6 347.3h0M664.3 339h0M670.6 333.9h0M621.5 350.3h0M667.5 363h0M630.8 349.6h0M647.5 364.9h0M687 372.5h0M642 362.1h0M637.6 357.6h0M643.8 354.6h0M643.6 356.6h0M668.8 327.9h0M653 377h0M626.4 346.7h0M651 330h0M622.9 356.8h0M661.9 373.6h0M618.8 365.8h0M632.2 334.7h0M625.5 328.8h0"/></g><g stroke="#C4C0BA" stroke-linecap="round" fill="none" opacity="0.5"><path stroke-width="0.8" d="M635 348.6h0M628.8 347.1h0M652.4 354.6h0M616.9 349.6h0M632.5 345.8h0M613.2 352.3h0M646.6 337.4h0M629.2 370.2h0M629.4 370.7h0M676.2 377.4h0M665.6 337.3h0M649.1 349.4h0M617 331.6h0M677.9 364h0M625 345.3h0M662.5 323.2h0M666.9 376.4h0M631.5 345.3h0M624 360.8h0M648.8 341.6h0M665.4 376.4h0M639.9 337.9h0M653.2 363.8h0M670.8 372.3h0M686.6 378.1h0M646.3 374.3h0M685.3 370h0M664.5 361.6h0M614.5 323h0M644.2 378.7h0M621.9 376.2h0M678.1 346.1h0M629.2 380.2h0M680.3 363.4h0M649.5 357h0M645.9 328.1h0M654 343.6h0M613.3 341.6h0M625.6 358.8h0M620.8 358.5h0M623.4 340h0"/><path stroke-width="1.2" d="M655.5 331.4h0M612.7 375.1h0M674.6 374.7h0M651.2 342.8h0M665.5 334.3h0M673.5 372.4h0M645.1 380.5h0M672.1 352.1h0M618.4 341.1h0M629.1 352.8h0M623.7 352.5h0M675.3 375.2h0M652.4 367.7h0M630.1 375.2h0M648.1 376.1h0M651.1 366.5h0M635.8 361.3h0M635.2 356.2h0M621.9 379.2h0M680.6 354.2h0M654.5 346.7h0M663.8 342.8h0M668.3 335.8h0M620.1 359.1h0M681 374.7h0M628.5 361.9h0M669.4 370.8h0M630.8 359.4h0"/><path stroke-width="1.6" d="M656.1 347.3h0M676.3 337.1h0M617.7 363h0M619 333.9h0M678.6 331.3h0M648.2 340.3h0M667.8 340.5h0M667.5 337.1h0M668.5 362.5h0M670.6 343.2h0M685.9 353.8h0M662.5 361.5h0M640.2 355.2h0M613.1 341.7h0M641.3 352h0M657.3 355.4h0M670.2 363.6h0M672.9 325.6h0M616.5 378.3h0M668.7 347h0M643.6 334.5h0M636.5 382.3h0M675.5 361.4h0M614.7 373.1h0M682.5 378.5h0M654.7 365.8h0M653.1 324.2h0M624.4 381.1h0M626.9 360.1h0M683.3 382.8h0M621.7 377.9h0"/></g><g stroke="#7C98D6" stroke-linecap="round" fill="none" opacity="0.85"><path stroke-width="1.2" d="M647.9 327.1h0M619.4 330.2h0M633.6 328h0M646.6 330.5h0M658 331.4h0M665.1 328.3h0M624.9 332.2h0M677.7 334.2h0M619.1 343.5h0M647.6 342.2h0M664.1 344.4h0M672 341.9h0M616.1 346.6h0M641.1 348.6h0M681 347.8h0M637.4 356.5h0M673 356.9h0M613.2 358.4h0M621.6 358h0M648.4 361.2h0M683.4 358.4h0M631.4 362.4h0M640 361.9h0M646.8 365.1h0M680 363.8h0M643.3 369.2h0M669.5 366.6h0M618.1 371.7h0M621.5 371.8h0M686.6 373h0M623.3 376h0M620.7 380.2h0M661.8 380.3h0M613.5 386.5h0M620.7 386.8h0M675.6 383.1h0"/><path stroke-width="1.6" d="M615.4 325.3h0M620.1 324.6h0M624.7 323.8h0M631.3 326.8h0M636.3 324.4h0M638 326.5h0M644.8 326.4h0M655.1 327.3h0M660.7 325.1h0M665.4 325.1h0M669.9 326.7h0M673.2 327h0M679.3 325.6h0M688.1 325.8h0M621.1 331.3h0M628.3 328.8h0M638.5 328.5h0M641.6 331h0M651.5 329.6h0M660.3 330.7h0M672.8 329.8h0M676.3 330.8h0M679.2 328.4h0M684.8 327.8h0M615.1 334.7h0M620.4 335.8h0M628.8 334.6h0M634.5 333.7h0M639.3 335.2h0M645.3 332.9h0M654 334.5h0M660.9 332.5h0M664.7 335.1h0M669.7 332.4h0M672.9 334.1h0M682.1 334h0M617.7 340.1h0M623.1 339.9h0M632.5 336.4h0M641.5 338.8h0M647.1 336.8h0M652.9 338.2h0M657.8 338.8h0M666.6 338.9h0M671.2 337.5h0M675 336.7h0M682.1 339.2h0M687.3 339.2h0M616.8 343.9h0M626.4 340.7h0M629.3 344h0M642.8 343.1h0M655.9 343.7h0M660.9 342.6h0M669.9 340.5h0M676.7 342.4h0M682.1 343.4h0M690.4 341.1h0M621 347h0M625.8 345.2h0M633.4 347.8h0M635.7 348.5h0M645.7 347.1h0M651.7 345.5h0M658.2 347.1h0M663.4 345.5h0M664.5 345.7h0M673.1 347.7h0M674.6 345.7h0M686.9 345.2h0M614.3 351.1h0M621.3 352.9h0M624.5 350.6h0M640.5 350.8h0M646.3 349.5h0M650.7 349.9h0M659.1 349h0M663.5 350.4h0M682.8 351h0M689 350.7h0M617.8 356.3h0M621.9 353.5h0M632.8 355.3h0M642.3 356.8h0M653.6 354.1h0M658.2 356h0M661.5 356.5h0M666.8 355.8h0M677.7 353.5h0M681.3 355.1h0M685.3 353.7h0M626.7 357.8h0M629.6 360.5h0M636.1 358.3h0M638.4 358.4h0M655.6 359.8h0M658.3 360.5h0M662.1 357.9h0M667.1 358.9h0M673.2 358.7h0M677.4 359.1h0M686.6 360.3h0M618 364.8h0M623.8 363.3h0M628.4 362.3h0M652.7 364h0M656.6 362.6h0M661.6 362.7h0M664.5 364h0M672 363.5h0M620.6 367.3h0M626.4 366.2h0M629.9 367.2h0M650 367.4h0M653.7 366.2h0M659.1 367h0M662.4 369.1h0M675 368.9h0M678.7 368.2h0M684 368h0M687 366.8h0M627.2 372h0M636.6 372.2h0M643.1 372.1h0M645.2 373.8h0M652.4 372.1h0M655.5 371.2h0M662.2 372.2h0M669.7 370.5h0M678 373.9h0M616.1 377.5h0M619 378.4h0M629.2 376.2h0M635 375.7h0M640.9 376.8h0M645 375.4h0M647.3 378.2h0M652.7 376.5h0M658.7 377h0M663.8 378h0M670.1 378h0M674.7 378.2h0M676.8 378.3h0M683.9 377.1h0M687.2 377h0M625.6 381.7h0M630.9 379.1h0M638.9 382.5h0M640.4 381.3h0M646.4 379.9h0M649.8 382.1h0M658.5 382h0M667.3 382.3h0M685.6 379.6h0M623 385.2h0M631.3 386.1h0M635.5 386.1h0M640.1 385h0M643.4 385.9h0M651.1 384.6h0M653.8 383.8h0M658.8 385.8h0M669.5 385h0M679 385.3h0M685.4 384.9h0"/><path stroke-width="2" d="M684.3 325.3h0M648.8 334.4h0M688.7 333.6h0M628.3 336.3h0M636.3 336.6h0M660.2 337.1h0M636.3 342.3h0M640 340.5h0M628.9 349.2h0M632.6 350.2h0M652.9 349.6h0M668.3 351.5h0M675.6 351.2h0M678.4 350.9h0M628.8 356.1h0M646.4 355.6h0M643.6 357.9h0M638.7 363.3h0M676.8 364.2h0M687.4 362.8h0M613.2 366.6h0M635.9 367.8h0M638.2 368h0M631.4 371.2h0M665.5 370.4h0M679.2 372.7h0M617.7 381.1h0M672.7 379.4h0M677.6 380.2h0M681.8 382.5h0M662.9 384.6h0M688.1 385.1h0"/></g><path d="M612.5 331.3l1.4 0.7M633.1 377.8l-1.3 0.9M652.9 346.2l1 -0.8M656.1 348.8l-1.9 -1.7M650.5 350.7l2.6 -0.5M650.5 350.2l2.1 -1.9M677 361.9l-1.1 -2.3M657.7 324.4l2.5 -0.7M671.7 331.4l-2.8 -0.6M643.8 362.2l-0.6 -2.4M686.4 324.5l-0.9 0.9M666.5 341.3l-1.5 -0.3M667.1 375.1l-0.4 -1.1M627.8 369.2l-1.1 -0.3M661.6 323.7l-1.6 -1.6M651.9 331.6l0.9 1.7" stroke="#8A6040" stroke-width="0.5" fill="none" stroke-linecap="round" opacity="0.6"/><g stroke="#7A5030" stroke-linecap="round" fill="none" opacity="0.8"><path stroke-width="0.8" d="M616.2 344.4h0M617.1 343.1h0M625.1 374.1h0M683.6 352.4h0M626 331.6h0M614.7 328.4h0M677.8 355.5h0M665.5 352.8h0M613.9 376.5h0M651.1 360.5h0M683.8 361.3h0M641.8 332.3h0"/></g></g></g><rect x="662.7" y="148.6" width="19.2" height="1.7" fill="#000"/><rect x="662.7" y="205.1" width="19.2" height="1.7" fill="#000"/><rect x="662.7" y="262.6" width="19.2" height="1.7" fill="#000"/><rect x="662.7" y="319.3" width="19.2" height="1.7" fill="#000"/><rect x="662.7" y="376.5" width="19.2" height="1.7" fill="#000"/><text x="434.7" y="96" font-size="5.9" text-anchor="middle" fill="#222" color="#222">DUSP22<tspan dy="-2.24" font-size="3.66">HepRosa</tspan><tspan dy="2.24">/NCD</tspan></text><text x="506.8" y="96" font-size="5.85" text-anchor="middle" fill="#222" color="#222">DUSP22<tspan dy="-2.22" font-size="3.63">HepOE</tspan><tspan dy="2.22">/NCD</tspan></text><text x="576.2" y="96" font-size="5.7" text-anchor="middle" fill="#222" color="#222">DUSP22<tspan dy="-2.17" font-size="3.53">HepRosa</tspan><tspan dy="2.17">/HFHC</tspan></text><text x="647.3" y="96" font-size="5.65" text-anchor="middle" fill="#222" color="#222">DUSP22<tspan dy="-2.15" font-size="3.5">HepOE</tspan><tspan dy="2.15">/HFHC</tspan></text><text x="388.6" y="96" font-size="8.8" font-weight="bold" fill="#111" color="#111">i</text><text x="398.2" y="126.5" font-size="6" text-anchor="middle" fill="#222" color="#222" transform="rotate(-90 398.2 126.5)">H&amp;E</text><text x="398.2" y="179.3" font-size="5.7" text-anchor="middle" fill="#222" color="#222" transform="rotate(-90 398.2 179.3)">Oil Red O</text><text x="398.2" y="234.2" font-size="5.7" text-anchor="middle" fill="#222" color="#222" transform="rotate(-90 398.2 234.2)">Masson trichrome</text><text x="398.2" y="295.3" font-size="5.7" text-anchor="middle" fill="#222" color="#222" transform="rotate(-90 398.2 295.3)">Sirius red</text><text x="398.2" y="352.2" font-size="5.7" text-anchor="middle" fill="#222" color="#222" transform="rotate(-90 398.2 352.2)">CD11b</text></svg></body></html>
